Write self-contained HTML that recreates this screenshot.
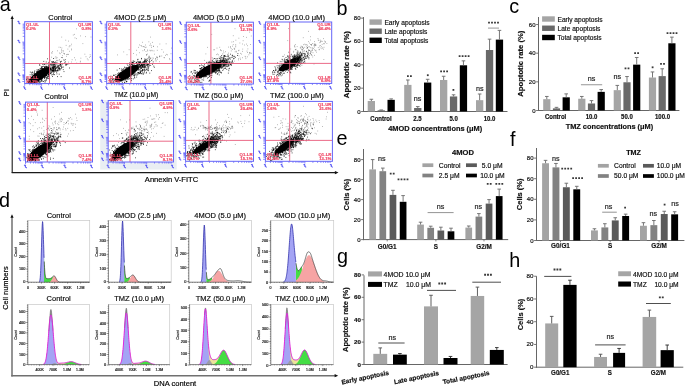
<!DOCTYPE html>
<html><head><meta charset="utf-8"><title>Figure</title>
<style>html,body{margin:0;padding:0;background:#fff;overflow:hidden}svg{display:block;will-change:transform}text{font-family:"Liberation Sans", sans-serif}</style>
</head><body>
<svg width="685" height="386" viewBox="0 0 685 386" font-family='"Liberation Sans", sans-serif'>
<rect width="685" height="386" fill="#fff"/>
<line x1="12.2" y1="17.5" x2="12.2" y2="173" stroke="#1a1a1a" stroke-width="1.1"/>
<path d="M12.2 15.5L10.6 19.1L13.8 19.1z" fill="#111"/>
<line x1="11.7" y1="172.6" x2="336.5" y2="172.6" stroke="#1a1a1a" stroke-width="1.1"/>
<path d="M338.5 172.6L334.9 171L334.9 174.2z" fill="#111"/>
<text x="8.9" y="92.8" font-size="7.8" text-anchor="middle" fill="#000" stroke="#000" stroke-width="0.18" transform="rotate(-90 8.9 92.8)">PI</text>
<text x="171.5" y="181.9" font-size="7.55" text-anchor="middle" fill="#000" stroke="#000" stroke-width="0.18">Annexin V-FITC</text>
<rect x="24.7" y="21.7" width="67.7" height="61.9" fill="#fff"/>
<clipPath id="cp11"><rect x="24.7" y="21.7" width="67.7" height="61.9"/></clipPath>
<ellipse cx="39.5" cy="75.5" rx="13.5" ry="4.4" transform="rotate(-35 39.5 75.5)" fill="#000" clip-path="url(#cp11)"/>
<path d="M44.4 80.7h0.8M47.8 63.6h0.8M53.0 73.2h0.8M34.7 75.9h0.8M36.7 75.3h0.8M35.6 77.4h0.8M41.7 68.0h0.8M42.0 78.8h0.8M46.7 72.3h0.8M51.7 65.7h0.8M36.4 71.4h0.8M44.6 70.4h0.8M40.7 78.3h0.8M33.8 72.4h0.8M42.8 71.3h0.8M46.7 70.9h0.8M40.4 78.9h0.8M41.4 79.5h0.8M44.5 70.0h0.8M31.8 77.7h0.8M42.4 71.9h0.8M34.2 77.8h0.8M36.9 78.3h0.8M30.4 81.0h0.8M36.7 69.7h0.8M46.9 70.1h0.8M36.2 73.4h0.8M44.4 74.8h0.8M45.8 71.5h0.8M37.3 76.1h0.8M39.5 65.2h0.8M49.5 71.2h0.8M41.5 80.5h0.8M32.3 77.5h0.8M44.0 75.0h0.8M43.3 75.6h0.8M45.6 64.8h0.8M37.4 82.3h0.8M33.9 80.2h0.8M42.5 76.4h0.8M41.2 68.0h0.8M34.4 79.3h0.8M52.8 70.3h0.8M44.0 67.2h0.8M46.8 74.3h0.8M42.3 71.7h0.8M43.5 64.2h0.8M29.4 82.0h0.8M42.9 69.0h0.8M45.3 72.6h0.8M44.7 75.9h0.8M36.7 74.4h0.8M46.8 71.7h0.8M35.5 75.8h0.8M39.2 74.2h0.8M44.9 76.4h0.8M33.6 80.4h0.8M43.9 70.7h0.8M36.8 72.2h0.8M46.0 75.5h0.8M37.3 79.8h0.8M47.8 68.2h0.8M45.2 72.4h0.8M36.7 73.2h0.8M43.0 68.8h0.8M48.2 65.9h0.8M54.6 66.2h0.8M45.5 68.2h0.8M45.0 74.5h0.8M40.8 77.6h0.8M32.5 81.0h0.8M51.7 71.0h0.8M29.6 81.1h0.8M44.2 71.6h0.8M51.0 69.2h0.8M39.1 78.8h0.8M27.4 78.7h0.8M44.6 77.5h0.8M50.3 64.6h0.8M55.4 63.5h0.8M36.7 79.8h0.8M47.9 74.6h0.8M54.3 69.3h0.8M44.9 75.0h0.8M31.2 74.9h0.8M40.8 71.3h0.8M39.0 73.8h0.8M36.6 73.6h0.8M36.4 82.0h0.8M43.4 73.4h0.8M42.3 73.3h0.8M40.2 76.8h0.8M36.5 73.6h0.8M28.3 79.5h0.8M34.5 75.3h0.8M50.3 69.8h0.8M39.2 77.0h0.8M52.4 70.6h0.8M41.6 68.4h0.8M55.3 62.0h0.8M40.8 75.1h0.8M33.9 73.9h0.8M27.7 81.4h0.8M52.2 70.5h0.8M62.1 64.0h0.8M35.6 82.4h0.8M35.0 78.6h0.8M44.2 71.2h0.8M35.6 82.4h0.8M37.2 75.5h0.8M37.9 77.8h0.8M44.0 77.5h0.8M47.8 68.0h0.8M39.0 73.2h0.8M47.1 70.0h0.8M37.9 78.9h0.8M43.5 74.5h0.8M43.2 66.3h0.8M33.8 75.9h0.8M44.8 72.3h0.8M42.5 69.5h0.8M47.8 64.2h0.8M44.0 67.3h0.8M46.2 67.0h0.8M38.8 75.1h0.8M32.6 76.0h0.8M34.8 79.6h0.8M39.4 82.2h0.8M30.9 80.8h0.8M38.2 81.4h0.8M39.8 76.3h0.8M39.8 70.6h0.8M36.9 76.2h0.8M40.9 77.5h0.8M39.6 70.7h0.8M50.9 72.7h0.8M45.6 73.4h0.8M31.2 73.0h0.8M35.9 81.1h0.8M58.6 68.2h0.8M44.4 68.7h0.8M56.1 67.7h0.8M53.2 58.5h0.8M34.1 80.1h0.8M39.9 68.4h0.8M44.5 73.8h0.8M41.0 67.1h0.8M39.2 64.9h0.8M42.3 75.0h0.8M45.7 80.2h0.8M27.2 81.6h0.8M40.3 78.1h0.8M34.4 79.4h0.8M40.4 73.4h0.8M37.5 79.2h0.8M47.9 76.1h0.8M44.0 67.2h0.8M43.5 74.8h0.8M43.1 74.2h0.8M38.0 70.6h0.8M39.6 81.8h0.8M42.4 81.2h0.8M34.3 75.1h0.8M46.3 77.6h0.8M40.2 75.1h0.8M44.2 71.4h0.8M47.3 70.8h0.8M34.7 80.0h0.8M40.9 79.6h0.8M37.3 80.5h0.8M39.6 69.6h0.8M32.6 73.9h0.8M31.7 77.1h0.8M50.5 68.3h0.8M38.3 71.9h0.8M30.6 80.9h0.8M37.6 71.5h0.8M52.0 62.5h0.8M43.4 71.9h0.8M46.5 75.3h0.8M26.0 79.1h0.8M42.3 73.3h0.8M47.4 69.0h0.8M44.6 73.9h0.8M42.9 74.9h0.8M46.5 68.6h0.8M41.7 74.8h0.8M41.9 72.2h0.8M39.9 77.0h0.8M44.7 71.3h0.8M31.4 78.4h0.8M46.1 70.6h0.8M36.8 78.7h0.8M41.9 71.7h0.8M53.8 66.6h0.8M50.3 73.7h0.8M32.1 72.2h0.8M42.1 66.5h0.8M34.2 74.3h0.8M38.8 75.4h0.8M45.3 81.1h0.8M43.8 77.2h0.8M31.6 80.0h0.8M29.9 72.1h0.8M33.0 80.6h0.8M44.0 67.0h0.8M55.1 68.9h0.8M36.9 71.0h0.8M50.6 72.1h0.8M40.7 80.4h0.8M39.1 71.2h0.8M45.1 74.9h0.8M34.6 74.4h0.8M44.0 75.7h0.8M42.2 68.6h0.8M34.8 81.9h0.8M37.5 75.0h0.8M36.7 73.7h0.8M37.7 77.6h0.8M44.1 64.5h0.8M52.9 64.9h0.8M36.0 76.2h0.8M46.7 73.0h0.8M44.9 66.5h0.8M48.8 75.7h0.8M47.6 68.5h0.8M34.8 74.0h0.8M48.4 74.7h0.8M58.9 68.5h0.8M45.9 70.1h0.8M33.5 76.0h0.8M44.8 71.7h0.8M48.5 66.3h0.8M42.3 72.1h0.8M38.6 82.3h0.8M52.7 67.7h0.8M30.5 82.2h0.8M44.6 73.2h0.8M39.8 74.9h0.8M51.2 70.7h0.8M42.0 72.1h0.8M31.1 81.6h0.8M49.3 78.2h0.8M37.4 78.5h0.8M42.1 73.6h0.8M42.9 68.6h0.8M42.6 75.9h0.8M38.6 72.3h0.8M42.7 71.1h0.8M39.0 77.0h0.8M48.9 68.2h0.8M39.7 72.1h0.8M41.2 71.9h0.8M43.1 70.4h0.8M33.1 76.9h0.8M50.8 65.1h0.8M46.5 78.7h0.8M36.8 75.0h0.8M45.5 77.2h0.8M38.7 81.2h0.8M41.9 73.1h0.8M32.1 74.8h0.8M43.0 74.7h0.8M52.2 70.4h0.8M36.1 78.0h0.8M40.9 80.0h0.8M35.1 74.2h0.8M43.9 78.0h0.8M31.4 81.7h0.8M42.0 71.3h0.8M67.6 54.4h0.8M44.5 75.8h0.8M34.2 71.9h0.8M41.7 74.2h0.8M30.7 80.8h0.8M42.6 71.1h0.8M36.9 71.3h0.8M54.4 68.4h0.8M32.7 76.3h0.8M40.7 73.0h0.8M61.5 57.5h0.8M32.7 77.2h0.8M34.4 81.9h0.8M40.5 76.2h0.8M38.4 73.4h0.8M44.8 67.8h0.8M40.1 73.0h0.8M35.9 81.7h0.8M41.9 74.2h0.8M61.0 61.3h0.8M49.3 67.2h0.8M39.3 76.4h0.8M29.7 74.8h0.8M47.9 76.0h0.8M37.2 73.8h0.8M54.0 62.9h0.8M49.8 73.5h0.8M47.4 70.7h0.8M41.5 74.1h0.8M38.6 73.6h0.8M39.7 68.9h0.8M50.4 68.4h0.8M46.4 75.3h0.8M35.6 74.5h0.8M52.5 71.7h0.8M39.4 70.9h0.8M38.0 73.4h0.8M34.8 80.7h0.8M35.6 78.1h0.8M36.4 80.3h0.8M46.0 66.7h0.8M40.9 66.9h0.8M36.1 72.9h0.8M46.1 66.4h0.8M40.7 68.8h0.8M43.5 73.8h0.8M34.4 70.9h0.8M48.8 78.8h0.8M50.9 64.0h0.8M51.9 61.6h0.8M53.4 70.6h0.8M41.6 67.9h0.8M38.3 72.1h0.8M49.6 72.8h0.8M38.4 74.8h0.8M40.2 71.6h0.8M45.8 75.8h0.8M33.9 73.7h0.8M42.0 72.1h0.8M41.0 68.8h0.8M43.2 81.5h0.8M45.9 78.2h0.8M41.7 77.6h0.8M45.7 70.5h0.8M45.2 74.0h0.8M31.8 72.3h0.8M35.9 79.0h0.8M51.0 61.9h0.8M36.7 72.0h0.8M46.4 67.7h0.8M42.4 71.9h0.8M36.7 79.6h0.8M35.5 81.0h0.8M41.4 75.1h0.8M40.2 71.0h0.8M46.1 73.5h0.8M29.9 81.6h0.8M37.6 81.4h0.8M37.5 73.0h0.8M47.2 58.8h0.8M47.5 78.4h0.8M36.7 79.2h0.8M43.0 72.1h0.8M37.8 80.1h0.8M43.8 74.4h0.8M53.0 67.7h0.8M41.8 71.7h0.8M43.5 72.8h0.8M43.3 73.5h0.8M32.9 77.4h0.8M42.1 69.0h0.8M38.6 76.5h0.8M35.5 82.0h0.8M40.9 77.0h0.8M39.2 77.6h0.8M46.8 72.3h0.8M44.6 82.2h0.8M36.4 78.6h0.8M53.3 69.9h0.8M51.4 74.9h0.8M50.0 68.2h0.8M45.2 72.4h0.8M41.1 78.4h0.8M39.9 81.8h0.8M38.4 77.4h0.8M48.1 70.8h0.8M41.0 74.6h0.8M26.2 79.8h0.8M41.8 78.2h0.8M28.5 82.0h0.8M38.0 69.5h0.8M30.4 81.2h0.8M26.9 77.2h0.8M39.0 71.6h0.8M39.4 75.5h0.8M47.9 73.8h0.8M45.8 74.2h0.8M54.1 67.5h0.8M57.4 70.5h0.8M60.7 64.8h0.8M57.9 66.3h0.8M54.6 69.1h0.8M53.5 68.7h0.8M52.1 67.7h0.8M56.6 60.4h0.8M52.2 76.5h0.8M53.5 62.6h0.8M52.0 68.1h0.8M55.3 70.4h0.8M52.2 70.8h0.8M65.5 65.4h0.8M50.6 73.1h0.8M56.3 72.3h0.8M55.0 69.2h0.8M60.7 76.6h0.8M54.0 64.6h0.8M55.7 68.6h0.8M57.9 65.3h0.8M44.1 71.1h0.8M53.5 69.9h0.8M48.5 76.7h0.8M53.3 66.1h0.8M45.6 69.7h0.8M48.9 73.7h0.8M53.5 70.8h0.8M63.6 71.6h0.8M57.7 70.8h0.8M55.0 68.9h0.8M60.2 64.4h0.8M48.2 72.0h0.8M41.4 73.7h0.8M48.7 65.7h0.8M51.6 69.7h0.8M59.5 65.3h0.8M64.4 62.8h0.8M45.2 71.0h0.8M69.0 68.0h0.8M62.6 67.2h0.8M59.0 69.8h0.8M54.2 66.1h0.8M64.8 59.6h0.8M53.1 67.9h0.8M50.9 70.9h0.8M53.3 67.5h0.8M45.4 71.8h0.8M57.1 70.8h0.8M52.9 70.2h0.8M53.4 65.0h0.8M54.4 66.7h0.8M46.3 69.6h0.8M60.5 66.2h0.8M45.8 67.8h0.8M57.6 66.1h0.8M45.4 75.2h0.8M55.1 68.1h0.8M47.3 68.1h0.8M52.4 66.9h0.8M49.7 71.0h0.8M41.9 76.0h0.8M48.3 74.4h0.8M53.2 68.3h0.8M54.5 63.2h0.8M47.2 77.2h0.8M42.0 75.3h0.8M48.9 72.5h0.8M52.4 70.5h0.8M48.1 67.3h0.8M48.2 70.0h0.8M58.1 67.6h0.8M59.9 69.8h0.8M57.2 67.3h0.8M43.4 61.4h0.8M53.1 68.0h0.8M52.6 70.6h0.8M47.2 76.7h0.8M58.9 69.0h0.8M57.2 76.6h0.8M52.6 74.7h0.8M62.8 69.6h0.8M58.6 70.0h0.8M55.7 62.4h0.8M60.9 68.6h0.8M57.9 69.0h0.8M45.4 70.5h0.8M51.8 71.8h0.8M59.2 67.7h0.8M48.2 69.4h0.8M53.1 68.5h0.8M54.9 67.1h0.8M61.3 66.0h0.8M59.5 64.3h0.8M58.8 68.4h0.8M49.2 63.4h0.8M57.6 65.8h0.8M53.5 62.3h0.8M51.5 67.8h0.8M61.2 67.2h0.8M55.8 67.8h0.8M48.8 70.5h0.8M60.1 66.0h0.8M54.0 74.6h0.8M54.7 64.0h0.8M46.1 75.6h0.8M50.7 64.2h0.8M47.2 69.9h0.8M48.0 72.0h0.8M41.4 71.1h0.8M65.0 64.2h0.8M53.3 71.7h0.8M52.6 64.6h0.8M59.0 65.9h0.8M51.8 68.1h0.8M53.0 61.5h0.8M45.4 71.8h0.8M52.9 65.9h0.8M52.8 74.3h0.8M54.5 64.9h0.8M56.5 73.9h0.8M44.7 70.8h0.8M45.8 79.8h0.8M48.3 73.3h0.8M57.7 68.5h0.8M56.5 70.5h0.8M56.6 70.8h0.8M44.1 78.6h0.8M41.0 81.3h0.8M49.1 69.5h0.8M49.4 65.9h0.8M45.8 62.0h0.8M54.4 66.9h0.8M53.2 71.8h0.8M47.1 73.2h0.8M48.4 71.6h0.8M53.3 67.5h0.8M52.5 66.8h0.8M52.2 68.3h0.8M65.9 64.5h0.8M49.0 64.1h0.8M54.8 71.0h0.8M45.4 66.9h0.8M50.8 69.4h0.8M54.9 65.7h0.8M55.6 66.4h0.8M50.6 66.1h0.8M53.4 64.3h0.8M53.0 68.1h0.8M41.2 70.3h0.8M64.9 61.8h0.8M56.5 64.8h0.8M51.9 67.4h0.8M42.0 70.0h0.8M42.4 64.4h0.8M60.0 64.7h0.8M38.3 77.0h0.8M49.0 65.0h0.8M57.7 66.8h0.8M52.0 64.8h0.8M57.0 66.9h0.8M52.8 70.4h0.8M66.7 64.4h0.8M48.0 73.0h0.8M44.5 70.2h0.8M55.8 71.1h0.8M60.1 63.9h0.8M53.2 70.2h0.8M59.7 68.5h0.8M49.7 69.4h0.8M44.6 67.9h0.8M61.5 67.4h0.8M59.9 61.5h0.8M60.0 62.3h0.8M49.0 66.6h0.8M48.0 74.6h0.8M46.4 71.4h0.8M48.4 62.4h0.8M57.2 69.8h0.8M58.8 74.2h0.8M47.8 78.3h0.8M53.2 66.7h0.8M53.2 69.2h0.8M54.2 70.4h0.8M54.2 71.9h0.8M51.9 69.6h0.8M54.6 64.0h0.8M54.8 71.0h0.8M55.1 70.3h0.8M47.3 66.5h0.8M54.6 66.8h0.8M52.7 70.1h0.8M41.5 74.3h0.8" stroke="#000" stroke-width="0.8" fill="none"/>
<path d="M71.2 49.9h0.6M68.0 41.1h0.6M68.8 46.8h0.6M66.4 56.3h0.6M50.3 60.1h0.6M69.1 45.8h0.6M74.7 37.9h0.6M76.1 28.8h0.6M63.3 51.0h0.6M66.2 54.5h0.6M76.1 38.6h0.6M72.9 35.0h0.6M67.6 49.1h0.6M70.6 45.8h0.6M59.1 59.6h0.6M71.3 49.0h0.6M55.6 56.7h0.6M63.4 53.3h0.6M58.7 47.2h0.6M62.0 57.7h0.6M44.8 67.8h0.6M58.7 60.3h0.6M69.3 51.3h0.6M62.6 50.8h0.6M59.9 53.7h0.6M65.8 45.4h0.6M65.5 40.2h0.6M71.3 44.2h0.6M56.8 57.7h0.6M61.6 48.0h0.6M62.3 55.6h0.6M56.0 58.1h0.6M51.1 63.8h0.6M61.2 49.8h0.6M51.8 53.1h0.6M85.4 36.6h0.6M64.3 53.5h0.6M61.5 52.5h0.6M59.2 53.0h0.6M80.4 35.9h0.6M54.8 58.0h0.6M61.2 51.0h0.6M52.2 51.6h0.6M64.4 54.1h0.6M60.1 47.4h0.6M68.5 64.2h0.6M68.3 62.1h0.6M74.2 57.7h0.6M52.4 63.4h0.6M85.7 56.7h0.6M80.0 61.2h0.6M80.6 58.2h0.6M86.9 58.8h0.6M63.4 66.9h0.6M36.0 72.9h0.6M76.5 63.1h0.6M87.8 59.9h0.6M84.6 54.2h0.6M66.3 65.2h0.6M71.0 62.0h0.6M75.2 59.9h0.6M50.3 64.0h0.6M63.3 59.6h0.6M63.9 60.5h0.6M90.4 56.4h0.6M63.7 60.4h0.6M89.8 54.7h0.6M71.8 59.7h0.6M52.8 67.3h0.6M60.6 63.5h0.6M79.9 62.0h0.6M66.1 63.8h0.6M57.1 62.3h0.6M51.2 57.2h0.6M51.2 52.9h0.6M61.5 37.1h0.6M57.0 50.8h0.6M90.7 37.0h0.6M82.6 43.6h0.6M89.4 57.3h0.6M74.4 34.4h0.6" stroke="#444" stroke-width="0.6" fill="none"/>
<line x1="49.5" y1="21.7" x2="49.5" y2="83.6" stroke="#e85a7a" stroke-width="0.9"/>
<line x1="24.7" y1="63.5" x2="92.4" y2="63.5" stroke="#e85a7a" stroke-width="0.9"/>
<rect x="24.7" y="21.7" width="67.7" height="61.9" fill="none" stroke="#6464f8" stroke-width="1"/>
<path d="M22.3 81.5h2.4M22.7 79.5h2M22.7 78.4h2M22.7 77.5h2M22.7 76.9h2M22.7 76.4h2M22.7 76.0h2M22.7 75.6h2M22.7 75.2h2M22.3 74.9h2.4M22.7 70.1h2M22.7 67.3h2M22.7 65.2h2M22.7 63.7h2M22.7 62.4h2M22.7 61.3h2M22.7 60.4h2M22.7 59.6h2M22.3 58.8h2.4M22.7 53.8h2M22.7 50.9h2M22.7 48.8h2M22.7 47.2h2M22.7 45.8h2M22.7 44.7h2M22.7 43.7h2M22.7 42.9h2M22.3 42.1h2.4M22.7 36.4h2M22.7 33.1h2M22.7 30.7h2M22.7 28.9h2M22.7 27.4h2M22.7 26.1h2M22.7 25.0h2M22.7 24.1h2M24.7 83.6v2.2M29.8 83.6v1.6M32.8 83.6v1.6M34.9 83.6v1.6M36.5 83.6v1.6M37.9 83.6v1.6M39.0 83.6v1.6M40.0 83.6v1.6M40.9 83.6v1.6M41.6 83.6v2.2M48.6 83.6v1.6M52.6 83.6v1.6M55.5 83.6v1.6M57.7 83.6v1.6M59.5 83.6v1.6M61.1 83.6v1.6M62.4 83.6v1.6M63.6 83.6v1.6M64.6 83.6v2.2M72.7 83.6v1.6M77.4 83.6v1.6M80.7 83.6v1.6M83.3 83.6v1.6M85.5 83.6v1.6M87.2 83.6v1.6M88.8 83.6v1.6M90.2 83.6v1.6" stroke="#6464f8" stroke-width=".7" fill="none"/>
<path d="M17.5 79.9l1 -.3l.6 .8l-.4 .9l1.6 1.2M17.5 73.3l1 -.3l.6 .8l-.4 .9l1.6 1.2M17.5 57.2l1 -.3l.6 .8l-.4 .9l1.6 1.2M17.5 40.5l1 -.3l.6 .8l-.4 .9l1.6 1.2M17.5 21.6l1 -.3l.6 .8l-.4 .9l1.6 1.2M23.2 87.0l1 -.3l.6 .8l-.4 .9l1.6 1.2M40.1 87.0l1 -.3l.6 .8l-.4 .9l1.6 1.2M63.1 87.0l1 -.3l.6 .8l-.4 .9l1.6 1.2M89.9 87.0l1 -.3l.6 .8l-.4 .9l1.6 1.2" stroke="#5a5af5" stroke-width="1.05" fill="none" stroke-linejoin="round"/>
<text x="26" y="26" font-size="4.3" text-anchor="start" fill="#f04a68" font-weight="bold" stroke="#f04a68" stroke-width="0.18">Q1-UL</text>
<text x="26" y="30.1" font-size="4.3" text-anchor="start" fill="#f04a68" font-weight="bold" stroke="#f04a68" stroke-width="0.18">0.2%</text>
<text x="91.4" y="26" font-size="4.3" text-anchor="end" fill="#f04a68" font-weight="bold" stroke="#f04a68" stroke-width="0.18">Q1-UR</text>
<text x="91.4" y="30.1" font-size="4.3" text-anchor="end" fill="#f04a68" font-weight="bold" stroke="#f04a68" stroke-width="0.18">0.8%</text>
<text x="26" y="78.7" font-size="4.3" text-anchor="start" fill="#f04a68" font-weight="bold" stroke="#f04a68" stroke-width="0.18">Q1-LL</text>
<text x="26" y="82.6" font-size="4.3" text-anchor="start" fill="#f04a68" font-weight="bold" stroke="#f04a68" stroke-width="0.18">90.3%</text>
<text x="91.4" y="78.7" font-size="4.3" text-anchor="end" fill="#f04a68" font-weight="bold" stroke="#f04a68" stroke-width="0.18">Q1-LR</text>
<text x="91.4" y="82.6" font-size="4.3" text-anchor="end" fill="#f04a68" font-weight="bold" stroke="#f04a68" stroke-width="0.18">8.7%</text>
<text x="60.3" y="19.5" font-size="7.45" text-anchor="middle" fill="#111" stroke="#111" stroke-width="0.18">Control</text>
<rect x="106.7" y="21.7" width="65.7" height="61.9" fill="#fff"/>
<clipPath id="cp12"><rect x="106.7" y="21.7" width="65.7" height="61.9"/></clipPath>
<ellipse cx="126.5" cy="73.5" rx="14" ry="4.6" transform="rotate(-33 126.5 73.5)" fill="#000" clip-path="url(#cp12)"/>
<path d="M125.9 71.4h0.8M133.4 63.6h0.8M133.8 69.8h0.8M133.9 70.4h0.8M142.5 67.1h0.8M116.8 79.5h0.8M121.5 76.0h0.8M116.5 81.1h0.8M124.3 70.8h0.8M133.8 65.2h0.8M128.0 75.0h0.8M128.7 66.6h0.8M129.7 74.5h0.8M119.8 78.6h0.8M142.7 64.6h0.8M132.3 64.9h0.8M134.7 67.4h0.8M126.0 72.5h0.8M133.3 71.4h0.8M133.3 70.6h0.8M124.2 75.0h0.8M126.5 81.3h0.8M127.1 75.2h0.8M121.4 75.5h0.8M120.9 74.5h0.8M124.6 74.5h0.8M119.8 75.3h0.8M136.6 73.7h0.8M133.3 67.7h0.8M120.5 74.5h0.8M120.4 72.9h0.8M115.2 79.6h0.8M128.3 77.7h0.8M126.6 76.9h0.8M128.5 71.9h0.8M122.8 76.4h0.8M124.3 67.1h0.8M143.8 65.4h0.8M130.1 70.2h0.8M124.9 80.2h0.8M134.7 67.4h0.8M125.1 72.4h0.8M132.5 70.5h0.8M131.0 67.9h0.8M126.3 79.2h0.8M124.9 76.1h0.8M132.3 71.1h0.8M123.2 74.2h0.8M131.7 72.1h0.8M135.6 68.3h0.8M125.9 81.3h0.8M137.5 66.6h0.8M141.4 65.4h0.8M135.3 65.9h0.8M136.2 65.7h0.8M135.7 66.3h0.8M148.5 64.7h0.8M128.8 72.4h0.8M129.0 76.1h0.8M131.7 69.2h0.8M118.8 77.1h0.8M110.5 76.1h0.8M121.3 80.5h0.8M134.2 77.3h0.8M130.7 70.0h0.8M123.2 73.0h0.8M127.1 76.5h0.8M125.1 70.9h0.8M132.2 68.7h0.8M139.8 70.2h0.8M129.4 72.5h0.8M130.1 66.5h0.8M115.2 76.5h0.8M128.9 71.5h0.8M132.1 68.7h0.8M133.0 68.9h0.8M130.5 67.6h0.8M130.7 64.2h0.8M137.5 74.3h0.8M110.7 80.1h0.8M119.3 74.7h0.8M126.4 63.7h0.8M132.4 70.3h0.8M139.7 71.0h0.8M128.1 79.0h0.8M130.3 73.0h0.8M133.5 69.3h0.8M135.4 67.8h0.8M128.2 73.5h0.8M118.9 74.7h0.8M125.1 75.1h0.8M121.6 76.6h0.8M129.5 73.5h0.8M116.7 70.1h0.8M127.0 79.0h0.8M126.7 75.2h0.8M130.3 77.2h0.8M136.2 68.4h0.8M125.3 70.9h0.8M122.4 70.7h0.8M132.6 71.8h0.8M144.5 61.8h0.8M122.4 72.2h0.8M131.3 70.2h0.8M112.7 79.9h0.8M139.8 67.9h0.8M131.8 68.3h0.8M135.9 62.3h0.8M126.4 73.2h0.8M117.2 77.1h0.8M137.3 72.6h0.8M132.5 67.6h0.8M117.2 73.9h0.8M114.5 80.9h0.8M130.3 69.8h0.8M126.1 74.7h0.8M149.3 59.4h0.8M119.8 73.3h0.8M122.4 75.7h0.8M125.8 73.2h0.8M110.7 78.5h0.8M118.4 76.1h0.8M141.1 64.5h0.8M122.8 68.9h0.8M119.7 73.0h0.8M115.3 78.4h0.8M131.6 69.4h0.8M133.4 70.7h0.8M126.4 67.4h0.8M124.2 75.8h0.8M130.6 72.9h0.8M133.0 75.2h0.8M120.3 75.2h0.8M130.3 66.7h0.8M117.1 81.4h0.8M126.7 78.2h0.8M124.6 71.3h0.8M117.9 80.4h0.8M131.3 73.5h0.8M137.5 69.9h0.8M129.9 69.2h0.8M130.0 73.5h0.8M133.8 68.2h0.8M128.5 67.9h0.8M117.9 79.9h0.8M126.0 75.1h0.8M136.0 63.1h0.8M118.3 80.5h0.8M131.3 78.5h0.8M120.9 70.8h0.8M120.8 80.0h0.8M120.3 81.2h0.8M128.0 72.7h0.8M130.3 72.3h0.8M129.1 70.6h0.8M122.8 71.9h0.8M129.7 70.7h0.8M131.3 62.2h0.8M133.3 70.3h0.8M134.7 69.5h0.8M133.0 62.1h0.8M132.2 65.9h0.8M121.0 78.8h0.8M126.5 71.2h0.8M118.7 73.2h0.8M148.1 67.2h0.8M116.7 77.6h0.8M122.8 77.3h0.8M139.5 64.3h0.8M126.7 73.4h0.8M130.5 71.0h0.8M123.0 71.8h0.8M131.0 80.6h0.8M142.7 73.9h0.8M134.2 69.4h0.8M129.6 78.6h0.8M132.8 65.6h0.8M135.5 66.3h0.8M127.2 77.4h0.8M127.0 68.0h0.8M126.6 67.6h0.8M122.0 77.5h0.8M132.8 60.8h0.8M128.8 78.8h0.8M123.2 78.5h0.8M113.3 82.7h0.8M117.6 81.8h0.8M138.0 61.9h0.8M115.6 76.4h0.8M132.2 73.1h0.8M125.7 77.7h0.8M131.5 70.6h0.8M131.9 69.5h0.8M119.4 75.6h0.8M127.2 78.7h0.8M125.0 68.1h0.8M126.3 69.8h0.8M125.7 71.6h0.8M121.5 70.2h0.8M129.7 65.7h0.8M136.1 62.8h0.8M133.5 73.0h0.8M124.2 82.3h0.8M131.0 71.9h0.8M124.4 67.9h0.8M129.7 68.7h0.8M142.2 62.6h0.8M124.7 73.4h0.8M126.2 72.0h0.8M120.5 79.3h0.8M120.9 68.9h0.8M121.1 74.4h0.8M140.8 64.9h0.8M130.9 73.5h0.8M122.8 77.0h0.8M143.2 62.6h0.8M115.6 79.9h0.8M133.0 66.4h0.8M135.7 67.8h0.8M131.5 69.3h0.8M123.5 72.4h0.8M128.3 77.3h0.8M126.4 78.4h0.8M132.9 67.7h0.8M125.1 79.4h0.8M128.8 73.1h0.8M122.4 76.6h0.8M121.9 69.6h0.8M118.0 73.0h0.8M134.8 70.3h0.8M139.3 66.3h0.8M130.3 76.8h0.8M109.9 82.2h0.8M127.5 77.4h0.8M121.4 81.3h0.8M136.6 75.2h0.8M139.7 61.6h0.8M129.1 70.4h0.8M144.7 62.9h0.8M140.3 65.7h0.8M131.0 66.4h0.8M118.8 76.2h0.8M126.4 68.2h0.8M136.6 66.7h0.8M129.1 71.8h0.8M138.5 63.2h0.8M130.7 70.9h0.8M133.1 67.9h0.8M136.1 67.2h0.8M146.4 69.7h0.8M121.9 80.4h0.8M121.0 78.1h0.8M128.1 70.8h0.8M119.4 78.0h0.8M115.4 77.7h0.8M119.6 79.1h0.8M148.7 56.3h0.8M121.5 73.7h0.8M118.8 76.8h0.8M122.2 71.8h0.8M128.4 73.1h0.8M143.6 72.9h0.8M134.7 65.5h0.8M131.4 63.3h0.8M130.1 75.1h0.8M129.0 71.3h0.8M126.3 81.7h0.8M116.0 81.8h0.8M146.7 64.1h0.8M122.5 72.7h0.8M133.3 62.2h0.8M124.8 73.6h0.8M128.3 74.9h0.8M124.8 70.7h0.8M113.2 75.2h0.8M125.9 71.1h0.8M130.1 69.0h0.8M134.0 66.9h0.8M131.8 69.6h0.8M140.8 73.8h0.8M130.2 70.8h0.8M126.7 70.9h0.8M109.1 79.9h0.8M124.6 77.6h0.8M137.6 59.3h0.8M131.4 75.9h0.8M134.3 68.0h0.8M123.0 69.1h0.8M122.3 76.6h0.8M144.5 60.9h0.8M132.9 74.0h0.8M137.3 59.8h0.8M132.4 70.0h0.8M125.1 73.9h0.8M126.2 68.5h0.8M112.9 78.6h0.8M139.0 67.2h0.8M130.8 64.1h0.8M133.5 69.8h0.8M126.5 69.8h0.8M125.9 70.5h0.8M128.8 66.5h0.8M130.7 74.4h0.8M127.1 70.4h0.8M134.1 68.9h0.8M132.1 63.0h0.8M120.8 73.6h0.8M136.1 69.9h0.8M134.3 61.4h0.8M120.8 77.7h0.8M133.9 67.8h0.8M135.2 70.1h0.8M122.6 78.4h0.8M124.3 77.9h0.8M128.2 72.2h0.8M122.0 73.0h0.8M127.5 70.1h0.8M125.0 77.8h0.8M112.4 79.7h0.8M125.6 77.9h0.8M141.6 67.4h0.8M136.6 63.2h0.8M127.0 75.0h0.8M118.6 74.8h0.8M127.5 73.9h0.8M125.6 70.4h0.8M121.9 77.5h0.8M124.4 75.1h0.8M130.2 66.3h0.8M138.7 73.7h0.8M132.1 62.8h0.8M128.7 73.1h0.8M135.8 65.3h0.8M130.7 78.9h0.8M130.5 70.3h0.8M141.5 65.0h0.8M141.5 66.0h0.8M127.5 70.2h0.8M109.9 80.1h0.8M128.8 69.9h0.8M119.5 80.3h0.8M135.5 67.6h0.8M127.9 70.4h0.8M125.0 72.4h0.8M133.6 64.8h0.8M128.8 72.2h0.8M129.3 62.9h0.8M133.5 67.7h0.8M131.9 74.6h0.8M132.9 67.5h0.8M132.3 66.7h0.8M115.5 80.5h0.8M122.9 71.6h0.8M124.5 71.3h0.8M125.1 76.9h0.8M112.4 79.7h0.8M125.9 81.7h0.8M130.8 72.6h0.8M128.4 71.5h0.8M138.5 62.8h0.8M121.4 75.4h0.8M119.0 68.6h0.8M122.6 76.7h0.8M126.0 77.2h0.8M123.0 77.9h0.8M110.4 81.8h0.8M131.0 72.8h0.8M136.5 69.4h0.8M136.1 66.4h0.8M118.5 79.8h0.8M127.3 77.0h0.8M143.3 64.2h0.8M125.3 72.4h0.8M129.9 71.0h0.8M126.0 74.2h0.8M132.3 62.7h0.8M135.3 68.0h0.8M146.2 59.9h0.8M127.0 63.8h0.8M127.5 65.4h0.8M123.7 75.4h0.8M123.6 80.7h0.8M123.5 73.6h0.8M138.2 68.0h0.8M116.8 76.7h0.8M129.8 72.3h0.8M134.4 78.0h0.8M141.8 65.4h0.8M119.2 76.1h0.8M128.4 68.4h0.8M127.7 75.3h0.8M131.4 74.6h0.8M130.8 71.1h0.8M121.4 76.1h0.8M127.0 76.3h0.8M123.0 77.6h0.8M120.8 78.6h0.8M113.8 75.2h0.8M134.5 66.8h0.8M124.4 82.6h0.8M132.6 69.3h0.8M136.3 77.1h0.8M119.4 79.6h0.8M135.3 66.5h0.8M120.3 78.5h0.8M133.4 71.4h0.8M137.9 62.9h0.8M121.5 77.6h0.8M118.4 76.8h0.8M121.9 82.4h0.8M145.4 59.2h0.8M124.1 75.4h0.8M113.5 75.5h0.8M131.2 64.6h0.8M125.3 73.7h0.8M125.0 70.5h0.8M118.0 77.6h0.8M121.9 78.7h0.8M115.5 74.6h0.8M113.0 81.3h0.8M119.1 80.9h0.8M117.7 76.2h0.8M131.2 64.8h0.8M131.5 67.2h0.8M134.3 75.0h0.8M138.9 64.5h0.8M147.2 60.4h0.8M137.3 65.5h0.8M146.8 64.7h0.8M130.9 68.0h0.8M138.5 67.4h0.8M142.1 70.2h0.8M146.0 54.9h0.8M141.3 63.0h0.8M144.6 61.0h0.8M137.7 68.0h0.8M135.5 63.3h0.8M145.9 61.6h0.8M151.2 70.6h0.8M144.6 59.5h0.8M146.4 63.6h0.8M137.5 68.9h0.8M151.3 60.5h0.8M139.1 62.6h0.8M148.4 66.9h0.8M141.2 58.9h0.8M129.0 68.2h0.8M129.1 71.1h0.8M130.3 68.9h0.8M141.4 70.7h0.8M145.6 63.0h0.8M141.4 73.5h0.8M144.5 64.6h0.8M135.5 74.8h0.8M137.2 69.7h0.8M134.7 68.2h0.8M139.7 65.7h0.8M135.2 72.9h0.8M138.5 65.2h0.8M143.1 65.1h0.8M136.2 65.3h0.8M132.0 62.4h0.8M138.2 69.6h0.8M134.2 71.8h0.8M132.5 65.5h0.8M145.0 66.2h0.8M141.4 65.0h0.8M129.2 64.3h0.8M137.0 64.4h0.8M143.3 67.7h0.8M145.8 68.0h0.8M144.0 66.3h0.8M149.4 73.1h0.8M140.2 67.9h0.8M138.7 64.4h0.8M136.4 62.7h0.8M148.1 68.7h0.8M143.9 63.1h0.8M149.1 61.0h0.8M144.8 61.3h0.8M134.3 66.2h0.8M131.4 69.4h0.8M133.1 71.8h0.8M135.9 70.8h0.8M143.8 66.4h0.8M133.7 73.4h0.8M128.2 70.5h0.8M137.4 64.1h0.8M144.3 64.7h0.8M141.1 58.4h0.8M150.3 65.4h0.8M140.5 68.7h0.8M137.7 70.1h0.8M136.6 64.3h0.8M131.9 68.8h0.8M136.3 68.8h0.8M145.4 60.5h0.8M149.7 58.2h0.8M146.5 63.1h0.8M141.7 66.7h0.8M137.6 65.5h0.8M142.7 69.7h0.8M132.9 78.9h0.8M143.9 67.4h0.8M143.8 64.4h0.8M138.6 66.3h0.8M142.3 72.1h0.8M131.0 72.3h0.8M145.0 67.0h0.8M144.5 65.8h0.8M123.9 72.3h0.8M138.9 73.4h0.8M141.3 65.4h0.8M149.2 63.3h0.8M131.9 62.4h0.8M142.8 74.1h0.8M149.0 65.7h0.8M142.3 65.5h0.8M137.5 65.1h0.8M136.5 66.2h0.8M137.5 61.5h0.8M136.2 70.5h0.8M144.1 61.7h0.8M135.8 70.6h0.8M143.7 67.0h0.8M147.9 70.7h0.8M146.9 64.6h0.8M141.1 67.6h0.8M141.0 68.5h0.8M141.1 64.1h0.8M140.4 65.9h0.8M146.8 65.1h0.8M141.5 70.8h0.8M152.0 64.3h0.8M155.3 58.9h0.8M138.7 72.4h0.8M142.1 64.6h0.8M131.9 65.0h0.8M146.9 70.0h0.8M142.7 65.9h0.8M138.6 66.0h0.8M132.9 65.8h0.8M139.9 65.5h0.8M153.9 67.3h0.8M149.1 62.7h0.8M145.8 73.1h0.8M137.1 68.7h0.8M142.0 70.7h0.8M136.1 69.2h0.8M132.3 69.1h0.8M134.6 68.2h0.8M143.3 64.7h0.8M140.2 62.5h0.8M139.5 62.7h0.8M134.9 71.1h0.8M134.5 74.7h0.8M146.1 65.1h0.8M138.4 68.2h0.8M145.5 61.2h0.8M137.9 72.7h0.8M147.2 68.0h0.8M139.9 62.9h0.8M138.1 68.5h0.8M137.5 67.2h0.8M148.6 57.5h0.8M147.8 70.0h0.8M140.6 71.6h0.8M141.7 67.8h0.8M133.9 75.7h0.8M149.0 61.2h0.8M148.4 64.5h0.8M140.1 72.6h0.8M142.4 65.1h0.8M125.7 75.2h0.8M144.2 61.6h0.8M143.9 68.1h0.8M143.5 70.2h0.8M143.4 62.0h0.8M140.7 63.9h0.8M134.8 69.5h0.8M138.5 73.4h0.8M138.4 66.0h0.8M143.9 62.2h0.8M140.1 66.8h0.8M138.2 72.5h0.8M139.8 61.4h0.8M133.1 69.8h0.8M153.4 66.1h0.8M141.7 66.3h0.8M134.3 68.8h0.8M142.2 69.5h0.8M144.2 60.6h0.8M146.1 72.3h0.8M151.9 63.5h0.8M131.7 69.5h0.8M148.9 63.3h0.8M139.8 67.0h0.8M144.4 63.9h0.8M147.6 58.8h0.8M133.1 69.4h0.8M129.7 65.2h0.8M139.9 72.4h0.8M129.3 67.7h0.8M127.9 69.8h0.8M139.3 64.3h0.8M147.4 66.3h0.8M137.1 67.6h0.8M144.9 70.3h0.8M159.4 56.2h0.8M142.1 66.6h0.8M138.3 67.6h0.8M138.6 66.3h0.8M144.0 69.4h0.8M140.3 71.6h0.8M145.8 69.4h0.8M139.2 62.0h0.8M145.6 65.7h0.8M139.2 63.0h0.8M137.9 63.5h0.8M132.3 63.6h0.8M131.1 67.5h0.8M139.4 69.6h0.8M140.0 72.4h0.8M144.2 71.8h0.8M138.3 64.3h0.8M137.0 66.0h0.8M152.8 61.9h0.8M142.0 66.6h0.8M147.0 64.6h0.8M131.9 64.0h0.8M145.3 63.8h0.8M147.3 65.8h0.8M142.9 66.7h0.8M135.0 68.8h0.8M145.9 61.5h0.8M136.0 68.5h0.8M133.9 76.0h0.8M131.9 72.7h0.8M142.0 70.1h0.8M139.8 73.5h0.8M142.8 61.5h0.8M144.7 67.4h0.8M148.2 64.9h0.8M143.9 70.3h0.8M140.3 65.9h0.8M139.8 66.2h0.8" stroke="#000" stroke-width="0.8" fill="none"/>
<path d="M140.7 45.5h0.6M148.6 41.8h0.6M144.9 47.6h0.6M147.3 54.1h0.6M151.6 50.3h0.6M144.2 50.0h0.6M139.1 52.7h0.6M143.3 46.6h0.6M142.6 50.7h0.6M150.1 37.1h0.6M159.6 44.0h0.6M144.0 46.8h0.6M123.5 51.9h0.6M153.3 46.3h0.6M147.4 50.0h0.6M138.0 47.4h0.6M145.7 51.5h0.6M165.8 43.8h0.6M133.4 53.5h0.6M136.2 50.3h0.6M147.5 50.9h0.6M117.2 54.9h0.6M142.7 46.6h0.6M157.3 46.8h0.6M152.1 42.4h0.6M151.3 47.4h0.6M144.4 49.7h0.6M145.8 47.2h0.6M150.4 50.8h0.6M161.6 49.6h0.6M136.0 54.9h0.6M149.6 45.4h0.6M150.9 45.7h0.6M149.6 50.3h0.6M126.7 54.7h0.6M142.3 42.3h0.6M163.1 52.1h0.6M153.7 50.9h0.6M139.1 44.9h0.6M156.9 50.3h0.6M128.8 49.7h0.6M153.2 46.4h0.6M150.4 43.9h0.6M141.0 46.1h0.6M153.1 58.2h0.6M159.4 61.7h0.6M145.9 62.0h0.6M156.5 57.3h0.6M150.3 61.5h0.6M151.9 59.7h0.6M148.3 61.4h0.6M150.4 58.3h0.6M141.2 65.8h0.6M143.6 62.3h0.6M157.0 59.2h0.6M151.8 58.0h0.6M146.6 62.0h0.6M161.5 56.0h0.6M144.2 58.5h0.6M157.1 57.2h0.6M167.4 54.8h0.6M163.7 57.6h0.6M154.9 60.9h0.6M157.3 57.6h0.6M159.0 56.8h0.6M164.2 57.7h0.6M146.8 58.8h0.6M170.7 53.7h0.6M165.3 55.4h0.6M166.0 54.4h0.6M169.2 58.6h0.6M126.6 68.5h0.6M156.3 57.0h0.6M154.3 54.2h0.6M169.6 59.6h0.6M151.8 50.8h0.6M171.0 61.2h0.6M171.2 48.1h0.6M156.4 60.9h0.6M145.2 45.0h0.6" stroke="#444" stroke-width="0.6" fill="none"/>
<line x1="130.8" y1="21.7" x2="130.8" y2="83.6" stroke="#e85a7a" stroke-width="0.9"/>
<line x1="106.7" y1="63.5" x2="172.4" y2="63.5" stroke="#e85a7a" stroke-width="0.9"/>
<rect x="106.7" y="21.7" width="65.7" height="61.9" fill="none" stroke="#6464f8" stroke-width="1"/>
<path d="M104.3 81.5h2.4M104.7 79.5h2M104.7 78.4h2M104.7 77.5h2M104.7 76.9h2M104.7 76.4h2M104.7 76.0h2M104.7 75.6h2M104.7 75.2h2M104.3 74.9h2.4M104.7 70.1h2M104.7 67.3h2M104.7 65.2h2M104.7 63.7h2M104.7 62.4h2M104.7 61.3h2M104.7 60.4h2M104.7 59.6h2M104.3 58.8h2.4M104.7 53.8h2M104.7 50.9h2M104.7 48.8h2M104.7 47.2h2M104.7 45.8h2M104.7 44.7h2M104.7 43.7h2M104.7 42.9h2M104.3 42.1h2.4M104.7 36.4h2M104.7 33.1h2M104.7 30.7h2M104.7 28.9h2M104.7 27.4h2M104.7 26.1h2M104.7 25.0h2M104.7 24.1h2M106.7 83.6v2.2M111.6 83.6v1.6M114.5 83.6v1.6M116.6 83.6v1.6M118.2 83.6v1.6M119.5 83.6v1.6M120.6 83.6v1.6M121.5 83.6v1.6M122.4 83.6v1.6M123.1 83.6v2.2M129.8 83.6v1.6M133.8 83.6v1.6M136.6 83.6v1.6M138.7 83.6v1.6M140.5 83.6v1.6M142.0 83.6v1.6M143.3 83.6v1.6M144.4 83.6v1.6M145.5 83.6v2.2M153.3 83.6v1.6M157.8 83.6v1.6M161.1 83.6v1.6M163.6 83.6v1.6M165.7 83.6v1.6M167.4 83.6v1.6M168.9 83.6v1.6M170.2 83.6v1.6" stroke="#6464f8" stroke-width=".7" fill="none"/>
<path d="M99.5 79.9l1 -.3l.6 .8l-.4 .9l1.6 1.2M99.5 73.3l1 -.3l.6 .8l-.4 .9l1.6 1.2M99.5 57.2l1 -.3l.6 .8l-.4 .9l1.6 1.2M99.5 40.5l1 -.3l.6 .8l-.4 .9l1.6 1.2M99.5 21.6l1 -.3l.6 .8l-.4 .9l1.6 1.2M105.2 87.0l1 -.3l.6 .8l-.4 .9l1.6 1.2M121.6 87.0l1 -.3l.6 .8l-.4 .9l1.6 1.2M144.0 87.0l1 -.3l.6 .8l-.4 .9l1.6 1.2M169.9 87.0l1 -.3l.6 .8l-.4 .9l1.6 1.2" stroke="#5a5af5" stroke-width="1.05" fill="none" stroke-linejoin="round"/>
<text x="108" y="26" font-size="4.3" text-anchor="start" fill="#f04a68" font-weight="bold" stroke="#f04a68" stroke-width="0.18">Q1-UL</text>
<text x="108" y="30.1" font-size="4.3" text-anchor="start" fill="#f04a68" font-weight="bold" stroke="#f04a68" stroke-width="0.18">0.3%</text>
<text x="171.4" y="26" font-size="4.3" text-anchor="end" fill="#f04a68" font-weight="bold" stroke="#f04a68" stroke-width="0.18">Q1-UR</text>
<text x="171.4" y="30.1" font-size="4.3" text-anchor="end" fill="#f04a68" font-weight="bold" stroke="#f04a68" stroke-width="0.18">1.6%</text>
<text x="108" y="78.7" font-size="4.3" text-anchor="start" fill="#f04a68" font-weight="bold" stroke="#f04a68" stroke-width="0.18">Q1-LL</text>
<text x="108" y="82.6" font-size="4.3" text-anchor="start" fill="#f04a68" font-weight="bold" stroke="#f04a68" stroke-width="0.18">76.7%</text>
<text x="171.4" y="78.7" font-size="4.3" text-anchor="end" fill="#f04a68" font-weight="bold" stroke="#f04a68" stroke-width="0.18">Q1-LR</text>
<text x="171.4" y="82.6" font-size="4.3" text-anchor="end" fill="#f04a68" font-weight="bold" stroke="#f04a68" stroke-width="0.18">21.4%</text>
<text x="140.2" y="19.5" font-size="7.55" text-anchor="middle" fill="#111" stroke="#111" stroke-width="0.18">4MOD (2.5 μM)</text>
<rect x="186.3" y="22.2" width="67.1" height="61.8" fill="#fff"/>
<clipPath id="cp13"><rect x="186.3" y="22.2" width="67.1" height="61.8"/></clipPath>
<ellipse cx="208.5" cy="70" rx="14.5" ry="4.4" transform="rotate(-29 208.5 70)" fill="#000" clip-path="url(#cp13)"/>
<path d="M223.8 56.1h0.8M217.8 65.1h0.8M209.2 69.7h0.8M219.9 60.6h0.8M215.0 73.0h0.8M228.6 64.8h0.8M209.3 70.8h0.8M203.3 72.4h0.8M214.5 67.7h0.8M215.5 72.9h0.8M209.8 80.5h0.8M206.1 71.4h0.8M214.7 64.9h0.8M212.2 60.7h0.8M208.5 81.2h0.8M203.1 68.6h0.8M192.6 82.3h0.8M225.5 62.6h0.8M208.6 75.3h0.8M219.9 60.2h0.8M209.8 62.8h0.8M227.5 60.1h0.8M224.0 63.1h0.8M213.5 71.8h0.8M219.9 56.9h0.8M198.6 73.7h0.8M220.2 62.5h0.8M192.0 73.8h0.8M211.5 67.7h0.8M220.1 66.8h0.8M210.6 68.7h0.8M202.5 67.6h0.8M201.3 75.4h0.8M206.7 74.5h0.8M219.5 66.0h0.8M218.4 67.7h0.8M203.2 66.3h0.8M197.3 78.1h0.8M216.0 68.3h0.8M193.9 76.6h0.8M203.3 72.7h0.8M200.1 71.6h0.8M217.8 69.8h0.8M210.3 67.8h0.8M211.3 64.7h0.8M211.4 69.1h0.8M202.2 74.0h0.8M214.8 69.2h0.8M220.7 59.9h0.8M207.0 68.1h0.8M215.3 67.8h0.8M211.1 77.5h0.8M219.2 66.0h0.8M212.6 62.3h0.8M217.2 65.9h0.8M210.5 65.8h0.8M221.1 55.6h0.8M203.9 69.8h0.8M204.3 70.0h0.8M203.5 74.4h0.8M216.6 70.8h0.8M204.5 76.8h0.8M203.7 75.9h0.8M214.8 64.8h0.8M220.0 64.3h0.8M214.0 66.8h0.8M198.2 73.1h0.8M197.2 74.0h0.8M199.4 81.0h0.8M205.6 74.0h0.8M225.2 58.9h0.8M205.8 72.2h0.8M201.7 74.4h0.8M215.6 66.9h0.8M210.5 72.1h0.8M210.3 70.5h0.8M201.6 73.1h0.8M207.6 68.5h0.8M209.8 62.4h0.8M189.4 78.9h0.8M195.0 82.1h0.8M219.3 64.9h0.8M215.5 63.5h0.8M203.2 72.0h0.8M197.2 72.8h0.8M207.2 71.9h0.8M200.4 82.5h0.8M208.3 77.4h0.8M226.4 64.9h0.8M211.1 71.7h0.8M219.3 63.1h0.8M204.3 67.4h0.8M212.1 68.1h0.8M221.1 61.3h0.8M197.1 79.7h0.8M205.4 72.4h0.8M206.0 69.1h0.8M212.0 69.9h0.8M228.4 70.7h0.8M213.6 63.6h0.8M196.0 81.5h0.8M206.9 73.3h0.8M199.8 74.5h0.8M198.4 72.6h0.8M228.0 59.3h0.8M198.7 76.4h0.8M212.1 71.1h0.8M202.8 76.0h0.8M217.4 66.4h0.8M210.8 66.1h0.8M210.3 70.3h0.8M207.0 69.0h0.8M217.7 60.8h0.8M201.1 77.8h0.8M200.4 71.9h0.8M195.7 72.3h0.8M221.5 63.2h0.8M202.4 65.7h0.8M198.4 75.4h0.8M205.2 73.6h0.8M231.9 55.4h0.8M207.9 71.3h0.8M220.4 72.1h0.8M215.4 71.9h0.8M210.0 73.0h0.8M202.9 75.6h0.8M204.4 70.2h0.8M204.9 71.5h0.8M233.5 56.3h0.8M217.6 65.4h0.8M208.3 66.9h0.8M209.3 76.0h0.8M199.1 71.0h0.8M218.3 66.1h0.8M208.5 74.2h0.8M213.1 67.4h0.8M194.0 75.4h0.8M212.2 68.1h0.8M231.0 65.3h0.8M206.8 73.5h0.8M215.7 64.8h0.8M209.8 71.6h0.8M218.8 63.5h0.8M215.6 58.6h0.8M209.5 70.4h0.8M204.9 76.2h0.8M213.2 72.0h0.8M208.8 69.6h0.8M200.2 69.0h0.8M214.9 71.2h0.8M212.4 67.2h0.8M201.2 77.0h0.8M209.3 74.1h0.8M237.2 55.5h0.8M216.3 65.5h0.8M208.4 67.5h0.8M231.9 55.3h0.8M204.2 72.5h0.8M190.8 81.3h0.8M190.6 72.1h0.8M209.3 65.5h0.8M217.8 64.7h0.8M218.3 62.4h0.8M194.7 73.0h0.8M212.1 70.7h0.8M215.7 72.5h0.8M210.9 64.6h0.8M210.5 73.4h0.8M207.7 64.6h0.8M197.7 76.5h0.8M207.7 62.3h0.8M218.7 66.2h0.8M217.4 65.1h0.8M233.8 56.4h0.8M221.0 67.9h0.8M216.5 67.9h0.8M224.4 61.0h0.8M209.4 66.1h0.8M196.1 77.0h0.8M220.0 61.8h0.8M216.4 71.4h0.8M218.1 68.1h0.8M205.7 72.6h0.8M212.8 70.0h0.8M224.1 55.5h0.8M211.9 68.4h0.8M194.8 70.7h0.8M203.2 70.2h0.8M222.4 63.6h0.8M198.6 76.9h0.8M195.6 77.2h0.8M216.1 65.6h0.8M211.7 73.7h0.8M203.3 77.9h0.8M193.6 72.2h0.8M207.5 70.8h0.8M209.1 74.6h0.8M202.5 72.1h0.8M206.4 71.8h0.8M200.0 72.0h0.8M223.7 56.5h0.8M208.9 67.9h0.8M198.3 74.7h0.8M212.7 61.6h0.8M204.1 67.4h0.8M211.6 67.4h0.8M212.7 65.5h0.8M211.2 70.3h0.8M216.1 61.2h0.8M196.1 79.2h0.8M218.4 66.3h0.8M206.3 71.1h0.8M213.0 69.5h0.8M223.1 61.0h0.8M218.8 63.0h0.8M227.3 58.9h0.8M199.0 74.5h0.8M218.9 66.8h0.8M194.6 70.6h0.8M207.6 72.6h0.8M223.6 58.5h0.8M216.0 63.8h0.8M199.1 74.9h0.8M213.0 67.8h0.8M216.7 70.2h0.8M208.6 68.7h0.8M210.2 75.3h0.8M209.7 68.9h0.8M194.6 79.0h0.8M210.6 70.9h0.8M197.8 72.6h0.8M210.1 64.0h0.8M212.6 67.6h0.8M200.8 76.4h0.8M215.6 68.9h0.8M211.1 66.6h0.8M210.9 75.2h0.8M215.1 65.4h0.8M204.1 69.2h0.8M207.6 74.7h0.8M211.2 73.0h0.8M206.2 67.2h0.8M220.8 66.2h0.8M205.5 71.6h0.8M205.6 76.7h0.8M211.9 70.8h0.8M209.4 72.1h0.8M216.1 62.4h0.8M211.8 69.5h0.8M195.6 73.0h0.8M223.4 62.6h0.8M224.0 63.6h0.8M209.4 70.4h0.8M193.9 79.9h0.8M228.5 58.1h0.8M211.0 68.9h0.8M204.2 64.8h0.8M209.1 67.0h0.8M198.5 80.1h0.8M207.0 78.1h0.8M218.9 66.0h0.8M199.0 65.8h0.8M196.8 82.0h0.8M208.6 72.3h0.8M208.3 69.5h0.8M207.7 73.6h0.8M201.1 76.5h0.8M210.9 64.1h0.8M204.3 67.3h0.8M198.2 80.1h0.8M206.0 62.4h0.8M208.5 72.6h0.8M209.7 70.8h0.8M193.0 82.7h0.8M203.3 80.1h0.8M214.5 72.3h0.8M219.4 70.4h0.8M212.6 71.3h0.8M210.3 71.3h0.8M216.8 70.0h0.8M217.5 65.3h0.8M223.5 58.3h0.8M212.5 67.8h0.8M200.0 68.6h0.8M211.9 66.2h0.8M209.7 71.7h0.8M203.7 72.2h0.8M207.1 68.7h0.8M210.1 62.3h0.8M208.0 68.4h0.8M193.1 75.7h0.8M205.0 72.2h0.8M200.9 74.8h0.8M208.1 70.2h0.8M208.7 62.5h0.8M201.7 79.8h0.8M216.3 67.7h0.8M221.0 63.3h0.8M205.4 70.7h0.8M216.3 67.6h0.8M196.4 81.9h0.8M204.3 74.9h0.8M215.8 61.5h0.8M189.4 75.7h0.8M199.6 65.6h0.8M200.1 75.3h0.8M220.8 66.2h0.8M221.6 67.7h0.8M202.7 73.8h0.8M211.1 71.9h0.8M217.5 67.1h0.8M211.6 67.8h0.8M220.1 60.9h0.8M213.8 71.7h0.8M201.2 65.0h0.8M200.4 71.3h0.8M208.7 72.3h0.8M215.2 64.0h0.8M211.6 71.3h0.8M203.1 72.1h0.8M210.9 64.5h0.8M206.5 69.0h0.8M199.4 68.6h0.8M199.1 76.3h0.8M211.6 72.4h0.8M210.7 70.5h0.8M226.3 60.5h0.8M206.3 76.4h0.8M221.9 57.9h0.8M212.8 69.8h0.8M219.8 63.8h0.8M198.9 73.4h0.8M201.0 76.4h0.8M203.5 68.1h0.8M216.9 64.8h0.8M210.7 70.1h0.8M213.7 62.4h0.8M211.1 67.6h0.8M219.3 66.1h0.8M212.0 71.9h0.8M201.8 69.9h0.8M215.0 70.0h0.8M208.9 68.6h0.8M225.5 61.0h0.8M206.0 69.2h0.8M210.9 71.8h0.8M204.3 69.5h0.8M220.1 64.7h0.8M217.6 66.5h0.8M216.0 68.8h0.8M194.7 73.5h0.8M195.2 80.4h0.8M211.1 68.7h0.8M217.9 70.6h0.8M222.1 61.0h0.8M190.3 77.8h0.8M206.8 70.7h0.8M191.7 78.0h0.8M199.0 74.6h0.8M204.2 67.3h0.8M214.2 58.5h0.8M200.9 68.3h0.8M200.6 72.0h0.8M206.1 73.0h0.8M220.1 62.3h0.8M230.1 54.2h0.8M193.4 77.7h0.8M206.0 71.6h0.8M209.0 80.7h0.8M221.9 67.7h0.8M213.0 68.2h0.8M220.8 57.3h0.8M198.4 74.8h0.8M208.1 69.0h0.8M205.0 74.1h0.8M201.5 82.3h0.8M206.9 70.6h0.8M193.7 70.3h0.8M229.2 58.0h0.8M209.7 62.6h0.8M200.1 78.0h0.8M204.5 76.6h0.8M225.7 61.8h0.8M201.4 68.0h0.8M214.9 65.7h0.8M216.2 70.6h0.8M217.3 61.1h0.8M213.6 64.8h0.8M206.9 71.9h0.8M203.6 74.7h0.8M191.5 79.7h0.8M208.6 71.3h0.8M210.2 69.9h0.8M204.0 70.1h0.8M207.0 70.5h0.8M197.3 77.3h0.8M227.5 55.1h0.8M204.0 73.3h0.8M198.7 75.8h0.8M203.5 74.6h0.8M207.5 72.0h0.8M213.9 62.8h0.8M213.9 68.0h0.8M202.3 72.8h0.8M206.9 71.3h0.8M217.3 62.8h0.8M213.7 62.0h0.8M202.4 74.4h0.8M207.4 70.1h0.8M227.6 61.9h0.8M223.5 66.1h0.8M218.7 68.7h0.8M210.3 73.0h0.8M216.2 61.9h0.8M208.8 61.4h0.8M202.2 71.0h0.8M196.8 71.6h0.8M211.3 63.1h0.8M213.3 69.9h0.8M217.4 58.6h0.8M205.4 75.3h0.8M223.9 65.8h0.8M209.5 80.0h0.8M222.4 66.4h0.8M217.3 73.5h0.8M201.9 71.1h0.8M198.3 72.9h0.8M209.0 73.6h0.8M203.8 67.3h0.8M219.5 68.4h0.8M201.4 72.8h0.8M191.0 71.8h0.8M211.5 75.7h0.8M225.1 56.3h0.8M228.5 68.9h0.8M200.0 68.8h0.8M204.5 68.8h0.8M212.0 68.9h0.8M202.2 73.5h0.8M203.5 66.4h0.8M206.1 71.8h0.8M198.7 76.1h0.8M203.3 74.6h0.8M201.1 67.6h0.8M209.8 66.9h0.8M197.0 75.9h0.8M210.9 71.9h0.8M199.4 75.7h0.8M200.1 73.2h0.8M197.0 74.7h0.8M249.6 53.0h0.8M219.2 60.8h0.8M222.0 63.7h0.8M212.7 59.0h0.8M209.1 76.4h0.8M209.9 71.0h0.8M208.3 63.0h0.8M213.9 69.4h0.8M216.6 71.0h0.8M224.6 64.3h0.8M204.6 75.5h0.8M213.8 64.1h0.8M204.6 71.1h0.8M206.4 69.7h0.8M223.0 62.3h0.8M208.6 65.8h0.8M228.0 64.7h0.8M207.9 69.8h0.8M209.0 65.4h0.8M197.9 75.0h0.8M190.0 81.7h0.8M204.6 72.3h0.8M211.0 73.0h0.8M204.6 70.7h0.8M218.3 67.2h0.8M224.3 61.9h0.8M229.4 61.9h0.8M215.7 64.2h0.8M210.9 62.5h0.8M219.0 66.7h0.8M219.0 58.5h0.8M216.1 66.0h0.8M224.8 68.0h0.8M218.1 68.2h0.8M225.5 58.8h0.8M216.4 69.0h0.8M217.2 66.9h0.8M221.2 61.4h0.8M225.5 62.1h0.8M226.3 60.2h0.8M217.7 64.8h0.8M222.4 64.9h0.8M222.9 58.2h0.8M230.8 63.0h0.8M219.6 72.0h0.8M214.9 66.6h0.8M223.3 60.0h0.8M220.0 63.4h0.8M230.9 64.3h0.8M221.4 62.5h0.8M224.3 64.6h0.8M220.6 72.6h0.8M222.5 61.2h0.8M228.7 61.3h0.8M219.8 63.0h0.8M214.9 65.9h0.8M226.9 62.2h0.8M219.2 62.6h0.8M222.8 65.2h0.8M218.2 66.3h0.8M228.6 65.1h0.8M218.7 67.9h0.8M219.7 66.3h0.8M223.9 68.4h0.8M220.5 64.0h0.8M210.4 71.4h0.8M223.6 61.1h0.8M217.4 71.1h0.8M222.4 61.4h0.8M221.0 67.9h0.8M220.3 62.3h0.8M218.2 66.6h0.8M214.7 63.6h0.8M221.7 61.6h0.8M221.9 60.9h0.8M228.0 63.0h0.8M225.6 64.4h0.8M219.1 68.1h0.8M228.9 62.5h0.8M233.8 58.2h0.8M226.7 64.4h0.8M222.9 69.2h0.8M216.2 65.5h0.8M221.5 61.9h0.8M214.8 69.4h0.8M229.0 68.3h0.8M219.8 65.0h0.8M218.4 64.8h0.8M222.1 60.8h0.8M214.2 65.3h0.8M211.2 65.9h0.8M218.3 62.6h0.8M230.0 64.4h0.8M219.0 70.1h0.8M226.9 62.5h0.8M212.0 69.2h0.8M222.7 66.9h0.8M224.8 63.2h0.8M231.9 60.4h0.8M213.1 70.4h0.8M221.6 64.5h0.8M218.7 70.4h0.8M227.9 73.1h0.8M219.0 65.8h0.8M222.9 65.0h0.8M216.8 63.9h0.8M218.4 64.5h0.8M224.3 63.7h0.8M230.7 62.0h0.8M222.9 63.4h0.8M221.1 60.7h0.8M220.0 66.7h0.8M229.9 59.1h0.8M211.9 70.4h0.8M210.8 68.7h0.8M217.6 66.0h0.8M224.3 63.2h0.8M224.4 56.0h0.8M226.7 66.7h0.8M224.9 60.0h0.8M223.4 65.1h0.8M220.1 67.2h0.8M215.5 65.4h0.8M222.7 59.4h0.8M217.6 68.5h0.8M223.1 60.7h0.8M225.9 62.4h0.8M219.2 67.3h0.8M218.9 64.2h0.8M216.8 60.8h0.8M224.8 60.8h0.8M223.5 65.5h0.8M217.3 63.7h0.8M224.6 66.3h0.8M228.2 56.3h0.8M222.3 60.9h0.8M220.4 59.0h0.8M218.5 62.6h0.8M218.8 71.0h0.8M222.7 66.0h0.8M221.9 63.4h0.8M219.4 63.2h0.8M229.9 64.8h0.8M220.5 64.5h0.8M219.8 61.8h0.8M225.0 68.3h0.8M223.1 59.2h0.8M212.4 69.2h0.8M224.2 65.5h0.8M230.0 64.0h0.8M218.4 72.7h0.8M225.1 65.7h0.8M218.2 63.4h0.8M218.0 70.0h0.8M223.7 64.5h0.8M219.8 60.9h0.8M209.2 66.1h0.8M217.6 63.3h0.8M223.5 55.9h0.8M219.3 66.9h0.8M218.6 67.6h0.8M220.5 66.5h0.8M218.4 62.8h0.8M225.9 62.2h0.8M218.8 69.7h0.8M216.0 68.1h0.8M224.0 62.7h0.8M226.3 59.6h0.8M225.6 62.3h0.8M228.1 65.8h0.8M218.4 65.8h0.8M216.9 74.4h0.8M221.2 72.9h0.8M222.7 66.3h0.8M210.6 63.5h0.8M219.9 64.1h0.8M226.7 66.4h0.8M217.4 64.2h0.8M231.8 57.3h0.8M226.0 62.4h0.8M218.8 74.9h0.8M215.2 65.5h0.8M215.6 60.1h0.8M226.1 63.2h0.8M225.0 64.1h0.8M219.8 67.6h0.8M222.9 63.9h0.8M226.7 63.2h0.8M224.1 61.5h0.8M214.5 70.8h0.8M216.0 66.6h0.8M217.6 67.8h0.8M211.6 66.1h0.8M228.4 66.1h0.8M218.7 66.3h0.8M217.8 64.4h0.8M217.4 66.2h0.8M222.1 60.1h0.8M224.2 60.9h0.8M226.6 64.9h0.8M229.4 62.9h0.8M217.9 68.8h0.8M231.7 62.2h0.8M235.0 57.3h0.8M219.2 65.6h0.8M222.4 70.5h0.8M225.1 62.3h0.8M226.6 56.6h0.8M220.4 64.7h0.8M217.0 64.8h0.8M233.1 58.7h0.8M219.2 65.3h0.8M205.7 67.6h0.8M225.4 63.9h0.8M227.1 61.1h0.8M232.0 61.6h0.8M230.6 57.6h0.8M237.5 53.6h0.8M218.3 64.0h0.8M218.7 71.1h0.8M211.6 62.2h0.8M232.7 63.0h0.8M219.5 64.8h0.8M214.2 71.3h0.8M210.2 67.8h0.8M223.1 64.7h0.8M220.0 66.0h0.8M226.4 69.3h0.8M217.0 65.6h0.8M218.2 66.4h0.8M223.5 60.5h0.8M221.2 65.2h0.8M224.1 60.3h0.8M221.0 63.8h0.8M220.8 65.7h0.8M224.6 64.6h0.8M218.9 62.0h0.8M221.7 60.8h0.8M225.8 66.2h0.8M218.4 63.6h0.8M221.5 64.7h0.8M222.1 62.8h0.8M223.5 57.6h0.8M223.0 63.0h0.8M223.1 62.9h0.8" stroke="#000" stroke-width="0.8" fill="none"/>
<path d="M250.3 44.5h0.6M205.6 53.9h0.6M223.6 52.8h0.6M238.0 50.7h0.6M224.8 55.3h0.6M207.1 63.3h0.6M233.3 41.7h0.6M230.8 48.5h0.6M216.7 48.1h0.6M218.3 54.8h0.6M222.8 55.3h0.6M230.2 47.1h0.6M228.4 53.1h0.6M222.4 53.9h0.6M234.8 51.8h0.6M239.6 43.0h0.6M219.5 47.3h0.6M243.1 36.5h0.6M228.0 47.1h0.6M235.5 46.9h0.6M233.8 48.3h0.6M232.9 44.6h0.6M231.9 49.5h0.6M204.0 60.4h0.6M220.5 58.2h0.6M235.6 40.2h0.6M220.6 60.9h0.6M230.9 50.9h0.6M211.8 57.6h0.6M220.3 49.7h0.6M246.4 44.1h0.6M230.4 46.8h0.6M221.3 58.0h0.6M226.2 61.4h0.6M211.6 60.8h0.6M234.4 49.1h0.6M227.6 54.3h0.6M235.5 44.6h0.6M241.4 54.1h0.6M225.4 51.7h0.6M220.3 59.1h0.6M216.9 59.1h0.6M223.4 51.0h0.6M231.9 56.4h0.6M244.1 45.0h0.6M217.4 54.0h0.6M232.2 46.2h0.6M213.8 49.6h0.6M220.5 50.4h0.6M238.7 50.3h0.6M236.0 51.9h0.6M221.3 50.7h0.6M223.3 57.5h0.6M242.5 49.1h0.6M228.6 55.6h0.6M228.2 58.2h0.6M213.7 49.9h0.6M246.3 37.4h0.6M235.8 51.2h0.6M250.9 36.0h0.6M234.5 49.0h0.6M227.4 56.7h0.6M231.6 42.0h0.6M242.8 40.7h0.6M216.1 54.6h0.6M242.3 44.0h0.6M238.6 38.2h0.6M247.0 45.7h0.6M238.7 55.8h0.6M242.1 57.7h0.6M248.6 54.8h0.6M219.9 59.0h0.6M233.6 58.8h0.6M247.6 48.9h0.6M247.0 56.8h0.6M249.0 52.7h0.6M245.6 58.6h0.6M240.4 53.4h0.6M240.4 59.4h0.6M244.8 56.4h0.6M226.9 65.8h0.6M224.0 59.5h0.6M229.3 58.9h0.6M242.3 51.4h0.6M251.3 53.3h0.6M247.2 52.5h0.6M239.8 58.1h0.6M238.4 59.9h0.6M246.7 51.1h0.6M234.3 61.1h0.6M245.5 57.0h0.6M238.1 58.7h0.6M249.2 32.1h0.6M221.6 57.8h0.6M226.9 59.7h0.6M234.7 28.7h0.6M232.9 35.7h0.6M235.5 46.0h0.6M218.8 57.3h0.6M207.2 47.4h0.6M211.5 34.4h0.6" stroke="#444" stroke-width="0.6" fill="none"/>
<line x1="210.9" y1="22.2" x2="210.9" y2="84" stroke="#e85a7a" stroke-width="0.9"/>
<line x1="186.3" y1="63.5" x2="253.4" y2="63.5" stroke="#e85a7a" stroke-width="0.9"/>
<rect x="186.3" y="22.2" width="67.1" height="61.8" fill="none" stroke="#6464f8" stroke-width="1"/>
<path d="M183.9 81.9h2.4M184.3 79.9h2M184.3 78.8h2M184.3 78.0h2M184.3 77.3h2M184.3 76.8h2M184.3 76.4h2M184.3 76.0h2M184.3 75.6h2M183.9 75.3h2.4M184.3 70.5h2M184.3 67.7h2M184.3 65.7h2M184.3 64.1h2M184.3 62.8h2M184.3 61.8h2M184.3 60.8h2M184.3 60.0h2M183.9 59.3h2.4M184.3 54.3h2M184.3 51.3h2M184.3 49.2h2M184.3 47.6h2M184.3 46.3h2M184.3 45.2h2M184.3 44.2h2M184.3 43.4h2M183.9 42.6h2.4M184.3 36.9h2M184.3 33.6h2M184.3 31.2h2M184.3 29.4h2M184.3 27.9h2M184.3 26.6h2M184.3 25.5h2M184.3 24.5h2M186.3 84.0v2.2M191.3 84.0v1.6M194.3 84.0v1.6M196.4 84.0v1.6M198.0 84.0v1.6M199.4 84.0v1.6M200.5 84.0v1.6M201.4 84.0v1.6M202.3 84.0v1.6M203.1 84.0v2.2M209.9 84.0v1.6M214.0 84.0v1.6M216.8 84.0v1.6M219.0 84.0v1.6M220.8 84.0v1.6M222.4 84.0v1.6M223.7 84.0v1.6M224.8 84.0v1.6M225.9 84.0v2.2M233.9 84.0v1.6M238.5 84.0v1.6M241.8 84.0v1.6M244.4 84.0v1.6M246.5 84.0v1.6M248.3 84.0v1.6M249.8 84.0v1.6M251.2 84.0v1.6" stroke="#6464f8" stroke-width=".7" fill="none"/>
<path d="M179.1 80.3l1 -.3l.6 .8l-.4 .9l1.6 1.2M179.1 73.7l1 -.3l.6 .8l-.4 .9l1.6 1.2M179.1 57.7l1 -.3l.6 .8l-.4 .9l1.6 1.2M179.1 41.0l1 -.3l.6 .8l-.4 .9l1.6 1.2M179.1 22.1l1 -.3l.6 .8l-.4 .9l1.6 1.2M184.8 87.4l1 -.3l.6 .8l-.4 .9l1.6 1.2M201.6 87.4l1 -.3l.6 .8l-.4 .9l1.6 1.2M224.4 87.4l1 -.3l.6 .8l-.4 .9l1.6 1.2M250.9 87.4l1 -.3l.6 .8l-.4 .9l1.6 1.2" stroke="#5a5af5" stroke-width="1.05" fill="none" stroke-linejoin="round"/>
<text x="187.6" y="26.5" font-size="4.3" text-anchor="start" fill="#f04a68" font-weight="bold" stroke="#f04a68" stroke-width="0.18">Q1-UL</text>
<text x="187.6" y="30.6" font-size="4.3" text-anchor="start" fill="#f04a68" font-weight="bold" stroke="#f04a68" stroke-width="0.18">0.6%</text>
<text x="252.4" y="26.5" font-size="4.3" text-anchor="end" fill="#f04a68" font-weight="bold" stroke="#f04a68" stroke-width="0.18">Q1-UR</text>
<text x="252.4" y="30.6" font-size="4.3" text-anchor="end" fill="#f04a68" font-weight="bold" stroke="#f04a68" stroke-width="0.18">12.1%</text>
<text x="187.6" y="79.1" font-size="4.3" text-anchor="start" fill="#f04a68" font-weight="bold" stroke="#f04a68" stroke-width="0.18">Q1-LL</text>
<text x="187.6" y="83" font-size="4.3" text-anchor="start" fill="#f04a68" font-weight="bold" stroke="#f04a68" stroke-width="0.18">60.2%</text>
<text x="252.4" y="79.1" font-size="4.3" text-anchor="end" fill="#f04a68" font-weight="bold" stroke="#f04a68" stroke-width="0.18">Q1-LR</text>
<text x="252.4" y="83" font-size="4.3" text-anchor="end" fill="#f04a68" font-weight="bold" stroke="#f04a68" stroke-width="0.18">27.0%</text>
<text x="218.6" y="19.5" font-size="7.45" text-anchor="middle" fill="#111" stroke="#111" stroke-width="0.18">4MOD (5.0 μM)</text>
<rect x="265.5" y="22" width="66.2" height="61.4" fill="#fff"/>
<clipPath id="cp14"><rect x="265.5" y="22" width="66.2" height="61.4"/></clipPath>
<ellipse cx="289" cy="64.5" rx="11.5" ry="3.7" transform="rotate(-31 289 64.5)" fill="#000" clip-path="url(#cp14)"/>
<path d="M294.5 61.6h0.8M279.5 65.7h0.8M277.8 73.3h0.8M268.4 81.3h0.8M284.3 62.9h0.8M298.0 57.7h0.8M290.3 66.1h0.8M295.8 66.9h0.8M298.5 62.4h0.8M283.4 70.5h0.8M308.2 50.1h0.8M282.3 68.7h0.8M292.1 63.2h0.8M309.3 50.4h0.8M288.8 66.2h0.8M289.5 63.3h0.8M284.4 65.8h0.8M294.9 68.5h0.8M272.4 74.0h0.8M286.9 72.4h0.8M301.5 55.8h0.8M290.6 63.4h0.8M285.3 62.5h0.8M291.0 61.4h0.8M294.7 66.7h0.8M290.2 63.9h0.8M290.4 56.8h0.8M278.4 75.9h0.8M292.2 59.5h0.8M283.2 66.6h0.8M295.0 60.8h0.8M286.0 59.8h0.8M283.7 73.1h0.8M290.4 68.1h0.8M280.7 68.3h0.8M297.4 60.7h0.8M288.3 63.9h0.8M294.7 59.0h0.8M280.0 69.1h0.8M299.3 53.3h0.8M286.1 64.9h0.8M298.7 56.7h0.8M298.5 65.4h0.8M278.3 65.9h0.8M293.4 66.2h0.8M285.9 68.8h0.8M292.4 63.0h0.8M299.1 56.3h0.8M297.1 65.9h0.8M299.5 63.3h0.8M279.9 69.8h0.8M290.3 63.0h0.8M292.1 63.3h0.8M300.2 64.1h0.8M282.8 65.0h0.8M293.5 62.1h0.8M294.1 65.4h0.8M275.1 68.0h0.8M280.9 69.1h0.8M294.1 65.3h0.8M279.3 68.8h0.8M279.4 69.9h0.8M293.5 56.4h0.8M291.8 64.1h0.8M285.4 62.6h0.8M289.2 63.0h0.8M286.4 67.2h0.8M284.0 65.6h0.8M286.8 68.9h0.8M293.1 64.5h0.8M299.9 59.6h0.8M286.9 69.2h0.8M288.2 64.4h0.8M284.0 60.0h0.8M280.6 72.5h0.8M292.1 65.3h0.8M295.0 59.3h0.8M281.2 66.3h0.8M297.2 63.6h0.8M283.9 65.9h0.8M297.3 58.2h0.8M297.7 57.7h0.8M289.6 72.2h0.8M272.4 71.9h0.8M282.3 59.4h0.8M278.1 70.6h0.8M277.2 67.8h0.8M284.3 61.0h0.8M299.6 58.3h0.8M287.3 63.3h0.8M288.5 67.5h0.8M274.1 72.0h0.8M286.0 70.1h0.8M279.6 73.2h0.8M292.9 61.9h0.8M285.9 68.6h0.8M291.3 69.0h0.8M289.8 66.0h0.8M285.2 61.4h0.8M296.3 60.0h0.8M292.9 62.5h0.8M288.3 68.9h0.8M289.8 63.2h0.8M294.8 64.5h0.8M299.2 57.5h0.8M289.9 63.7h0.8M299.6 56.9h0.8M284.3 67.0h0.8M286.8 64.9h0.8M277.9 71.9h0.8M294.0 58.4h0.8M279.2 66.3h0.8M280.7 68.7h0.8M295.5 60.6h0.8M284.1 65.6h0.8M283.6 68.7h0.8M296.7 60.6h0.8M289.9 69.3h0.8M293.6 56.1h0.8M288.7 71.0h0.8M290.8 54.8h0.8M294.4 54.6h0.8M289.8 64.4h0.8M301.1 53.3h0.8M285.2 65.1h0.8M286.4 63.8h0.8M287.3 60.3h0.8M294.3 55.8h0.8M285.9 64.3h0.8M285.9 66.9h0.8M291.5 64.3h0.8M298.6 58.6h0.8M285.0 65.0h0.8M280.6 72.9h0.8M284.3 59.0h0.8M293.5 61.1h0.8M286.4 69.7h0.8M292.1 67.5h0.8M276.1 75.7h0.8M290.9 67.3h0.8M291.1 66.1h0.8M293.7 61.4h0.8M287.7 56.9h0.8M293.9 59.1h0.8M280.6 67.9h0.8M296.2 65.0h0.8M275.3 70.6h0.8M283.6 65.9h0.8M298.3 60.6h0.8M293.8 57.6h0.8M274.5 72.7h0.8M294.1 62.7h0.8M284.9 65.2h0.8M282.6 67.5h0.8M287.6 58.6h0.8M287.8 60.3h0.8M299.1 56.9h0.8M279.4 73.6h0.8M284.5 64.6h0.8M286.2 62.3h0.8M273.3 70.5h0.8M298.8 60.3h0.8M300.1 52.2h0.8M284.1 67.3h0.8M291.1 61.3h0.8M286.7 65.4h0.8M289.7 60.9h0.8M283.6 67.4h0.8M297.2 63.6h0.8M279.3 68.7h0.8M298.5 56.5h0.8M287.5 55.8h0.8M308.2 54.0h0.8M275.0 70.0h0.8M288.6 65.5h0.8M279.0 70.3h0.8M286.4 62.7h0.8M291.1 60.4h0.8M279.6 64.9h0.8M280.7 75.8h0.8M276.8 74.5h0.8M291.7 65.2h0.8M300.4 61.2h0.8M299.9 62.2h0.8M290.3 66.2h0.8M282.9 71.2h0.8M289.8 72.2h0.8M274.5 66.8h0.8M276.9 72.0h0.8M296.1 57.6h0.8M286.8 65.6h0.8M287.4 56.3h0.8M285.1 62.7h0.8M300.3 60.2h0.8M298.0 54.3h0.8M283.7 69.2h0.8M284.7 63.8h0.8M283.4 66.9h0.8M296.7 54.3h0.8M297.5 56.9h0.8M284.3 61.7h0.8M307.4 55.0h0.8M286.4 59.7h0.8M280.0 70.8h0.8M272.4 72.3h0.8M287.5 64.6h0.8M293.6 66.5h0.8M284.0 66.4h0.8M290.7 61.0h0.8M298.2 58.9h0.8M289.5 66.4h0.8M294.6 59.1h0.8M304.4 61.0h0.8M293.1 62.6h0.8M283.9 66.2h0.8M291.3 60.8h0.8M292.9 61.6h0.8M306.3 56.0h0.8M287.3 69.2h0.8M277.1 71.9h0.8M290.4 61.6h0.8M291.4 62.9h0.8M282.6 61.0h0.8M295.1 64.7h0.8M292.7 65.2h0.8M298.1 58.4h0.8M283.7 70.2h0.8M282.1 65.3h0.8M291.7 69.3h0.8M285.0 66.7h0.8M298.3 57.7h0.8M296.9 67.5h0.8M287.6 62.6h0.8M301.8 59.0h0.8M291.9 60.6h0.8M296.3 59.1h0.8M295.2 60.7h0.8M287.4 64.4h0.8M290.6 69.6h0.8M291.2 68.0h0.8M280.1 68.8h0.8M290.4 72.9h0.8M296.0 61.1h0.8M291.5 63.3h0.8M282.8 70.6h0.8M306.1 51.6h0.8M283.5 73.4h0.8M292.8 60.0h0.8M293.1 58.6h0.8M300.9 62.0h0.8M281.3 66.8h0.8M289.2 64.3h0.8M286.0 62.9h0.8M297.5 58.6h0.8M292.5 63.5h0.8M288.9 56.9h0.8M293.4 62.2h0.8M303.3 53.7h0.8M296.7 65.3h0.8M299.3 65.9h0.8M283.1 70.4h0.8M295.7 63.0h0.8M281.5 73.2h0.8M298.4 63.0h0.8M288.5 60.3h0.8M280.7 65.3h0.8M279.9 68.6h0.8M286.7 61.4h0.8M290.0 63.1h0.8M285.4 67.3h0.8M285.8 63.9h0.8M287.9 67.0h0.8M287.7 70.5h0.8M288.2 65.4h0.8M292.4 64.2h0.8M299.6 58.2h0.8M294.5 61.1h0.8M284.5 65.6h0.8M300.4 53.9h0.8M299.7 60.2h0.8M289.4 68.1h0.8M297.5 59.3h0.8M285.8 66.9h0.8M281.9 64.1h0.8M283.9 66.8h0.8M302.8 57.3h0.8M290.8 63.2h0.8M292.4 62.7h0.8M288.9 61.2h0.8M284.8 62.6h0.8M293.3 61.1h0.8M297.4 64.6h0.8M304.5 53.9h0.8M281.1 64.0h0.8M300.8 55.1h0.8M294.8 60.3h0.8M278.6 75.0h0.8M299.2 62.1h0.8M301.3 54.3h0.8M296.9 56.2h0.8M291.6 62.1h0.8M291.3 63.1h0.8M273.3 70.5h0.8M294.0 64.8h0.8M290.8 61.9h0.8M283.3 68.8h0.8M291.3 62.4h0.8M285.7 68.2h0.8M307.2 53.1h0.8M281.0 70.1h0.8M284.9 71.1h0.8M273.6 74.5h0.8M289.0 69.4h0.8M288.7 60.2h0.8M289.5 63.4h0.8M283.1 64.3h0.8M294.2 56.3h0.8M291.4 62.8h0.8M301.6 63.3h0.8M289.1 65.1h0.8M277.5 74.7h0.8M285.5 59.8h0.8M282.1 69.3h0.8M294.1 57.3h0.8M285.1 67.4h0.8M289.1 67.8h0.8M288.5 62.9h0.8M279.2 73.9h0.8M285.1 63.9h0.8M296.1 60.3h0.8M283.8 65.1h0.8M288.0 65.1h0.8M290.2 62.9h0.8M280.6 61.6h0.8M286.3 64.5h0.8M291.7 60.8h0.8M288.7 70.1h0.8M285.6 57.5h0.8M288.0 64.9h0.8M282.2 71.0h0.8M281.9 74.9h0.8M306.2 58.2h0.8M299.5 57.6h0.8M290.2 68.3h0.8M296.0 59.4h0.8M297.2 58.5h0.8M295.8 58.8h0.8M285.5 64.8h0.8M280.2 74.6h0.8M276.7 65.8h0.8M284.7 61.2h0.8M300.7 60.2h0.8M301.6 58.0h0.8M288.4 67.3h0.8M286.0 64.9h0.8M299.2 60.1h0.8M304.4 53.8h0.8M281.0 67.0h0.8M291.9 60.7h0.8M290.2 63.6h0.8M286.5 65.6h0.8M285.9 64.4h0.8M288.8 69.5h0.8M289.6 65.1h0.8M276.5 70.1h0.8M286.9 60.6h0.8M294.9 60.0h0.8M292.2 56.2h0.8M293.6 57.9h0.8M289.7 59.4h0.8M289.0 60.7h0.8M304.1 55.3h0.8M282.6 56.4h0.8M292.3 66.7h0.8M299.1 59.1h0.8M288.5 62.4h0.8M278.0 68.1h0.8M285.7 68.0h0.8M285.3 65.4h0.8M290.3 68.8h0.8M285.1 65.4h0.8M295.0 56.7h0.8M292.1 56.8h0.8M292.4 61.1h0.8M287.3 68.1h0.8M294.9 55.8h0.8M298.4 62.3h0.8M307.0 55.6h0.8M283.7 65.6h0.8M290.0 67.4h0.8M296.8 52.8h0.8M277.2 63.0h0.8M291.4 63.1h0.8M291.2 63.7h0.8M289.9 64.3h0.8M281.6 67.9h0.8M287.0 59.7h0.8M278.4 71.9h0.8M297.5 57.2h0.8M286.5 68.1h0.8M290.4 63.4h0.8M287.0 60.7h0.8M291.3 64.3h0.8M291.1 65.1h0.8M293.3 63.7h0.8M285.0 63.5h0.8M287.5 60.9h0.8M281.6 70.8h0.8M280.7 68.4h0.8M282.1 67.3h0.8M282.6 70.9h0.8M279.9 72.7h0.8M284.8 67.9h0.8M293.3 60.3h0.8M294.3 65.7h0.8M284.0 63.0h0.8M291.2 62.3h0.8M292.1 62.9h0.8M307.2 47.9h0.8M275.5 69.2h0.8M292.1 64.8h0.8M278.6 69.6h0.8M296.8 55.2h0.8M289.8 69.0h0.8M292.5 62.2h0.8M290.6 63.1h0.8M297.1 65.2h0.8M279.2 67.7h0.8M289.2 57.9h0.8M300.5 55.3h0.8M294.6 66.3h0.8M308.5 58.8h0.8M299.1 61.2h0.8M297.1 59.3h0.8M301.7 60.7h0.8M293.2 57.8h0.8M289.6 58.5h0.8M291.8 59.3h0.8M295.5 59.5h0.8M288.6 57.6h0.8M295.1 57.6h0.8M295.7 66.4h0.8M294.5 60.1h0.8M294.8 59.2h0.8M301.6 54.4h0.8M306.9 56.3h0.8M305.0 57.1h0.8M295.6 60.5h0.8M293.0 61.0h0.8M297.5 51.2h0.8M299.8 52.3h0.8M299.9 56.1h0.8M293.1 59.5h0.8M297.4 57.9h0.8M294.7 58.8h0.8M303.9 61.7h0.8M302.4 60.2h0.8M295.9 55.8h0.8M296.1 62.5h0.8M304.9 56.1h0.8M297.5 58.8h0.8M299.9 56.6h0.8M299.7 58.9h0.8M303.1 62.4h0.8M301.0 54.9h0.8M295.1 59.7h0.8M294.7 60.1h0.8M296.8 53.1h0.8M283.0 67.3h0.8M295.3 57.2h0.8M295.2 61.2h0.8M300.7 58.6h0.8M301.2 63.4h0.8M295.7 59.2h0.8M291.4 61.5h0.8M297.3 61.8h0.8M298.7 65.6h0.8M297.5 59.7h0.8M298.7 60.2h0.8M294.8 62.8h0.8M300.0 59.5h0.8M293.8 59.4h0.8M297.5 56.4h0.8M297.1 56.9h0.8M301.7 55.4h0.8M297.3 60.4h0.8M302.5 53.2h0.8M294.1 58.3h0.8M293.1 61.7h0.8M299.5 57.6h0.8M291.7 62.9h0.8M296.5 55.2h0.8M301.5 63.7h0.8M297.3 58.5h0.8M298.2 57.8h0.8M296.4 56.7h0.8M303.1 57.6h0.8M297.9 62.6h0.8M288.4 64.3h0.8M295.1 60.1h0.8M300.1 56.7h0.8M304.6 63.1h0.8M300.7 59.4h0.8M296.4 58.3h0.8M293.1 62.2h0.8M305.3 58.5h0.8M294.6 61.4h0.8M292.6 63.1h0.8M286.7 66.1h0.8M304.8 54.3h0.8M297.7 61.1h0.8M291.4 68.6h0.8M301.3 58.8h0.8M299.2 57.2h0.8M288.3 61.6h0.8M300.1 57.5h0.8M296.1 58.1h0.8M298.4 55.7h0.8M303.7 58.0h0.8M295.5 61.6h0.8M307.9 57.2h0.8M297.1 61.3h0.8M293.7 60.2h0.8M303.4 59.3h0.8M294.6 62.5h0.8M297.5 64.4h0.8M298.8 55.1h0.8M292.4 61.1h0.8M291.0 63.4h0.8M300.3 63.4h0.8M297.3 61.2h0.8M292.4 58.3h0.8M299.2 55.2h0.8M292.3 64.4h0.8M297.4 54.0h0.8M290.8 60.9h0.8M298.3 58.5h0.8M290.6 62.1h0.8M299.7 59.2h0.8M297.4 62.4h0.8M294.9 61.9h0.8M294.6 56.5h0.8M297.7 64.0h0.8M301.4 60.9h0.8M292.1 59.6h0.8M297.6 58.2h0.8M292.8 57.4h0.8M295.7 65.4h0.8M293.2 60.2h0.8M292.0 64.1h0.8M298.3 60.7h0.8M298.5 63.4h0.8M297.8 59.7h0.8M288.6 63.3h0.8M295.1 63.0h0.8M304.0 59.2h0.8M300.5 55.9h0.8M295.4 60.4h0.8M293.8 56.2h0.8M299.1 63.6h0.8M299.7 55.9h0.8M304.0 59.2h0.8M298.8 61.8h0.8M298.5 61.7h0.8M297.7 62.8h0.8M296.5 57.3h0.8M304.3 56.4h0.8M292.4 60.0h0.8M298.9 58.3h0.8M290.3 61.1h0.8M295.4 69.3h0.8" stroke="#000" stroke-width="0.8" fill="none"/>
<path d="M306.5 48.2h0.6M314.5 45.9h0.6M298.3 52.6h0.6M321.8 41.5h0.6M307.4 57.6h0.6M302.0 47.7h0.6M301.3 49.1h0.6M289.8 55.9h0.6M287.1 61.9h0.6M305.1 44.8h0.6M297.9 61.1h0.6M300.9 46.9h0.6M323.2 38.6h0.6M302.4 51.8h0.6M325.0 41.6h0.6M306.3 44.6h0.6M296.4 58.8h0.6M314.4 55.4h0.6M315.7 45.0h0.6M314.2 49.8h0.6M300.0 56.4h0.6M300.0 66.2h0.6M313.9 47.2h0.6M324.2 43.7h0.6M321.5 41.1h0.6M302.5 53.4h0.6M302.5 50.1h0.6M307.2 47.4h0.6M315.4 44.2h0.6M311.5 52.1h0.6M308.9 46.8h0.6M307.2 53.8h0.6M279.7 61.3h0.6M296.0 60.7h0.6M304.5 44.2h0.6M288.2 52.1h0.6M326.6 43.5h0.6M300.8 60.2h0.6M311.1 45.0h0.6M310.4 36.7h0.6M318.9 49.7h0.6M295.4 57.3h0.6M302.3 47.6h0.6M323.3 49.2h0.6M309.1 55.5h0.6M312.4 43.6h0.6M281.2 59.3h0.6M310.7 51.1h0.6M308.4 52.2h0.6M307.1 56.5h0.6M289.3 60.2h0.6M302.3 61.9h0.6M302.1 49.6h0.6M299.9 47.8h0.6M293.4 52.2h0.6M314.4 41.6h0.6M314.3 45.0h0.6M300.3 47.9h0.6M321.2 46.7h0.6M296.3 60.4h0.6M311.7 55.5h0.6M320.3 40.2h0.6M308.4 41.6h0.6M303.1 48.7h0.6M310.3 47.7h0.6M303.3 48.1h0.6M301.0 54.2h0.6M298.8 55.3h0.6M306.2 51.1h0.6M302.1 46.5h0.6M310.1 51.8h0.6M295.3 49.6h0.6M302.9 37.7h0.6M314.0 44.4h0.6M301.5 57.2h0.6M320.3 41.9h0.6M294.4 45.4h0.6M296.8 50.8h0.6M301.0 56.8h0.6M292.9 55.3h0.6M289.0 55.5h0.6M290.5 49.0h0.6M301.7 49.8h0.6M294.9 49.7h0.6M321.6 48.7h0.6M302.9 51.2h0.6M301.7 54.4h0.6M295.3 44.6h0.6M308.6 46.8h0.6M306.8 52.1h0.6M310.9 54.8h0.6M315.0 50.8h0.6M317.7 38.5h0.6M301.6 65.5h0.6M311.0 45.0h0.6M304.5 47.3h0.6M306.5 46.3h0.6M296.8 46.6h0.6M310.0 44.5h0.6M309.3 43.1h0.6M307.3 45.2h0.6M295.8 49.3h0.6M310.9 44.5h0.6M296.9 56.0h0.6M288.6 52.6h0.6M310.1 40.0h0.6M304.6 51.8h0.6M289.3 55.7h0.6M299.3 54.9h0.6M303.0 44.7h0.6M313.8 43.9h0.6M300.8 46.2h0.6M294.2 46.6h0.6M293.5 51.3h0.6M291.4 54.2h0.6M304.1 50.6h0.6M294.7 47.0h0.6M312.1 49.1h0.6M299.9 56.5h0.6M315.5 45.4h0.6M311.8 50.4h0.6M312.5 57.0h0.6M319.5 42.7h0.6M311.1 54.6h0.6M323.1 43.7h0.6M302.7 56.1h0.6M301.4 55.6h0.6M317.9 47.6h0.6M308.9 57.4h0.6M317.9 40.1h0.6M311.8 50.5h0.6M312.7 52.7h0.6M315.1 45.1h0.6M320.0 41.8h0.6M322.0 47.9h0.6M313.0 48.5h0.6M311.8 48.8h0.6M320.4 45.6h0.6M310.3 52.3h0.6M309.7 53.7h0.6M310.0 53.5h0.6M324.9 42.4h0.6M319.8 47.9h0.6M311.8 47.5h0.6M319.1 46.0h0.6M304.4 53.6h0.6M316.2 52.2h0.6M321.8 44.4h0.6M318.8 49.6h0.6M308.0 52.2h0.6M313.7 45.7h0.6M315.7 50.3h0.6M324.1 41.1h0.6M318.6 40.4h0.6M319.1 29.9h0.6M323.6 59.5h0.6M323.7 47.3h0.6M288.0 28.6h0.6M284.0 54.9h0.6M313.7 64.0h0.6M310.2 53.8h0.6M308.1 31.4h0.6M307.7 56.8h0.6M287.5 40.6h0.6" stroke="#444" stroke-width="0.6" fill="none"/>
<line x1="289.7" y1="22" x2="289.7" y2="83.4" stroke="#e85a7a" stroke-width="0.9"/>
<line x1="265.5" y1="63.4" x2="331.7" y2="63.4" stroke="#e85a7a" stroke-width="0.9"/>
<rect x="265.5" y="22" width="66.2" height="61.4" fill="none" stroke="#6464f8" stroke-width="1"/>
<path d="M263.1 81.3h2.4M263.5 79.4h2M263.5 78.2h2M263.5 77.4h2M263.5 76.8h2M263.5 76.2h2M263.5 75.8h2M263.5 75.4h2M263.5 75.1h2M263.1 74.8h2.4M263.5 70.0h2M263.5 67.2h2M263.5 65.2h2M263.5 63.6h2M263.5 62.4h2M263.5 61.3h2M263.5 60.4h2M263.5 59.6h2M263.1 58.8h2.4M263.5 53.8h2M263.5 50.9h2M263.5 48.9h2M263.5 47.3h2M263.5 45.9h2M263.5 44.8h2M263.5 43.9h2M263.5 43.0h2M263.1 42.3h2.4M263.5 36.6h2M263.5 33.3h2M263.5 31.0h2M263.5 29.1h2M263.5 27.6h2M263.5 26.4h2M263.5 25.3h2M263.5 24.3h2M265.5 83.4v2.2M270.5 83.4v1.6M273.4 83.4v1.6M275.5 83.4v1.6M277.1 83.4v1.6M278.4 83.4v1.6M279.5 83.4v1.6M280.4 83.4v1.6M281.3 83.4v1.6M282.1 83.4v2.2M288.8 83.4v1.6M292.8 83.4v1.6M295.6 83.4v1.6M297.8 83.4v1.6M299.6 83.4v1.6M301.1 83.4v1.6M302.4 83.4v1.6M303.5 83.4v1.6M304.6 83.4v2.2M312.4 83.4v1.6M317.0 83.4v1.6M320.3 83.4v1.6M322.8 83.4v1.6M324.9 83.4v1.6M326.7 83.4v1.6M328.2 83.4v1.6M329.5 83.4v1.6" stroke="#6464f8" stroke-width=".7" fill="none"/>
<path d="M258.3 79.7l1 -.3l.6 .8l-.4 .9l1.6 1.2M258.3 73.2l1 -.3l.6 .8l-.4 .9l1.6 1.2M258.3 57.2l1 -.3l.6 .8l-.4 .9l1.6 1.2M258.3 40.7l1 -.3l.6 .8l-.4 .9l1.6 1.2M258.3 21.9l1 -.3l.6 .8l-.4 .9l1.6 1.2M264.0 86.8l1 -.3l.6 .8l-.4 .9l1.6 1.2M280.6 86.8l1 -.3l.6 .8l-.4 .9l1.6 1.2M303.1 86.8l1 -.3l.6 .8l-.4 .9l1.6 1.2M329.2 86.8l1 -.3l.6 .8l-.4 .9l1.6 1.2" stroke="#5a5af5" stroke-width="1.05" fill="none" stroke-linejoin="round"/>
<text x="266.8" y="26.3" font-size="4.3" text-anchor="start" fill="#f04a68" font-weight="bold" stroke="#f04a68" stroke-width="0.18">Q1-UL</text>
<text x="266.8" y="30.4" font-size="4.3" text-anchor="start" fill="#f04a68" font-weight="bold" stroke="#f04a68" stroke-width="0.18">8.9%</text>
<text x="330.7" y="26.3" font-size="4.3" text-anchor="end" fill="#f04a68" font-weight="bold" stroke="#f04a68" stroke-width="0.18">Q1-UR</text>
<text x="330.7" y="30.4" font-size="4.3" text-anchor="end" fill="#f04a68" font-weight="bold" stroke="#f04a68" stroke-width="0.18">46.4%</text>
<text x="266.8" y="78.5" font-size="4.3" text-anchor="start" fill="#f04a68" font-weight="bold" stroke="#f04a68" stroke-width="0.18">Q1-LL</text>
<text x="266.8" y="82.4" font-size="4.3" text-anchor="start" fill="#f04a68" font-weight="bold" stroke="#f04a68" stroke-width="0.18">37.9%</text>
<text x="330.7" y="78.5" font-size="4.3" text-anchor="end" fill="#f04a68" font-weight="bold" stroke="#f04a68" stroke-width="0.18">Q1-LR</text>
<text x="330.7" y="82.4" font-size="4.3" text-anchor="end" fill="#f04a68" font-weight="bold" stroke="#f04a68" stroke-width="0.18">6.8%</text>
<text x="296.6" y="19.5" font-size="7.6" text-anchor="middle" fill="#111" stroke="#111" stroke-width="0.18">4MOD (10.0 μM)</text>
<rect x="25.5" y="102.1" width="67" height="59.9" fill="#fff"/>
<clipPath id="cp21"><rect x="25.5" y="102.1" width="67" height="59.9"/></clipPath>
<ellipse cx="39" cy="152" rx="14" ry="5" transform="rotate(-37 39 152)" fill="#000" clip-path="url(#cp21)"/>
<path d="M38.1 143.1h0.8M53.1 142.0h0.8M54.1 140.1h0.8M37.1 149.1h0.8M33.9 158.7h0.8M35.5 160.8h0.8M29.8 158.4h0.8M36.4 151.5h0.8M46.3 145.3h0.8M48.4 152.6h0.8M48.1 151.3h0.8M50.2 137.3h0.8M47.3 144.1h0.8M58.0 136.1h0.8M50.8 144.4h0.8M27.8 154.8h0.8M50.5 142.7h0.8M46.4 149.1h0.8M37.4 144.8h0.8M41.0 153.4h0.8M39.5 154.2h0.8M44.3 141.5h0.8M38.2 147.5h0.8M55.9 144.3h0.8M34.9 159.5h0.8M37.9 140.7h0.8M46.7 152.0h0.8M33.7 159.6h0.8M45.8 141.4h0.8M44.7 149.0h0.8M36.7 150.8h0.8M44.4 150.8h0.8M43.2 152.1h0.8M36.7 158.9h0.8M40.5 149.4h0.8M45.8 141.8h0.8M36.6 153.9h0.8M49.6 149.3h0.8M36.9 153.4h0.8M37.8 151.0h0.8M36.2 145.6h0.8M38.1 153.2h0.8M38.1 154.5h0.8M50.4 141.5h0.8M51.7 141.7h0.8M50.1 144.1h0.8M33.1 156.4h0.8M39.5 154.7h0.8M41.7 152.3h0.8M28.6 156.2h0.8M33.8 157.1h0.8M38.3 148.5h0.8M34.5 156.6h0.8M42.8 143.8h0.8M44.1 140.6h0.8M42.7 156.8h0.8M41.2 153.5h0.8M40.4 153.0h0.8M32.3 150.3h0.8M33.8 153.2h0.8M27.6 154.6h0.8M47.9 150.9h0.8M37.6 150.5h0.8M43.0 158.7h0.8M42.6 152.0h0.8M43.5 147.1h0.8M55.3 146.5h0.8M32.2 146.8h0.8M34.1 151.6h0.8M40.4 149.0h0.8M34.7 160.6h0.8M53.4 146.7h0.8M48.6 146.6h0.8M41.4 141.4h0.8M37.3 150.7h0.8M43.5 143.2h0.8M51.8 148.7h0.8M42.9 146.9h0.8M38.6 155.4h0.8M47.7 145.1h0.8M38.2 156.2h0.8M31.3 156.0h0.8M47.5 145.9h0.8M42.7 149.5h0.8M27.2 161.1h0.8M38.9 152.5h0.8M36.3 152.2h0.8M52.8 151.0h0.8M36.8 155.0h0.8M37.7 151.6h0.8M46.6 135.0h0.8M40.2 147.6h0.8M42.8 141.1h0.8M55.5 141.1h0.8M46.9 154.0h0.8M35.5 160.8h0.8M44.2 141.6h0.8M35.3 146.2h0.8M39.1 154.6h0.8M43.8 156.9h0.8M50.9 143.3h0.8M34.2 160.9h0.8M27.2 153.9h0.8M38.7 151.7h0.8M40.0 153.4h0.8M31.4 155.7h0.8M31.3 156.7h0.8M44.5 151.3h0.8M49.8 140.7h0.8M43.4 143.7h0.8M47.4 149.4h0.8M51.1 144.1h0.8M32.0 154.5h0.8M30.8 158.1h0.8M39.5 150.2h0.8M26.4 157.6h0.8M36.1 155.2h0.8M51.3 142.5h0.8M31.5 150.9h0.8M47.4 156.0h0.8M40.9 140.4h0.8M39.2 160.1h0.8M42.6 145.0h0.8M44.8 154.6h0.8M45.2 146.4h0.8M35.3 157.5h0.8M27.0 161.2h0.8M30.3 158.0h0.8M35.9 156.9h0.8M42.7 146.0h0.8M38.9 154.4h0.8M33.4 150.7h0.8M36.2 150.4h0.8M48.0 142.6h0.8M34.2 155.0h0.8M55.7 145.4h0.8M26.7 157.0h0.8M32.3 152.7h0.8M44.3 142.3h0.8M43.1 146.8h0.8M33.4 159.0h0.8M36.8 149.9h0.8M32.6 155.3h0.8M45.6 144.0h0.8M44.5 148.2h0.8M28.4 149.8h0.8M44.4 150.8h0.8M38.5 156.9h0.8M36.9 149.3h0.8M39.9 150.9h0.8M32.4 152.3h0.8M45.7 151.9h0.8M45.1 150.5h0.8M50.2 158.0h0.8M48.7 143.5h0.8M35.0 150.5h0.8M32.2 150.8h0.8M41.8 150.9h0.8M40.5 152.4h0.8M46.8 150.7h0.8M47.6 147.5h0.8M37.5 151.0h0.8M41.7 156.4h0.8M32.3 159.9h0.8M50.6 147.4h0.8M34.4 149.6h0.8M28.0 156.1h0.8M28.2 156.9h0.8M35.0 153.1h0.8M48.0 134.3h0.8M49.2 150.3h0.8M40.5 155.1h0.8M43.7 152.3h0.8M48.7 152.2h0.8M44.0 151.2h0.8M34.9 157.1h0.8M41.4 146.5h0.8M35.0 155.7h0.8M29.1 150.7h0.8M31.9 153.9h0.8M48.7 146.2h0.8M52.8 149.8h0.8M27.8 155.1h0.8M40.1 149.1h0.8M40.8 151.6h0.8M38.5 151.8h0.8M42.7 153.2h0.8M32.7 153.4h0.8M40.4 153.3h0.8M33.7 154.4h0.8M32.7 158.8h0.8M41.0 159.4h0.8M30.1 159.6h0.8M43.6 146.7h0.8M38.0 149.3h0.8M35.3 156.2h0.8M44.7 153.2h0.8M39.8 152.5h0.8M33.9 152.4h0.8M34.7 157.0h0.8M43.0 148.3h0.8M35.7 157.7h0.8M55.1 146.4h0.8M55.5 141.7h0.8M36.6 153.2h0.8M45.8 149.8h0.8M58.4 140.2h0.8M36.6 153.7h0.8M30.4 155.9h0.8M37.6 156.7h0.8M27.2 160.3h0.8M43.2 152.6h0.8M34.8 152.9h0.8M40.6 148.4h0.8M45.6 150.6h0.8M31.1 154.3h0.8M37.6 152.5h0.8M35.0 150.4h0.8M30.2 151.3h0.8M33.1 158.2h0.8M46.2 154.6h0.8M36.4 149.9h0.8M45.4 153.3h0.8M51.1 148.5h0.8M52.2 149.8h0.8M27.4 155.7h0.8M30.6 155.3h0.8M41.4 158.7h0.8M40.7 150.8h0.8M47.9 145.5h0.8M33.0 160.4h0.8M37.3 156.6h0.8M40.6 148.4h0.8M50.0 143.0h0.8M53.4 144.7h0.8M31.5 159.3h0.8M36.1 150.9h0.8M49.2 148.9h0.8M42.9 147.8h0.8M35.3 152.4h0.8M36.6 158.8h0.8M36.5 142.2h0.8M48.6 145.7h0.8M31.6 155.0h0.8M35.3 151.8h0.8M42.9 153.9h0.8M40.6 152.7h0.8M50.1 159.3h0.8M30.5 157.8h0.8M35.4 157.0h0.8M42.7 154.7h0.8M47.8 142.9h0.8M37.3 160.2h0.8M50.5 149.7h0.8M39.7 154.4h0.8M49.0 142.7h0.8M48.2 138.0h0.8M36.0 157.5h0.8M39.3 150.7h0.8M39.6 152.1h0.8M44.3 146.9h0.8M45.4 150.1h0.8M34.1 147.1h0.8M53.5 145.9h0.8M48.7 150.6h0.8M40.6 147.9h0.8M38.6 147.8h0.8M36.8 149.7h0.8M40.4 154.2h0.8M49.1 152.1h0.8M41.6 145.6h0.8M36.4 146.7h0.8M48.9 145.5h0.8M38.1 154.5h0.8M45.3 151.2h0.8M45.7 144.0h0.8M40.1 157.1h0.8M50.5 135.6h0.8M30.6 157.2h0.8M51.3 146.2h0.8M42.0 147.4h0.8M32.4 153.4h0.8M33.0 149.7h0.8M33.6 153.8h0.8M51.0 148.4h0.8M45.5 144.2h0.8M47.5 146.3h0.8M38.5 146.6h0.8M56.3 143.9h0.8M47.2 142.9h0.8M40.0 146.3h0.8M46.5 148.3h0.8M47.1 149.6h0.8M35.7 144.8h0.8M49.4 151.6h0.8M50.6 152.1h0.8M36.7 153.3h0.8M43.9 147.0h0.8M41.3 147.6h0.8M45.0 153.1h0.8M32.9 149.0h0.8M36.4 155.8h0.8M45.5 157.3h0.8M52.6 142.7h0.8M64.8 142.6h0.8M36.5 154.2h0.8M29.7 157.7h0.8M38.9 156.9h0.8M32.1 157.0h0.8M36.2 154.8h0.8M42.2 147.8h0.8M28.7 153.9h0.8M44.3 146.7h0.8M48.3 148.7h0.8M55.6 145.1h0.8M55.5 139.4h0.8M49.2 146.1h0.8M57.3 133.7h0.8M34.8 154.5h0.8M41.7 149.4h0.8M40.8 150.1h0.8M43.7 149.0h0.8M49.5 146.1h0.8M39.8 157.8h0.8M56.6 142.8h0.8M52.1 144.9h0.8M39.8 145.5h0.8M41.9 146.0h0.8M31.3 158.3h0.8M40.7 154.6h0.8M38.3 144.0h0.8M42.2 150.7h0.8M30.4 159.3h0.8M35.0 153.6h0.8M53.2 137.6h0.8M46.7 147.6h0.8M44.8 147.1h0.8M38.2 155.2h0.8M41.4 140.4h0.8M48.9 140.3h0.8M50.1 151.5h0.8M36.8 155.1h0.8M40.4 147.3h0.8M31.3 156.5h0.8M34.0 149.6h0.8M48.4 152.3h0.8M38.6 159.8h0.8M39.9 156.0h0.8M55.2 146.1h0.8M39.5 154.3h0.8M49.7 150.8h0.8M38.7 155.7h0.8M39.8 151.6h0.8M36.5 153.8h0.8M28.2 158.1h0.8M32.4 149.5h0.8M55.9 146.2h0.8M38.2 159.9h0.8M41.3 154.3h0.8M47.7 150.8h0.8M43.0 150.5h0.8M38.1 155.5h0.8M51.5 136.3h0.8M51.4 142.7h0.8M46.6 143.3h0.8M43.9 147.2h0.8M47.7 144.3h0.8M38.1 147.8h0.8M50.1 150.4h0.8M59.0 142.2h0.8M53.5 138.8h0.8M52.5 136.1h0.8M47.9 143.2h0.8M50.1 148.6h0.8M43.5 139.5h0.8M59.4 136.4h0.8M41.0 148.9h0.8M45.1 152.8h0.8M41.0 151.0h0.8M43.2 147.5h0.8M38.1 145.2h0.8M29.3 155.5h0.8M52.9 158.4h0.8M38.5 158.8h0.8M37.0 149.7h0.8M33.2 145.9h0.8M30.3 160.1h0.8M33.7 156.4h0.8M27.5 158.2h0.8M36.8 153.4h0.8M38.4 157.0h0.8M47.5 145.5h0.8M49.8 143.2h0.8M44.5 137.3h0.8M44.7 149.3h0.8M27.5 153.8h0.8M49.4 148.1h0.8M44.2 148.2h0.8M37.2 143.6h0.8M28.4 158.7h0.8M40.3 145.4h0.8M53.4 144.2h0.8M47.3 148.3h0.8M40.3 156.6h0.8M42.7 145.7h0.8M40.9 153.3h0.8M38.0 146.2h0.8M47.9 147.2h0.8M42.2 148.8h0.8M40.9 152.0h0.8M43.0 149.2h0.8M35.0 160.4h0.8M30.2 157.2h0.8M43.5 148.0h0.8M37.9 160.1h0.8M44.4 147.8h0.8M48.0 141.0h0.8M38.9 152.4h0.8M54.2 140.7h0.8M53.6 144.7h0.8M40.4 149.9h0.8M46.2 154.8h0.8M40.7 150.7h0.8M42.7 152.8h0.8M45.3 149.4h0.8M27.8 154.2h0.8M40.7 156.1h0.8M50.1 141.8h0.8M43.5 153.4h0.8M29.5 149.5h0.8M36.1 145.2h0.8M44.1 138.5h0.8M33.7 147.3h0.8M37.2 151.6h0.8M43.9 148.3h0.8M44.8 142.9h0.8M51.8 140.8h0.8M36.9 150.3h0.8M44.5 151.7h0.8M50.5 147.0h0.8M49.3 137.7h0.8M54.3 140.1h0.8M60.2 136.5h0.8M56.2 142.4h0.8M46.2 152.1h0.8M50.3 143.9h0.8M50.0 144.5h0.8M53.7 137.8h0.8M52.4 139.6h0.8M56.7 140.9h0.8M44.6 150.5h0.8M58.3 137.4h0.8M49.5 142.4h0.8M57.6 140.9h0.8M49.8 136.5h0.8M44.6 143.9h0.8M46.7 145.9h0.8M56.0 142.7h0.8M52.7 133.4h0.8M43.0 142.4h0.8M41.5 143.0h0.8M41.9 152.5h0.8M47.6 148.1h0.8M50.3 149.6h0.8M54.4 149.9h0.8M50.1 135.9h0.8M47.2 143.4h0.8M43.2 144.9h0.8M45.5 140.3h0.8M49.8 142.4h0.8M49.4 139.7h0.8M51.1 141.9h0.8M48.3 141.7h0.8M49.1 135.4h0.8M50.1 145.0h0.8M46.3 148.0h0.8M48.1 141.4h0.8M53.7 127.9h0.8M40.2 138.5h0.8M58.6 127.8h0.8M48.4 145.2h0.8M55.2 141.0h0.8M42.2 148.9h0.8M49.7 142.6h0.8M50.7 128.5h0.8M45.1 147.9h0.8M44.7 142.9h0.8M50.8 139.9h0.8M49.3 137.7h0.8M37.7 142.1h0.8M45.7 149.4h0.8M52.3 141.9h0.8M48.8 137.6h0.8M49.7 134.3h0.8M47.6 140.8h0.8M55.2 142.0h0.8M57.2 138.6h0.8M44.1 147.1h0.8M57.2 140.5h0.8M54.5 139.8h0.8M53.9 133.8h0.8M49.7 145.5h0.8M49.7 141.9h0.8M48.3 139.1h0.8M50.5 147.3h0.8M56.0 139.1h0.8M47.5 136.7h0.8M47.0 148.3h0.8M51.8 141.4h0.8M43.9 145.2h0.8M41.2 147.0h0.8M42.3 143.1h0.8M46.4 137.5h0.8M51.2 142.3h0.8M50.6 143.8h0.8M51.8 138.7h0.8M60.0 134.8h0.8M43.5 145.4h0.8M51.2 139.1h0.8M52.6 142.3h0.8M45.4 148.3h0.8M51.1 148.2h0.8M49.8 139.7h0.8M51.0 142.8h0.8M45.5 144.8h0.8M54.3 139.4h0.8M54.3 144.7h0.8M54.1 140.5h0.8M55.8 133.1h0.8M42.7 145.8h0.8M53.3 136.2h0.8M51.6 139.2h0.8M44.1 143.5h0.8M48.5 140.7h0.8M47.5 143.1h0.8M45.1 147.7h0.8M51.8 136.1h0.8M46.4 145.3h0.8M40.2 150.3h0.8M56.1 141.1h0.8M48.2 144.7h0.8M53.0 142.0h0.8M51.6 141.9h0.8M51.3 146.6h0.8M47.8 143.1h0.8M34.0 147.8h0.8M48.8 144.6h0.8M42.0 143.7h0.8M46.9 133.3h0.8M47.3 146.5h0.8M46.7 144.5h0.8M50.9 142.1h0.8M45.5 147.9h0.8M46.0 144.3h0.8M50.2 147.0h0.8M52.0 140.4h0.8M42.1 146.9h0.8M53.7 138.9h0.8M44.2 136.5h0.8M48.7 145.4h0.8M47.9 136.2h0.8M55.7 138.9h0.8M55.1 136.8h0.8M45.0 146.3h0.8M54.4 134.1h0.8M54.1 146.6h0.8M51.2 130.6h0.8M44.4 145.8h0.8M46.8 140.0h0.8M45.4 137.7h0.8M47.2 151.2h0.8M48.1 144.3h0.8M60.2 145.3h0.8M57.2 139.6h0.8M54.3 140.7h0.8M52.6 142.4h0.8M44.6 140.0h0.8M56.6 129.7h0.8M46.9 151.5h0.8M46.0 149.2h0.8M44.3 142.9h0.8M51.0 141.5h0.8M48.0 144.3h0.8M56.6 142.4h0.8M43.1 149.4h0.8M52.2 136.6h0.8M60.4 137.2h0.8M52.8 136.9h0.8M49.9 144.9h0.8M45.6 142.8h0.8M47.5 128.4h0.8M45.6 153.7h0.8M43.8 142.5h0.8M44.2 151.8h0.8M50.7 144.5h0.8M57.5 133.0h0.8M45.0 140.4h0.8M59.8 143.3h0.8M45.3 147.1h0.8M50.4 148.1h0.8M48.0 145.4h0.8M57.3 140.6h0.8M46.3 146.3h0.8M43.5 141.1h0.8M48.1 139.8h0.8M58.4 136.9h0.8M47.3 138.4h0.8M57.7 133.9h0.8M51.6 140.2h0.8M51.4 146.4h0.8M59.5 142.2h0.8M42.1 138.5h0.8M46.6 147.0h0.8M54.9 147.0h0.8M39.2 144.4h0.8M41.6 143.8h0.8M48.9 148.8h0.8M50.6 142.5h0.8M53.6 136.3h0.8M56.0 138.1h0.8M50.8 145.0h0.8M51.3 141.5h0.8M49.4 144.5h0.8M43.7 148.5h0.8M53.0 141.7h0.8M47.0 145.8h0.8M54.7 140.4h0.8M47.1 144.0h0.8M47.9 149.6h0.8M51.0 140.1h0.8M46.2 143.1h0.8M40.3 143.4h0.8M53.3 135.9h0.8M52.0 141.5h0.8M51.2 140.5h0.8M52.0 143.7h0.8M44.6 141.2h0.8M35.0 151.8h0.8M42.6 138.8h0.8M47.3 143.3h0.8M54.5 143.4h0.8M44.9 149.0h0.8M51.4 139.2h0.8M51.4 143.6h0.8M57.9 137.1h0.8M44.4 142.6h0.8M47.7 139.3h0.8M49.0 138.6h0.8M54.0 141.2h0.8M57.7 138.7h0.8M53.4 141.5h0.8M42.7 147.2h0.8M62.7 141.0h0.8M40.0 149.7h0.8M54.4 141.0h0.8M56.9 137.4h0.8M49.3 148.0h0.8M45.8 137.5h0.8M51.0 144.0h0.8M44.3 146.2h0.8M51.7 140.4h0.8" stroke="#000" stroke-width="0.8" fill="none"/>
<path d="M48.5 136.6h0.6M48.1 128.0h0.6M75.3 127.4h0.6M68.4 123.8h0.6M44.3 138.8h0.6M58.6 122.1h0.6M54.7 133.5h0.6M68.2 118.4h0.6M59.8 119.2h0.6M66.2 122.5h0.6M54.1 122.0h0.6M55.1 121.0h0.6M52.0 132.9h0.6M43.9 139.8h0.6M49.6 126.8h0.6M73.5 123.8h0.6M75.3 124.2h0.6M51.5 137.7h0.6M49.4 133.6h0.6M48.7 129.8h0.6M53.5 139.2h0.6M43.8 132.2h0.6M51.4 133.4h0.6M67.5 128.4h0.6M70.0 130.8h0.6M76.3 118.0h0.6M56.3 129.3h0.6M35.9 142.9h0.6M51.9 131.6h0.6M49.0 139.2h0.6M56.6 134.5h0.6M54.2 140.2h0.6M67.4 121.0h0.6M50.3 136.0h0.6M55.2 123.7h0.6M75.2 114.2h0.6M61.1 134.4h0.6M38.7 136.2h0.6M61.3 112.4h0.6M60.6 121.7h0.6M61.4 121.3h0.6M59.3 114.0h0.6M47.6 134.1h0.6M48.9 137.5h0.6M57.2 123.8h0.6M41.8 142.5h0.6M42.3 122.3h0.6M71.5 123.9h0.6M43.5 135.0h0.6M67.2 136.2h0.6M68.4 120.9h0.6M56.4 127.5h0.6M52.2 129.9h0.6M70.0 117.5h0.6M41.4 133.8h0.6M76.7 120.5h0.6M48.3 134.1h0.6M58.2 128.6h0.6M46.2 135.4h0.6M43.7 130.6h0.6M72.9 130.5h0.6M55.0 122.0h0.6M65.2 128.7h0.6M42.7 134.5h0.6M56.2 134.6h0.6M43.2 133.9h0.6M59.9 132.9h0.6M63.4 127.0h0.6M65.7 130.0h0.6M68.2 133.9h0.6M50.7 132.5h0.6M63.7 124.6h0.6M45.7 118.4h0.6M71.6 119.2h0.6M57.8 132.8h0.6M69.1 118.8h0.6M53.5 129.9h0.6M63.7 122.6h0.6M54.1 116.6h0.6M43.9 140.7h0.6M62.2 119.8h0.6M43.5 126.4h0.6M40.8 143.2h0.6M59.7 128.5h0.6M70.8 123.2h0.6M65.4 123.5h0.6M46.3 129.5h0.6M41.4 142.3h0.6M51.0 132.7h0.6M48.7 125.8h0.6M52.3 123.1h0.6M72.6 123.8h0.6M52.8 124.9h0.6M50.0 142.0h0.6M41.5 128.1h0.6M49.9 138.6h0.6M49.1 130.2h0.6M62.7 129.3h0.6M55.7 132.9h0.6M51.2 119.2h0.6M59.9 129.9h0.6M58.5 124.7h0.6M61.4 119.0h0.6M72.6 125.4h0.6M47.5 135.5h0.6M55.2 131.4h0.6M59.8 135.1h0.6M58.4 133.4h0.6M66.2 122.9h0.6M44.0 120.6h0.6M45.1 135.3h0.6M41.0 134.3h0.6M28.9 139.0h0.6M37.6 136.0h0.6M40.4 122.6h0.6M32.7 125.7h0.6M28.8 122.8h0.6M41.8 110.3h0.6M28.9 136.3h0.6M33.5 131.6h0.6M37.1 114.0h0.6M30.3 129.7h0.6M31.4 116.3h0.6M28.4 118.6h0.6M39.5 133.5h0.6M47.6 136.4h0.6M37.1 128.8h0.6M36.5 112.0h0.6M42.6 119.4h0.6M40.9 133.1h0.6M42.1 118.3h0.6M30.1 123.7h0.6M34.9 122.6h0.6M33.3 119.6h0.6M59.8 120.2h0.6M38.9 127.7h0.6M50.6 133.1h0.6M51.4 143.9h0.6M66.3 122.2h0.6M52.8 107.5h0.6M60.9 118.3h0.6M37.1 115.3h0.6M64.6 141.3h0.6M36.1 106.9h0.6" stroke="#444" stroke-width="0.6" fill="none"/>
<line x1="47.3" y1="102.1" x2="47.3" y2="162" stroke="#e85a7a" stroke-width="0.9"/>
<line x1="25.5" y1="141.3" x2="92.5" y2="141.3" stroke="#e85a7a" stroke-width="0.9"/>
<rect x="25.5" y="102.1" width="67" height="59.9" fill="none" stroke="#6464f8" stroke-width="1"/>
<path d="M23.1 160.0h2.4M23.5 158.1h2M23.5 156.9h2M23.5 156.1h2M23.5 155.5h2M23.5 155.0h2M23.5 154.6h2M23.5 154.2h2M23.5 153.9h2M23.1 153.6h2.4M23.5 148.9h2M23.5 146.2h2M23.5 144.2h2M23.5 142.7h2M23.5 141.5h2M23.5 140.5h2M23.5 139.5h2M23.5 138.8h2M23.1 138.0h2.4M23.5 133.2h2M23.5 130.3h2M23.5 128.3h2M23.5 126.7h2M23.5 125.5h2M23.5 124.4h2M23.5 123.4h2M23.5 122.6h2M23.1 121.9h2.4M23.5 116.3h2M23.5 113.1h2M23.5 110.8h2M23.5 109.1h2M23.5 107.6h2M23.5 106.4h2M23.5 105.3h2M23.5 104.4h2M25.5 162.0v2.2M30.5 162.0v1.6M33.5 162.0v1.6M35.6 162.0v1.6M37.2 162.0v1.6M38.5 162.0v1.6M39.7 162.0v1.6M40.6 162.0v1.6M41.5 162.0v1.6M42.2 162.0v2.2M49.1 162.0v1.6M53.1 162.0v1.6M56.0 162.0v1.6M58.2 162.0v1.6M60.0 162.0v1.6M61.5 162.0v1.6M62.8 162.0v1.6M64.0 162.0v1.6M65.0 162.0v2.2M73.0 162.0v1.6M77.7 162.0v1.6M81.0 162.0v1.6M83.5 162.0v1.6M85.6 162.0v1.6M87.4 162.0v1.6M88.9 162.0v1.6M90.3 162.0v1.6" stroke="#6464f8" stroke-width=".7" fill="none"/>
<path d="M18.3 158.4l1 -.3l.6 .8l-.4 .9l1.6 1.2M18.3 152.0l1 -.3l.6 .8l-.4 .9l1.6 1.2M18.3 136.4l1 -.3l.6 .8l-.4 .9l1.6 1.2M18.3 120.3l1 -.3l.6 .8l-.4 .9l1.6 1.2M18.3 101.9l1 -.3l.6 .8l-.4 .9l1.6 1.2M24.0 165.4l1 -.3l.6 .8l-.4 .9l1.6 1.2M40.8 165.4l1 -.3l.6 .8l-.4 .9l1.6 1.2M63.5 165.4l1 -.3l.6 .8l-.4 .9l1.6 1.2M90.0 165.4l1 -.3l.6 .8l-.4 .9l1.6 1.2" stroke="#5a5af5" stroke-width="1.05" fill="none" stroke-linejoin="round"/>
<text x="26.8" y="106.4" font-size="4.3" text-anchor="start" fill="#f04a68" font-weight="bold" stroke="#f04a68" stroke-width="0.18">Q1-UL</text>
<text x="26.8" y="110.5" font-size="4.3" text-anchor="start" fill="#f04a68" font-weight="bold" stroke="#f04a68" stroke-width="0.18">0.4%</text>
<text x="91.5" y="106.4" font-size="4.3" text-anchor="end" fill="#f04a68" font-weight="bold" stroke="#f04a68" stroke-width="0.18">Q1-UR</text>
<text x="91.5" y="110.5" font-size="4.3" text-anchor="end" fill="#f04a68" font-weight="bold" stroke="#f04a68" stroke-width="0.18">1.8%</text>
<text x="26.8" y="157.1" font-size="4.3" text-anchor="start" fill="#f04a68" font-weight="bold" stroke="#f04a68" stroke-width="0.18">Q1-LL</text>
<text x="26.8" y="161" font-size="4.3" text-anchor="start" fill="#f04a68" font-weight="bold" stroke="#f04a68" stroke-width="0.18">90.3%</text>
<text x="91.5" y="157.1" font-size="4.3" text-anchor="end" fill="#f04a68" font-weight="bold" stroke="#f04a68" stroke-width="0.18">Q1-LR</text>
<text x="91.5" y="161" font-size="4.3" text-anchor="end" fill="#f04a68" font-weight="bold" stroke="#f04a68" stroke-width="0.18">7.4%</text>
<text x="56.4" y="99.2" font-size="7.35" text-anchor="middle" fill="#111" stroke="#111" stroke-width="0.18">Control</text>
<rect x="100.2" y="100.1" width="76.5" height="69.5" fill="#e9eef3"/>
<rect x="108.2" y="100.5" width="65.3" height="61.5" fill="#fff"/>
<clipPath id="cp22"><rect x="108.2" y="100.5" width="65.3" height="61.5"/></clipPath>
<ellipse cx="122.5" cy="150.5" rx="13.5" ry="4.7" transform="rotate(-38 122.5 150.5)" fill="#000" clip-path="url(#cp22)"/>
<path d="M112.4 160.8h0.8M115.3 161.0h0.8M120.0 156.7h0.8M134.7 138.5h0.8M109.5 160.7h0.8M128.4 139.4h0.8M136.2 143.7h0.8M121.8 154.2h0.8M120.3 158.4h0.8M128.8 148.3h0.8M137.8 146.6h0.8M140.6 133.3h0.8M132.1 145.0h0.8M136.8 138.5h0.8M119.1 152.4h0.8M111.8 150.6h0.8M119.6 151.5h0.8M123.5 146.6h0.8M112.4 159.3h0.8M126.2 138.9h0.8M121.3 149.1h0.8M117.3 153.5h0.8M111.3 148.1h0.8M144.8 141.2h0.8M126.0 150.2h0.8M113.8 153.7h0.8M142.6 141.6h0.8M112.5 146.3h0.8M133.0 140.9h0.8M134.3 138.3h0.8M132.9 137.8h0.8M121.0 150.5h0.8M114.2 157.4h0.8M112.7 146.0h0.8M128.5 146.4h0.8M130.0 151.6h0.8M127.4 147.4h0.8M119.9 158.3h0.8M138.3 146.0h0.8M137.1 140.6h0.8M140.3 138.7h0.8M133.1 144.4h0.8M138.9 135.8h0.8M147.0 142.7h0.8M130.6 146.5h0.8M132.4 145.7h0.8M130.8 148.9h0.8M131.8 150.8h0.8M127.7 140.0h0.8M121.0 152.6h0.8M129.0 148.3h0.8M139.1 141.6h0.8M116.0 159.4h0.8M118.8 152.2h0.8M126.0 146.5h0.8M117.8 151.2h0.8M113.2 152.2h0.8M116.9 150.7h0.8M120.1 153.3h0.8M117.9 153.2h0.8M127.3 151.6h0.8M134.2 134.9h0.8M122.4 142.3h0.8M138.8 140.6h0.8M127.5 141.9h0.8M129.9 143.2h0.8M128.5 145.9h0.8M117.7 148.0h0.8M123.3 142.2h0.8M126.6 148.5h0.8M131.3 146.6h0.8M124.1 140.4h0.8M128.4 149.7h0.8M119.2 154.5h0.8M137.2 141.3h0.8M123.0 150.6h0.8M130.9 147.9h0.8M117.5 154.9h0.8M130.4 146.5h0.8M122.1 150.0h0.8M132.5 141.3h0.8M127.5 151.0h0.8M128.0 150.7h0.8M125.2 149.5h0.8M131.1 137.8h0.8M109.9 155.7h0.8M131.1 138.7h0.8M132.0 148.5h0.8M119.8 155.1h0.8M123.5 150.1h0.8M119.2 152.4h0.8M122.2 147.2h0.8M133.5 146.0h0.8M115.1 151.3h0.8M127.9 142.3h0.8M133.6 146.1h0.8M130.5 147.6h0.8M136.9 139.2h0.8M119.8 146.6h0.8M126.5 141.4h0.8M147.0 135.8h0.8M124.6 151.0h0.8M125.8 155.5h0.8M122.4 148.6h0.8M128.4 145.8h0.8M115.9 151.4h0.8M125.4 156.8h0.8M115.9 159.0h0.8M111.2 155.0h0.8M116.3 148.7h0.8M127.1 142.3h0.8M116.8 148.3h0.8M112.9 160.1h0.8M125.4 148.1h0.8M122.8 146.1h0.8M110.7 158.7h0.8M128.4 153.7h0.8M113.6 156.6h0.8M117.1 153.1h0.8M121.8 161.0h0.8M128.5 141.8h0.8M115.3 154.2h0.8M124.3 156.7h0.8M125.2 148.9h0.8M127.9 137.2h0.8M131.7 139.4h0.8M109.3 150.0h0.8M132.2 140.0h0.8M126.8 148.9h0.8M129.9 136.8h0.8M136.3 147.5h0.8M121.9 157.4h0.8M125.7 152.1h0.8M119.1 149.7h0.8M126.8 147.5h0.8M139.1 140.4h0.8M126.2 152.5h0.8M120.8 158.4h0.8M140.2 126.1h0.8M113.1 154.5h0.8M120.7 146.4h0.8M122.5 149.0h0.8M112.9 159.2h0.8M135.8 151.6h0.8M132.4 142.4h0.8M124.9 153.3h0.8M124.2 149.9h0.8M121.9 150.9h0.8M122.9 144.9h0.8M114.3 160.4h0.8M135.1 157.8h0.8M130.2 142.1h0.8M113.7 152.9h0.8M130.3 138.3h0.8M137.8 136.7h0.8M124.9 148.8h0.8M122.8 150.5h0.8M127.9 152.0h0.8M119.2 151.7h0.8M116.8 156.7h0.8M125.1 140.4h0.8M128.1 143.0h0.8M118.7 152.8h0.8M114.2 145.3h0.8M118.3 154.5h0.8M119.5 157.3h0.8M115.3 156.7h0.8M110.9 160.7h0.8M131.3 143.8h0.8M117.5 148.6h0.8M124.1 149.6h0.8M137.6 136.0h0.8M119.5 153.5h0.8M128.6 146.2h0.8M112.1 159.4h0.8M114.8 150.1h0.8M129.3 145.0h0.8M125.4 157.1h0.8M109.6 159.5h0.8M124.5 145.4h0.8M117.7 159.2h0.8M129.2 145.3h0.8M121.4 142.6h0.8M119.5 150.7h0.8M126.8 155.6h0.8M125.7 139.6h0.8M123.7 149.9h0.8M113.3 153.9h0.8M126.0 147.4h0.8M119.2 151.0h0.8M119.2 148.7h0.8M121.9 138.1h0.8M125.5 147.0h0.8M132.0 143.1h0.8M121.3 150.7h0.8M116.8 149.6h0.8M118.8 150.2h0.8M131.8 154.1h0.8M113.6 151.7h0.8M119.4 151.2h0.8M113.0 151.6h0.8M116.1 154.3h0.8M122.3 151.7h0.8M146.8 137.5h0.8M120.5 153.0h0.8M125.5 148.1h0.8M124.9 150.3h0.8M123.2 152.7h0.8M123.5 149.5h0.8M139.9 136.7h0.8M124.0 155.3h0.8M135.2 137.0h0.8M128.6 145.2h0.8M113.7 152.7h0.8M116.6 152.5h0.8M123.0 157.4h0.8M112.4 154.8h0.8M134.3 143.8h0.8M131.9 153.6h0.8M129.0 147.9h0.8M114.2 156.1h0.8M125.4 144.3h0.8M112.6 145.5h0.8M141.5 130.7h0.8M120.3 147.5h0.8M128.0 150.8h0.8M128.5 149.1h0.8M116.1 148.9h0.8M121.5 154.2h0.8M118.4 150.4h0.8M134.9 149.7h0.8M120.7 159.1h0.8M123.6 152.9h0.8M125.1 146.4h0.8M124.1 158.0h0.8M121.2 154.3h0.8M114.6 155.5h0.8M133.5 146.1h0.8M121.6 147.3h0.8M125.1 152.6h0.8M115.4 157.2h0.8M123.9 141.5h0.8M121.6 153.9h0.8M115.3 156.1h0.8M117.1 153.0h0.8M143.3 134.1h0.8M120.2 156.4h0.8M113.3 152.2h0.8M130.5 139.1h0.8M131.4 147.4h0.8M121.4 152.5h0.8M130.8 135.6h0.8M111.3 160.0h0.8M115.2 147.9h0.8M135.5 141.9h0.8M124.8 151.2h0.8M141.4 128.2h0.8M125.2 144.5h0.8M129.3 149.5h0.8M110.3 153.0h0.8M114.5 159.3h0.8M118.5 152.5h0.8M131.0 144.5h0.8M112.3 154.3h0.8M131.0 145.7h0.8M132.6 146.7h0.8M126.0 146.6h0.8M132.4 143.1h0.8M130.1 139.3h0.8M122.4 148.8h0.8M118.1 157.8h0.8M128.1 140.6h0.8M122.9 149.1h0.8M113.9 160.3h0.8M124.7 151.3h0.8M127.0 145.8h0.8M111.5 159.9h0.8M119.4 158.4h0.8M119.4 152.0h0.8M119.3 156.5h0.8M122.2 151.1h0.8M126.2 148.3h0.8M113.7 154.9h0.8M126.4 152.9h0.8M138.9 138.9h0.8M120.3 151.5h0.8M122.1 157.8h0.8M114.9 153.1h0.8M129.0 150.7h0.8M128.3 153.8h0.8M120.7 143.7h0.8M121.8 155.9h0.8M127.6 149.6h0.8M126.8 148.4h0.8M122.5 152.6h0.8M129.8 139.1h0.8M129.5 146.4h0.8M118.3 146.7h0.8M129.7 144.2h0.8M136.2 134.0h0.8M123.7 150.3h0.8M119.3 148.8h0.8M123.2 150.7h0.8M131.4 136.6h0.8M134.9 138.3h0.8M123.6 147.8h0.8M128.2 145.2h0.8M141.2 141.7h0.8M133.1 153.2h0.8M118.4 158.0h0.8M118.6 152.4h0.8M126.0 146.5h0.8M117.9 152.8h0.8M134.9 140.3h0.8M119.2 152.8h0.8M138.8 142.1h0.8M121.0 158.2h0.8M135.8 142.1h0.8M125.3 148.8h0.8M137.1 142.2h0.8M141.3 138.1h0.8M142.9 143.8h0.8M130.3 140.0h0.8M114.0 150.6h0.8M116.2 154.4h0.8M135.8 139.2h0.8M135.1 141.9h0.8M126.3 134.9h0.8M112.2 154.8h0.8M145.8 129.1h0.8M114.8 149.9h0.8M129.7 141.8h0.8M109.3 159.5h0.8M119.4 154.6h0.8M132.1 138.3h0.8M128.6 137.3h0.8M115.4 157.7h0.8M127.6 155.7h0.8M133.7 142.2h0.8M128.0 141.1h0.8M110.9 160.3h0.8M132.9 149.8h0.8M116.8 145.1h0.8M134.5 145.8h0.8M114.6 146.9h0.8M124.1 156.3h0.8M122.5 154.3h0.8M114.6 155.0h0.8M121.7 152.3h0.8M116.0 150.2h0.8M132.1 148.7h0.8M122.0 153.7h0.8M132.6 142.5h0.8M132.9 149.4h0.8M126.6 139.2h0.8M113.3 157.1h0.8M124.1 143.4h0.8M135.7 140.0h0.8M132.5 145.3h0.8M130.2 136.7h0.8M137.2 140.4h0.8M111.1 160.8h0.8M126.9 144.2h0.8M128.0 145.9h0.8M124.3 154.4h0.8M112.9 159.6h0.8M128.5 153.8h0.8M119.6 147.7h0.8M137.3 132.9h0.8M137.5 144.6h0.8M116.7 148.5h0.8M117.2 160.6h0.8M116.1 155.5h0.8M124.6 152.2h0.8M116.4 153.7h0.8M142.9 139.7h0.8M125.6 154.1h0.8M125.9 150.3h0.8M124.0 143.0h0.8M117.8 159.0h0.8M121.9 151.7h0.8M128.2 152.6h0.8M122.9 143.1h0.8M119.6 155.1h0.8M120.0 150.6h0.8M125.5 148.2h0.8M142.2 139.6h0.8M115.2 160.4h0.8M133.1 149.4h0.8M138.4 140.6h0.8M113.0 160.8h0.8M137.0 141.0h0.8M133.3 136.8h0.8M127.0 152.5h0.8M130.3 140.7h0.8M135.5 138.2h0.8M123.7 152.0h0.8M124.4 146.0h0.8M113.8 155.4h0.8M112.3 146.7h0.8M122.6 146.4h0.8M120.7 146.7h0.8M136.5 136.7h0.8M123.5 152.5h0.8M113.1 156.7h0.8M131.5 143.0h0.8M132.4 143.5h0.8M130.0 149.7h0.8M125.6 153.5h0.8M118.4 155.9h0.8M118.1 153.0h0.8M139.4 141.8h0.8M130.3 143.2h0.8M124.7 148.1h0.8M128.6 147.5h0.8M120.2 150.2h0.8M113.8 152.3h0.8M117.3 148.9h0.8M123.1 148.9h0.8M110.6 161.1h0.8M113.3 161.1h0.8M120.8 153.3h0.8M129.4 145.7h0.8M111.5 157.4h0.8M117.9 150.6h0.8M113.9 158.4h0.8M113.4 156.4h0.8M146.2 139.0h0.8M120.6 147.7h0.8M117.2 153.4h0.8M119.4 152.7h0.8M130.6 143.6h0.8M132.2 143.8h0.8M125.8 148.1h0.8M129.9 140.7h0.8M134.1 144.6h0.8M130.6 145.2h0.8M128.5 147.9h0.8M127.3 153.3h0.8M135.4 143.8h0.8M121.9 153.1h0.8M136.2 147.6h0.8M118.8 152.3h0.8M117.1 148.4h0.8M118.8 151.7h0.8M116.3 150.5h0.8M119.2 153.0h0.8M129.9 144.6h0.8M137.2 139.7h0.8M118.6 156.0h0.8M116.5 159.3h0.8M135.7 143.3h0.8M121.4 153.1h0.8M125.6 147.7h0.8M124.1 147.9h0.8M131.7 144.2h0.8M115.7 155.6h0.8M131.2 139.5h0.8M129.8 143.8h0.8M122.6 151.6h0.8M118.7 150.5h0.8M127.6 148.5h0.8M124.7 152.6h0.8M114.9 152.3h0.8M124.6 157.5h0.8M129.4 151.4h0.8M123.8 149.7h0.8M125.0 154.7h0.8M143.5 136.3h0.8M129.8 148.7h0.8M112.3 155.4h0.8M123.8 148.2h0.8M126.1 147.6h0.8M115.1 156.8h0.8M123.7 148.3h0.8M113.0 151.5h0.8M127.8 149.4h0.8M128.3 145.0h0.8M132.9 151.1h0.8M125.6 155.3h0.8M118.2 153.7h0.8M126.3 149.3h0.8M128.2 152.4h0.8M140.5 143.0h0.8M141.8 140.5h0.8M129.0 141.5h0.8M132.3 147.0h0.8M129.4 139.9h0.8M138.3 139.2h0.8M141.4 140.6h0.8M130.4 146.3h0.8M132.0 142.0h0.8M138.0 141.0h0.8M135.4 140.6h0.8M133.6 143.5h0.8M135.8 137.7h0.8M127.7 141.1h0.8M125.9 144.8h0.8M135.5 136.0h0.8M140.5 142.7h0.8M146.3 145.3h0.8M134.4 144.7h0.8M132.6 147.9h0.8M133.1 138.3h0.8M134.0 141.5h0.8M132.9 138.1h0.8M135.5 143.9h0.8M141.8 137.8h0.8M134.4 137.7h0.8M144.3 141.6h0.8M131.0 143.9h0.8M131.0 147.3h0.8M141.1 141.4h0.8M131.1 149.9h0.8M131.2 149.3h0.8M128.9 145.5h0.8M124.7 146.9h0.8M135.8 138.2h0.8M141.2 133.1h0.8M140.7 145.1h0.8M137.7 137.2h0.8M135.3 146.9h0.8M127.9 142.0h0.8M135.8 137.6h0.8M130.2 148.1h0.8M126.1 145.8h0.8M128.3 141.7h0.8M142.7 142.8h0.8M133.7 136.3h0.8M131.4 139.7h0.8M129.8 146.8h0.8M132.0 148.9h0.8M135.7 140.2h0.8M132.0 139.0h0.8M134.2 150.4h0.8M139.9 137.6h0.8M129.4 141.5h0.8M125.8 146.8h0.8M134.8 145.6h0.8M134.1 129.4h0.8M135.5 135.9h0.8M139.9 140.4h0.8M130.6 145.6h0.8M136.2 140.1h0.8M134.2 140.5h0.8M133.6 143.9h0.8M129.8 148.3h0.8M139.1 135.7h0.8M133.5 139.8h0.8M132.3 145.5h0.8M136.9 138.0h0.8M144.4 129.3h0.8M125.5 145.8h0.8M132.9 137.3h0.8M144.2 137.4h0.8M144.8 138.2h0.8M127.1 143.0h0.8M130.6 143.0h0.8M123.6 149.4h0.8M135.8 145.6h0.8M127.3 149.9h0.8M128.5 146.2h0.8M141.5 138.5h0.8M129.8 150.1h0.8M125.5 149.9h0.8M134.7 143.6h0.8M132.8 138.3h0.8M135.4 142.0h0.8M140.8 139.6h0.8M130.4 144.6h0.8M131.3 139.5h0.8M134.0 134.6h0.8M133.0 145.2h0.8M142.6 139.4h0.8M139.5 139.2h0.8M132.7 139.2h0.8M132.4 141.2h0.8M134.3 141.6h0.8M137.3 143.1h0.8M124.1 148.8h0.8M125.9 143.9h0.8M129.1 143.1h0.8M127.5 141.4h0.8M134.2 149.6h0.8M129.6 142.0h0.8M137.2 146.2h0.8M132.9 144.2h0.8M139.2 146.6h0.8M133.7 138.1h0.8M135.1 144.8h0.8M130.1 141.1h0.8M128.4 142.2h0.8M136.6 137.7h0.8M129.0 140.0h0.8M133.3 139.0h0.8M137.5 139.0h0.8M137.9 146.7h0.8M124.5 146.4h0.8M126.8 140.5h0.8M145.1 137.9h0.8M127.5 152.0h0.8M135.2 130.9h0.8M128.4 147.6h0.8M131.1 138.2h0.8M135.4 133.6h0.8M129.1 147.9h0.8M141.2 143.8h0.8M124.9 155.5h0.8M132.4 143.4h0.8M129.1 143.8h0.8M135.6 142.0h0.8M138.3 142.1h0.8M141.0 141.7h0.8M141.7 143.3h0.8M131.7 145.6h0.8M129.4 147.8h0.8M135.8 142.4h0.8M128.9 142.6h0.8M122.8 151.5h0.8M124.3 154.8h0.8M132.2 146.9h0.8M126.7 138.2h0.8M136.2 147.7h0.8M132.3 140.1h0.8M128.7 155.5h0.8M138.4 148.8h0.8M128.1 149.2h0.8M138.6 147.5h0.8M131.2 141.0h0.8M140.7 137.5h0.8M133.4 140.0h0.8M130.6 146.1h0.8M131.6 144.3h0.8M133.4 143.8h0.8M136.0 141.7h0.8M139.7 145.1h0.8M128.2 146.0h0.8M126.6 145.1h0.8M137.0 140.9h0.8M133.9 144.3h0.8M139.4 140.7h0.8M133.6 138.1h0.8M141.0 135.6h0.8M135.8 139.6h0.8M124.8 143.8h0.8M127.7 139.1h0.8M134.8 138.8h0.8M122.4 138.0h0.8M132.5 141.5h0.8M134.1 136.2h0.8M138.3 137.7h0.8M137.4 139.0h0.8M128.7 153.1h0.8M143.1 144.5h0.8M132.7 152.1h0.8M133.8 142.3h0.8M127.9 143.5h0.8M139.8 141.8h0.8M131.0 139.3h0.8M134.4 141.2h0.8M134.2 138.4h0.8M132.9 142.3h0.8M131.5 146.6h0.8M138.9 134.1h0.8M137.0 141.0h0.8M137.9 140.1h0.8M124.6 148.5h0.8M123.9 150.1h0.8M141.5 135.4h0.8M137.0 139.5h0.8M123.4 146.8h0.8M132.6 136.0h0.8M136.7 146.4h0.8M129.5 147.5h0.8M132.4 145.6h0.8M141.6 134.1h0.8M126.2 139.1h0.8M136.3 141.4h0.8M127.3 142.0h0.8M128.7 152.7h0.8M149.3 139.5h0.8M135.8 138.3h0.8M133.3 147.9h0.8M132.7 145.6h0.8M131.7 142.9h0.8M124.7 140.9h0.8M136.7 142.7h0.8M138.2 142.9h0.8M132.7 146.5h0.8M131.9 140.9h0.8M126.5 146.8h0.8M134.7 141.8h0.8M122.9 149.1h0.8M131.5 141.0h0.8M143.0 141.1h0.8M132.9 145.3h0.8M146.8 132.5h0.8M128.4 147.5h0.8M133.9 146.4h0.8M133.9 143.7h0.8M138.8 140.5h0.8M141.1 141.0h0.8M132.8 139.7h0.8M126.7 149.7h0.8M139.6 135.9h0.8M137.2 141.1h0.8M140.0 143.7h0.8M124.2 146.4h0.8M138.1 144.6h0.8M133.8 145.2h0.8M141.0 143.7h0.8M139.6 132.5h0.8M121.4 133.5h0.8M131.0 140.2h0.8M137.5 149.0h0.8M129.9 146.3h0.8M135.7 140.3h0.8M136.1 141.3h0.8M129.7 147.2h0.8M128.6 145.2h0.8M139.2 149.2h0.8M124.4 149.1h0.8M132.5 137.8h0.8M135.4 136.2h0.8M137.7 139.7h0.8M128.6 145.9h0.8M144.3 139.6h0.8M146.1 139.0h0.8M129.7 149.6h0.8" stroke="#000" stroke-width="0.8" fill="none"/>
<path d="M132.3 128.5h0.6M147.2 121.1h0.6M140.1 135.3h0.6M145.9 125.4h0.6M131.5 127.5h0.6M156.0 116.1h0.6M158.3 119.1h0.6M146.9 122.8h0.6M134.2 130.7h0.6M157.2 125.9h0.6M144.5 119.1h0.6M128.8 130.2h0.6M151.4 124.5h0.6M150.2 115.9h0.6M150.5 127.2h0.6M128.5 141.5h0.6M151.6 124.1h0.6M155.8 126.0h0.6M137.3 128.5h0.6M155.5 122.0h0.6M150.0 126.0h0.6M154.2 122.4h0.6M128.7 141.0h0.6M140.2 126.7h0.6M151.0 129.0h0.6M127.7 132.8h0.6M148.5 133.8h0.6M164.8 125.2h0.6M128.7 136.5h0.6M155.8 114.6h0.6M151.5 119.2h0.6M129.2 119.9h0.6M137.2 134.9h0.6M133.7 129.4h0.6M145.5 122.3h0.6M119.4 138.6h0.6M147.7 117.5h0.6M126.8 132.4h0.6M140.1 129.7h0.6M141.0 133.6h0.6M156.0 133.4h0.6M131.4 128.5h0.6M136.7 135.4h0.6M154.5 118.8h0.6M158.4 114.7h0.6M143.5 129.2h0.6M139.4 128.8h0.6M142.8 119.4h0.6M143.9 126.9h0.6M147.3 136.1h0.6M131.1 129.0h0.6M118.3 135.0h0.6M148.1 132.0h0.6M143.0 129.1h0.6M153.4 118.9h0.6M155.7 124.5h0.6M159.2 117.5h0.6M136.1 126.8h0.6M151.4 126.1h0.6M128.0 130.0h0.6M147.2 130.1h0.6M151.4 132.5h0.6M133.8 128.6h0.6M140.2 125.4h0.6M167.0 112.7h0.6M133.8 131.9h0.6M152.1 119.3h0.6M139.1 130.0h0.6M153.9 126.9h0.6M113.4 135.6h0.6M129.4 135.3h0.6M142.5 134.2h0.6M161.9 123.5h0.6M139.1 124.6h0.6M132.3 139.6h0.6M136.0 125.8h0.6M152.9 128.6h0.6M123.0 128.4h0.6M144.5 130.3h0.6M139.9 127.5h0.6M137.6 128.4h0.6M146.1 124.1h0.6M132.7 127.2h0.6M149.7 127.0h0.6M149.7 125.3h0.6M162.7 122.8h0.6M144.8 122.3h0.6M143.8 131.1h0.6M133.5 137.5h0.6M135.6 126.2h0.6M132.0 139.5h0.6M160.8 127.6h0.6M116.3 133.6h0.6M145.8 121.3h0.6M153.3 136.2h0.6M151.0 125.8h0.6M138.5 129.1h0.6M164.8 112.6h0.6M141.3 132.1h0.6M125.8 133.4h0.6M120.3 119.8h0.6M125.4 130.6h0.6M144.6 136.2h0.6M126.2 122.0h0.6M149.7 108.2h0.6M163.8 136.4h0.6M122.9 140.6h0.6M118.3 142.4h0.6M135.7 121.9h0.6M150.1 137.7h0.6" stroke="#444" stroke-width="0.6" fill="none"/>
<line x1="130" y1="100.5" x2="130" y2="162" stroke="#e85a7a" stroke-width="0.9"/>
<line x1="108.2" y1="141.2" x2="173.5" y2="141.2" stroke="#e85a7a" stroke-width="0.9"/>
<rect x="108.2" y="100.5" width="65.3" height="61.5" fill="none" stroke="#6464f8" stroke-width="1"/>
<path d="M105.8 159.9h2.4M106.2 157.9h2M106.2 156.8h2M106.2 156.0h2M106.2 155.4h2M106.2 154.8h2M106.2 154.4h2M106.2 154.0h2M106.2 153.7h2M105.8 153.4h2.4M106.2 148.6h2M106.2 145.8h2M106.2 143.8h2M106.2 142.2h2M106.2 140.9h2M106.2 139.9h2M106.2 138.9h2M106.2 138.1h2M105.8 137.4h2.4M106.2 132.4h2M106.2 129.5h2M106.2 127.4h2M106.2 125.8h2M106.2 124.5h2M106.2 123.4h2M106.2 122.4h2M106.2 121.6h2M105.8 120.8h2.4M106.2 115.1h2M106.2 111.8h2M106.2 109.5h2M106.2 107.6h2M106.2 106.2h2M106.2 104.9h2M106.2 103.8h2M106.2 102.8h2M108.2 162.0v2.2M113.1 162.0v1.6M116.0 162.0v1.6M118.0 162.0v1.6M119.6 162.0v1.6M120.9 162.0v1.6M122.0 162.0v1.6M122.9 162.0v1.6M123.8 162.0v1.6M124.5 162.0v2.2M131.2 162.0v1.6M135.1 162.0v1.6M137.9 162.0v1.6M140.0 162.0v1.6M141.8 162.0v1.6M143.3 162.0v1.6M144.6 162.0v1.6M145.7 162.0v1.6M146.7 162.0v2.2M154.5 162.0v1.6M159.0 162.0v1.6M162.3 162.0v1.6M164.8 162.0v1.6M166.8 162.0v1.6M168.5 162.0v1.6M170.0 162.0v1.6M171.3 162.0v1.6" stroke="#6464f8" stroke-width=".7" fill="none"/>
<path d="M101.0 158.3l1 -.3l.6 .8l-.4 .9l1.6 1.2M101.0 151.8l1 -.3l.6 .8l-.4 .9l1.6 1.2M101.0 135.8l1 -.3l.6 .8l-.4 .9l1.6 1.2M101.0 119.2l1 -.3l.6 .8l-.4 .9l1.6 1.2M101.0 100.4l1 -.3l.6 .8l-.4 .9l1.6 1.2M106.7 165.4l1 -.3l.6 .8l-.4 .9l1.6 1.2M123.0 165.4l1 -.3l.6 .8l-.4 .9l1.6 1.2M145.2 165.4l1 -.3l.6 .8l-.4 .9l1.6 1.2M171.0 165.4l1 -.3l.6 .8l-.4 .9l1.6 1.2" stroke="#5a5af5" stroke-width="1.05" fill="none" stroke-linejoin="round"/>
<text x="109.5" y="104.8" font-size="4.3" text-anchor="start" fill="#f04a68" font-weight="bold" stroke="#f04a68" stroke-width="0.18">Q1-UL</text>
<text x="109.5" y="108.9" font-size="4.3" text-anchor="start" fill="#f04a68" font-weight="bold" stroke="#f04a68" stroke-width="0.18">0.9%</text>
<text x="172.5" y="104.8" font-size="4.3" text-anchor="end" fill="#f04a68" font-weight="bold" stroke="#f04a68" stroke-width="0.18">Q1-UR</text>
<text x="172.5" y="108.9" font-size="4.3" text-anchor="end" fill="#f04a68" font-weight="bold" stroke="#f04a68" stroke-width="0.18">4.9%</text>
<text x="109.5" y="157.1" font-size="4.3" text-anchor="start" fill="#f04a68" font-weight="bold" stroke="#f04a68" stroke-width="0.18">Q1-LL</text>
<text x="109.5" y="161" font-size="4.3" text-anchor="start" fill="#f04a68" font-weight="bold" stroke="#f04a68" stroke-width="0.18">86.1%</text>
<text x="172.5" y="157.1" font-size="4.3" text-anchor="end" fill="#f04a68" font-weight="bold" stroke="#f04a68" stroke-width="0.18">Q1-LR</text>
<text x="172.5" y="161" font-size="4.3" text-anchor="end" fill="#f04a68" font-weight="bold" stroke="#f04a68" stroke-width="0.18">8.1%</text>
<text x="136.1" y="97.3" font-size="6.7" text-anchor="middle" fill="#111" stroke="#111" stroke-width="0.18">TMZ (10.0 μM)</text>
<rect x="185.6" y="101.2" width="67.9" height="60.1" fill="#fff"/>
<clipPath id="cp23"><rect x="185.6" y="101.2" width="67.9" height="60.1"/></clipPath>
<ellipse cx="202" cy="147.5" rx="11" ry="3" transform="rotate(-34 202 147.5)" fill="#000" clip-path="url(#cp23)"/>
<path d="M208.8 145.5h0.8M204.9 146.3h0.8M203.6 149.8h0.8M208.0 146.7h0.8M209.5 139.4h0.8M208.9 144.5h0.8M212.9 146.1h0.8M212.6 145.7h0.8M206.9 147.6h0.8M196.2 148.2h0.8M200.7 150.4h0.8M217.5 139.6h0.8M199.4 153.8h0.8M198.2 145.1h0.8M194.7 149.6h0.8M198.0 150.5h0.8M199.9 149.2h0.8M203.8 143.8h0.8M200.7 150.1h0.8M198.7 148.4h0.8M198.9 153.7h0.8M202.4 145.2h0.8M190.6 155.8h0.8M199.2 141.1h0.8M214.8 139.5h0.8M194.3 150.0h0.8M203.4 149.2h0.8M227.9 129.2h0.8M195.6 156.4h0.8M186.8 155.6h0.8M196.0 145.8h0.8M219.4 136.5h0.8M222.1 136.0h0.8M190.1 152.5h0.8M205.4 140.1h0.8M203.9 149.0h0.8M199.0 153.4h0.8M212.0 140.9h0.8M194.7 152.3h0.8M208.1 149.5h0.8M204.7 148.6h0.8M217.9 133.1h0.8M211.3 136.9h0.8M193.1 155.8h0.8M201.4 150.6h0.8M210.9 139.0h0.8M189.0 153.2h0.8M200.7 152.0h0.8M204.0 144.8h0.8M189.3 159.2h0.8M189.3 151.7h0.8M202.1 140.7h0.8M197.3 150.4h0.8M210.3 140.2h0.8M200.6 141.9h0.8M208.0 143.9h0.8M200.8 146.1h0.8M209.0 141.8h0.8M204.1 151.3h0.8M195.3 155.6h0.8M214.2 141.0h0.8M210.9 140.1h0.8M221.1 129.9h0.8M200.0 146.1h0.8M196.5 149.6h0.8M191.5 159.2h0.8M189.6 153.6h0.8M206.9 144.0h0.8M195.1 153.5h0.8M210.4 146.8h0.8M196.8 150.2h0.8M202.6 154.3h0.8M199.8 151.4h0.8M199.9 145.8h0.8M205.1 141.5h0.8M200.0 147.7h0.8M199.3 152.2h0.8M211.4 137.8h0.8M192.0 151.9h0.8M215.9 134.7h0.8M208.5 144.0h0.8M214.7 133.2h0.8M197.1 152.8h0.8M208.4 139.9h0.8M205.4 144.2h0.8M189.6 157.3h0.8M200.6 149.4h0.8M203.3 157.1h0.8M192.1 150.5h0.8M191.8 146.2h0.8M187.0 152.4h0.8M199.7 152.1h0.8M203.6 142.1h0.8M197.2 154.5h0.8M187.9 156.0h0.8M213.4 142.5h0.8M196.4 145.2h0.8M204.6 149.6h0.8M202.4 151.5h0.8M195.9 147.8h0.8M210.3 146.8h0.8M202.4 157.2h0.8M202.8 146.8h0.8M187.6 153.4h0.8M186.5 155.5h0.8M198.4 148.6h0.8M221.7 137.9h0.8M207.4 150.7h0.8M219.4 134.0h0.8M206.2 143.6h0.8M204.2 140.5h0.8M196.2 149.2h0.8M203.1 148.4h0.8M215.2 130.7h0.8M214.5 141.5h0.8M198.4 153.2h0.8M200.4 153.1h0.8M213.7 137.3h0.8M195.0 146.0h0.8M210.4 140.6h0.8M192.4 149.9h0.8M205.1 138.5h0.8M215.1 135.6h0.8M207.6 138.2h0.8M208.2 150.6h0.8M205.1 148.1h0.8M203.3 149.8h0.8M200.3 144.2h0.8M215.7 143.4h0.8M212.4 138.9h0.8M207.7 146.7h0.8M189.2 152.0h0.8M198.9 151.9h0.8M202.2 140.7h0.8M202.7 146.2h0.8M189.7 154.7h0.8M206.1 139.3h0.8M226.2 131.1h0.8M190.3 153.0h0.8M202.4 145.6h0.8M218.6 139.0h0.8M201.0 153.0h0.8M198.4 149.0h0.8M206.3 149.4h0.8M209.5 146.2h0.8M200.1 151.5h0.8M214.3 145.2h0.8M210.9 146.5h0.8M206.5 145.7h0.8M200.4 146.9h0.8M205.7 144.2h0.8M204.8 149.4h0.8M216.8 142.0h0.8M199.6 151.7h0.8M200.1 144.2h0.8M187.2 151.7h0.8M192.3 154.1h0.8M201.4 150.2h0.8M187.1 154.8h0.8M196.4 154.6h0.8M191.5 156.8h0.8M198.9 151.3h0.8M202.2 144.3h0.8M213.3 144.5h0.8M203.1 151.9h0.8M211.1 142.7h0.8M212.9 135.2h0.8M216.0 139.4h0.8M191.0 158.2h0.8M197.6 149.8h0.8M205.6 140.5h0.8M212.1 142.7h0.8M206.2 147.0h0.8M202.7 142.1h0.8M203.4 143.6h0.8M192.9 147.9h0.8M204.6 146.9h0.8M210.2 142.5h0.8M202.5 153.7h0.8M211.6 137.4h0.8M199.1 148.4h0.8M218.5 137.3h0.8M208.3 138.4h0.8M215.7 138.2h0.8M202.9 144.7h0.8M191.5 154.0h0.8M198.2 150.6h0.8M217.3 138.9h0.8M193.8 152.8h0.8M199.5 153.0h0.8M198.8 149.8h0.8M206.7 141.8h0.8M197.4 155.7h0.8M218.6 137.2h0.8M209.7 144.9h0.8M195.2 145.4h0.8M192.4 151.5h0.8M204.5 147.6h0.8M221.5 136.1h0.8M199.8 146.1h0.8M192.9 153.0h0.8M202.7 148.3h0.8M197.7 150.0h0.8M194.1 152.3h0.8M200.6 145.2h0.8M215.3 136.6h0.8M214.7 140.9h0.8M212.4 142.3h0.8M204.4 145.6h0.8M205.6 142.1h0.8M210.5 138.8h0.8M202.5 147.9h0.8M202.7 141.6h0.8M198.5 148.8h0.8M212.3 139.1h0.8M193.7 151.9h0.8M211.7 147.1h0.8M210.1 141.3h0.8M211.7 144.0h0.8M211.9 146.7h0.8M199.2 151.1h0.8M197.4 150.4h0.8M196.6 146.1h0.8M202.0 153.5h0.8M190.3 150.9h0.8M194.9 144.2h0.8M198.7 153.6h0.8M191.3 148.8h0.8M203.7 141.5h0.8M194.4 149.6h0.8M202.7 142.2h0.8M212.1 132.0h0.8M218.3 136.9h0.8M203.6 148.0h0.8M213.2 142.5h0.8M204.8 145.2h0.8M223.7 131.0h0.8M216.7 135.2h0.8M214.9 143.1h0.8M202.6 149.9h0.8M199.5 147.1h0.8M208.1 144.2h0.8M200.2 143.8h0.8M201.2 149.6h0.8M207.0 139.6h0.8M190.9 154.0h0.8M188.5 145.9h0.8M193.1 155.7h0.8M201.7 147.2h0.8M193.2 150.0h0.8M199.4 146.1h0.8M215.7 137.2h0.8M206.9 145.5h0.8M194.8 152.5h0.8M206.5 146.4h0.8M214.2 139.8h0.8M207.7 137.9h0.8M199.2 143.6h0.8M209.0 144.2h0.8M211.3 142.3h0.8M191.4 154.2h0.8M187.0 152.2h0.8M195.8 148.6h0.8M210.1 138.5h0.8M217.2 139.4h0.8M202.3 143.8h0.8M213.9 133.9h0.8M210.2 138.5h0.8M202.4 148.0h0.8M198.5 155.5h0.8M195.7 149.4h0.8M205.2 149.2h0.8M214.6 136.9h0.8M209.5 140.4h0.8M189.0 152.6h0.8M192.7 156.5h0.8M209.1 140.5h0.8M206.0 148.1h0.8M193.1 151.6h0.8M211.8 147.2h0.8M215.5 138.9h0.8M210.0 142.0h0.8M201.4 143.0h0.8M217.1 141.9h0.8M199.6 150.0h0.8M197.3 150.7h0.8M194.2 152.6h0.8M219.1 133.8h0.8M221.2 132.4h0.8M202.9 148.0h0.8M206.7 141.1h0.8M206.6 143.7h0.8M215.3 147.0h0.8M213.4 139.1h0.8M208.4 141.9h0.8M203.4 149.8h0.8M196.2 147.5h0.8M195.8 156.8h0.8M199.7 144.4h0.8M194.8 151.6h0.8M201.7 144.9h0.8M203.0 149.3h0.8M192.4 152.0h0.8M199.4 151.9h0.8M203.1 139.3h0.8M203.5 144.7h0.8M195.6 153.8h0.8M196.7 152.9h0.8M208.0 143.5h0.8M206.2 147.4h0.8M206.9 147.0h0.8M201.2 147.9h0.8M209.8 142.9h0.8M205.1 148.7h0.8M226.1 131.7h0.8M193.8 143.1h0.8M193.4 147.1h0.8M216.6 135.0h0.8M203.2 149.1h0.8M195.6 151.9h0.8M207.8 145.9h0.8M207.7 145.6h0.8M201.1 144.3h0.8M206.6 147.4h0.8M192.9 148.3h0.8M212.4 135.4h0.8M204.7 143.8h0.8M198.4 141.0h0.8M208.9 149.0h0.8M199.1 158.2h0.8M201.1 147.2h0.8M188.1 155.1h0.8M188.7 148.1h0.8M206.1 146.4h0.8M202.3 144.2h0.8M207.1 139.0h0.8M194.0 147.2h0.8M201.2 147.1h0.8M195.8 150.4h0.8M204.5 144.8h0.8M208.5 140.3h0.8M209.1 135.6h0.8M210.2 147.0h0.8M196.6 153.8h0.8M203.2 143.9h0.8M190.5 149.6h0.8M205.1 147.5h0.8M204.0 147.6h0.8M209.6 143.0h0.8M212.0 144.9h0.8M190.1 152.9h0.8M196.5 156.2h0.8M202.5 147.3h0.8M201.6 144.4h0.8M206.9 145.7h0.8M190.9 155.7h0.8M198.7 146.6h0.8M211.3 147.6h0.8M216.6 130.9h0.8M191.2 155.3h0.8M217.7 138.0h0.8M198.3 146.8h0.8M189.1 155.9h0.8M216.7 142.2h0.8M190.5 150.5h0.8M189.6 151.3h0.8M208.1 141.6h0.8M212.5 141.9h0.8M204.8 149.5h0.8M196.6 152.9h0.8M186.6 153.2h0.8M205.1 149.3h0.8M190.7 158.7h0.8M208.8 136.1h0.8M204.7 138.7h0.8M212.0 137.7h0.8M205.0 143.3h0.8M191.6 153.9h0.8M204.4 141.2h0.8M209.1 143.8h0.8M210.6 133.0h0.8M190.7 150.0h0.8M211.3 140.7h0.8M203.6 148.7h0.8M200.9 148.7h0.8M201.0 148.7h0.8M211.1 143.5h0.8M187.7 159.7h0.8M197.6 150.1h0.8M193.1 147.8h0.8M186.5 156.2h0.8M211.0 140.0h0.8M200.5 144.5h0.8M203.4 148.4h0.8M209.9 139.5h0.8M192.3 147.6h0.8M231.5 126.9h0.8M195.8 147.1h0.8M192.2 155.4h0.8M203.0 136.1h0.8M202.3 140.0h0.8M193.2 152.8h0.8M194.1 153.0h0.8M209.7 141.9h0.8M207.4 149.0h0.8M205.4 143.5h0.8M209.1 140.0h0.8M198.0 152.6h0.8M213.0 138.1h0.8M203.1 147.5h0.8M211.0 145.6h0.8M193.5 151.9h0.8M208.9 141.7h0.8M203.7 143.3h0.8M225.5 132.4h0.8M202.0 149.2h0.8M218.1 140.0h0.8M209.3 144.5h0.8M220.2 142.2h0.8M204.8 145.6h0.8M207.0 144.0h0.8M193.1 157.8h0.8M212.1 140.4h0.8M205.8 143.3h0.8M207.2 138.5h0.8M199.9 147.9h0.8M211.2 144.1h0.8M194.7 142.1h0.8M200.0 144.1h0.8M212.0 136.8h0.8M210.9 137.9h0.8M198.6 149.5h0.8M202.3 145.4h0.8M204.9 145.6h0.8M201.8 148.3h0.8M204.0 150.9h0.8M193.5 151.8h0.8M208.3 144.1h0.8M192.6 152.6h0.8M194.1 153.1h0.8M213.5 138.0h0.8M217.2 132.5h0.8M220.1 136.4h0.8M207.7 147.4h0.8M196.0 147.6h0.8M209.3 142.1h0.8M216.6 137.2h0.8M199.9 140.5h0.8M202.3 154.3h0.8M189.3 160.2h0.8M219.9 138.8h0.8M187.7 153.5h0.8M192.1 144.5h0.8M199.7 148.5h0.8M204.9 145.5h0.8M190.2 154.0h0.8M206.9 142.2h0.8M209.5 145.8h0.8M204.5 148.4h0.8M196.8 150.6h0.8M198.2 147.8h0.8M209.6 145.2h0.8M197.8 150.3h0.8M187.7 151.8h0.8M199.3 143.0h0.8M202.0 136.6h0.8M205.2 144.0h0.8M208.5 143.8h0.8M212.6 139.3h0.8M197.5 150.1h0.8M204.5 146.4h0.8M206.1 147.6h0.8M210.0 137.0h0.8M200.8 151.3h0.8M205.0 146.2h0.8M205.8 146.5h0.8M193.0 149.4h0.8M212.3 145.9h0.8M211.3 141.4h0.8M203.3 145.4h0.8M214.9 139.2h0.8M201.1 148.4h0.8M196.1 150.7h0.8M199.7 154.9h0.8M194.4 156.8h0.8M198.8 149.3h0.8M206.8 141.8h0.8M191.4 152.7h0.8M204.7 146.7h0.8M191.9 143.5h0.8M200.4 149.5h0.8M198.5 148.8h0.8M208.8 150.8h0.8M212.2 142.1h0.8M201.8 146.8h0.8M210.5 141.8h0.8M214.6 136.4h0.8M187.8 154.2h0.8M209.3 142.2h0.8M196.0 143.7h0.8M200.6 148.3h0.8M208.2 136.8h0.8M198.9 146.7h0.8M195.3 149.1h0.8M215.1 141.2h0.8M214.7 144.8h0.8M208.7 148.3h0.8M227.2 128.5h0.8M193.1 152.5h0.8M187.7 157.1h0.8M200.8 148.8h0.8M194.1 157.0h0.8M207.1 146.6h0.8M197.1 150.6h0.8M200.5 155.8h0.8M204.2 149.4h0.8M198.1 157.1h0.8M196.9 153.0h0.8M216.0 143.3h0.8M216.3 145.4h0.8M207.5 145.3h0.8M213.8 140.6h0.8M204.5 145.1h0.8M214.5 140.3h0.8M220.9 135.5h0.8M217.0 135.9h0.8M215.2 142.3h0.8M208.8 138.9h0.8M216.3 138.8h0.8M207.3 144.7h0.8M207.3 146.6h0.8M205.4 144.7h0.8M212.5 137.1h0.8M205.4 144.9h0.8M213.3 136.2h0.8M216.6 136.7h0.8M214.2 136.6h0.8M215.8 147.7h0.8M210.5 133.7h0.8M204.1 141.6h0.8M215.3 143.5h0.8M220.1 134.9h0.8M217.0 132.5h0.8M205.3 147.7h0.8M215.4 146.8h0.8M210.5 142.1h0.8M218.2 140.3h0.8M211.1 136.5h0.8M210.6 139.7h0.8M209.2 143.6h0.8M213.2 140.9h0.8M210.2 139.6h0.8M211.4 139.2h0.8M210.2 139.8h0.8M204.6 142.8h0.8M213.2 138.2h0.8M213.3 138.0h0.8M213.9 141.4h0.8M210.9 136.3h0.8M219.0 138.3h0.8M220.5 142.1h0.8M220.6 136.0h0.8M214.7 137.4h0.8M214.7 135.7h0.8M211.4 139.4h0.8M204.8 141.1h0.8M206.7 145.4h0.8M214.5 139.0h0.8M214.0 142.6h0.8M215.3 139.9h0.8M202.0 150.6h0.8M213.6 145.8h0.8M214.2 143.3h0.8M214.9 149.7h0.8M212.6 145.1h0.8M202.2 145.8h0.8M212.4 143.2h0.8M219.5 139.2h0.8M206.4 145.3h0.8M215.9 141.5h0.8M209.3 145.2h0.8M215.1 144.3h0.8M218.8 136.4h0.8M210.6 138.7h0.8M213.0 139.0h0.8M211.8 134.1h0.8M207.1 134.3h0.8M216.3 134.4h0.8M201.0 146.3h0.8M209.1 140.4h0.8M204.4 150.6h0.8M202.4 143.2h0.8M209.7 138.0h0.8M209.3 150.4h0.8M207.1 138.4h0.8M219.9 138.9h0.8M214.4 139.1h0.8M226.2 122.2h0.8M213.1 144.2h0.8M211.7 140.1h0.8M200.2 150.2h0.8M212.2 141.9h0.8M210.2 143.6h0.8M215.9 142.1h0.8M215.9 146.9h0.8M209.2 144.0h0.8M201.8 147.1h0.8M217.3 141.1h0.8M209.2 144.8h0.8M198.8 140.1h0.8M214.6 141.2h0.8M201.1 146.7h0.8M208.3 142.6h0.8M198.9 144.1h0.8M213.6 147.4h0.8M204.1 148.2h0.8M225.5 130.6h0.8M216.6 136.5h0.8M213.7 139.3h0.8M213.2 139.9h0.8M216.3 141.3h0.8M216.6 139.6h0.8M212.1 139.1h0.8M205.7 144.2h0.8M213.5 142.4h0.8M202.1 143.8h0.8M209.1 141.4h0.8M215.3 142.6h0.8M206.2 144.9h0.8M216.4 143.8h0.8M207.2 139.9h0.8M222.9 132.4h0.8M208.4 140.4h0.8M212.7 137.4h0.8M216.1 141.4h0.8M214.3 143.8h0.8M213.5 140.6h0.8M210.2 142.0h0.8M215.6 145.7h0.8M215.5 145.1h0.8M212.4 133.2h0.8M218.1 137.0h0.8M208.3 136.0h0.8M216.4 132.6h0.8M210.8 139.5h0.8M205.2 141.3h0.8M210.9 144.3h0.8M208.0 142.3h0.8M210.5 141.4h0.8M212.3 140.8h0.8M216.2 145.2h0.8M218.6 138.2h0.8M217.5 141.2h0.8M210.9 144.0h0.8M217.0 142.7h0.8M211.9 141.6h0.8M215.9 138.5h0.8M220.6 140.6h0.8M211.9 142.0h0.8M213.2 134.4h0.8M216.9 133.3h0.8M213.3 138.8h0.8M207.5 146.1h0.8M210.3 139.5h0.8M210.3 148.1h0.8M217.9 139.1h0.8M212.7 139.8h0.8M211.7 136.9h0.8M222.3 137.3h0.8M217.0 140.4h0.8M210.8 137.6h0.8M205.4 150.6h0.8M211.6 146.2h0.8M211.2 147.4h0.8M211.1 141.7h0.8M207.5 147.7h0.8M211.7 133.6h0.8M219.1 138.2h0.8M209.6 141.2h0.8M204.6 145.7h0.8M213.4 142.0h0.8M209.6 140.0h0.8M216.7 137.4h0.8M210.0 138.7h0.8M206.9 141.4h0.8M203.1 142.6h0.8M212.7 142.0h0.8M202.5 152.1h0.8M204.8 142.1h0.8M212.8 134.5h0.8M210.8 141.0h0.8M212.5 142.3h0.8M211.2 142.5h0.8M203.0 142.5h0.8M210.0 142.3h0.8M212.8 137.3h0.8M213.8 138.2h0.8M206.5 144.1h0.8M211.6 139.6h0.8M217.4 139.2h0.8M212.3 138.9h0.8M222.2 140.1h0.8M212.2 141.3h0.8M201.8 143.4h0.8M213.6 143.7h0.8M214.2 142.8h0.8M215.8 139.6h0.8M214.5 139.4h0.8M220.2 137.0h0.8M216.5 141.3h0.8M212.8 140.0h0.8M210.8 144.9h0.8M209.8 140.3h0.8" stroke="#000" stroke-width="0.8" fill="none"/>
<path d="M216.5 127.1h0.6M200.2 126.5h0.6M214.9 127.4h0.6M217.3 129.3h0.6M205.2 127.4h0.6M215.0 128.7h0.6M190.8 129.6h0.6M210.0 129.2h0.6M208.2 128.5h0.6M217.9 129.0h0.6M210.6 127.3h0.6M222.2 126.2h0.6M231.8 126.0h0.6M212.2 129.0h0.6M220.7 129.6h0.6M229.4 127.5h0.6M221.5 127.9h0.6M223.1 124.9h0.6M209.0 128.8h0.6M215.6 127.7h0.6M200.5 125.5h0.6M220.9 128.5h0.6M216.1 128.6h0.6M216.2 128.9h0.6M191.4 127.7h0.6M222.7 128.2h0.6M228.2 126.8h0.6M226.8 129.6h0.6M216.7 127.4h0.6M226.2 129.5h0.6M212.3 128.6h0.6M204.9 127.6h0.6M211.4 129.5h0.6M204.2 127.1h0.6M230.9 128.4h0.6M214.5 127.7h0.6M202.7 128.1h0.6M205.9 128.8h0.6M219.5 127.4h0.6M211.0 127.3h0.6M223.5 127.7h0.6M210.2 127.2h0.6M210.3 126.7h0.6M212.7 128.2h0.6M225.0 125.7h0.6M204.2 127.8h0.6M208.1 127.3h0.6M205.5 128.0h0.6M206.5 128.4h0.6M198.1 128.1h0.6M208.0 127.8h0.6M216.0 129.5h0.6M226.4 127.2h0.6M216.3 126.3h0.6M205.0 127.5h0.6M226.7 128.7h0.6M192.7 130.1h0.6M216.4 130.5h0.6M198.2 128.3h0.6M209.7 129.3h0.6M196.7 129.9h0.6M194.8 127.3h0.6M205.2 129.8h0.6M230.2 128.4h0.6M214.9 127.7h0.6M220.8 128.6h0.6M207.6 128.7h0.6M211.4 125.4h0.6M203.0 128.0h0.6M204.9 128.1h0.6M207.7 127.0h0.6M221.4 128.1h0.6M214.7 127.4h0.6M203.3 126.8h0.6M209.4 127.7h0.6M201.9 125.3h0.6M216.9 128.4h0.6M214.1 128.5h0.6M214.0 128.2h0.6M218.8 128.5h0.6M217.3 127.3h0.6M227.0 127.1h0.6M203.4 125.6h0.6M219.3 125.6h0.6M209.6 126.9h0.6M221.4 129.0h0.6M206.1 127.8h0.6M193.9 129.5h0.6M207.0 128.8h0.6M206.0 120.5h0.6M214.3 128.7h0.6M209.2 131.8h0.6M205.8 134.9h0.6M226.2 132.8h0.6M230.0 129.1h0.6M211.6 132.1h0.6M231.2 118.9h0.6M228.5 117.5h0.6M216.1 132.8h0.6M228.9 136.7h0.6M211.6 133.9h0.6M224.3 135.0h0.6M225.7 121.5h0.6M203.8 142.5h0.6M238.0 122.9h0.6M203.9 137.3h0.6M224.7 133.3h0.6M218.6 136.1h0.6M232.6 127.9h0.6M213.6 135.6h0.6M217.7 133.7h0.6M240.6 121.4h0.6M232.1 126.5h0.6M218.1 141.8h0.6M224.0 121.9h0.6M204.5 137.1h0.6M215.8 138.6h0.6M228.7 132.0h0.6M229.4 121.6h0.6M216.2 124.3h0.6M229.5 124.0h0.6M232.3 128.2h0.6M213.2 138.4h0.6M224.8 127.8h0.6M222.1 130.8h0.6M237.5 122.0h0.6M207.0 130.3h0.6M229.8 134.9h0.6M224.2 140.3h0.6M244.6 120.9h0.6M195.3 134.7h0.6M242.5 126.7h0.6M217.3 122.6h0.6M225.6 120.4h0.6M206.0 136.8h0.6M211.4 145.4h0.6M218.7 128.9h0.6M223.2 130.0h0.6M226.3 141.1h0.6M248.7 121.7h0.6M234.6 132.2h0.6M227.2 114.4h0.6M202.7 125.9h0.6M244.0 123.4h0.6M215.4 119.9h0.6M241.0 123.5h0.6M200.5 122.2h0.6M234.9 144.5h0.6M240.5 115.6h0.6M249.0 115.3h0.6" stroke="#444" stroke-width="0.6" fill="none"/>
<line x1="209" y1="101.2" x2="209" y2="161.3" stroke="#e85a7a" stroke-width="0.9"/>
<line x1="185.6" y1="140.4" x2="253.5" y2="140.4" stroke="#e85a7a" stroke-width="0.9"/>
<rect x="185.6" y="101.2" width="67.9" height="60.1" fill="none" stroke="#6464f8" stroke-width="1"/>
<path d="M183.2 159.3h2.4M183.6 157.3h2M183.6 156.2h2M183.6 155.4h2M183.6 154.8h2M183.6 154.3h2M183.6 153.9h2M183.6 153.5h2M183.6 153.2h2M183.2 152.9h2.4M183.6 148.2h2M183.6 145.4h2M183.6 143.5h2M183.6 142.0h2M183.6 140.7h2M183.6 139.7h2M183.6 138.8h2M183.6 138.0h2M183.2 137.3h2.4M183.6 132.4h2M183.6 129.5h2M183.6 127.5h2M183.6 125.9h2M183.6 124.6h2M183.6 123.5h2M183.6 122.6h2M183.6 121.8h2M183.2 121.0h2.4M183.6 115.5h2M183.6 112.3h2M183.6 110.0h2M183.6 108.2h2M183.6 106.7h2M183.6 105.5h2M183.6 104.4h2M183.6 103.5h2M185.6 161.3v2.2M190.7 161.3v1.6M193.7 161.3v1.6M195.8 161.3v1.6M197.5 161.3v1.6M198.8 161.3v1.6M199.9 161.3v1.6M200.9 161.3v1.6M201.8 161.3v1.6M202.6 161.3v2.2M209.5 161.3v1.6M213.6 161.3v1.6M216.5 161.3v1.6M218.7 161.3v1.6M220.5 161.3v1.6M222.1 161.3v1.6M223.4 161.3v1.6M224.6 161.3v1.6M225.7 161.3v2.2M233.7 161.3v1.6M238.5 161.3v1.6M241.8 161.3v1.6M244.4 161.3v1.6M246.5 161.3v1.6M248.3 161.3v1.6M249.9 161.3v1.6M251.3 161.3v1.6" stroke="#6464f8" stroke-width=".7" fill="none"/>
<path d="M178.4 157.7l1 -.3l.6 .8l-.4 .9l1.6 1.2M178.4 151.3l1 -.3l.6 .8l-.4 .9l1.6 1.2M178.4 135.7l1 -.3l.6 .8l-.4 .9l1.6 1.2M178.4 119.4l1 -.3l.6 .8l-.4 .9l1.6 1.2M178.4 101.0l1 -.3l.6 .8l-.4 .9l1.6 1.2M184.1 164.7l1 -.3l.6 .8l-.4 .9l1.6 1.2M201.1 164.7l1 -.3l.6 .8l-.4 .9l1.6 1.2M224.2 164.7l1 -.3l.6 .8l-.4 .9l1.6 1.2M251.0 164.7l1 -.3l.6 .8l-.4 .9l1.6 1.2" stroke="#5a5af5" stroke-width="1.05" fill="none" stroke-linejoin="round"/>
<text x="186.9" y="105.5" font-size="4.3" text-anchor="start" fill="#f04a68" font-weight="bold" stroke="#f04a68" stroke-width="0.18">Q1-UL</text>
<text x="186.9" y="109.6" font-size="4.3" text-anchor="start" fill="#f04a68" font-weight="bold" stroke="#f04a68" stroke-width="0.18">1.4%</text>
<text x="252.5" y="105.5" font-size="4.3" text-anchor="end" fill="#f04a68" font-weight="bold" stroke="#f04a68" stroke-width="0.18">Q1-UR</text>
<text x="252.5" y="109.6" font-size="4.3" text-anchor="end" fill="#f04a68" font-weight="bold" stroke="#f04a68" stroke-width="0.18">20.4%</text>
<text x="186.9" y="156.4" font-size="4.3" text-anchor="start" fill="#f04a68" font-weight="bold" stroke="#f04a68" stroke-width="0.18">Q1-LL</text>
<text x="186.9" y="160.3" font-size="4.3" text-anchor="start" fill="#f04a68" font-weight="bold" stroke="#f04a68" stroke-width="0.18">63.1%</text>
<text x="252.5" y="156.4" font-size="4.3" text-anchor="end" fill="#f04a68" font-weight="bold" stroke="#f04a68" stroke-width="0.18">Q1-LR</text>
<text x="252.5" y="160.3" font-size="4.3" text-anchor="end" fill="#f04a68" font-weight="bold" stroke="#f04a68" stroke-width="0.18">15.1%</text>
<text x="218.6" y="98.3" font-size="7.4" text-anchor="middle" fill="#111" stroke="#111" stroke-width="0.18">TMZ (50.0 μM)</text>
<rect x="265.4" y="101.4" width="67" height="59.9" fill="#fff"/>
<clipPath id="cp24"><rect x="265.4" y="101.4" width="67" height="59.9"/></clipPath>
<ellipse cx="284" cy="147" rx="11.5" ry="3.3" transform="rotate(-37 284 147)" fill="#000" clip-path="url(#cp24)"/>
<path d="M295.2 134.9h0.8M286.7 142.9h0.8M274.6 155.6h0.8M282.0 146.7h0.8M282.4 150.2h0.8M280.7 145.8h0.8M290.7 143.3h0.8M273.9 156.9h0.8M294.5 141.2h0.8M274.9 155.3h0.8M283.0 148.2h0.8M292.4 140.1h0.8M289.4 140.4h0.8M277.0 149.8h0.8M301.2 134.8h0.8M285.0 140.1h0.8M279.3 157.8h0.8M282.2 142.7h0.8M276.8 152.1h0.8M291.3 147.2h0.8M290.6 145.4h0.8M268.7 159.3h0.8M292.0 135.4h0.8M288.1 146.1h0.8M296.6 136.7h0.8M275.4 148.0h0.8M274.4 159.2h0.8M283.9 150.3h0.8M303.8 134.6h0.8M292.0 145.5h0.8M298.1 139.5h0.8M277.6 154.1h0.8M279.5 150.1h0.8M282.2 149.8h0.8M294.8 137.8h0.8M278.4 149.3h0.8M280.5 146.8h0.8M303.2 140.3h0.8M278.1 154.7h0.8M286.3 149.5h0.8M272.6 156.4h0.8M283.2 149.3h0.8M291.1 139.4h0.8M294.6 137.2h0.8M274.0 159.1h0.8M285.9 138.1h0.8M298.5 133.2h0.8M276.6 149.5h0.8M284.6 141.5h0.8M283.6 144.8h0.8M284.5 147.8h0.8M285.5 138.6h0.8M283.1 150.8h0.8M276.4 150.9h0.8M273.5 150.3h0.8M270.6 152.8h0.8M295.4 138.6h0.8M288.0 150.9h0.8M284.8 151.4h0.8M282.0 152.5h0.8M285.8 141.0h0.8M279.7 150.0h0.8M287.4 147.5h0.8M278.2 153.1h0.8M288.4 145.3h0.8M281.3 148.5h0.8M288.9 142.0h0.8M269.9 157.6h0.8M277.4 153.0h0.8M272.8 155.5h0.8M301.0 139.3h0.8M277.2 149.5h0.8M287.9 153.4h0.8M275.1 153.5h0.8M284.1 149.6h0.8M271.6 149.6h0.8M297.3 136.0h0.8M278.3 157.0h0.8M293.5 141.2h0.8M285.6 152.6h0.8M287.3 142.4h0.8M275.4 154.0h0.8M282.4 146.7h0.8M282.4 148.7h0.8M275.2 151.2h0.8M287.4 141.8h0.8M279.9 145.7h0.8M281.3 148.1h0.8M286.6 149.5h0.8M293.2 147.4h0.8M277.3 156.1h0.8M277.8 151.1h0.8M275.1 154.3h0.8M282.1 152.7h0.8M287.2 144.9h0.8M306.9 122.7h0.8M291.6 140.3h0.8M286.3 133.8h0.8M297.1 136.8h0.8M285.1 144.1h0.8M288.9 145.1h0.8M300.6 135.2h0.8M287.7 150.1h0.8M288.3 149.3h0.8M283.1 145.9h0.8M285.4 140.3h0.8M300.4 134.8h0.8M279.0 157.3h0.8M294.9 139.0h0.8M289.5 145.2h0.8M280.0 149.6h0.8M295.5 137.7h0.8M291.3 141.1h0.8M291.2 141.4h0.8M286.9 139.8h0.8M290.7 149.4h0.8M288.9 147.8h0.8M269.9 154.2h0.8M295.8 142.7h0.8M278.2 152.3h0.8M285.1 148.6h0.8M283.4 156.0h0.8M285.7 148.1h0.8M284.1 143.9h0.8M287.2 142.0h0.8M269.0 151.4h0.8M295.2 132.8h0.8M271.9 152.2h0.8M283.7 150.7h0.8M287.6 147.0h0.8M290.9 138.5h0.8M292.5 136.2h0.8M287.3 142.5h0.8M286.3 141.8h0.8M277.3 151.8h0.8M284.2 156.0h0.8M281.9 149.2h0.8M286.8 148.9h0.8M273.9 155.3h0.8M277.9 147.0h0.8M285.9 140.5h0.8M286.8 148.6h0.8M281.8 147.7h0.8M277.0 154.4h0.8M284.6 143.2h0.8M282.2 142.1h0.8M298.0 138.1h0.8M283.5 147.1h0.8M289.5 136.5h0.8M272.4 157.8h0.8M302.7 138.8h0.8M270.6 156.5h0.8M283.0 148.4h0.8M279.0 148.6h0.8M277.1 150.5h0.8M281.1 150.9h0.8M280.6 154.5h0.8M283.7 146.4h0.8M284.8 144.6h0.8M291.7 137.3h0.8M294.8 139.5h0.8M300.4 137.0h0.8M287.0 143.6h0.8M273.1 149.5h0.8M306.5 134.2h0.8M289.7 145.6h0.8M293.3 146.3h0.8M281.9 148.5h0.8M276.9 152.7h0.8M276.1 149.6h0.8M285.5 149.4h0.8M277.8 155.8h0.8M282.9 142.5h0.8M281.6 148.5h0.8M277.2 143.0h0.8M284.4 140.4h0.8M284.8 143.1h0.8M299.6 138.4h0.8M287.9 144.5h0.8M275.4 155.1h0.8M282.5 145.8h0.8M300.1 137.1h0.8M296.5 132.0h0.8M277.5 154.6h0.8M287.4 139.6h0.8M279.9 151.4h0.8M284.1 153.1h0.8M271.3 160.5h0.8M282.2 151.3h0.8M280.7 139.0h0.8M286.6 141.9h0.8M277.2 155.5h0.8M281.0 148.6h0.8M283.1 144.5h0.8M283.1 149.9h0.8M272.4 152.8h0.8M285.6 148.4h0.8M289.3 144.3h0.8M276.3 155.7h0.8M296.3 145.1h0.8M297.2 141.8h0.8M280.5 157.5h0.8M280.5 143.9h0.8M274.7 154.2h0.8M271.3 154.6h0.8M281.7 151.7h0.8M282.4 145.6h0.8M272.3 154.9h0.8M292.2 144.4h0.8M279.1 150.5h0.8M281.7 144.0h0.8M275.2 150.9h0.8M275.4 150.2h0.8M280.3 144.8h0.8M272.4 159.7h0.8M292.5 147.3h0.8M269.2 154.0h0.8M291.3 151.0h0.8M273.6 157.2h0.8M277.5 144.7h0.8M272.9 147.9h0.8M291.7 136.0h0.8M301.0 139.0h0.8M275.9 146.5h0.8M284.8 141.6h0.8M287.8 149.6h0.8M288.8 141.2h0.8M293.2 141.1h0.8M296.1 130.0h0.8M284.0 147.2h0.8M287.8 140.5h0.8M276.7 146.3h0.8M282.4 149.4h0.8M288.0 130.2h0.8M297.7 137.0h0.8M286.6 149.9h0.8M296.7 141.1h0.8M283.7 139.3h0.8M292.5 143.9h0.8M283.4 149.7h0.8M297.8 140.4h0.8M276.7 149.8h0.8M286.8 150.5h0.8M293.1 142.2h0.8M272.1 150.8h0.8M285.3 142.5h0.8M287.0 143.3h0.8M292.5 143.6h0.8M300.9 137.2h0.8M290.7 138.3h0.8M286.4 144.2h0.8M292.0 136.1h0.8M289.7 142.2h0.8M275.1 148.7h0.8M277.9 150.4h0.8M276.4 156.9h0.8M293.6 137.0h0.8M279.8 154.3h0.8M289.2 148.8h0.8M279.4 146.4h0.8M282.6 152.7h0.8M280.2 146.7h0.8M296.4 137.0h0.8M279.8 147.1h0.8M273.7 156.3h0.8M279.2 152.6h0.8M289.9 140.4h0.8M288.7 143.1h0.8M287.4 142.2h0.8M286.1 138.0h0.8M272.8 148.8h0.8M293.3 142.8h0.8M282.8 139.7h0.8M280.4 155.0h0.8M297.2 140.4h0.8M281.3 154.8h0.8M277.1 145.9h0.8M285.4 148.8h0.8M286.4 147.9h0.8M283.3 147.1h0.8M289.6 144.2h0.8M276.8 152.4h0.8M282.4 145.5h0.8M280.6 144.0h0.8M295.0 142.9h0.8M300.4 128.6h0.8M286.9 141.0h0.8M293.0 141.6h0.8M298.9 133.5h0.8M289.7 138.3h0.8M292.6 144.5h0.8M271.9 147.8h0.8M281.4 150.3h0.8M275.8 150.0h0.8M280.2 148.1h0.8M295.3 141.3h0.8M291.6 143.3h0.8M284.8 146.9h0.8M288.4 140.9h0.8M292.9 147.7h0.8M274.0 155.4h0.8M285.2 146.4h0.8M282.2 149.6h0.8M292.5 145.4h0.8M300.9 144.0h0.8M271.8 150.7h0.8M274.0 149.0h0.8M278.8 148.7h0.8M285.2 143.9h0.8M296.1 137.8h0.8M283.2 147.4h0.8M292.4 140.2h0.8M292.5 149.7h0.8M277.5 148.9h0.8M297.2 132.9h0.8M296.1 142.7h0.8M283.9 153.3h0.8M281.2 146.4h0.8M275.5 155.2h0.8M267.8 158.7h0.8M279.6 143.3h0.8M293.4 138.0h0.8M275.6 147.4h0.8M301.2 129.2h0.8M299.2 135.0h0.8M281.0 159.4h0.8M281.5 155.1h0.8M297.9 136.9h0.8M275.7 154.3h0.8M287.2 150.2h0.8M276.3 150.9h0.8M290.4 144.4h0.8M285.5 142.6h0.8M302.7 134.5h0.8M277.9 156.3h0.8M267.9 154.8h0.8M283.6 150.9h0.8M289.7 146.8h0.8M281.5 147.5h0.8M304.5 123.4h0.8M280.2 149.7h0.8M288.8 155.7h0.8M293.0 139.0h0.8M299.2 131.4h0.8M288.2 146.7h0.8M290.2 139.8h0.8M271.2 152.3h0.8M276.7 154.1h0.8M290.8 147.8h0.8M293.1 141.6h0.8M290.3 142.0h0.8M290.8 143.2h0.8M290.5 137.2h0.8M282.4 142.9h0.8M286.5 154.1h0.8M282.4 147.1h0.8M272.9 154.8h0.8M278.6 150.2h0.8M276.0 148.8h0.8M292.8 143.6h0.8M303.1 121.0h0.8M293.5 141.3h0.8M303.3 129.8h0.8M278.5 152.4h0.8M284.1 150.8h0.8M285.0 147.0h0.8M294.5 133.4h0.8M306.5 132.6h0.8M295.5 138.8h0.8M294.6 146.8h0.8M286.8 141.2h0.8M285.4 154.5h0.8M290.1 139.6h0.8M289.1 139.2h0.8M281.3 136.9h0.8M277.9 149.7h0.8M289.5 145.9h0.8M284.8 144.5h0.8M278.7 149.8h0.8M299.7 139.2h0.8M288.0 148.3h0.8M291.0 138.7h0.8M278.0 155.5h0.8M284.8 150.8h0.8M285.5 157.5h0.8M275.0 150.3h0.8M284.1 139.2h0.8M284.8 147.0h0.8M273.1 150.4h0.8M278.4 146.7h0.8M287.2 144.7h0.8M286.8 145.9h0.8M303.6 131.4h0.8M295.9 140.1h0.8M292.9 138.7h0.8M293.5 144.8h0.8M283.5 154.4h0.8M280.3 150.3h0.8M292.1 142.8h0.8M281.0 148.4h0.8M281.0 148.2h0.8M306.4 139.3h0.8M275.9 149.1h0.8M283.9 142.0h0.8M295.3 143.7h0.8M286.0 145.8h0.8M287.4 137.6h0.8M286.7 139.6h0.8M288.8 142.0h0.8M273.0 149.6h0.8M274.9 152.8h0.8M296.5 136.1h0.8M292.2 141.7h0.8M282.4 142.1h0.8M280.2 148.9h0.8M300.8 135.3h0.8M280.6 142.9h0.8M274.9 147.2h0.8M299.1 140.9h0.8M276.5 150.9h0.8M280.7 143.5h0.8M290.1 146.6h0.8M275.9 151.7h0.8M285.7 138.0h0.8M288.5 141.2h0.8M292.1 141.6h0.8M287.7 149.4h0.8M298.8 130.1h0.8M287.3 145.6h0.8M285.2 150.7h0.8M284.4 134.3h0.8M282.2 147.5h0.8M298.2 136.3h0.8M270.3 156.2h0.8M266.4 154.8h0.8M291.1 143.6h0.8M280.3 148.8h0.8M294.8 134.2h0.8M297.3 138.9h0.8M298.1 138.5h0.8M284.1 145.2h0.8M291.1 144.0h0.8M275.5 153.5h0.8M293.3 139.4h0.8M291.7 152.9h0.8M285.7 146.0h0.8M286.9 142.6h0.8M288.4 145.9h0.8M292.5 144.8h0.8M294.4 139.6h0.8M282.8 141.4h0.8M282.9 148.8h0.8M273.6 153.0h0.8M300.5 132.4h0.8M292.3 146.0h0.8M285.6 150.7h0.8M273.0 158.0h0.8M294.6 146.0h0.8M276.4 157.1h0.8M291.0 147.1h0.8M282.1 148.0h0.8M296.6 138.9h0.8M281.9 148.8h0.8M279.5 158.8h0.8M282.4 152.2h0.8M298.2 131.7h0.8M290.2 146.9h0.8M281.0 147.8h0.8M294.3 135.9h0.8M281.4 152.7h0.8M295.6 140.9h0.8M273.4 154.9h0.8M273.7 153.3h0.8M292.9 139.9h0.8M275.5 159.0h0.8M294.4 137.9h0.8M282.8 143.5h0.8M304.3 135.9h0.8M276.9 146.1h0.8M282.8 148.2h0.8M301.8 138.4h0.8M279.6 150.9h0.8M289.8 148.5h0.8M281.8 159.2h0.8M292.0 137.1h0.8M283.3 143.4h0.8M274.3 151.8h0.8M284.6 144.3h0.8M273.3 149.0h0.8M294.7 144.9h0.8M277.0 156.9h0.8M310.0 133.7h0.8M306.3 130.9h0.8M268.2 158.2h0.8M287.8 140.6h0.8M279.9 154.9h0.8M279.9 153.4h0.8M275.0 156.0h0.8M299.3 136.0h0.8M266.2 156.5h0.8M303.2 138.3h0.8M292.8 139.5h0.8M284.0 147.3h0.8M280.7 150.3h0.8M277.0 152.9h0.8M285.4 153.0h0.8M289.2 145.2h0.8M299.6 135.3h0.8M270.0 160.5h0.8M288.1 143.6h0.8M282.1 145.2h0.8M277.7 150.5h0.8M282.5 145.1h0.8M284.1 145.1h0.8M299.9 140.0h0.8M299.6 141.3h0.8M303.6 134.4h0.8M297.8 130.1h0.8M296.2 136.9h0.8M295.7 137.5h0.8M297.8 140.8h0.8M291.9 135.0h0.8M288.3 136.6h0.8M296.9 135.0h0.8M305.4 132.3h0.8M298.0 131.5h0.8M287.4 140.2h0.8M285.1 147.0h0.8M302.4 139.7h0.8M295.0 138.3h0.8M282.6 148.7h0.8M285.8 153.3h0.8M289.4 139.0h0.8M290.5 147.4h0.8M296.5 140.9h0.8M298.0 132.1h0.8M287.2 144.5h0.8M295.4 142.4h0.8M301.5 133.6h0.8M297.4 138.2h0.8M295.5 146.8h0.8M287.1 145.5h0.8M300.4 132.7h0.8M292.3 145.2h0.8M301.3 139.2h0.8M308.5 139.7h0.8M288.2 139.8h0.8M304.5 132.4h0.8M297.3 141.2h0.8M292.9 147.0h0.8M306.9 122.6h0.8M295.1 140.4h0.8M299.7 132.7h0.8M281.7 140.2h0.8M295.6 137.7h0.8M289.4 138.4h0.8M287.7 143.7h0.8M286.2 143.8h0.8M298.1 141.2h0.8M290.5 144.8h0.8M298.6 137.4h0.8M297.4 139.7h0.8M290.4 145.5h0.8M286.4 144.3h0.8M299.8 144.3h0.8M288.2 141.7h0.8M295.0 135.0h0.8M289.3 144.3h0.8M302.3 136.7h0.8M295.0 142.8h0.8M284.9 143.3h0.8M295.7 145.4h0.8M291.8 143.7h0.8M299.3 139.0h0.8M297.3 139.9h0.8M291.0 139.1h0.8M299.2 138.9h0.8M297.5 133.7h0.8M284.3 145.2h0.8M288.9 144.0h0.8M305.0 135.0h0.8M300.1 134.6h0.8M291.8 146.3h0.8M291.9 139.3h0.8M299.9 137.9h0.8M282.3 147.2h0.8M294.8 145.4h0.8M284.3 145.3h0.8M291.5 140.7h0.8M302.5 140.2h0.8M312.1 128.7h0.8M300.0 142.2h0.8M303.5 134.2h0.8M287.7 139.2h0.8M295.6 141.2h0.8M298.6 138.6h0.8M280.8 147.5h0.8M290.4 142.7h0.8M296.2 130.6h0.8M298.3 142.7h0.8M289.4 144.6h0.8M298.9 140.2h0.8M289.3 140.5h0.8M297.7 140.8h0.8M289.7 151.0h0.8M288.4 136.9h0.8M299.3 143.3h0.8M298.6 131.3h0.8M305.9 133.1h0.8M284.7 142.6h0.8M299.4 130.7h0.8M301.1 140.4h0.8M302.9 134.0h0.8M292.8 138.4h0.8M288.8 138.0h0.8M308.5 132.3h0.8M296.6 140.3h0.8M299.9 138.5h0.8M299.2 133.2h0.8M289.4 140.0h0.8M282.2 146.6h0.8M286.7 141.9h0.8M283.4 147.7h0.8M296.8 139.2h0.8M298.1 134.2h0.8M301.3 128.8h0.8M303.8 135.7h0.8M298.1 133.3h0.8M289.9 142.3h0.8M285.5 143.3h0.8M283.3 140.9h0.8M302.0 139.0h0.8M293.2 137.9h0.8M302.3 138.3h0.8M301.5 140.1h0.8M285.5 144.5h0.8M300.0 138.9h0.8M285.9 144.4h0.8M295.3 134.9h0.8M311.5 128.2h0.8M286.8 146.7h0.8M299.5 142.7h0.8M304.3 131.6h0.8M281.2 140.0h0.8M285.5 138.1h0.8M289.7 145.2h0.8M296.2 141.4h0.8M298.0 137.1h0.8M290.8 139.3h0.8M296.3 139.5h0.8M288.3 147.7h0.8M288.2 144.2h0.8M284.2 147.7h0.8M295.9 135.3h0.8M303.0 132.7h0.8M292.5 142.3h0.8M290.8 139.0h0.8M298.7 141.3h0.8M297.9 138.2h0.8M300.5 143.5h0.8M296.6 133.3h0.8M281.2 141.1h0.8M302.6 133.6h0.8M294.9 140.5h0.8M294.7 142.2h0.8M295.1 140.9h0.8M304.1 136.5h0.8M291.3 144.6h0.8M296.6 134.2h0.8M293.4 144.2h0.8M289.2 145.9h0.8M295.9 140.2h0.8M299.0 135.9h0.8M302.5 134.3h0.8M295.5 138.8h0.8M293.6 142.1h0.8M295.6 135.8h0.8M293.4 140.7h0.8M290.5 140.8h0.8M299.1 139.6h0.8M297.5 139.1h0.8M297.0 141.2h0.8M303.1 133.7h0.8M293.3 138.8h0.8M294.9 144.5h0.8M290.3 136.3h0.8M289.0 147.5h0.8M296.6 143.1h0.8M279.5 142.7h0.8M297.4 141.2h0.8M296.5 137.9h0.8M290.4 146.7h0.8M284.1 143.5h0.8M288.7 136.4h0.8M307.1 129.9h0.8M296.2 142.0h0.8M295.8 139.5h0.8M294.5 136.0h0.8M284.8 142.5h0.8M293.2 140.1h0.8M296.0 138.3h0.8M290.3 141.1h0.8M300.9 136.5h0.8M291.0 141.9h0.8M293.7 141.9h0.8M301.3 138.7h0.8M292.7 146.0h0.8M289.9 137.6h0.8M292.3 141.6h0.8M293.4 138.2h0.8M295.3 137.0h0.8M288.2 146.0h0.8M296.5 134.0h0.8M292.2 139.6h0.8M305.7 132.2h0.8M307.0 137.1h0.8M287.6 142.4h0.8M289.7 142.3h0.8M287.8 141.4h0.8M294.1 137.8h0.8M293.9 137.5h0.8M288.7 142.9h0.8M288.8 135.7h0.8M291.4 138.4h0.8M296.8 138.6h0.8M286.3 144.3h0.8M293.3 140.6h0.8M288.5 141.7h0.8M298.5 133.5h0.8M301.6 139.5h0.8M291.9 141.9h0.8M294.2 136.8h0.8M291.3 145.2h0.8M296.3 141.3h0.8M305.8 140.8h0.8" stroke="#000" stroke-width="0.8" fill="none"/>
<path d="M301.3 122.5h0.6M303.6 130.9h0.6M306.3 126.0h0.6M310.8 122.7h0.6M301.6 126.6h0.6M291.1 121.5h0.6M296.9 122.2h0.6M322.4 126.5h0.6M297.9 118.2h0.6M325.8 119.0h0.6M281.5 133.4h0.6M297.5 123.1h0.6M304.0 127.7h0.6M286.8 129.1h0.6M299.1 128.4h0.6M302.9 133.8h0.6M305.1 121.5h0.6M300.7 129.6h0.6M317.5 131.0h0.6M295.3 134.1h0.6M291.2 135.7h0.6M307.2 121.5h0.6M310.0 124.4h0.6M302.1 119.2h0.6M294.0 130.5h0.6M280.5 123.5h0.6M304.0 122.8h0.6M305.5 130.8h0.6M316.5 121.7h0.6M282.2 122.8h0.6M297.6 117.6h0.6M327.0 112.3h0.6M306.7 124.2h0.6M288.9 125.9h0.6M313.1 120.1h0.6M288.8 128.6h0.6M302.2 125.6h0.6M306.2 114.8h0.6M291.2 131.3h0.6M282.3 125.3h0.6M291.7 136.1h0.6M313.4 125.0h0.6M303.2 119.6h0.6M302.3 125.3h0.6M287.5 133.4h0.6M310.2 119.8h0.6M301.2 127.6h0.6M292.7 123.7h0.6M294.2 125.6h0.6M279.0 129.0h0.6M298.4 121.4h0.6M293.8 126.2h0.6M296.1 130.9h0.6M308.7 120.9h0.6M315.6 120.1h0.6M282.7 118.8h0.6M305.8 126.0h0.6M290.7 122.5h0.6M295.2 115.5h0.6M294.9 115.6h0.6M296.1 119.6h0.6M301.2 115.7h0.6M302.7 131.4h0.6M305.7 130.0h0.6M280.4 128.0h0.6M281.2 132.4h0.6M291.4 127.5h0.6M302.7 119.5h0.6M305.0 127.4h0.6M306.0 124.5h0.6M277.1 124.7h0.6M296.8 129.1h0.6M312.5 124.2h0.6M299.4 123.3h0.6M307.8 134.1h0.6M305.0 123.1h0.6M296.4 122.6h0.6M285.5 119.1h0.6M304.2 116.9h0.6M291.0 122.5h0.6M306.3 123.4h0.6M307.7 130.5h0.6M292.4 128.4h0.6M307.1 119.6h0.6M303.5 119.3h0.6M297.7 123.4h0.6M295.7 127.4h0.6M293.0 127.3h0.6M311.2 132.6h0.6M304.4 124.4h0.6M291.2 120.4h0.6M304.5 120.3h0.6M288.1 129.1h0.6M289.4 125.9h0.6M292.0 121.0h0.6M306.2 130.8h0.6M280.7 120.6h0.6M275.5 127.6h0.6M278.4 129.4h0.6M310.6 126.2h0.6M313.3 124.3h0.6M299.0 125.4h0.6M301.6 129.7h0.6M307.9 128.1h0.6M273.6 117.2h0.6M287.7 123.4h0.6M292.7 130.6h0.6M300.0 119.7h0.6M280.9 122.2h0.6M318.8 120.5h0.6M287.7 126.7h0.6M289.9 129.8h0.6M286.1 132.8h0.6M302.1 120.5h0.6M297.2 120.6h0.6M312.7 118.5h0.6M290.0 135.0h0.6M303.4 118.4h0.6M313.8 122.2h0.6M313.3 124.3h0.6M301.4 119.2h0.6M289.5 127.9h0.6M294.6 129.5h0.6M294.7 124.3h0.6M285.8 126.6h0.6M307.9 124.1h0.6M326.0 116.8h0.6M295.1 128.3h0.6M298.1 131.2h0.6M295.4 124.9h0.6M304.0 128.7h0.6M306.2 121.6h0.6M310.4 125.6h0.6M300.4 120.4h0.6M300.5 116.2h0.6M305.2 113.6h0.6M319.3 122.5h0.6M307.5 117.9h0.6M312.9 123.0h0.6M284.0 133.1h0.6M302.5 121.0h0.6M294.5 117.0h0.6M301.2 130.7h0.6M309.5 132.9h0.6M307.6 119.4h0.6M289.3 124.6h0.6M305.4 120.5h0.6M295.4 127.9h0.6M310.2 123.1h0.6M300.7 122.2h0.6M316.4 134.0h0.6M306.7 125.8h0.6M299.9 131.3h0.6M302.3 128.1h0.6M292.7 134.7h0.6M282.4 127.4h0.6M299.2 123.5h0.6M306.9 126.8h0.6M299.1 123.8h0.6M308.8 116.4h0.6M314.8 133.3h0.6M291.7 135.8h0.6M314.0 127.8h0.6M277.4 106.0h0.6M299.0 121.7h0.6M303.3 106.3h0.6M294.0 134.4h0.6M301.8 130.3h0.6M282.9 134.0h0.6M287.4 132.1h0.6M278.6 116.5h0.6M274.8 127.7h0.6" stroke="#444" stroke-width="0.6" fill="none"/>
<line x1="289.7" y1="101.4" x2="289.7" y2="161.3" stroke="#e85a7a" stroke-width="0.9"/>
<line x1="265.4" y1="140.4" x2="332.4" y2="140.4" stroke="#e85a7a" stroke-width="0.9"/>
<rect x="265.4" y="101.4" width="67" height="59.9" fill="none" stroke="#6464f8" stroke-width="1"/>
<path d="M263.0 159.3h2.4M263.4 157.4h2M263.4 156.2h2M263.4 155.4h2M263.4 154.8h2M263.4 154.3h2M263.4 153.9h2M263.4 153.5h2M263.4 153.2h2M263.0 152.9h2.4M263.4 148.2h2M263.4 145.5h2M263.4 143.5h2M263.4 142.0h2M263.4 140.8h2M263.4 139.8h2M263.4 138.8h2M263.4 138.1h2M263.0 137.3h2.4M263.4 132.5h2M263.4 129.6h2M263.4 127.6h2M263.4 126.0h2M263.4 124.8h2M263.4 123.7h2M263.4 122.7h2M263.4 121.9h2M263.0 121.2h2.4M263.4 115.6h2M263.4 112.4h2M263.4 110.1h2M263.4 108.4h2M263.4 106.9h2M263.4 105.7h2M263.4 104.6h2M263.4 103.7h2M265.4 161.3v2.2M270.4 161.3v1.6M273.4 161.3v1.6M275.5 161.3v1.6M277.1 161.3v1.6M278.4 161.3v1.6M279.6 161.3v1.6M280.5 161.3v1.6M281.4 161.3v1.6M282.1 161.3v2.2M289.0 161.3v1.6M293.0 161.3v1.6M295.9 161.3v1.6M298.1 161.3v1.6M299.9 161.3v1.6M301.4 161.3v1.6M302.7 161.3v1.6M303.9 161.3v1.6M304.9 161.3v2.2M312.9 161.3v1.6M317.6 161.3v1.6M320.9 161.3v1.6M323.4 161.3v1.6M325.5 161.3v1.6M327.3 161.3v1.6M328.8 161.3v1.6M330.2 161.3v1.6" stroke="#6464f8" stroke-width=".7" fill="none"/>
<path d="M258.2 157.7l1 -.3l.6 .8l-.4 .9l1.6 1.2M258.2 151.3l1 -.3l.6 .8l-.4 .9l1.6 1.2M258.2 135.7l1 -.3l.6 .8l-.4 .9l1.6 1.2M258.2 119.6l1 -.3l.6 .8l-.4 .9l1.6 1.2M258.2 101.2l1 -.3l.6 .8l-.4 .9l1.6 1.2M263.9 164.7l1 -.3l.6 .8l-.4 .9l1.6 1.2M280.6 164.7l1 -.3l.6 .8l-.4 .9l1.6 1.2M303.4 164.7l1 -.3l.6 .8l-.4 .9l1.6 1.2M329.9 164.7l1 -.3l.6 .8l-.4 .9l1.6 1.2" stroke="#5a5af5" stroke-width="1.05" fill="none" stroke-linejoin="round"/>
<text x="266.7" y="105.7" font-size="4.3" text-anchor="start" fill="#f04a68" font-weight="bold" stroke="#f04a68" stroke-width="0.18">Q1-UL</text>
<text x="266.7" y="109.8" font-size="4.3" text-anchor="start" fill="#f04a68" font-weight="bold" stroke="#f04a68" stroke-width="0.18">1.6%</text>
<text x="331.4" y="105.7" font-size="4.3" text-anchor="end" fill="#f04a68" font-weight="bold" stroke="#f04a68" stroke-width="0.18">Q1-UR</text>
<text x="331.4" y="109.8" font-size="4.3" text-anchor="end" fill="#f04a68" font-weight="bold" stroke="#f04a68" stroke-width="0.18">21.6%</text>
<text x="266.7" y="156.4" font-size="4.3" text-anchor="start" fill="#f04a68" font-weight="bold" stroke="#f04a68" stroke-width="0.18">Q1-LL</text>
<text x="266.7" y="160.3" font-size="4.3" text-anchor="start" fill="#f04a68" font-weight="bold" stroke="#f04a68" stroke-width="0.18">63.8%</text>
<text x="331.4" y="156.4" font-size="4.3" text-anchor="end" fill="#f04a68" font-weight="bold" stroke="#f04a68" stroke-width="0.18">Q1-LR</text>
<text x="331.4" y="160.3" font-size="4.3" text-anchor="end" fill="#f04a68" font-weight="bold" stroke="#f04a68" stroke-width="0.18">13.1%</text>
<text x="296.9" y="98.3" font-size="7.47" text-anchor="middle" fill="#111" stroke="#111" stroke-width="0.18">TMZ (100.0 μM)</text>
<line x1="12" y1="216.2" x2="12" y2="376.4" stroke="#707070" stroke-width="1.5"/>
<path d="M12 214.2L10.4 217.8L13.6 217.8z" fill="#111"/>
<line x1="11.25" y1="375.7" x2="336.2" y2="375.7" stroke="#707070" stroke-width="1.5"/>
<path d="M338.2 375.7L334.6 374.1L334.6 377.3z" fill="#111"/>
<text x="8.2" y="288" font-size="7.4" text-anchor="middle" fill="#000" stroke="#000" stroke-width="0.18" transform="rotate(-90 8.2 288)">Cell numbers</text>
<text x="175" y="385.8" font-size="7.55" text-anchor="middle" fill="#000" stroke="#000" stroke-width="0.18">DNA content</text>
<rect x="27.8" y="220.5" width="61.9" height="61.7" fill="#fff" stroke="#c8c8c8" stroke-width=".7"/>
<path d="M43.92 282.20L43.92 253.63L44.08 257.78L44.23 261.51L44.39 264.79L44.54 267.61L44.69 269.98L44.85 271.96L45.00 273.56L45.15 274.84L45.31 275.85L45.46 276.63L45.61 277.22L45.77 277.65L45.92 277.97L46.08 278.19L46.23 278.34L46.38 278.45L46.54 278.52L46.69 278.56L46.84 278.59L47.00 278.60L47.15 278.62L47.30 278.62L47.46 278.63L47.61 278.63L47.77 278.64L47.92 278.64L48.07 278.64L48.23 278.64L48.38 278.65L48.53 278.65L48.69 278.65L48.84 278.65L48.99 278.64L49.15 278.64L49.30 278.63L49.46 278.62L49.61 278.60L49.76 278.58L49.92 278.56L50.07 278.52L50.22 278.49L50.38 278.44L50.53 278.39L50.68 278.33L50.84 278.26L50.99 278.18L51.15 278.09L51.30 277.99L51.45 277.88L51.61 277.76L51.76 277.63L51.91 277.49L52.07 277.34L52.22 277.18L52.37 277.02L52.53 276.86L52.68 276.69L52.84 276.54L52.99 276.38L52.99 282.20z" fill="#44dd44"/>
<path d="M48.38 282.20L48.38 282.14L48.53 282.13L48.69 282.11L48.84 282.09L48.99 282.06L49.15 282.03L49.30 281.98L49.46 281.93L49.61 281.88L49.76 281.81L49.92 281.73L50.07 281.64L50.22 281.53L50.38 281.41L50.53 281.27L50.68 281.12L50.84 280.95L50.99 280.76L51.15 280.55L51.30 280.33L51.45 280.09L51.61 279.84L51.76 279.57L51.91 279.29L52.07 279.01L52.22 278.71L52.37 278.42L52.53 278.13L52.68 277.84L52.84 277.56L52.99 277.30L53.14 277.06L53.30 276.84L53.45 276.65L53.60 276.49L53.76 276.36L53.91 276.27L54.06 276.22L54.22 276.20L54.37 276.22L54.53 276.29L54.68 276.39L54.83 276.52L54.99 276.69L55.14 276.89L55.29 277.12L55.45 277.36L55.60 277.63L55.75 277.91L55.91 278.19L56.06 278.49L56.22 278.78L56.37 279.07L56.52 279.36L56.68 279.63L56.83 279.90L56.98 280.15L57.14 280.38L57.29 280.60L57.44 280.80L57.60 280.99L57.75 281.15L57.91 281.30L58.06 281.44L58.21 281.55L58.37 281.66L58.52 281.75L58.67 281.82L58.83 281.89L58.98 281.95L59.13 281.99L59.29 282.03L59.44 282.07L59.59 282.09L59.75 282.12L59.90 282.13L60.06 282.15L60.06 282.20z" fill="#f6a4a4"/>
<path d="M38.85 282.20L38.85 282.12L39.01 282.07L39.16 281.98L39.32 281.83L39.47 281.60L39.62 281.26L39.78 280.75L39.93 280.03L40.08 279.01L40.24 277.64L40.39 275.82L40.54 273.48L40.70 270.56L40.85 267.02L41.01 262.88L41.16 258.17L41.31 253.02L41.47 247.58L41.62 242.09L41.77 236.81L41.93 232.03L42.08 228.03L42.23 225.06L42.39 223.33L42.54 221.58L42.70 222.14L42.85 223.92L43.00 226.78L43.16 230.50L43.31 234.84L43.46 239.54L43.62 244.37L43.77 249.12L43.92 253.63L44.08 257.78L44.08 282.20z" fill="#a4a4f4"/>
<path d="M39.16 281.98L39.32 281.83L39.47 281.60L39.62 281.26L39.78 280.75L39.93 280.03L40.08 279.01L40.24 277.64L40.39 275.82L40.54 273.48L40.70 270.56L40.85 267.02L41.01 262.88L41.16 258.17L41.31 253.02L41.47 247.58L41.62 242.09L41.77 236.81L41.93 232.03L42.08 228.03L42.23 225.06L42.39 223.33L42.54 221.58L42.70 222.14L42.85 223.92L43.00 226.78L43.16 230.50L43.31 234.84L43.46 239.54L43.62 244.37L43.77 249.12L43.92 253.63L44.08 257.78" fill="none" stroke="#2a2aa8" stroke-width="0.75" stroke-linejoin="round"/>
<path d="M44.23 261.51L44.39 264.79L44.54 267.61L44.69 269.98L44.85 271.96L45.00 273.56L45.15 274.84L45.31 275.85L45.46 276.63L45.61 277.22L45.77 277.65L45.92 277.97L46.08 278.19L46.23 278.34L46.38 278.45L46.54 278.52L46.69 278.56L46.84 278.59L47.00 278.60L47.15 278.62L47.30 278.62L47.46 278.63L47.61 278.63L47.77 278.64L47.92 278.64L48.07 278.64L48.23 278.64L48.38 278.65L48.53 278.65L48.69 278.65L48.84 278.65L48.99 278.64L49.15 278.64L49.30 278.63L49.46 278.62L49.61 278.60L49.76 278.58L49.92 278.56L50.07 278.52L50.22 278.49L50.38 278.44L50.53 278.39L50.68 278.33L50.84 278.26L50.99 278.18L51.15 278.09L51.30 277.99L51.45 277.88L51.61 277.76L51.76 277.63L51.91 277.49L52.07 277.34L52.22 277.18L52.37 277.02L52.53 276.86L52.68 276.69L52.84 276.54L52.99 276.38L53.14 276.24L53.30 276.12L53.45 276.01L53.60 275.92L53.76 275.87L53.91 275.84L54.06 275.84L54.22 275.87L54.37 275.94L54.53 276.04L54.68 276.17L54.83 276.34L54.99 276.53L55.14 276.75L55.29 277.00L55.45 277.26L55.60 277.54L55.75 277.83L55.91 278.13L56.06 278.43L56.22 278.73L56.37 279.03L56.52 279.32L56.68 279.60L56.83 279.87L56.98 280.13L57.14 280.36L57.29 280.59L57.44 280.79L57.60 280.98L57.75 281.14L57.91 281.29L58.06 281.43L58.21 281.55L58.37 281.65L58.52 281.74L58.67 281.82L58.83 281.89L58.98 281.94L59.13 281.99L59.29 282.03L59.44 282.06L59.59 282.09L59.75 282.11L59.90 282.13L60.06 282.15L60.21 282.16L60.36 282.17L60.52 282.18L60.67 282.18L60.82 282.19L60.98 282.19L61.13 282.19L61.28 282.19L61.44 282.20L61.59 282.20L61.75 282.20L61.90 282.20L62.05 282.20L62.21 282.20L62.36 282.20L62.51 282.20L62.67 282.20L62.82 282.20L62.97 282.20L63.13 282.20L63.28 282.20L63.44 282.20L63.59 282.20L63.74 282.20L63.90 282.20L64.05 282.20L64.20 282.20L64.36 282.20L64.51 282.20L64.66 282.20L64.82 282.20L64.97 282.20L65.13 282.20L65.28 282.20L65.43 282.20L65.59 282.20L65.74 282.20L65.89 282.20L66.05 282.20L66.20 282.20L66.35 282.20L66.51 282.20L66.66 282.20L66.82 282.20L66.97 282.20L67.12 282.20L67.28 282.20L67.43 282.20L67.58 282.20L67.74 282.20L67.89 282.20L68.04 282.20L68.20 282.20L68.35 282.20L68.51 282.20L68.66 282.20L68.81 282.20L68.97 282.20L69.12 282.20L69.27 282.20L69.43 282.20L69.58 282.20L69.73 282.20L69.89 282.20L70.04 282.20L70.20 282.20L70.35 282.20L70.50 282.20L70.66 282.20L70.81 282.20L70.96 282.20L71.12 282.20L71.27 282.20L71.42 282.20L71.58 282.20L71.73 282.20L71.89 282.20L72.04 282.20L72.19 282.20L72.35 282.20L72.50 282.20L72.65 282.20L72.81 282.20L72.96 282.20L73.11 282.20L73.27 282.20L73.42 282.20L73.58 282.20L73.73 282.20L73.88 282.20L74.04 282.20L74.19 282.20L74.34 282.20L74.50 282.20L74.65 282.20L74.80 282.20L74.96 282.20L75.11 282.20L75.27 282.20L75.42 282.20L75.57 282.20L75.73 282.20L75.88 282.20L76.03 282.20L76.19 282.20L76.34 282.20L76.49 282.20L76.65 282.20L76.80 282.20L76.96 282.20L77.11 282.20L77.26 282.20L77.42 282.20L77.57 282.20L77.72 282.20L77.88 282.20L78.03 282.20L78.18 282.20L78.34 282.20L78.49 282.20L78.65 282.20L78.80 282.20L78.95 282.20L79.11 282.20L79.26 282.20L79.41 282.20L79.57 282.20L79.72 282.20L79.87 282.20L80.03 282.20L80.18 282.20L80.34 282.20L80.49 282.20L80.64 282.20L80.80 282.20L80.95 282.20L81.10 282.20L81.26 282.20L81.41 282.20L81.56 282.20L81.72 282.20L81.87 282.20L82.03 282.20L82.18 282.20L82.33 282.20L82.49 282.20L82.64 282.20L82.79 282.20L82.95 282.20L83.10 282.20L83.25 282.20L83.41 282.20L83.56 282.20L83.72 282.20L83.87 282.20L84.02 282.20L84.18 282.20L84.33 282.20L84.48 282.20L84.64 282.20L84.79 282.20L84.94 282.20L85.10 282.20L85.25 282.20L85.41 282.20L85.56 282.20L85.71 282.20L85.87 282.20L86.02 282.20L86.17 282.20L86.33 282.20L86.48 282.20L86.63 282.20L86.79 282.20L86.94 282.20L87.10 282.20L87.25 282.20L87.40 282.20L87.56 282.20L87.71 282.20L87.86 282.20L88.02 282.20L88.17 282.20L88.32 282.20L88.48 282.20L88.63 282.20L88.79 282.20L88.94 282.20L89.09 282.20L89.25 282.20L89.40 282.20" fill="none" stroke="#1a1a1a" stroke-width="0.6" stroke-linejoin="round"/>
<line x1="27.8" y1="220.5" x2="27.8" y2="282.2" stroke="#555" stroke-width="0.6"/>
<line x1="27.8" y1="282.2" x2="89.7" y2="282.2" stroke="#555" stroke-width="0.6"/>
<text x="25.3" y="232.8" font-size="3.8" text-anchor="end" fill="#222" stroke="#222" stroke-width="0.18">400</text>
<text x="25.3" y="244.8" font-size="3.8" text-anchor="end" fill="#222" stroke="#222" stroke-width="0.18">300</text>
<text x="25.3" y="257.9" font-size="3.8" text-anchor="end" fill="#222" stroke="#222" stroke-width="0.18">200</text>
<text x="25.3" y="270.4" font-size="3.8" text-anchor="end" fill="#222" stroke="#222" stroke-width="0.18">100</text>
<text x="25.3" y="282.9" font-size="3.8" text-anchor="end" fill="#222" stroke="#222" stroke-width="0.18">0</text>
<path d="M27.8 231.5h-2M27.8 243.5h-2M27.8 256.6h-2M27.8 269.1h-2M27.8 281.6h-2M27.8 281.6h-.9M27.8 279.1h-.9M27.8 276.6h-.9M27.8 274.1h-.9M27.8 271.6h-.9M27.8 269.1h-.9M27.8 266.6h-.9M27.8 264.1h-.9M27.8 261.6h-.9M27.8 259.1h-.9M27.8 256.6h-.9M27.8 254.0h-.9M27.8 251.5h-.9M27.8 249.0h-.9M27.8 246.5h-.9M27.8 244.0h-.9M27.8 241.5h-.9M27.8 239.0h-.9M27.8 236.5h-.9M27.8 234.0h-.9M27.8 231.5h-.9M27.8 229.0h-.9M27.8 226.5h-.9M27.8 224.0h-.9M27.8 221.5h-.9" stroke="#444" stroke-width=".5" fill="none"/>
<text x="28.1" y="288.5" font-size="3.5" text-anchor="middle" fill="#222" stroke="#222" stroke-width="0.18">0</text>
<text x="41.4" y="288.5" font-size="3.5" text-anchor="middle" fill="#222" stroke="#222" stroke-width="0.18">300K</text>
<text x="54.6" y="288.5" font-size="3.5" text-anchor="middle" fill="#222" stroke="#222" stroke-width="0.18">600K</text>
<text x="67.6" y="288.5" font-size="3.5" text-anchor="middle" fill="#222" stroke="#222" stroke-width="0.18">900K</text>
<text x="80.6" y="288.5" font-size="3.5" text-anchor="middle" fill="#222" stroke="#222" stroke-width="0.18">1.2M</text>
<path d="M28.1 282.2v1.5M41.4 282.2v1.5M54.6 282.2v1.5M67.6 282.2v1.5M80.6 282.2v1.5M28.8 282.2v.8M31.4 282.2v.8M34.0 282.2v.8M36.6 282.2v.8M39.2 282.2v.8M41.8 282.2v.8M44.4 282.2v.8M47.0 282.2v.8M49.6 282.2v.8M52.2 282.2v.8M54.8 282.2v.8M57.4 282.2v.8M60.0 282.2v.8M62.6 282.2v.8M65.2 282.2v.8M67.8 282.2v.8M70.4 282.2v.8M73.0 282.2v.8M75.6 282.2v.8M78.2 282.2v.8M80.8 282.2v.8M83.4 282.2v.8M86.0 282.2v.8M88.6 282.2v.8" stroke="#444" stroke-width=".5" fill="none"/>
<text x="17.3" y="251.85" font-size="3.6" text-anchor="middle" fill="#222" stroke="#222" stroke-width="0.18" transform="rotate(-90 17.3 251.85)">Count</text>
<text x="58.75" y="218.2" font-size="7.5" text-anchor="middle" fill="#111" stroke="#111" stroke-width="0.18">Control</text>
<rect x="108.4" y="220.5" width="62.8" height="61.7" fill="#fff" stroke="#c8c8c8" stroke-width=".7"/>
<path d="M124.13 282.20L124.13 259.00L124.29 262.50L124.44 265.54L124.60 268.14L124.76 270.32L124.91 272.13L125.07 273.62L125.22 274.84L125.38 275.81L125.54 276.58L125.69 277.17L125.85 277.62L126.00 277.94L126.16 278.18L126.32 278.33L126.47 278.43L126.63 278.49L126.78 278.51L126.94 278.51L127.09 278.50L127.25 278.47L127.41 278.43L127.56 278.38L127.72 278.33L127.87 278.27L128.03 278.20L128.19 278.14L128.34 278.06L128.50 277.99L128.65 277.90L128.81 277.82L128.97 277.73L129.12 277.64L129.28 277.54L129.43 277.43L129.59 277.33L129.75 277.21L129.90 277.09L129.90 282.20z" fill="#44dd44"/>
<path d="M125.07 282.20L125.07 282.15L125.22 282.14L125.38 282.12L125.54 282.11L125.69 282.09L125.85 282.07L126.00 282.04L126.16 282.02L126.32 281.98L126.47 281.94L126.63 281.90L126.78 281.85L126.94 281.79L127.09 281.73L127.25 281.66L127.41 281.57L127.56 281.48L127.72 281.38L127.87 281.27L128.03 281.15L128.19 281.02L128.34 280.87L128.50 280.71L128.65 280.55L128.81 280.36L128.97 280.17L129.12 279.97L129.28 279.75L129.43 279.52L129.59 279.29L129.75 279.04L129.90 278.79L130.06 278.53L130.21 278.27L130.37 278.01L130.52 277.74L130.68 277.48L130.84 277.22L130.99 276.97L131.15 276.72L131.30 276.49L131.46 276.27L131.62 276.07L131.77 275.88L131.93 275.71L132.08 275.56L132.24 275.44L132.40 275.34L132.55 275.27L132.71 275.22L132.86 275.20L133.02 275.21L133.17 275.24L133.33 275.30L133.49 275.39L133.64 275.50L133.80 275.64L133.95 275.80L134.11 275.97L134.27 276.17L134.42 276.38L134.58 276.61L134.73 276.85L134.89 277.10L135.05 277.36L135.20 277.62L135.36 277.88L135.51 278.15L135.67 278.41L135.82 278.67L135.98 278.92L136.14 279.17L136.29 279.41L136.45 279.64L136.60 279.86L136.76 280.07L136.92 280.27L137.07 280.46L137.23 280.64L137.38 280.80L137.54 280.95L137.70 281.09L137.85 281.22L138.01 281.33L138.16 281.44L138.32 281.53L138.47 281.62L138.63 281.69L138.79 281.76L138.94 281.82L139.10 281.88L139.25 281.92L139.41 281.96L139.57 282.00L139.72 282.03L139.88 282.06L140.03 282.08L140.19 282.10L140.35 282.12L140.50 282.13L140.66 282.14L140.66 282.20z" fill="#f6a4a4"/>
<path d="M118.83 282.20L118.83 282.13L118.99 282.07L119.14 281.98L119.30 281.84L119.46 281.62L119.61 281.27L119.77 280.76L119.92 280.02L120.08 278.99L120.24 277.57L120.39 275.69L120.55 273.27L120.70 270.24L120.86 266.57L121.02 262.26L121.17 257.36L121.33 252.01L121.48 246.39L121.64 240.73L121.79 235.34L121.95 230.50L122.11 226.53L122.26 223.69L122.42 222.16L122.57 221.06L122.73 222.02L122.89 224.22L123.04 227.49L123.20 231.56L123.35 236.17L123.51 241.05L123.67 245.94L123.82 250.65L123.98 255.03L124.13 259.00L124.29 262.50L124.29 282.20z" fill="#a4a4f4"/>
<path d="M119.14 281.98L119.30 281.84L119.46 281.62L119.61 281.27L119.77 280.76L119.92 280.02L120.08 278.99L120.24 277.57L120.39 275.69L120.55 273.27L120.70 270.24L120.86 266.57L121.02 262.26L121.17 257.36L121.33 252.01L121.48 246.39L121.64 240.73L121.79 235.34L121.95 230.50L122.11 226.53L122.26 223.69L122.42 222.16L122.57 221.06L122.73 222.02L122.89 224.22L123.04 227.49L123.20 231.56L123.35 236.17L123.51 241.05L123.67 245.94L123.82 250.65L123.98 255.03L124.13 259.00L124.29 262.50" fill="none" stroke="#2a2aa8" stroke-width="0.75" stroke-linejoin="round"/>
<path d="M124.44 265.54L124.60 268.14L124.76 270.32L124.91 272.13L125.07 273.62L125.22 274.84L125.38 275.81L125.54 276.58L125.69 277.17L125.85 277.62L126.00 277.94L126.16 278.18L126.32 278.33L126.47 278.43L126.63 278.49L126.78 278.51L126.94 278.51L127.09 278.50L127.25 278.47L127.41 278.43L127.56 278.38L127.72 278.33L127.87 278.27L128.03 278.20L128.19 278.14L128.34 278.06L128.50 277.99L128.65 277.90L128.81 277.82L128.97 277.73L129.12 277.64L129.28 277.54L129.43 277.43L129.59 277.33L129.75 277.21L129.90 277.09L130.06 276.97L130.21 276.84L130.37 276.70L130.52 276.56L130.68 276.41L130.84 276.26L130.99 276.11L131.15 275.97L131.30 275.82L131.46 275.68L131.62 275.55L131.77 275.42L131.93 275.31L132.08 275.22L132.24 275.14L132.40 275.08L132.55 275.04L132.71 275.03L132.86 275.03L133.02 275.06L133.17 275.12L133.33 275.20L133.49 275.30L133.64 275.42L133.80 275.57L133.95 275.74L134.11 275.92L134.27 276.13L134.42 276.35L134.58 276.58L134.73 276.82L134.89 277.08L135.05 277.34L135.20 277.60L135.36 277.87L135.51 278.13L135.67 278.40L135.82 278.66L135.98 278.92L136.14 279.17L136.29 279.41L136.45 279.64L136.60 279.86L136.76 280.07L136.92 280.27L137.07 280.46L137.23 280.63L137.38 280.80L137.54 280.95L137.70 281.09L137.85 281.21L138.01 281.33L138.16 281.44L138.32 281.53L138.47 281.62L138.63 281.69L138.79 281.76L138.94 281.82L139.10 281.88L139.25 281.92L139.41 281.96L139.57 282.00L139.72 282.03L139.88 282.06L140.03 282.08L140.19 282.10L140.35 282.12L140.50 282.13L140.66 282.14L140.81 282.15L140.97 282.16L141.13 282.17L141.28 282.17L141.44 282.18L141.59 282.18L141.75 282.19L141.90 282.19L142.06 282.19L142.22 282.19L142.37 282.19L142.53 282.20L142.68 282.20L142.84 282.20L143.00 282.20L143.15 282.20L143.31 282.20L143.46 282.20L143.62 282.20L143.78 282.20L143.93 282.20L144.09 282.20L144.24 282.20L144.40 282.20L144.55 282.20L144.71 282.20L144.87 282.20L145.02 282.20L145.18 282.20L145.33 282.20L145.49 282.20L145.65 282.20L145.80 282.20L145.96 282.20L146.11 282.20L146.27 282.20L146.43 282.20L146.58 282.20L146.74 282.20L146.89 282.20L147.05 282.20L147.20 282.20L147.36 282.20L147.52 282.20L147.67 282.20L147.83 282.20L147.98 282.20L148.14 282.20L148.30 282.20L148.45 282.20L148.61 282.20L148.76 282.20L148.92 282.20L149.08 282.20L149.23 282.20L149.39 282.20L149.54 282.20L149.70 282.20L149.85 282.20L150.01 282.20L150.17 282.20L150.32 282.20L150.48 282.20L150.63 282.20L150.79 282.20L150.95 282.20L151.10 282.20L151.26 282.20L151.41 282.20L151.57 282.20L151.73 282.20L151.88 282.20L152.04 282.20L152.19 282.20L152.35 282.20L152.51 282.20L152.66 282.20L152.82 282.20L152.97 282.20L153.13 282.20L153.28 282.20L153.44 282.20L153.60 282.20L153.75 282.20L153.91 282.20L154.06 282.20L154.22 282.20L154.38 282.20L154.53 282.20L154.69 282.20L154.84 282.20L155.00 282.20L155.16 282.20L155.31 282.20L155.47 282.20L155.62 282.20L155.78 282.20L155.93 282.20L156.09 282.20L156.25 282.20L156.40 282.20L156.56 282.20L156.71 282.20L156.87 282.20L157.03 282.20L157.18 282.20L157.34 282.20L157.49 282.20L157.65 282.20L157.81 282.20L157.96 282.20L158.12 282.20L158.27 282.20L158.43 282.20L158.58 282.20L158.74 282.20L158.90 282.20L159.05 282.20L159.21 282.20L159.36 282.20L159.52 282.20L159.68 282.20L159.83 282.20L159.99 282.20L160.14 282.20L160.30 282.20L160.46 282.20L160.61 282.20L160.77 282.20L160.92 282.20L161.08 282.20L161.23 282.20L161.39 282.20L161.55 282.20L161.70 282.20L161.86 282.20L162.01 282.20L162.17 282.20L162.33 282.20L162.48 282.20L162.64 282.20L162.79 282.20L162.95 282.20L163.11 282.20L163.26 282.20L163.42 282.20L163.57 282.20L163.73 282.20L163.88 282.20L164.04 282.20L164.20 282.20L164.35 282.20L164.51 282.20L164.66 282.20L164.82 282.20L164.98 282.20L165.13 282.20L165.29 282.20L165.44 282.20L165.60 282.20L165.76 282.20L165.91 282.20L166.07 282.20L166.22 282.20L166.38 282.20L166.54 282.20L166.69 282.20L166.85 282.20L167.00 282.20L167.16 282.20L167.31 282.20L167.47 282.20L167.63 282.20L167.78 282.20L167.94 282.20L168.09 282.20L168.25 282.20L168.41 282.20L168.56 282.20L168.72 282.20L168.87 282.20L169.03 282.20L169.19 282.20L169.34 282.20L169.50 282.20L169.65 282.20L169.81 282.20L169.96 282.20L170.12 282.20L170.28 282.20L170.43 282.20L170.59 282.20L170.74 282.20L170.90 282.20" fill="none" stroke="#1a1a1a" stroke-width="0.6" stroke-linejoin="round"/>
<line x1="108.4" y1="220.5" x2="108.4" y2="282.2" stroke="#555" stroke-width="0.6"/>
<line x1="108.4" y1="282.2" x2="171.2" y2="282.2" stroke="#555" stroke-width="0.6"/>
<text x="105.9" y="227.8" font-size="3.8" text-anchor="end" fill="#222" stroke="#222" stroke-width="0.18">400</text>
<text x="105.9" y="242.1" font-size="3.8" text-anchor="end" fill="#222" stroke="#222" stroke-width="0.18">300</text>
<text x="105.9" y="256" font-size="3.8" text-anchor="end" fill="#222" stroke="#222" stroke-width="0.18">200</text>
<text x="105.9" y="269.7" font-size="3.8" text-anchor="end" fill="#222" stroke="#222" stroke-width="0.18">100</text>
<text x="105.9" y="282.9" font-size="3.8" text-anchor="end" fill="#222" stroke="#222" stroke-width="0.18">0</text>
<path d="M108.4 226.5h-2M108.4 240.8h-2M108.4 254.7h-2M108.4 268.4h-2M108.4 281.6h-2M108.4 281.6h-.9M108.4 278.8h-.9M108.4 276.1h-.9M108.4 273.3h-.9M108.4 270.6h-.9M108.4 267.8h-.9M108.4 265.1h-.9M108.4 262.3h-.9M108.4 259.6h-.9M108.4 256.8h-.9M108.4 254.1h-.9M108.4 251.3h-.9M108.4 248.5h-.9M108.4 245.8h-.9M108.4 243.0h-.9M108.4 240.3h-.9M108.4 237.5h-.9M108.4 234.8h-.9M108.4 232.0h-.9M108.4 229.3h-.9M108.4 226.5h-.9M108.4 223.7h-.9M108.4 221.0h-.9" stroke="#444" stroke-width=".5" fill="none"/>
<text x="108.7" y="288.5" font-size="3.5" text-anchor="middle" fill="#222" stroke="#222" stroke-width="0.18">0</text>
<text x="122" y="288.5" font-size="3.5" text-anchor="middle" fill="#222" stroke="#222" stroke-width="0.18">300K</text>
<text x="135.2" y="288.5" font-size="3.5" text-anchor="middle" fill="#222" stroke="#222" stroke-width="0.18">600K</text>
<text x="148.2" y="288.5" font-size="3.5" text-anchor="middle" fill="#222" stroke="#222" stroke-width="0.18">900K</text>
<text x="161.2" y="288.5" font-size="3.5" text-anchor="middle" fill="#222" stroke="#222" stroke-width="0.18">1.2M</text>
<path d="M108.7 282.2v1.5M122.0 282.2v1.5M135.2 282.2v1.5M148.2 282.2v1.5M161.2 282.2v1.5M109.4 282.2v.8M112.0 282.2v.8M114.6 282.2v.8M117.2 282.2v.8M119.8 282.2v.8M122.4 282.2v.8M125.0 282.2v.8M127.6 282.2v.8M130.2 282.2v.8M132.8 282.2v.8M135.4 282.2v.8M138.0 282.2v.8M140.6 282.2v.8M143.2 282.2v.8M145.8 282.2v.8M148.4 282.2v.8M151.0 282.2v.8M153.6 282.2v.8M156.2 282.2v.8M158.8 282.2v.8M161.4 282.2v.8M164.0 282.2v.8M166.6 282.2v.8M169.2 282.2v.8" stroke="#444" stroke-width=".5" fill="none"/>
<text x="97.9" y="251.85" font-size="3.6" text-anchor="middle" fill="#222" stroke="#222" stroke-width="0.18" transform="rotate(-90 97.9 251.85)">Count</text>
<text x="139.8" y="218.2" font-size="7.5" text-anchor="middle" fill="#111" stroke="#111" stroke-width="0.18">4MOD (2.5 μM)</text>
<rect x="188.8" y="220.5" width="62.7" height="61.7" fill="#fff" stroke="#c8c8c8" stroke-width=".7"/>
<path d="M206.22 282.20L206.22 269.68L206.38 272.20L206.53 274.22L206.69 275.80L206.84 277.00L207.00 277.88L207.15 278.52L207.31 278.96L207.47 279.25L207.62 279.44L207.78 279.55L207.93 279.61L208.09 279.63L208.24 279.63L208.40 279.61L208.55 279.58L208.71 279.55L208.87 279.50L209.02 279.45L209.18 279.40L209.33 279.34L209.49 279.28L209.64 279.21L209.80 279.13L209.96 279.06L210.11 278.97L210.27 278.88L210.42 278.79L210.58 278.69L210.73 278.58L210.89 278.47L211.05 278.36L211.20 278.23L211.36 278.11L211.51 277.98L211.67 277.84L211.82 277.70L211.98 277.55L211.98 282.20z" fill="#44dd44"/>
<path d="M205.75 282.20L205.75 282.15L205.91 282.14L206.06 282.13L206.22 282.13L206.38 282.12L206.53 282.10L206.69 282.09L206.84 282.08L207.00 282.06L207.15 282.04L207.31 282.03L207.47 282.00L207.62 281.98L207.78 281.96L207.93 281.93L208.09 281.90L208.24 281.86L208.40 281.82L208.55 281.78L208.71 281.74L208.87 281.69L209.02 281.64L209.18 281.58L209.33 281.52L209.49 281.45L209.64 281.38L209.80 281.30L209.96 281.21L210.11 281.12L210.27 281.03L210.42 280.92L210.58 280.81L210.73 280.70L210.89 280.57L211.05 280.44L211.20 280.30L211.36 280.15L211.51 279.99L211.67 279.83L211.82 279.66L211.98 279.48L212.13 279.29L212.29 279.09L212.45 278.89L212.60 278.68L212.76 278.46L212.91 278.23L213.07 277.99L213.22 277.75L213.38 277.50L213.54 277.25L213.69 276.99L213.85 276.73L214.00 276.46L214.16 276.19L214.31 275.91L214.47 275.64L214.62 275.36L214.78 275.08L214.94 274.80L215.09 274.53L215.25 274.25L215.40 273.98L215.56 273.72L215.71 273.45L215.87 273.20L216.03 272.95L216.18 272.71L216.34 272.48L216.49 272.26L216.65 272.05L216.80 271.86L216.96 271.67L217.12 271.50L217.27 271.35L217.43 271.21L217.58 271.09L217.74 270.98L217.89 270.89L218.05 270.81L218.20 270.76L218.36 270.72L218.52 270.70L218.67 270.70L218.83 270.72L218.98 270.76L219.14 270.81L219.29 270.88L219.45 270.97L219.61 271.08L219.76 271.20L219.92 271.34L220.07 271.49L220.23 271.66L220.38 271.84L220.54 272.04L220.69 272.24L220.85 272.46L221.01 272.69L221.16 272.93L221.32 273.18L221.47 273.43L221.63 273.69L221.78 273.96L221.94 274.23L222.10 274.50L222.25 274.78L222.41 275.06L222.56 275.34L222.72 275.61L222.87 275.89L223.03 276.17L223.18 276.44L223.34 276.71L223.50 276.97L223.65 277.23L223.81 277.48L223.96 277.73L224.12 277.97L224.27 278.21L224.43 278.44L224.59 278.66L224.74 278.87L224.90 279.08L225.05 279.27L225.21 279.46L225.36 279.64L225.52 279.82L225.68 279.98L225.83 280.14L225.99 280.29L226.14 280.43L226.30 280.56L226.45 280.69L226.61 280.80L226.76 280.91L226.92 281.02L227.08 281.12L227.23 281.21L227.39 281.29L227.54 281.37L227.70 281.44L227.85 281.51L228.01 281.57L228.17 281.63L228.32 281.69L228.48 281.73L228.63 281.78L228.79 281.82L228.94 281.86L229.10 281.89L229.25 281.92L229.41 281.95L229.57 281.98L229.72 282.00L229.88 282.02L230.03 282.04L230.19 282.06L230.34 282.08L230.50 282.09L230.66 282.10L230.81 282.11L230.97 282.12L231.12 282.13L231.28 282.14L231.43 282.15L231.43 282.20z" fill="#f6a4a4"/>
<path d="M200.46 282.20L200.46 282.13L200.62 282.08L200.77 282.00L200.93 281.87L201.08 281.68L201.24 281.38L201.40 280.96L201.55 280.35L201.71 279.50L201.86 278.35L202.02 276.82L202.17 274.86L202.33 272.40L202.48 269.40L202.64 265.84L202.80 261.75L202.95 257.19L203.11 252.27L203.26 247.17L203.42 242.08L203.57 237.26L203.73 232.94L203.89 229.38L204.04 226.79L204.20 225.33L204.35 225.08L204.51 226.05L204.66 228.19L204.82 231.34L204.98 235.30L205.13 239.84L205.29 244.70L205.44 249.64L205.60 254.46L205.75 258.97L205.91 263.06L206.06 266.64L206.22 269.68L206.22 282.20z" fill="#a4a4f4"/>
<path d="M200.77 282.00L200.93 281.87L201.08 281.68L201.24 281.38L201.40 280.96L201.55 280.35L201.71 279.50L201.86 278.35L202.02 276.82L202.17 274.86L202.33 272.40L202.48 269.40L202.64 265.84L202.80 261.75L202.95 257.19L203.11 252.27L203.26 247.17L203.42 242.08L203.57 237.26L203.73 232.94L203.89 229.38L204.04 226.79L204.20 225.33L204.35 225.08L204.51 226.05L204.66 228.19L204.82 231.34L204.98 235.30L205.13 239.84L205.29 244.70L205.44 249.64L205.60 254.46L205.75 258.97L205.91 263.06L206.06 266.64L206.22 269.68" fill="none" stroke="#2a2aa8" stroke-width="0.75" stroke-linejoin="round"/>
<path d="M206.38 272.20L206.53 274.22L206.69 275.80L206.84 277.00L207.00 277.88L207.15 278.52L207.31 278.96L207.47 279.25L207.62 279.44L207.78 279.55L207.93 279.61L208.09 279.63L208.24 279.63L208.40 279.61L208.55 279.58L208.71 279.55L208.87 279.50L209.02 279.45L209.18 279.40L209.33 279.34L209.49 279.28L209.64 279.21L209.80 279.13L209.96 279.06L210.11 278.97L210.27 278.88L210.42 278.79L210.58 278.69L210.73 278.58L210.89 278.47L211.05 278.36L211.20 278.23L211.36 278.11L211.51 277.98L211.67 277.84L211.82 277.70L211.98 277.55L212.13 277.41L212.29 277.25L212.45 277.10L212.60 276.94L212.76 276.78L212.91 276.62L213.07 276.45L213.22 276.28L213.38 276.11L213.54 275.94L213.69 275.77L213.85 275.59L214.00 275.41L214.16 275.22L214.31 275.03L214.47 274.83L214.62 274.63L214.78 274.43L214.94 274.22L215.09 274.00L215.25 273.79L215.40 273.57L215.56 273.35L215.71 273.13L215.87 272.90L216.03 272.68L216.18 272.47L216.34 272.25L216.49 272.04L216.65 271.83L216.80 271.63L216.96 271.43L217.12 271.23L217.27 271.04L217.43 270.86L217.58 270.67L217.74 270.49L217.89 270.31L218.05 270.14L218.20 269.97L218.36 269.80L218.52 269.63L218.67 269.47L218.83 269.31L218.98 269.16L219.14 269.01L219.29 268.88L219.45 268.77L219.61 268.67L219.76 268.59L219.92 268.54L220.07 268.52L220.23 268.53L220.38 268.57L220.54 268.66L220.69 268.78L220.85 268.95L221.01 269.16L221.16 269.41L221.32 269.71L221.47 270.04L221.63 270.40L221.78 270.80L221.94 271.22L222.10 271.66L222.25 272.12L222.41 272.59L222.56 273.06L222.72 273.53L222.87 274.00L223.03 274.46L223.18 274.90L223.34 275.33L223.50 275.74L223.65 276.13L223.81 276.50L223.96 276.85L224.12 277.17L224.27 277.48L224.43 277.76L224.59 278.02L224.74 278.26L224.90 278.48L225.05 278.69L225.21 278.88L225.36 279.05L225.52 279.21L225.68 279.36L225.83 279.49L225.99 279.61L226.14 279.73L226.30 279.83L226.45 279.92L226.61 280.01L226.76 280.09L226.92 280.16L227.08 280.22L227.23 280.28L227.39 280.33L227.54 280.38L227.70 280.42L227.85 280.46L228.01 280.50L228.17 280.53L228.32 280.56L228.48 280.59L228.63 280.62L228.79 280.64L228.94 280.66L229.10 280.68L229.25 280.70L229.41 280.72L229.57 280.74L229.72 280.76L229.88 280.77L230.03 280.79L230.19 280.80L230.34 280.82L230.50 280.83L230.66 280.85L230.81 280.86L230.97 280.88L231.12 280.89L231.28 280.90L231.43 280.91L231.59 280.92L231.75 280.93L231.90 280.94L232.06 280.95L232.21 280.95L232.37 280.96L232.52 280.96L232.68 280.97L232.83 280.97L232.99 280.97L233.15 280.97L233.30 280.96L233.46 280.96L233.61 280.95L233.77 280.95L233.92 280.94L234.08 280.93L234.24 280.92L234.39 280.91L234.55 280.90L234.70 280.89L234.86 280.87L235.01 280.86L235.17 280.85L235.32 280.83L235.48 280.82L235.64 280.81L235.79 280.79L235.95 280.78L236.10 280.77L236.26 280.75L236.41 280.74L236.57 280.73L236.73 280.72L236.88 280.71L237.04 280.71L237.19 280.70L237.35 280.69L237.50 280.69L237.66 280.69L237.82 280.69L237.97 280.69L238.13 280.69L238.28 280.69L238.44 280.70L238.59 280.71L238.75 280.72L238.90 280.73L239.06 280.74L239.22 280.75L239.37 280.77L239.53 280.78L239.68 280.80L239.84 280.82L239.99 280.84L240.15 280.86L240.31 280.88L240.46 280.91L240.62 280.93L240.77 280.96L240.93 280.99L241.08 281.01L241.24 281.04L241.39 281.07L241.55 281.10L241.71 281.13L241.86 281.16L242.02 281.19L242.17 281.22L242.33 281.26L242.48 281.29L242.64 281.32L242.80 281.35L242.95 281.38L243.11 281.41L243.26 281.44L243.42 281.47L243.57 281.50L243.73 281.53L243.88 281.56L244.04 281.59L244.20 281.62L244.35 281.65L244.51 281.67L244.66 281.70L244.82 281.72L244.97 281.75L245.13 281.77L245.29 281.80L245.44 281.82L245.60 281.84L245.75 281.86L245.91 281.88L246.06 281.90L246.22 281.92L246.38 281.93L246.53 281.95L246.69 281.97L246.84 281.98L247.00 282.00L247.15 282.01L247.31 282.02L247.46 282.04L247.62 282.05L247.78 282.06L247.93 282.07L248.09 282.08L248.24 282.09L248.40 282.10L248.55 282.10L248.71 282.11L248.87 282.12L249.02 282.13L249.18 282.13L249.33 282.14L249.49 282.14L249.64 282.15L249.80 282.15L249.95 282.16L250.11 282.16L250.27 282.16L250.42 282.17L250.58 282.17L250.73 282.17L250.89 282.18L251.04 282.18L251.20 282.18" fill="none" stroke="#1a1a1a" stroke-width="0.6" stroke-linejoin="round"/>
<line x1="188.8" y1="220.5" x2="188.8" y2="282.2" stroke="#555" stroke-width="0.6"/>
<line x1="188.8" y1="282.2" x2="251.5" y2="282.2" stroke="#555" stroke-width="0.6"/>
<text x="186.3" y="225.6" font-size="3.8" text-anchor="end" fill="#222" stroke="#222" stroke-width="0.18">400</text>
<text x="186.3" y="239.9" font-size="3.8" text-anchor="end" fill="#222" stroke="#222" stroke-width="0.18">300</text>
<text x="186.3" y="254.7" font-size="3.8" text-anchor="end" fill="#222" stroke="#222" stroke-width="0.18">200</text>
<text x="186.3" y="269" font-size="3.8" text-anchor="end" fill="#222" stroke="#222" stroke-width="0.18">100</text>
<text x="186.3" y="282.9" font-size="3.8" text-anchor="end" fill="#222" stroke="#222" stroke-width="0.18">0</text>
<path d="M188.8 224.3h-2M188.8 238.6h-2M188.8 253.4h-2M188.8 267.7h-2M188.8 281.6h-2M188.8 281.6h-.9M188.8 278.7h-.9M188.8 275.9h-.9M188.8 273.0h-.9M188.8 270.1h-.9M188.8 267.3h-.9M188.8 264.4h-.9M188.8 261.5h-.9M188.8 258.7h-.9M188.8 255.8h-.9M188.8 252.9h-.9M188.8 250.1h-.9M188.8 247.2h-.9M188.8 244.4h-.9M188.8 241.5h-.9M188.8 238.6h-.9M188.8 235.8h-.9M188.8 232.9h-.9M188.8 230.0h-.9M188.8 227.2h-.9M188.8 224.3h-.9M188.8 221.4h-.9" stroke="#444" stroke-width=".5" fill="none"/>
<text x="189" y="288.5" font-size="3.5" text-anchor="middle" fill="#222" stroke="#222" stroke-width="0.18">0</text>
<text x="202.3" y="288.5" font-size="3.5" text-anchor="middle" fill="#222" stroke="#222" stroke-width="0.18">300K</text>
<text x="215.5" y="288.5" font-size="3.5" text-anchor="middle" fill="#222" stroke="#222" stroke-width="0.18">600K</text>
<text x="228.5" y="288.5" font-size="3.5" text-anchor="middle" fill="#222" stroke="#222" stroke-width="0.18">900K</text>
<text x="241.5" y="288.5" font-size="3.5" text-anchor="middle" fill="#222" stroke="#222" stroke-width="0.18">1.2M</text>
<path d="M189.0 282.2v1.5M202.3 282.2v1.5M215.5 282.2v1.5M228.5 282.2v1.5M241.5 282.2v1.5M189.8 282.2v.8M192.4 282.2v.8M195.0 282.2v.8M197.6 282.2v.8M200.2 282.2v.8M202.8 282.2v.8M205.4 282.2v.8M208.0 282.2v.8M210.6 282.2v.8M213.2 282.2v.8M215.8 282.2v.8M218.4 282.2v.8M221.0 282.2v.8M223.6 282.2v.8M226.2 282.2v.8M228.8 282.2v.8M231.4 282.2v.8M234.0 282.2v.8M236.6 282.2v.8M239.2 282.2v.8M241.8 282.2v.8M244.4 282.2v.8M247.0 282.2v.8M249.6 282.2v.8" stroke="#444" stroke-width=".5" fill="none"/>
<text x="178.3" y="251.85" font-size="3.6" text-anchor="middle" fill="#222" stroke="#222" stroke-width="0.18" transform="rotate(-90 178.3 251.85)">Count</text>
<text x="220.15" y="218.2" font-size="7.5" text-anchor="middle" fill="#111" stroke="#111" stroke-width="0.18">4MOD (5.0 μM)</text>
<rect x="270.7" y="220.5" width="63" height="61.7" fill="#fff" stroke="#c8c8c8" stroke-width=".7"/>
<path d="M295.87 282.20L295.87 262.14L296.02 263.29L296.18 264.35L296.34 265.32L296.49 266.21L296.65 266.99L296.80 267.69L296.96 268.30L297.12 268.83L297.27 269.28L297.43 269.65L297.59 269.95L297.74 270.19L297.90 270.37L298.06 270.49L298.21 270.56L298.37 270.59L298.52 270.58L298.68 270.53L298.84 270.45L298.99 270.34L299.15 270.20L299.31 270.04L299.46 269.87L299.62 269.68L299.78 269.48L299.93 269.27L300.09 269.05L300.25 268.82L300.40 268.60L300.56 268.37L300.71 268.14L300.87 267.92L301.03 267.70L301.18 267.48L301.34 267.27L301.50 267.06L301.65 266.86L301.81 266.66L301.97 266.46L301.97 282.20z" fill="#44dd44"/>
<path d="M289.14 282.20L289.14 282.15L289.30 282.14L289.45 282.14L289.61 282.13L289.77 282.13L289.92 282.12L290.08 282.11L290.24 282.10L290.39 282.09L290.55 282.08L290.71 282.07L290.86 282.06L291.02 282.04L291.17 282.03L291.33 282.01L291.49 282.00L291.64 281.98L291.80 281.96L291.96 281.94L292.11 281.91L292.27 281.89L292.43 281.86L292.58 281.83L292.74 281.80L292.89 281.77L293.05 281.73L293.21 281.69L293.36 281.65L293.52 281.61L293.68 281.56L293.83 281.51L293.99 281.46L294.15 281.40L294.30 281.34L294.46 281.27L294.62 281.20L294.77 281.13L294.93 281.05L295.08 280.97L295.24 280.88L295.40 280.79L295.55 280.69L295.71 280.58L295.87 280.47L296.02 280.36L296.18 280.24L296.34 280.11L296.49 279.97L296.65 279.83L296.80 279.68L296.96 279.52L297.12 279.36L297.27 279.19L297.43 279.01L297.59 278.82L297.74 278.62L297.90 278.41L298.06 278.20L298.21 277.98L298.37 277.75L298.52 277.51L298.68 277.26L298.84 277.00L298.99 276.73L299.15 276.45L299.31 276.16L299.46 275.87L299.62 275.56L299.78 275.25L299.93 274.92L300.09 274.59L300.25 274.25L300.40 273.89L300.56 273.53L300.71 273.16L300.87 272.79L301.03 272.40L301.18 272.01L301.34 271.61L301.50 271.20L301.65 270.78L301.81 270.36L301.97 269.93L302.12 269.50L302.28 269.06L302.43 268.62L302.59 268.17L302.75 267.72L302.90 267.27L303.06 266.82L303.22 266.36L303.37 265.90L303.53 265.45L303.69 264.99L303.84 264.53L304.00 264.08L304.15 263.63L304.31 263.18L304.47 262.74L304.62 262.30L304.78 261.87L304.94 261.45L305.09 261.03L305.25 260.62L305.41 260.23L305.56 259.84L305.72 259.46L305.88 259.09L306.03 258.74L306.19 258.40L306.34 258.07L306.50 257.76L306.66 257.46L306.81 257.18L306.97 256.92L307.13 256.67L307.28 256.44L307.44 256.23L307.60 256.04L307.75 255.86L307.91 255.71L308.06 255.57L308.22 255.46L308.38 255.37L308.53 255.29L308.69 255.24L308.85 255.21L309.00 255.20L309.16 255.21L309.32 255.24L309.47 255.30L309.63 255.37L309.78 255.46L309.94 255.58L310.10 255.71L310.25 255.87L310.41 256.04L310.57 256.24L310.72 256.45L310.88 256.68L311.04 256.93L311.19 257.19L311.35 257.47L311.51 257.77L311.66 258.08L311.82 258.41L311.97 258.75L312.13 259.11L312.29 259.47L312.44 259.85L312.60 260.24L312.76 260.64L312.91 261.05L313.07 261.46L313.23 261.89L313.38 262.32L313.54 262.76L313.69 263.20L313.85 263.65L314.01 264.10L314.16 264.55L314.32 265.01L314.48 265.46L314.63 265.92L314.79 266.38L314.95 266.83L315.10 267.29L315.26 267.74L315.42 268.19L315.57 268.64L315.73 269.08L315.88 269.52L316.04 269.95L316.20 270.38L316.35 270.80L316.51 271.21L316.67 271.62L316.82 272.02L316.98 272.42L317.14 272.80L317.29 273.18L317.45 273.55L317.60 273.91L317.76 274.26L317.92 274.60L318.07 274.93L318.23 275.26L318.39 275.57L318.54 275.88L318.70 276.18L318.86 276.46L319.01 276.74L319.17 277.01L319.32 277.27L319.48 277.52L319.64 277.76L319.79 277.99L319.95 278.21L320.11 278.42L320.26 278.63L320.42 278.82L320.58 279.01L320.73 279.19L320.89 279.36L321.05 279.53L321.20 279.69L321.36 279.83L321.51 279.98L321.67 280.11L321.83 280.24L321.98 280.36L322.14 280.48L322.30 280.59L322.45 280.69L322.61 280.79L322.77 280.88L322.92 280.97L323.08 281.05L323.23 281.13L323.39 281.21L323.55 281.28L323.70 281.34L323.86 281.40L324.02 281.46L324.17 281.51L324.33 281.56L324.49 281.61L324.64 281.65L324.80 281.70L324.95 281.73L325.11 281.77L325.27 281.80L325.42 281.83L325.58 281.86L325.74 281.89L325.89 281.91L326.05 281.94L326.21 281.96L326.36 281.98L326.52 282.00L326.68 282.01L326.83 282.03L326.99 282.04L327.14 282.06L327.30 282.07L327.46 282.08L327.61 282.09L327.77 282.10L327.93 282.11L328.08 282.12L328.24 282.13L328.40 282.13L328.55 282.14L328.71 282.14L328.86 282.15L328.86 282.20z" fill="#f6a4a4"/>
<path d="M282.42 282.20L282.42 282.15L282.57 282.13L282.73 282.12L282.89 282.10L283.04 282.07L283.20 282.04L283.35 282.00L283.51 281.95L283.67 281.89L283.82 281.82L283.98 281.74L284.14 281.64L284.29 281.52L284.45 281.38L284.61 281.21L284.76 281.02L284.92 280.79L285.08 280.52L285.23 280.22L285.39 279.87L285.54 279.46L285.70 279.00L285.86 278.48L286.01 277.88L286.17 277.22L286.33 276.47L286.48 275.64L286.64 274.72L286.80 273.71L286.95 272.60L287.11 271.38L287.26 270.07L287.42 268.64L287.58 267.11L287.73 265.48L287.89 263.75L288.05 261.91L288.20 259.99L288.36 257.99L288.52 255.91L288.67 253.76L288.83 251.57L288.98 249.34L289.14 247.10L289.30 244.85L289.45 242.62L289.61 240.42L289.77 238.29L289.92 236.23L290.08 234.27L290.24 232.43L290.39 230.72L290.55 229.18L290.71 227.81L290.86 226.63L291.02 225.65L291.17 224.89L291.33 224.35L291.49 224.04L291.64 223.97L291.80 224.13L291.96 224.51L292.11 225.12L292.27 225.95L292.43 226.98L292.58 228.19L292.74 229.58L292.89 231.11L293.05 232.77L293.21 234.54L293.36 236.37L293.52 238.26L293.68 240.16L293.83 242.05L293.99 243.91L294.15 245.72L294.30 247.47L294.46 249.15L294.62 250.78L294.77 252.36L294.93 253.89L295.08 255.38L295.24 256.84L295.40 258.26L295.55 259.62L295.71 260.92L295.87 262.14L295.87 282.20z" fill="#a4a4f4"/>
<path d="M283.35 282.00L283.51 281.95L283.67 281.89L283.82 281.82L283.98 281.74L284.14 281.64L284.29 281.52L284.45 281.38L284.61 281.21L284.76 281.02L284.92 280.79L285.08 280.52L285.23 280.22L285.39 279.87L285.54 279.46L285.70 279.00L285.86 278.48L286.01 277.88L286.17 277.22L286.33 276.47L286.48 275.64L286.64 274.72L286.80 273.71L286.95 272.60L287.11 271.38L287.26 270.07L287.42 268.64L287.58 267.11L287.73 265.48L287.89 263.75L288.05 261.91L288.20 259.99L288.36 257.99L288.52 255.91L288.67 253.76L288.83 251.57L288.98 249.34L289.14 247.10L289.30 244.85L289.45 242.62L289.61 240.42L289.77 238.29L289.92 236.23L290.08 234.27L290.24 232.43L290.39 230.72L290.55 229.18L290.71 227.81L290.86 226.63L291.02 225.65L291.17 224.89L291.33 224.35L291.49 224.04L291.64 223.97L291.80 224.13L291.96 224.51L292.11 225.12L292.27 225.95L292.43 226.98L292.58 228.19L292.74 229.58L292.89 231.11L293.05 232.77L293.21 234.54L293.36 236.37L293.52 238.26L293.68 240.16L293.83 242.05L293.99 243.91L294.15 245.72L294.30 247.47L294.46 249.15L294.62 250.78L294.77 252.36L294.93 253.89L295.08 255.38L295.24 256.84L295.40 258.26L295.55 259.62L295.71 260.92L295.87 262.14" fill="none" stroke="#2a2aa8" stroke-width="0.75" stroke-linejoin="round"/>
<path d="M296.02 263.29L296.18 264.35L296.34 265.32L296.49 266.21L296.65 266.99L296.80 267.69L296.96 268.30L297.12 268.83L297.27 269.28L297.43 269.65L297.59 269.95L297.74 270.19L297.90 270.37L298.06 270.49L298.21 270.56L298.37 270.59L298.52 270.58L298.68 270.53L298.84 270.45L298.99 270.34L299.15 270.20L299.31 270.04L299.46 269.87L299.62 269.68L299.78 269.48L299.93 269.27L300.09 269.05L300.25 268.82L300.40 268.60L300.56 268.37L300.71 268.14L300.87 267.92L301.03 267.70L301.18 267.48L301.34 267.27L301.50 267.06L301.65 266.85L301.81 266.65L301.97 266.45L302.12 266.25L302.28 266.04L302.43 265.82L302.59 265.60L302.75 265.37L302.90 265.12L303.06 264.85L303.22 264.57L303.37 264.27L303.53 263.94L303.69 263.60L303.84 263.23L304.00 262.84L304.15 262.43L304.31 261.99L304.47 261.54L304.62 261.06L304.78 260.57L304.94 260.06L305.09 259.53L305.25 258.99L305.41 258.44L305.56 257.89L305.72 257.33L305.88 256.78L306.03 256.24L306.19 255.70L306.34 255.19L306.50 254.70L306.66 254.24L306.81 253.82L306.97 253.43L307.13 253.08L307.28 252.78L307.44 252.52L307.60 252.31L307.75 252.14L307.91 252.01L308.06 251.92L308.22 251.86L308.38 251.84L308.53 251.84L308.69 251.86L308.85 251.90L309.00 251.96L309.16 252.03L309.32 252.12L309.47 252.22L309.63 252.34L309.78 252.49L309.94 252.66L310.10 252.86L310.25 253.09L310.41 253.36L310.57 253.66L310.72 254.01L310.88 254.39L311.04 254.80L311.19 255.25L311.35 255.72L311.51 256.21L311.66 256.71L311.82 257.22L311.97 257.74L312.13 258.26L312.29 258.77L312.44 259.28L312.60 259.79L312.76 260.28L312.91 260.77L313.07 261.25L313.23 261.73L313.38 262.20L313.54 262.67L313.69 263.14L313.85 263.61L314.01 264.07L314.16 264.53L314.32 264.99L314.48 265.45L314.63 265.91L314.79 266.37L314.95 266.83L315.10 267.29L315.26 267.74L315.42 268.19L315.57 268.64L315.73 269.08L315.88 269.52L316.04 269.95L316.20 270.38L316.35 270.80L316.51 271.21L316.67 271.62L316.82 272.02L316.98 272.41L317.14 272.80L317.29 273.18L317.45 273.54L317.60 273.90L317.76 274.25L317.92 274.60L318.07 274.93L318.23 275.25L318.39 275.56L318.54 275.87L318.70 276.16L318.86 276.44L319.01 276.72L319.17 276.98L319.32 277.24L319.48 277.48L319.64 277.72L319.79 277.94L319.95 278.16L320.11 278.36L320.26 278.56L320.42 278.74L320.58 278.92L320.73 279.08L320.89 279.24L321.05 279.39L321.20 279.53L321.36 279.66L321.51 279.78L321.67 279.89L321.83 279.99L321.98 280.09L322.14 280.18L322.30 280.25L322.45 280.33L322.61 280.39L322.77 280.45L322.92 280.50L323.08 280.55L323.23 280.59L323.39 280.63L323.55 280.66L323.70 280.68L323.86 280.71L324.02 280.73L324.17 280.75L324.33 280.76L324.49 280.78L324.64 280.79L324.80 280.80L324.95 280.82L325.11 280.83L325.27 280.84L325.42 280.86L325.58 280.88L325.74 280.90L325.89 280.92L326.05 280.94L326.21 280.96L326.36 280.99L326.52 281.02L326.68 281.05L326.83 281.08L326.99 281.12L327.14 281.16L327.30 281.20L327.46 281.24L327.61 281.28L327.77 281.32L327.93 281.37L328.08 281.41L328.24 281.46L328.40 281.50L328.55 281.55L328.71 281.59L328.86 281.63L329.02 281.67L329.18 281.71L329.33 281.75L329.49 281.79L329.65 281.82L329.80 281.86L329.96 281.89L330.12 281.92L330.27 281.95L330.43 281.97L330.58 282.00L330.74 282.02L330.90 282.04L331.05 282.06L331.21 282.08L331.37 282.09L331.52 282.10L331.68 282.12L331.84 282.13L331.99 282.14L332.15 282.15L332.31 282.15L332.46 282.16L332.62 282.17L332.77 282.17L332.93 282.18L333.09 282.18L333.24 282.18L333.40 282.19" fill="none" stroke="#1a1a1a" stroke-width="0.6" stroke-linejoin="round"/>
<line x1="270.7" y1="220.5" x2="270.7" y2="282.2" stroke="#555" stroke-width="0.6"/>
<line x1="270.7" y1="282.2" x2="333.7" y2="282.2" stroke="#555" stroke-width="0.6"/>
<text x="268.2" y="231.8" font-size="3.8" text-anchor="end" fill="#222" stroke="#222" stroke-width="0.18">250</text>
<text x="268.2" y="242.1" font-size="3.8" text-anchor="end" fill="#222" stroke="#222" stroke-width="0.18">200</text>
<text x="268.2" y="252.7" font-size="3.8" text-anchor="end" fill="#222" stroke="#222" stroke-width="0.18">150</text>
<text x="268.2" y="263.1" font-size="3.8" text-anchor="end" fill="#222" stroke="#222" stroke-width="0.18">100</text>
<text x="268.2" y="273.4" font-size="3.8" text-anchor="end" fill="#222" stroke="#222" stroke-width="0.18">50</text>
<text x="268.2" y="283.5" font-size="3.8" text-anchor="end" fill="#222" stroke="#222" stroke-width="0.18">0</text>
<path d="M270.7 230.5h-2M270.7 240.8h-2M270.7 251.4h-2M270.7 261.8h-2M270.7 272.1h-2M270.7 282.2h-2M270.7 282.2h-.9M270.7 280.1h-.9M270.7 278.1h-.9M270.7 276.0h-.9M270.7 273.9h-.9M270.7 271.9h-.9M270.7 269.8h-.9M270.7 267.7h-.9M270.7 265.7h-.9M270.7 263.6h-.9M270.7 261.5h-.9M270.7 259.5h-.9M270.7 257.4h-.9M270.7 255.3h-.9M270.7 253.2h-.9M270.7 251.2h-.9M270.7 249.1h-.9M270.7 247.0h-.9M270.7 245.0h-.9M270.7 242.9h-.9M270.7 240.8h-.9M270.7 238.8h-.9M270.7 236.7h-.9M270.7 234.6h-.9M270.7 232.6h-.9M270.7 230.5h-.9M270.7 228.4h-.9M270.7 226.4h-.9M270.7 224.3h-.9M270.7 222.2h-.9" stroke="#444" stroke-width=".5" fill="none"/>
<text x="270.5" y="288.5" font-size="3.5" text-anchor="middle" fill="#222" stroke="#222" stroke-width="0.18">0</text>
<text x="283.8" y="288.5" font-size="3.5" text-anchor="middle" fill="#222" stroke="#222" stroke-width="0.18">300K</text>
<text x="297" y="288.5" font-size="3.5" text-anchor="middle" fill="#222" stroke="#222" stroke-width="0.18">600K</text>
<text x="310" y="288.5" font-size="3.5" text-anchor="middle" fill="#222" stroke="#222" stroke-width="0.18">900K</text>
<text x="323" y="288.5" font-size="3.5" text-anchor="middle" fill="#222" stroke="#222" stroke-width="0.18">1.2M</text>
<path d="M270.5 282.2v1.5M283.8 282.2v1.5M297.0 282.2v1.5M310.0 282.2v1.5M323.0 282.2v1.5M271.7 282.2v.8M274.3 282.2v.8M276.9 282.2v.8M279.5 282.2v.8M282.1 282.2v.8M284.7 282.2v.8M287.3 282.2v.8M289.9 282.2v.8M292.5 282.2v.8M295.1 282.2v.8M297.7 282.2v.8M300.3 282.2v.8M302.9 282.2v.8M305.5 282.2v.8M308.1 282.2v.8M310.7 282.2v.8M313.3 282.2v.8M315.9 282.2v.8M318.5 282.2v.8M321.1 282.2v.8M323.7 282.2v.8M326.3 282.2v.8M328.9 282.2v.8M331.5 282.2v.8" stroke="#444" stroke-width=".5" fill="none"/>
<text x="260.2" y="251.85" font-size="3.6" text-anchor="middle" fill="#222" stroke="#222" stroke-width="0.18" transform="rotate(-90 260.2 251.85)">Count</text>
<text x="302.2" y="218.2" font-size="7.5" text-anchor="middle" fill="#111" stroke="#111" stroke-width="0.18">4MOD (10.0 μM)</text>
<rect x="27.8" y="304.4" width="61.7" height="60.2" fill="#fff" stroke="#c8c8c8" stroke-width=".7"/>
<path d="M42.19 364.60L42.19 364.55L42.34 364.53L42.49 364.52L42.65 364.50L42.80 364.47L42.95 364.44L43.11 364.40L43.26 364.35L43.41 364.29L43.57 364.22L43.72 364.14L43.87 364.03L44.03 363.91L44.18 363.77L44.33 363.60L44.49 363.41L44.64 363.18L44.79 362.91L44.94 362.60L45.10 362.25L45.25 361.85L45.40 361.39L45.56 360.87L45.71 360.28L45.86 359.62L46.02 358.89L46.17 358.07L46.32 357.17L46.48 356.18L46.63 355.11L46.78 353.93L46.94 352.67L47.09 351.31L47.24 349.86L47.39 348.32L47.55 346.69L47.70 344.99L47.85 343.21L48.01 341.36L48.16 339.45L48.31 337.49L48.47 335.49L48.62 333.45L48.77 331.39L48.93 329.30L49.08 327.20L49.23 325.11L49.39 323.02L49.54 320.96L49.69 318.96L49.84 317.03L50.00 315.23L50.15 313.59L50.30 312.16L50.46 310.99L50.61 310.13L50.76 309.60L50.92 309.43L51.07 309.62L51.22 310.16L51.38 311.03L51.53 312.19L51.68 313.60L51.84 315.20L51.99 316.95L52.14 318.81L52.29 320.74L52.45 322.71L52.60 324.70L52.75 326.70L52.91 328.69L53.06 330.67L53.21 332.63L53.37 334.56L53.52 336.46L53.67 338.32L53.83 340.14L53.98 341.91L54.13 343.61L54.29 345.26L54.44 346.83L54.59 348.33L54.75 349.75L54.90 351.10L55.05 352.36L55.20 353.53L55.36 354.63L55.51 355.64L55.66 356.57L55.82 357.42L55.97 358.19L56.12 358.89L56.28 359.52L56.43 360.09L56.58 360.58L56.74 361.02L56.89 361.41L57.04 361.74L57.20 362.03L57.35 362.28L57.50 362.48L57.65 362.66L57.81 362.80L57.96 362.92L58.11 363.01L58.27 363.09L58.42 363.15L58.57 363.19L58.73 363.22L58.88 363.24L59.03 363.25L59.19 363.26L59.34 363.26L59.49 363.26L59.65 363.25L59.80 363.24L59.95 363.23L60.10 363.22L60.26 363.20L60.41 363.19L60.56 363.18L60.72 363.17L60.87 363.15L61.02 363.14L61.18 363.13L61.33 363.12L61.48 363.11L61.64 363.10L61.79 363.09L61.94 363.08L62.10 363.07L62.25 363.06L62.40 363.05L62.55 363.05L62.71 363.04L62.86 363.03L63.01 363.02L63.17 363.01L63.32 363.00L63.47 362.99L63.63 362.98L63.78 362.97L63.93 362.96L64.09 362.94L64.24 362.93L64.39 362.91L64.55 362.90L64.70 362.88L64.85 362.86L65.01 362.84L65.16 362.81L65.31 362.79L65.46 362.76L65.62 362.73L65.77 362.70L65.92 362.67L66.08 362.64L66.23 362.61L66.38 362.57L66.54 362.54L66.69 362.50L66.84 362.46L67.00 362.42L67.15 362.38L67.30 362.34L67.46 362.30L67.61 362.26L67.76 362.21L67.91 362.17L68.07 362.13L68.22 362.09L68.37 362.05L68.53 362.01L68.68 361.97L68.83 361.93L68.99 361.90L69.14 361.86L69.29 361.83L69.45 361.80L69.60 361.77L69.75 361.75L69.91 361.73L70.06 361.71L70.21 361.69L70.36 361.67L70.52 361.66L70.67 361.65L70.82 361.65L70.98 361.65L71.13 361.65L71.28 361.65L71.44 361.66L71.59 361.67L71.74 361.69L71.90 361.71L72.05 361.73L72.20 361.76L72.36 361.78L72.51 361.82L72.66 361.85L72.81 361.89L72.97 361.93L73.12 361.97L73.27 362.02L73.43 362.07L73.58 362.12L73.73 362.17L73.89 362.23L74.04 362.29L74.19 362.34L74.35 362.40L74.50 362.47L74.65 362.53L74.81 362.59L74.96 362.65L75.11 362.72L75.26 362.78L75.42 362.85L75.57 362.91L75.72 362.98L75.88 363.04L76.03 363.10L76.18 363.16L76.34 363.23L76.49 363.29L76.64 363.35L76.80 363.41L76.95 363.46L77.10 363.52L77.26 363.57L77.41 363.63L77.56 363.68L77.72 363.73L77.87 363.78L78.02 363.82L78.17 363.87L78.33 363.91L78.48 363.95L78.63 363.99L78.79 364.03L78.94 364.07L79.09 364.10L79.25 364.14L79.40 364.17L79.55 364.20L79.71 364.23L79.86 364.25L80.01 364.28L80.17 364.30L80.32 364.33L80.47 364.35L80.62 364.37L80.78 364.38L80.93 364.40L81.08 364.42L81.24 364.43L81.39 364.45L81.54 364.46L81.70 364.47L81.85 364.48L82.00 364.49L82.16 364.50L82.31 364.51L82.46 364.52L82.62 364.53L82.77 364.53L82.92 364.54L83.07 364.55L83.07 364.60z" fill="#8c8c8c"/>
<path d="M42.19 364.60L42.19 364.55L42.34 364.53L42.49 364.52L42.65 364.50L42.80 364.47L42.95 364.44L43.11 364.40L43.26 364.35L43.41 364.29L43.57 364.22L43.72 364.14L43.87 364.03L44.03 363.91L44.18 363.77L44.33 363.60L44.49 363.41L44.64 363.18L44.79 362.91L44.94 362.60L45.10 362.25L45.25 361.85L45.40 361.39L45.56 360.87L45.71 360.28L45.86 359.62L46.02 358.89L46.17 358.07L46.32 357.17L46.48 356.18L46.63 355.11L46.78 353.93L46.94 352.67L47.09 351.31L47.24 349.86L47.39 348.32L47.55 346.70L47.70 345.00L47.85 343.22L48.01 341.39L48.16 339.50L48.31 337.58L48.47 335.63L48.62 333.67L48.77 331.72L48.93 329.80L49.08 327.92L49.23 326.09L49.39 324.35L49.54 322.71L49.69 321.19L49.84 319.80L50.00 318.56L50.15 317.48L50.30 316.58L50.46 315.87L50.61 315.35L50.76 315.04L50.92 314.92L51.07 315.02L51.22 315.32L51.38 315.81L51.53 316.50L51.68 317.36L51.84 318.40L51.99 319.60L52.14 320.93L52.29 322.39L52.45 323.96L52.60 325.63L52.75 327.36L52.91 329.15L53.06 330.98L53.21 332.83L53.37 334.69L53.52 336.54L53.67 338.37L53.83 340.17L53.98 341.92L54.13 343.62L54.29 345.26L54.44 346.83L54.59 348.33L54.75 349.75L54.90 351.10L55.05 352.36L55.20 353.53L55.36 354.63L55.51 355.64L55.66 356.57L55.82 357.42L55.97 358.19L56.12 358.89L56.28 359.52L56.43 360.09L56.58 360.58L56.74 361.02L56.89 361.41L57.04 361.74L57.20 362.03L57.35 362.28L57.50 362.48L57.65 362.66L57.81 362.80L57.96 362.92L58.11 363.01L58.27 363.09L58.42 363.15L58.57 363.19L58.73 363.22L58.88 363.24L59.03 363.25L59.19 363.26L59.34 363.26L59.49 363.26L59.65 363.25L59.80 363.24L59.95 363.23L60.10 363.22L60.26 363.20L60.41 363.19L60.56 363.18L60.72 363.17L60.87 363.15L61.02 363.14L61.18 363.13L61.33 363.12L61.48 363.11L61.64 363.10L61.79 363.09L61.94 363.08L62.10 363.07L62.25 363.06L62.40 363.05L62.55 363.05L62.71 363.04L62.86 363.03L63.01 363.02L63.17 363.01L63.32 363.00L63.47 362.99L63.63 362.98L63.78 362.97L63.93 362.96L64.09 362.94L64.24 362.93L64.39 362.91L64.55 362.90L64.70 362.88L64.85 362.86L65.01 362.84L65.16 362.81L65.31 362.79L65.46 362.76L65.62 362.73L65.77 362.70L65.92 362.67L66.08 362.64L66.23 362.61L66.38 362.57L66.54 362.54L66.69 362.50L66.84 362.46L67.00 362.42L67.15 362.38L67.30 362.34L67.46 362.30L67.61 362.26L67.76 362.21L67.91 362.17L68.07 362.13L68.22 362.09L68.37 362.05L68.53 362.01L68.68 361.97L68.83 361.93L68.99 361.90L69.14 361.86L69.29 361.83L69.45 361.80L69.60 361.77L69.75 361.75L69.91 361.73L70.06 361.71L70.21 361.69L70.36 361.67L70.52 361.66L70.67 361.65L70.82 361.65L70.98 361.65L71.13 361.65L71.28 361.65L71.44 361.66L71.59 361.67L71.74 361.69L71.90 361.71L72.05 361.73L72.20 361.76L72.36 361.78L72.51 361.82L72.66 361.85L72.81 361.89L72.97 361.93L73.12 361.97L73.27 362.02L73.43 362.07L73.58 362.12L73.73 362.17L73.89 362.23L74.04 362.29L74.19 362.34L74.35 362.40L74.50 362.47L74.65 362.53L74.81 362.59L74.96 362.65L75.11 362.72L75.26 362.78L75.42 362.85L75.57 362.91L75.72 362.98L75.88 363.04L76.03 363.10L76.18 363.16L76.34 363.23L76.49 363.29L76.64 363.35L76.80 363.41L76.95 363.46L77.10 363.52L77.26 363.57L77.41 363.63L77.56 363.68L77.72 363.73L77.87 363.78L78.02 363.82L78.17 363.87L78.33 363.91L78.48 363.95L78.63 363.99L78.79 364.03L78.94 364.07L79.09 364.10L79.25 364.14L79.40 364.17L79.55 364.20L79.71 364.23L79.86 364.25L80.01 364.28L80.17 364.30L80.32 364.33L80.47 364.35L80.62 364.37L80.78 364.38L80.93 364.40L81.08 364.42L81.24 364.43L81.39 364.45L81.54 364.46L81.70 364.47L81.85 364.48L82.00 364.49L82.16 364.50L82.31 364.51L82.46 364.52L82.62 364.53L82.77 364.53L82.92 364.54L83.07 364.55L83.07 364.60z" fill="#ece49a"/>
<path d="M59.34 364.60L59.34 364.55L59.49 364.54L59.65 364.53L59.80 364.53L59.95 364.52L60.10 364.51L60.26 364.50L60.41 364.49L60.56 364.48L60.72 364.47L60.87 364.46L61.02 364.45L61.18 364.43L61.33 364.42L61.48 364.40L61.64 364.38L61.79 364.36L61.94 364.34L62.10 364.32L62.25 364.30L62.40 364.28L62.55 364.25L62.71 364.22L62.86 364.20L63.01 364.17L63.17 364.13L63.32 364.10L63.47 364.07L63.63 364.03L63.78 363.99L63.93 363.95L64.09 363.91L64.24 363.87L64.39 363.82L64.55 363.77L64.70 363.72L64.85 363.67L65.01 363.62L65.16 363.57L65.31 363.51L65.46 363.46L65.62 363.40L65.77 363.34L65.92 363.28L66.08 363.22L66.23 363.16L66.38 363.10L66.54 363.03L66.69 362.97L66.84 362.91L67.00 362.84L67.15 362.78L67.30 362.71L67.46 362.65L67.61 362.59L67.76 362.53L67.91 362.46L68.07 362.40L68.22 362.35L68.37 362.29L68.53 362.23L68.68 362.18L68.83 362.13L68.99 362.08L69.14 362.03L69.29 361.98L69.45 361.94L69.60 361.90L69.75 361.87L69.91 361.83L70.06 361.81L70.21 361.78L70.36 361.76L70.52 361.74L70.67 361.72L70.82 361.71L70.98 361.70L71.13 361.70L71.28 361.70L71.44 361.70L71.59 361.71L71.74 361.72L71.90 361.74L72.05 361.76L72.20 361.78L72.36 361.81L72.51 361.84L72.66 361.87L72.81 361.91L72.97 361.95L73.12 361.99L73.27 362.03L73.43 362.08L73.58 362.13L73.73 362.18L73.89 362.24L74.04 362.29L74.19 362.35L74.35 362.41L74.50 362.47L74.65 362.53L74.81 362.59L74.96 362.66L75.11 362.72L75.26 362.78L75.42 362.85L75.57 362.91L75.72 362.98L75.88 363.04L76.03 363.10L76.18 363.17L76.34 363.23L76.49 363.29L76.64 363.35L76.80 363.41L76.95 363.46L77.10 363.52L77.26 363.57L77.41 363.63L77.56 363.68L77.72 363.73L77.87 363.78L78.02 363.82L78.17 363.87L78.33 363.91L78.48 363.95L78.63 363.99L78.79 364.03L78.94 364.07L79.09 364.10L79.25 364.14L79.40 364.17L79.55 364.20L79.71 364.23L79.86 364.25L80.01 364.28L80.17 364.30L80.32 364.33L80.47 364.35L80.62 364.37L80.78 364.38L80.93 364.40L81.08 364.42L81.24 364.43L81.39 364.45L81.54 364.46L81.70 364.47L81.85 364.48L82.00 364.49L82.16 364.50L82.31 364.51L82.46 364.52L82.62 364.53L82.77 364.53L82.92 364.54L83.07 364.55L83.07 364.60z" fill="#44dd44"/>
<path d="M42.19 364.60L42.19 364.55L42.34 364.53L42.49 364.52L42.65 364.50L42.80 364.47L42.95 364.44L43.11 364.40L43.26 364.35L43.41 364.29L43.57 364.22L43.72 364.14L43.87 364.03L44.03 363.91L44.18 363.77L44.33 363.60L44.49 363.41L44.64 363.18L44.79 362.91L44.94 362.60L45.10 362.25L45.25 361.85L45.40 361.39L45.56 360.87L45.71 360.28L45.86 359.62L46.02 358.89L46.17 358.07L46.32 357.17L46.48 356.19L46.63 355.11L46.78 353.94L46.94 352.67L47.09 351.31L47.24 349.87L47.39 348.33L47.55 346.70L47.70 345.00L47.85 343.23L48.01 341.40L48.16 339.51L48.31 337.59L48.47 335.64L48.62 333.69L48.77 331.74L48.93 329.81L49.08 327.94L49.23 326.12L49.39 324.38L49.54 322.75L49.69 321.23L49.84 319.85L50.00 318.62L50.15 317.55L50.30 316.67L50.46 315.97L50.61 315.47L50.76 315.18L50.92 315.10L51.07 315.23L51.22 315.57L51.38 316.11L51.53 316.84L51.68 317.77L51.84 318.87L51.99 320.14L52.14 321.55L52.29 323.10L52.45 324.76L52.60 326.51L52.75 328.34L52.91 330.23L53.06 332.16L53.21 334.11L53.37 336.07L53.52 338.01L53.67 339.93L53.83 341.80L53.98 343.62L54.13 345.38L54.29 347.07L54.44 348.67L54.59 350.19L54.75 351.62L54.90 352.96L55.05 354.20L55.20 355.35L55.36 356.41L55.51 357.38L55.66 358.26L55.82 359.05L55.97 359.77L56.12 360.41L56.28 360.99L56.43 361.49L56.58 361.94L56.74 362.33L56.89 362.68L57.04 362.97L57.20 363.23L57.35 363.45L57.50 363.64L57.65 363.80L57.81 363.94L57.96 364.06L58.11 364.16L58.27 364.24L58.42 364.30L58.57 364.36L58.73 364.41L58.88 364.44L59.03 364.48L59.19 364.50L59.34 364.52L59.49 364.54L59.49 364.60z" fill="#a4a4f4"/>
<path d="M50.46 364.60L50.46 364.54L50.61 364.52L50.76 364.50L50.92 364.48L51.07 364.45L51.22 364.42L51.38 364.38L51.53 364.33L51.68 364.28L51.84 364.23L51.99 364.16L52.14 364.09L52.29 364.02L52.45 363.94L52.60 363.86L52.75 363.77L52.91 363.69L53.06 363.60L53.21 363.51L53.37 363.43L53.52 363.36L53.67 363.29L53.83 363.23L53.98 363.18L54.13 363.14L54.29 363.11L54.44 363.10L54.59 363.10L54.75 363.12L54.90 363.15L55.05 363.19L55.20 363.24L55.36 363.30L55.51 363.37L55.66 363.45L55.82 363.53L55.97 363.62L56.12 363.70L56.28 363.79L56.43 363.88L56.58 363.96L56.74 364.03L56.89 364.11L57.04 364.18L57.20 364.24L57.35 364.29L57.50 364.34L57.65 364.39L57.81 364.42L57.96 364.46L58.11 364.48L58.27 364.51L58.42 364.53L58.57 364.54L58.57 364.60z" fill="#9a9a9a" fill-opacity=".85"/>
<path d="M48.77 331.39L48.93 329.30L49.08 327.20L49.23 325.11L49.39 323.02L49.54 320.96L49.69 318.96L49.84 317.03L50.00 315.23L50.15 313.59L50.30 312.16L50.46 310.99L50.61 310.13L50.76 309.60L50.92 309.43L51.07 309.62L51.22 310.16L51.38 311.03L51.53 312.19L51.68 313.60L51.84 315.20L51.99 316.95L52.14 318.81L52.29 320.74L52.45 322.71L52.60 324.70L52.75 326.70L52.91 328.69L53.06 330.67" fill="none" stroke="#555" stroke-width="0.5" stroke-linejoin="round"/>
<path d="M42.95 364.44L43.11 364.40L43.26 364.35L43.41 364.29L43.57 364.22L43.72 364.14L43.87 364.03L44.03 363.91L44.18 363.77L44.33 363.60L44.49 363.41L44.64 363.18L44.79 362.91L44.94 362.60L45.10 362.25L45.25 361.85L45.40 361.39L45.56 360.87L45.71 360.28L45.86 359.62L46.02 358.89L46.17 358.07L46.32 357.17L46.48 356.18L46.63 355.11L46.78 353.93L46.94 352.67L47.09 351.31L47.24 349.86L47.39 348.32L47.55 346.70L47.70 345.00L47.85 343.22L48.01 341.39L48.16 339.50L48.31 337.58L48.47 335.63L48.62 333.67L48.77 331.72L48.93 329.80L49.08 327.92L49.23 326.09L49.39 324.35L49.54 322.71L49.69 321.19L49.84 319.80L50.00 318.56L50.15 317.48L50.30 316.58L50.46 315.87L50.61 315.35L50.76 315.04L50.92 314.92L51.07 315.02L51.22 315.32L51.38 315.81L51.53 316.50L51.68 317.36L51.84 318.40L51.99 319.60L52.14 320.93L52.29 322.39L52.45 323.96L52.60 325.63L52.75 327.36L52.91 329.15L53.06 330.98L53.21 332.83L53.37 334.69L53.52 336.54L53.67 338.37L53.83 340.17L53.98 341.92L54.13 343.62L54.29 345.26L54.44 346.83L54.59 348.33L54.75 349.75L54.90 351.10L55.05 352.36L55.20 353.53L55.36 354.63L55.51 355.64L55.66 356.57L55.82 357.42L55.97 358.19L56.12 358.89L56.28 359.52L56.43 360.09L56.58 360.58L56.74 361.02L56.89 361.41L57.04 361.74L57.20 362.03L57.35 362.28L57.50 362.48L57.65 362.66L57.81 362.80L57.96 362.92L58.11 363.01L58.27 363.09L58.42 363.15L58.57 363.19L58.73 363.22L58.88 363.24L59.03 363.25L59.19 363.26L59.34 363.26L59.49 363.26L59.65 363.25L59.80 363.24L59.95 363.23L60.10 363.22L60.26 363.20L60.41 363.19L60.56 363.18L60.72 363.17L60.87 363.15L61.02 363.14L61.18 363.13L61.33 363.12L61.48 363.11L61.64 363.10L61.79 363.09L61.94 363.08L62.10 363.07L62.25 363.06L62.40 363.05L62.55 363.05L62.71 363.04L62.86 363.03L63.01 363.02L63.17 363.01L63.32 363.00L63.47 362.99L63.63 362.98L63.78 362.97L63.93 362.96L64.09 362.94L64.24 362.93L64.39 362.91L64.55 362.90L64.70 362.88L64.85 362.86L65.01 362.84L65.16 362.81L65.31 362.79L65.46 362.76L65.62 362.73L65.77 362.70L65.92 362.67L66.08 362.64L66.23 362.61L66.38 362.57L66.54 362.54L66.69 362.50L66.84 362.46L67.00 362.42L67.15 362.38L67.30 362.34L67.46 362.30L67.61 362.26L67.76 362.21L67.91 362.17L68.07 362.13L68.22 362.09L68.37 362.05L68.53 362.01L68.68 361.97L68.83 361.93L68.99 361.90L69.14 361.86L69.29 361.83L69.45 361.80L69.60 361.77L69.75 361.75L69.91 361.73L70.06 361.71L70.21 361.69L70.36 361.67L70.52 361.66L70.67 361.65L70.82 361.65L70.98 361.65L71.13 361.65L71.28 361.65L71.44 361.66L71.59 361.67L71.74 361.69L71.90 361.71L72.05 361.73L72.20 361.76L72.36 361.78L72.51 361.82L72.66 361.85L72.81 361.89L72.97 361.93L73.12 361.97L73.27 362.02L73.43 362.07L73.58 362.12L73.73 362.17L73.89 362.23L74.04 362.29L74.19 362.34L74.35 362.40L74.50 362.47L74.65 362.53L74.81 362.59L74.96 362.65L75.11 362.72L75.26 362.78L75.42 362.85L75.57 362.91L75.72 362.98L75.88 363.04L76.03 363.10L76.18 363.16L76.34 363.23L76.49 363.29L76.64 363.35L76.80 363.41L76.95 363.46L77.10 363.52L77.26 363.57L77.41 363.63L77.56 363.68L77.72 363.73L77.87 363.78L78.02 363.82L78.17 363.87L78.33 363.91L78.48 363.95L78.63 363.99L78.79 364.03L78.94 364.07L79.09 364.10L79.25 364.14L79.40 364.17L79.55 364.20L79.71 364.23L79.86 364.25L80.01 364.28L80.17 364.30L80.32 364.33L80.47 364.35L80.62 364.37L80.78 364.38L80.93 364.40L81.08 364.42L81.24 364.43L81.39 364.45" fill="none" stroke="#e020e0" stroke-width="0.95" stroke-linejoin="round"/>
<line x1="27.8" y1="304.4" x2="27.8" y2="364.6" stroke="#555" stroke-width="0.6"/>
<line x1="27.8" y1="364.6" x2="89.5" y2="364.6" stroke="#555" stroke-width="0.6"/>
<text x="25.3" y="312.8" font-size="3.8" text-anchor="end" fill="#222" stroke="#222" stroke-width="0.18">500</text>
<text x="25.3" y="323.8" font-size="3.8" text-anchor="end" fill="#222" stroke="#222" stroke-width="0.18">400</text>
<text x="25.3" y="334.2" font-size="3.8" text-anchor="end" fill="#222" stroke="#222" stroke-width="0.18">300</text>
<text x="25.3" y="344.8" font-size="3.8" text-anchor="end" fill="#222" stroke="#222" stroke-width="0.18">200</text>
<text x="25.3" y="355.8" font-size="3.8" text-anchor="end" fill="#222" stroke="#222" stroke-width="0.18">100</text>
<text x="25.3" y="365.7" font-size="3.8" text-anchor="end" fill="#222" stroke="#222" stroke-width="0.18">0</text>
<path d="M27.8 311.5h-2M27.8 322.5h-2M27.8 332.9h-2M27.8 343.5h-2M27.8 354.5h-2M27.8 364.4h-2M27.8 364.4h-.9M27.8 362.3h-.9M27.8 360.2h-.9M27.8 358.1h-.9M27.8 355.9h-.9M27.8 353.8h-.9M27.8 351.7h-.9M27.8 349.6h-.9M27.8 347.5h-.9M27.8 345.4h-.9M27.8 343.2h-.9M27.8 341.1h-.9M27.8 339.0h-.9M27.8 336.9h-.9M27.8 334.8h-.9M27.8 332.7h-.9M27.8 330.5h-.9M27.8 328.4h-.9M27.8 326.3h-.9M27.8 324.2h-.9M27.8 322.1h-.9M27.8 320.0h-.9M27.8 317.8h-.9M27.8 315.7h-.9M27.8 313.6h-.9M27.8 311.5h-.9M27.8 309.4h-.9M27.8 307.3h-.9M27.8 305.2h-.9" stroke="#444" stroke-width=".5" fill="none"/>
<text x="39.7" y="370.9" font-size="3.5" text-anchor="middle" fill="#222" stroke="#222" stroke-width="0.18">400K</text>
<text x="53.1" y="370.9" font-size="3.5" text-anchor="middle" fill="#222" stroke="#222" stroke-width="0.18">700K</text>
<text x="67" y="370.9" font-size="3.5" text-anchor="middle" fill="#222" stroke="#222" stroke-width="0.18">1.0M</text>
<text x="79.9" y="370.9" font-size="3.5" text-anchor="middle" fill="#222" stroke="#222" stroke-width="0.18">1.3M</text>
<path d="M39.7 364.6v1.5M53.1 364.6v1.5M67.0 364.6v1.5M79.9 364.6v1.5M28.8 364.6v.8M31.4 364.6v.8M34.0 364.6v.8M36.6 364.6v.8M39.2 364.6v.8M41.8 364.6v.8M44.4 364.6v.8M47.0 364.6v.8M49.6 364.6v.8M52.2 364.6v.8M54.8 364.6v.8M57.4 364.6v.8M60.0 364.6v.8M62.6 364.6v.8M65.2 364.6v.8M67.8 364.6v.8M70.4 364.6v.8M73.0 364.6v.8M75.6 364.6v.8M78.2 364.6v.8M80.8 364.6v.8M83.4 364.6v.8M86.0 364.6v.8M88.6 364.6v.8" stroke="#444" stroke-width=".5" fill="none"/>
<text x="17.3" y="335" font-size="3.6" text-anchor="middle" fill="#222" stroke="#222" stroke-width="0.18" transform="rotate(-90 17.3 335)">Count</text>
<text x="58.65" y="301.3" font-size="7.5" text-anchor="middle" fill="#111" stroke="#111" stroke-width="0.18">Control</text>
<rect x="108.6" y="304.4" width="61.1" height="60.2" fill="#fff" stroke="#c8c8c8" stroke-width=".7"/>
<path d="M118.60 364.60L118.60 364.54L118.76 364.52L118.91 364.49L119.06 364.46L119.21 364.43L119.36 364.38L119.51 364.32L119.67 364.25L119.82 364.16L119.97 364.05L120.12 363.92L120.27 363.76L120.42 363.57L120.58 363.35L120.73 363.08L120.88 362.76L121.03 362.39L121.18 361.96L121.33 361.46L121.49 360.88L121.64 360.22L121.79 359.47L121.94 358.63L122.09 357.68L122.24 356.63L122.39 355.46L122.55 354.17L122.70 352.76L122.85 351.24L123.00 349.59L123.15 347.83L123.30 345.96L123.46 343.99L123.61 341.93L123.76 339.78L123.91 337.56L124.06 335.29L124.21 332.97L124.37 330.62L124.52 328.25L124.67 325.87L124.82 323.51L124.97 321.18L125.12 318.90L125.28 316.71L125.43 314.65L125.58 312.77L125.73 311.14L125.88 309.82L126.03 308.85L126.19 308.28L126.34 308.14L126.49 308.43L126.64 309.15L126.79 310.24L126.94 311.66L127.10 313.35L127.25 315.25L127.40 317.30L127.55 319.46L127.70 321.68L127.85 323.94L128.01 326.22L128.16 328.49L128.31 330.75L128.46 332.99L128.61 335.18L128.76 337.33L128.92 339.42L129.07 341.43L129.22 343.37L129.37 345.21L129.52 346.96L129.67 348.61L129.82 350.15L129.98 351.59L130.13 352.92L130.28 354.14L130.43 355.26L130.58 356.28L130.73 357.20L130.89 358.04L131.04 358.79L131.19 359.45L131.34 360.05L131.49 360.57L131.64 361.03L131.80 361.43L131.95 361.78L132.10 362.08L132.25 362.33L132.40 362.55L132.55 362.73L132.71 362.89L132.86 363.01L133.01 363.11L133.16 363.19L133.31 363.25L133.46 363.30L133.62 363.34L133.77 363.36L133.92 363.38L134.07 363.39L134.22 363.39L134.37 363.39L134.53 363.38L134.68 363.37L134.83 363.36L134.98 363.35L135.13 363.34L135.28 363.33L135.44 363.31L135.59 363.30L135.74 363.29L135.89 363.28L136.04 363.26L136.19 363.25L136.34 363.24L136.50 363.23L136.65 363.22L136.80 363.20L136.95 363.19L137.10 363.18L137.25 363.17L137.41 363.16L137.56 363.15L137.71 363.13L137.86 363.12L138.01 363.10L138.16 363.09L138.32 363.07L138.47 363.05L138.62 363.03L138.77 363.01L138.92 362.99L139.07 362.96L139.23 362.94L139.38 362.91L139.53 362.88L139.68 362.84L139.83 362.81L139.98 362.77L140.14 362.73L140.29 362.69L140.44 362.65L140.59 362.60L140.74 362.55L140.89 362.50L141.05 362.45L141.20 362.40L141.35 362.34L141.50 362.29L141.65 362.23L141.80 362.17L141.96 362.11L142.11 362.05L142.26 361.99L142.41 361.93L142.56 361.87L142.71 361.81L142.86 361.75L143.02 361.69L143.17 361.64L143.32 361.58L143.47 361.53L143.62 361.48L143.77 361.43L143.93 361.38L144.08 361.34L144.23 361.30L144.38 361.27L144.53 361.23L144.68 361.21L144.84 361.18L144.99 361.16L145.14 361.15L145.29 361.14L145.44 361.13L145.59 361.13L145.75 361.14L145.90 361.15L146.05 361.16L146.20 361.18L146.35 361.21L146.50 361.24L146.66 361.27L146.81 361.31L146.96 361.35L147.11 361.40L147.26 361.45L147.41 361.51L147.57 361.57L147.72 361.63L147.87 361.70L148.02 361.77L148.17 361.84L148.32 361.91L148.48 361.99L148.63 362.06L148.78 362.14L148.93 362.22L149.08 362.31L149.23 362.39L149.38 362.47L149.54 362.55L149.69 362.64L149.84 362.72L149.99 362.80L150.14 362.88L150.29 362.96L150.45 363.04L150.60 363.12L150.75 363.19L150.90 363.27L151.05 363.34L151.20 363.41L151.36 363.48L151.51 363.54L151.66 363.61L151.81 363.67L151.96 363.73L152.11 363.78L152.27 363.84L152.42 363.89L152.57 363.94L152.72 363.98L152.87 364.03L153.02 364.07L153.18 364.11L153.33 364.15L153.48 364.18L153.63 364.21L153.78 364.25L153.93 364.27L154.09 364.30L154.24 364.33L154.39 364.35L154.54 364.37L154.69 364.39L154.84 364.41L155.00 364.43L155.15 364.45L155.30 364.46L155.45 364.47L155.60 364.49L155.75 364.50L155.91 364.51L156.06 364.52L156.21 364.53L156.36 364.53L156.51 364.54L156.66 364.55L156.66 364.60z" fill="#8c8c8c"/>
<path d="M118.60 364.60L118.60 364.54L118.76 364.52L118.91 364.49L119.06 364.46L119.21 364.43L119.36 364.38L119.51 364.32L119.67 364.25L119.82 364.16L119.97 364.05L120.12 363.92L120.27 363.76L120.42 363.57L120.58 363.35L120.73 363.08L120.88 362.76L121.03 362.39L121.18 361.96L121.33 361.46L121.49 360.88L121.64 360.22L121.79 359.47L121.94 358.63L122.09 357.68L122.24 356.63L122.39 355.46L122.55 354.17L122.70 352.76L122.85 351.24L123.00 349.59L123.15 347.84L123.30 345.97L123.46 344.00L123.61 341.94L123.76 339.81L123.91 337.62L124.06 335.38L124.21 333.13L124.37 330.88L124.52 328.65L124.67 326.48L124.82 324.38L124.97 322.39L125.12 320.53L125.28 318.82L125.43 317.30L125.58 315.97L125.73 314.87L125.88 314.00L126.03 313.39L126.19 313.03L126.34 312.93L126.49 313.10L126.64 313.53L126.79 314.21L126.94 315.13L127.10 316.28L127.25 317.63L127.40 319.17L127.55 320.87L127.70 322.71L127.85 324.67L128.01 326.71L128.16 328.82L128.31 330.96L128.46 333.11L128.61 335.26L128.76 337.37L128.92 339.44L129.07 341.44L129.22 343.37L129.37 345.22L129.52 346.96L129.67 348.61L129.82 350.15L129.98 351.59L130.13 352.92L130.28 354.14L130.43 355.26L130.58 356.28L130.73 357.20L130.89 358.04L131.04 358.79L131.19 359.45L131.34 360.05L131.49 360.57L131.64 361.03L131.80 361.43L131.95 361.78L132.10 362.08L132.25 362.33L132.40 362.55L132.55 362.73L132.71 362.89L132.86 363.01L133.01 363.11L133.16 363.19L133.31 363.25L133.46 363.30L133.62 363.34L133.77 363.36L133.92 363.38L134.07 363.39L134.22 363.39L134.37 363.39L134.53 363.38L134.68 363.37L134.83 363.36L134.98 363.35L135.13 363.34L135.28 363.33L135.44 363.31L135.59 363.30L135.74 363.29L135.89 363.28L136.04 363.26L136.19 363.25L136.34 363.24L136.50 363.23L136.65 363.22L136.80 363.20L136.95 363.19L137.10 363.18L137.25 363.17L137.41 363.16L137.56 363.15L137.71 363.13L137.86 363.12L138.01 363.10L138.16 363.09L138.32 363.07L138.47 363.05L138.62 363.03L138.77 363.01L138.92 362.99L139.07 362.96L139.23 362.94L139.38 362.91L139.53 362.88L139.68 362.84L139.83 362.81L139.98 362.77L140.14 362.73L140.29 362.69L140.44 362.65L140.59 362.60L140.74 362.55L140.89 362.50L141.05 362.45L141.20 362.40L141.35 362.34L141.50 362.29L141.65 362.23L141.80 362.17L141.96 362.11L142.11 362.05L142.26 361.99L142.41 361.93L142.56 361.87L142.71 361.81L142.86 361.75L143.02 361.69L143.17 361.64L143.32 361.58L143.47 361.53L143.62 361.48L143.77 361.43L143.93 361.38L144.08 361.34L144.23 361.30L144.38 361.27L144.53 361.23L144.68 361.21L144.84 361.18L144.99 361.16L145.14 361.15L145.29 361.14L145.44 361.13L145.59 361.13L145.75 361.14L145.90 361.15L146.05 361.16L146.20 361.18L146.35 361.21L146.50 361.24L146.66 361.27L146.81 361.31L146.96 361.35L147.11 361.40L147.26 361.45L147.41 361.51L147.57 361.57L147.72 361.63L147.87 361.70L148.02 361.77L148.17 361.84L148.32 361.91L148.48 361.99L148.63 362.06L148.78 362.14L148.93 362.22L149.08 362.31L149.23 362.39L149.38 362.47L149.54 362.55L149.69 362.64L149.84 362.72L149.99 362.80L150.14 362.88L150.29 362.96L150.45 363.04L150.60 363.12L150.75 363.19L150.90 363.27L151.05 363.34L151.20 363.41L151.36 363.48L151.51 363.54L151.66 363.61L151.81 363.67L151.96 363.73L152.11 363.78L152.27 363.84L152.42 363.89L152.57 363.94L152.72 363.98L152.87 364.03L153.02 364.07L153.18 364.11L153.33 364.15L153.48 364.18L153.63 364.21L153.78 364.25L153.93 364.27L154.09 364.30L154.24 364.33L154.39 364.35L154.54 364.37L154.69 364.39L154.84 364.41L155.00 364.43L155.15 364.45L155.30 364.46L155.45 364.47L155.60 364.49L155.75 364.50L155.91 364.51L156.06 364.52L156.21 364.53L156.36 364.53L156.51 364.54L156.66 364.55L156.66 364.60z" fill="#ece49a"/>
<path d="M134.68 364.60L134.68 364.55L134.83 364.54L134.98 364.54L135.13 364.53L135.28 364.52L135.44 364.51L135.59 364.50L135.74 364.49L135.89 364.48L136.04 364.47L136.19 364.45L136.34 364.44L136.50 364.42L136.65 364.40L136.80 364.38L136.95 364.36L137.10 364.34L137.25 364.31L137.41 364.29L137.56 364.26L137.71 364.23L137.86 364.20L138.01 364.16L138.16 364.12L138.32 364.09L138.47 364.04L138.62 364.00L138.77 363.96L138.92 363.91L139.07 363.86L139.23 363.80L139.38 363.75L139.53 363.69L139.68 363.63L139.83 363.57L139.98 363.50L140.14 363.44L140.29 363.37L140.44 363.30L140.59 363.22L140.74 363.15L140.89 363.07L141.05 362.99L141.20 362.92L141.35 362.84L141.50 362.75L141.65 362.67L141.80 362.59L141.96 362.51L142.11 362.43L142.26 362.34L142.41 362.26L142.56 362.18L142.71 362.10L142.86 362.03L143.02 361.95L143.17 361.88L143.32 361.81L143.47 361.74L143.62 361.67L143.77 361.61L143.93 361.55L144.08 361.50L144.23 361.45L144.38 361.40L144.53 361.36L144.68 361.32L144.84 361.29L144.99 361.26L145.14 361.24L145.29 361.22L145.44 361.21L145.59 361.20L145.75 361.20L145.90 361.20L146.05 361.21L146.20 361.23L146.35 361.25L146.50 361.28L146.66 361.31L146.81 361.34L146.96 361.38L147.11 361.43L147.26 361.48L147.41 361.53L147.57 361.59L147.72 361.65L147.87 361.71L148.02 361.78L148.17 361.85L148.32 361.92L148.48 362.00L148.63 362.07L148.78 362.15L148.93 362.23L149.08 362.31L149.23 362.39L149.38 362.48L149.54 362.56L149.69 362.64L149.84 362.72L149.99 362.80L150.14 362.88L150.29 362.96L150.45 363.04L150.60 363.12L150.75 363.19L150.90 363.27L151.05 363.34L151.20 363.41L151.36 363.48L151.51 363.54L151.66 363.61L151.81 363.67L151.96 363.73L152.11 363.78L152.27 363.84L152.42 363.89L152.57 363.94L152.72 363.98L152.87 364.03L153.02 364.07L153.18 364.11L153.33 364.15L153.48 364.18L153.63 364.21L153.78 364.25L153.93 364.27L154.09 364.30L154.24 364.33L154.39 364.35L154.54 364.37L154.69 364.39L154.84 364.41L155.00 364.43L155.15 364.45L155.30 364.46L155.45 364.47L155.60 364.49L155.75 364.50L155.91 364.51L156.06 364.52L156.21 364.53L156.36 364.53L156.51 364.54L156.66 364.55L156.66 364.60z" fill="#44dd44"/>
<path d="M118.60 364.60L118.60 364.54L118.76 364.52L118.91 364.50L119.06 364.47L119.21 364.43L119.36 364.38L119.51 364.32L119.67 364.25L119.82 364.16L119.97 364.05L120.12 363.92L120.27 363.76L120.42 363.57L120.58 363.35L120.73 363.08L120.88 362.76L121.03 362.39L121.18 361.96L121.33 361.46L121.49 360.88L121.64 360.22L121.79 359.48L121.94 358.63L122.09 357.68L122.24 356.63L122.39 355.46L122.55 354.17L122.70 352.77L122.85 351.24L123.00 349.60L123.15 347.84L123.30 345.98L123.46 344.01L123.61 341.95L123.76 339.82L123.91 337.63L124.06 335.40L124.21 333.15L124.37 330.90L124.52 328.67L124.67 326.50L124.82 324.41L124.97 322.42L125.12 320.57L125.28 318.87L125.43 317.36L125.58 316.05L125.73 314.96L125.88 314.11L126.03 313.51L126.19 313.18L126.34 313.11L126.49 313.31L126.64 313.77L126.79 314.50L126.94 315.46L127.10 316.67L127.25 318.08L127.40 319.69L127.55 321.47L127.70 323.39L127.85 325.43L128.01 327.56L128.16 329.76L128.31 332.00L128.46 334.26L128.61 336.50L128.76 338.72L128.92 340.88L129.07 342.98L129.22 344.99L129.37 346.91L129.52 348.72L129.67 350.42L129.82 352.01L129.98 353.48L130.13 354.82L130.28 356.05L130.43 357.16L130.58 358.16L130.73 359.06L130.89 359.86L131.04 360.56L131.19 361.18L131.34 361.71L131.49 362.18L131.64 362.58L131.80 362.92L131.95 363.22L132.10 363.46L132.25 363.67L132.40 363.84L132.55 363.99L132.71 364.11L132.86 364.21L133.01 364.29L133.16 364.35L133.31 364.40L133.46 364.45L133.62 364.48L133.77 364.51L133.92 364.53L134.07 364.55L134.07 364.60z" fill="#a4a4f4"/>
<path d="M125.88 364.60L125.88 364.55L126.03 364.53L126.19 364.51L126.34 364.49L126.49 364.46L126.64 364.43L126.79 364.40L126.94 364.36L127.10 364.31L127.25 364.26L127.40 364.20L127.55 364.14L127.70 364.07L127.85 363.99L128.01 363.91L128.16 363.83L128.31 363.74L128.46 363.66L128.61 363.57L128.76 363.49L128.92 363.41L129.07 363.33L129.22 363.27L129.37 363.21L129.52 363.17L129.67 363.13L129.82 363.11L129.98 363.10L130.13 363.10L130.28 363.12L130.43 363.15L130.58 363.20L130.73 363.25L130.89 363.31L131.04 363.38L131.19 363.46L131.34 363.54L131.49 363.63L131.64 363.72L131.80 363.80L131.95 363.88L132.10 363.97L132.25 364.04L132.40 364.11L132.55 364.18L132.71 364.24L132.86 364.30L133.01 364.34L133.16 364.39L133.31 364.42L133.46 364.46L133.62 364.48L133.77 364.51L133.92 364.53L134.07 364.54L134.07 364.60z" fill="#9a9a9a" fill-opacity=".85"/>
<path d="M124.52 328.25L124.67 325.87L124.82 323.51L124.97 321.18L125.12 318.90L125.28 316.71L125.43 314.65L125.58 312.77L125.73 311.14L125.88 309.82L126.03 308.85L126.19 308.28L126.34 308.14L126.49 308.43L126.64 309.15L126.79 310.24L126.94 311.66L127.10 313.35L127.25 315.25L127.40 317.30L127.55 319.46L127.70 321.68L127.85 323.94L128.01 326.22L128.16 328.49" fill="none" stroke="#555" stroke-width="0.5" stroke-linejoin="round"/>
<path d="M119.21 364.43L119.36 364.38L119.51 364.32L119.67 364.25L119.82 364.16L119.97 364.05L120.12 363.92L120.27 363.76L120.42 363.57L120.58 363.35L120.73 363.08L120.88 362.76L121.03 362.39L121.18 361.96L121.33 361.46L121.49 360.88L121.64 360.22L121.79 359.47L121.94 358.63L122.09 357.68L122.24 356.63L122.39 355.46L122.55 354.17L122.70 352.76L122.85 351.24L123.00 349.59L123.15 347.84L123.30 345.97L123.46 344.00L123.61 341.94L123.76 339.81L123.91 337.62L124.06 335.38L124.21 333.13L124.37 330.88L124.52 328.65L124.67 326.48L124.82 324.38L124.97 322.39L125.12 320.53L125.28 318.82L125.43 317.30L125.58 315.97L125.73 314.87L125.88 314.00L126.03 313.39L126.19 313.03L126.34 312.93L126.49 313.10L126.64 313.53L126.79 314.21L126.94 315.13L127.10 316.28L127.25 317.63L127.40 319.17L127.55 320.87L127.70 322.71L127.85 324.67L128.01 326.71L128.16 328.82L128.31 330.96L128.46 333.11L128.61 335.26L128.76 337.37L128.92 339.44L129.07 341.44L129.22 343.37L129.37 345.22L129.52 346.96L129.67 348.61L129.82 350.15L129.98 351.59L130.13 352.92L130.28 354.14L130.43 355.26L130.58 356.28L130.73 357.20L130.89 358.04L131.04 358.79L131.19 359.45L131.34 360.05L131.49 360.57L131.64 361.03L131.80 361.43L131.95 361.78L132.10 362.08L132.25 362.33L132.40 362.55L132.55 362.73L132.71 362.89L132.86 363.01L133.01 363.11L133.16 363.19L133.31 363.25L133.46 363.30L133.62 363.34L133.77 363.36L133.92 363.38L134.07 363.39L134.22 363.39L134.37 363.39L134.53 363.38L134.68 363.37L134.83 363.36L134.98 363.35L135.13 363.34L135.28 363.33L135.44 363.31L135.59 363.30L135.74 363.29L135.89 363.28L136.04 363.26L136.19 363.25L136.34 363.24L136.50 363.23L136.65 363.22L136.80 363.20L136.95 363.19L137.10 363.18L137.25 363.17L137.41 363.16L137.56 363.15L137.71 363.13L137.86 363.12L138.01 363.10L138.16 363.09L138.32 363.07L138.47 363.05L138.62 363.03L138.77 363.01L138.92 362.99L139.07 362.96L139.23 362.94L139.38 362.91L139.53 362.88L139.68 362.84L139.83 362.81L139.98 362.77L140.14 362.73L140.29 362.69L140.44 362.65L140.59 362.60L140.74 362.55L140.89 362.50L141.05 362.45L141.20 362.40L141.35 362.34L141.50 362.29L141.65 362.23L141.80 362.17L141.96 362.11L142.11 362.05L142.26 361.99L142.41 361.93L142.56 361.87L142.71 361.81L142.86 361.75L143.02 361.69L143.17 361.64L143.32 361.58L143.47 361.53L143.62 361.48L143.77 361.43L143.93 361.38L144.08 361.34L144.23 361.30L144.38 361.27L144.53 361.23L144.68 361.21L144.84 361.18L144.99 361.16L145.14 361.15L145.29 361.14L145.44 361.13L145.59 361.13L145.75 361.14L145.90 361.15L146.05 361.16L146.20 361.18L146.35 361.21L146.50 361.24L146.66 361.27L146.81 361.31L146.96 361.35L147.11 361.40L147.26 361.45L147.41 361.51L147.57 361.57L147.72 361.63L147.87 361.70L148.02 361.77L148.17 361.84L148.32 361.91L148.48 361.99L148.63 362.06L148.78 362.14L148.93 362.22L149.08 362.31L149.23 362.39L149.38 362.47L149.54 362.55L149.69 362.64L149.84 362.72L149.99 362.80L150.14 362.88L150.29 362.96L150.45 363.04L150.60 363.12L150.75 363.19L150.90 363.27L151.05 363.34L151.20 363.41L151.36 363.48L151.51 363.54L151.66 363.61L151.81 363.67L151.96 363.73L152.11 363.78L152.27 363.84L152.42 363.89L152.57 363.94L152.72 363.98L152.87 364.03L153.02 364.07L153.18 364.11L153.33 364.15L153.48 364.18L153.63 364.21L153.78 364.25L153.93 364.27L154.09 364.30L154.24 364.33L154.39 364.35L154.54 364.37L154.69 364.39L154.84 364.41L155.00 364.43L155.15 364.45" fill="none" stroke="#e020e0" stroke-width="0.95" stroke-linejoin="round"/>
<line x1="108.6" y1="304.4" x2="108.6" y2="364.6" stroke="#555" stroke-width="0.6"/>
<line x1="108.6" y1="364.6" x2="169.7" y2="364.6" stroke="#555" stroke-width="0.6"/>
<text x="106.1" y="313.9" font-size="3.8" text-anchor="end" fill="#222" stroke="#222" stroke-width="0.18">500</text>
<text x="106.1" y="324.5" font-size="3.8" text-anchor="end" fill="#222" stroke="#222" stroke-width="0.18">400</text>
<text x="106.1" y="334.8" font-size="3.8" text-anchor="end" fill="#222" stroke="#222" stroke-width="0.18">300</text>
<text x="106.1" y="345.2" font-size="3.8" text-anchor="end" fill="#222" stroke="#222" stroke-width="0.18">200</text>
<text x="106.1" y="355.8" font-size="3.8" text-anchor="end" fill="#222" stroke="#222" stroke-width="0.18">100</text>
<text x="106.1" y="366.3" font-size="3.8" text-anchor="end" fill="#222" stroke="#222" stroke-width="0.18">0</text>
<path d="M108.6 312.6h-2M108.6 323.2h-2M108.6 333.5h-2M108.6 343.9h-2M108.6 354.5h-2M108.6 365.0h-2M108.6 365.0h-.9M108.6 362.9h-.9M108.6 360.8h-.9M108.6 358.7h-.9M108.6 356.6h-.9M108.6 354.5h-.9M108.6 352.4h-.9M108.6 350.3h-.9M108.6 348.2h-.9M108.6 346.1h-.9M108.6 344.0h-.9M108.6 341.9h-.9M108.6 339.8h-.9M108.6 337.8h-.9M108.6 335.7h-.9M108.6 333.6h-.9M108.6 331.5h-.9M108.6 329.4h-.9M108.6 327.3h-.9M108.6 325.2h-.9M108.6 323.1h-.9M108.6 321.0h-.9M108.6 318.9h-.9M108.6 316.8h-.9M108.6 314.7h-.9M108.6 312.6h-.9M108.6 310.5h-.9M108.6 308.4h-.9M108.6 306.3h-.9" stroke="#444" stroke-width=".5" fill="none"/>
<text x="119.2" y="370.9" font-size="3.5" text-anchor="middle" fill="#222" stroke="#222" stroke-width="0.18">400K</text>
<text x="132.6" y="370.9" font-size="3.5" text-anchor="middle" fill="#222" stroke="#222" stroke-width="0.18">700K</text>
<text x="146.5" y="370.9" font-size="3.5" text-anchor="middle" fill="#222" stroke="#222" stroke-width="0.18">1.0M</text>
<text x="159.4" y="370.9" font-size="3.5" text-anchor="middle" fill="#222" stroke="#222" stroke-width="0.18">1.3M</text>
<path d="M119.2 364.6v1.5M132.6 364.6v1.5M146.5 364.6v1.5M159.4 364.6v1.5M109.6 364.6v.8M112.2 364.6v.8M114.8 364.6v.8M117.4 364.6v.8M120.0 364.6v.8M122.6 364.6v.8M125.2 364.6v.8M127.8 364.6v.8M130.4 364.6v.8M133.0 364.6v.8M135.6 364.6v.8M138.2 364.6v.8M140.8 364.6v.8M143.4 364.6v.8M146.0 364.6v.8M148.6 364.6v.8M151.2 364.6v.8M153.8 364.6v.8M156.4 364.6v.8M159.0 364.6v.8M161.6 364.6v.8M164.2 364.6v.8M166.8 364.6v.8M169.4 364.6v.8" stroke="#444" stroke-width=".5" fill="none"/>
<text x="98.1" y="335" font-size="3.6" text-anchor="middle" fill="#222" stroke="#222" stroke-width="0.18" transform="rotate(-90 98.1 335)">Count</text>
<text x="139.15" y="301.3" font-size="7.5" text-anchor="middle" fill="#111" stroke="#111" stroke-width="0.18">TMZ (10.0 μM)</text>
<rect x="189.6" y="304.4" width="61.9" height="60.2" fill="#fff" stroke="#c8c8c8" stroke-width=".7"/>
<path d="M198.50 364.60L198.50 364.55L198.66 364.53L198.81 364.50L198.96 364.47L199.12 364.43L199.27 364.37L199.43 364.30L199.58 364.21L199.73 364.09L199.89 363.95L200.04 363.77L200.19 363.55L200.35 363.27L200.50 362.94L200.65 362.54L200.81 362.06L200.96 361.50L201.12 360.83L201.27 360.04L201.42 359.13L201.58 358.09L201.73 356.89L201.88 355.54L202.04 354.03L202.19 352.35L202.34 350.50L202.50 348.49L202.65 346.31L202.81 343.98L202.96 341.51L203.11 338.92L203.27 336.23L203.42 333.48L203.57 330.70L203.73 327.91L203.88 325.15L204.03 322.47L204.19 319.89L204.34 317.46L204.50 315.21L204.65 313.18L204.80 311.41L204.96 309.97L205.11 308.88L205.26 308.19L205.42 307.92L205.57 308.08L205.72 308.65L205.88 309.61L206.03 310.91L206.19 312.51L206.34 314.35L206.49 316.39L206.65 318.58L206.80 320.90L206.95 323.31L207.11 325.76L207.26 328.23L207.41 330.67L207.57 333.07L207.72 335.40L207.88 337.62L208.03 339.72L208.18 341.70L208.34 343.53L208.49 345.22L208.64 346.76L208.80 348.17L208.95 349.43L209.10 350.57L209.26 351.59L209.41 352.50L209.57 353.31L209.72 354.04L209.87 354.68L210.03 355.26L210.18 355.78L210.33 356.25L210.49 356.67L210.64 357.05L210.79 357.40L210.95 357.71L211.10 357.99L211.26 358.24L211.41 358.47L211.56 358.67L211.72 358.85L211.87 359.01L212.02 359.14L212.18 359.26L212.33 359.36L212.48 359.44L212.64 359.50L212.79 359.56L212.95 359.59L213.10 359.62L213.25 359.64L213.41 359.66L213.56 359.66L213.71 359.66L213.87 359.66L214.02 359.65L214.17 359.64L214.33 359.63L214.48 359.61L214.64 359.59L214.79 359.57L214.94 359.55L215.10 359.52L215.25 359.49L215.40 359.46L215.56 359.42L215.71 359.38L215.86 359.33L216.02 359.28L216.17 359.22L216.33 359.15L216.48 359.08L216.63 358.99L216.79 358.90L216.94 358.80L217.09 358.69L217.25 358.56L217.40 358.43L217.55 358.29L217.71 358.13L217.86 357.96L218.02 357.79L218.17 357.60L218.32 357.40L218.48 357.18L218.63 356.96L218.78 356.73L218.94 356.49L219.09 356.24L219.24 355.98L219.40 355.72L219.55 355.45L219.71 355.17L219.86 354.89L220.01 354.61L220.17 354.32L220.32 354.03L220.47 353.75L220.63 353.46L220.78 353.18L220.93 352.91L221.09 352.64L221.24 352.38L221.39 352.13L221.55 351.89L221.70 351.66L221.86 351.44L222.01 351.24L222.16 351.05L222.32 350.88L222.47 350.73L222.62 350.59L222.78 350.48L222.93 350.38L223.08 350.31L223.24 350.25L223.39 350.22L223.55 350.21L223.70 350.23L223.85 350.26L224.01 350.32L224.16 350.40L224.31 350.50L224.47 350.63L224.62 350.77L224.77 350.94L224.93 351.12L225.08 351.32L225.24 351.54L225.39 351.78L225.54 352.04L225.70 352.31L225.85 352.59L226.00 352.88L226.16 353.19L226.31 353.51L226.46 353.83L226.62 354.16L226.77 354.50L226.93 354.85L227.08 355.19L227.23 355.54L227.39 355.89L227.54 356.24L227.69 356.59L227.85 356.94L228.00 357.29L228.15 357.63L228.31 357.96L228.46 358.29L228.62 358.62L228.77 358.93L228.92 359.24L229.08 359.54L229.23 359.83L229.38 360.11L229.54 360.38L229.69 360.64L229.84 360.89L230.00 361.14L230.15 361.37L230.31 361.59L230.46 361.80L230.61 362.00L230.77 362.18L230.92 362.36L231.07 362.53L231.23 362.69L231.38 362.84L231.53 362.98L231.69 363.12L231.84 363.24L232.00 363.35L232.15 363.46L232.30 363.56L232.46 363.65L232.61 363.74L232.76 363.82L232.92 363.89L233.07 363.96L233.22 364.02L233.38 364.08L233.53 364.13L233.69 364.18L233.84 364.22L233.99 364.26L234.15 364.30L234.30 364.33L234.45 364.36L234.61 364.38L234.76 364.41L234.91 364.43L235.07 364.45L235.22 364.47L235.38 364.48L235.53 364.50L235.68 364.51L235.84 364.52L235.99 364.53L236.14 364.54L236.30 364.55L236.30 364.60z" fill="#8c8c8c"/>
<path d="M198.50 364.60L198.50 364.55L198.66 364.53L198.81 364.50L198.96 364.47L199.12 364.43L199.27 364.37L199.43 364.30L199.58 364.21L199.73 364.09L199.89 363.95L200.04 363.77L200.19 363.55L200.35 363.27L200.50 362.94L200.65 362.54L200.81 362.06L200.96 361.50L201.12 360.83L201.27 360.04L201.42 359.13L201.58 358.09L201.73 356.89L201.88 355.54L202.04 354.03L202.19 352.35L202.34 350.50L202.50 348.49L202.65 346.31L202.81 343.98L202.96 341.51L203.11 338.92L203.27 336.24L203.42 333.49L203.57 330.71L203.73 327.93L203.88 325.19L204.03 322.54L204.19 320.02L204.34 317.67L204.50 315.53L204.65 313.63L204.80 312.02L204.96 310.73L205.11 309.77L205.26 309.16L205.42 308.92L205.57 309.04L205.72 309.52L205.88 310.34L206.03 311.49L206.19 312.93L206.34 314.64L206.49 316.58L206.65 318.70L206.80 320.97L206.95 323.34L207.11 325.78L207.26 328.23L207.41 330.68L207.57 333.07L207.72 335.40L207.88 337.62L208.03 339.72L208.18 341.70L208.34 343.53L208.49 345.22L208.64 346.76L208.80 348.17L208.95 349.43L209.10 350.57L209.26 351.59L209.41 352.50L209.57 353.31L209.72 354.04L209.87 354.68L210.03 355.26L210.18 355.78L210.33 356.25L210.49 356.67L210.64 357.05L210.79 357.40L210.95 357.71L211.10 357.99L211.26 358.24L211.41 358.47L211.56 358.67L211.72 358.85L211.87 359.01L212.02 359.14L212.18 359.26L212.33 359.36L212.48 359.44L212.64 359.50L212.79 359.56L212.95 359.59L213.10 359.62L213.25 359.64L213.41 359.66L213.56 359.66L213.71 359.66L213.87 359.66L214.02 359.65L214.17 359.64L214.33 359.63L214.48 359.61L214.64 359.59L214.79 359.57L214.94 359.55L215.10 359.52L215.25 359.49L215.40 359.46L215.56 359.42L215.71 359.38L215.86 359.33L216.02 359.28L216.17 359.22L216.33 359.15L216.48 359.08L216.63 358.99L216.79 358.90L216.94 358.80L217.09 358.69L217.25 358.56L217.40 358.43L217.55 358.29L217.71 358.13L217.86 357.96L218.02 357.79L218.17 357.60L218.32 357.40L218.48 357.18L218.63 356.96L218.78 356.73L218.94 356.49L219.09 356.24L219.24 355.98L219.40 355.72L219.55 355.45L219.71 355.17L219.86 354.89L220.01 354.61L220.17 354.32L220.32 354.03L220.47 353.75L220.63 353.46L220.78 353.18L220.93 352.91L221.09 352.64L221.24 352.38L221.39 352.13L221.55 351.89L221.70 351.66L221.86 351.44L222.01 351.24L222.16 351.05L222.32 350.88L222.47 350.73L222.62 350.59L222.78 350.48L222.93 350.38L223.08 350.31L223.24 350.25L223.39 350.22L223.55 350.21L223.70 350.23L223.85 350.26L224.01 350.32L224.16 350.40L224.31 350.50L224.47 350.63L224.62 350.77L224.77 350.94L224.93 351.12L225.08 351.32L225.24 351.54L225.39 351.78L225.54 352.04L225.70 352.31L225.85 352.59L226.00 352.88L226.16 353.19L226.31 353.51L226.46 353.83L226.62 354.16L226.77 354.50L226.93 354.85L227.08 355.19L227.23 355.54L227.39 355.89L227.54 356.24L227.69 356.59L227.85 356.94L228.00 357.29L228.15 357.63L228.31 357.96L228.46 358.29L228.62 358.62L228.77 358.93L228.92 359.24L229.08 359.54L229.23 359.83L229.38 360.11L229.54 360.38L229.69 360.64L229.84 360.89L230.00 361.14L230.15 361.37L230.31 361.59L230.46 361.80L230.61 362.00L230.77 362.18L230.92 362.36L231.07 362.53L231.23 362.69L231.38 362.84L231.53 362.98L231.69 363.12L231.84 363.24L232.00 363.35L232.15 363.46L232.30 363.56L232.46 363.65L232.61 363.74L232.76 363.82L232.92 363.89L233.07 363.96L233.22 364.02L233.38 364.08L233.53 364.13L233.69 364.18L233.84 364.22L233.99 364.26L234.15 364.30L234.30 364.33L234.45 364.36L234.61 364.38L234.76 364.41L234.91 364.43L235.07 364.45L235.22 364.47L235.38 364.48L235.53 364.50L235.68 364.51L235.84 364.52L235.99 364.53L236.14 364.54L236.30 364.55L236.30 364.60z" fill="#ece49a"/>
<path d="M210.95 364.60L210.95 364.54L211.10 364.54L211.26 364.53L211.41 364.52L211.56 364.51L211.72 364.49L211.87 364.48L212.02 364.46L212.18 364.44L212.33 364.42L212.48 364.40L212.64 364.38L212.79 364.35L212.95 364.32L213.10 364.29L213.25 364.25L213.41 364.21L213.56 364.16L213.71 364.12L213.87 364.06L214.02 364.00L214.17 363.94L214.33 363.87L214.48 363.80L214.64 363.72L214.79 363.63L214.94 363.53L215.10 363.43L215.25 363.32L215.40 363.20L215.56 363.08L215.71 362.94L215.86 362.80L216.02 362.65L216.17 362.48L216.33 362.31L216.48 362.13L216.63 361.94L216.79 361.74L216.94 361.52L217.09 361.30L217.25 361.07L217.40 360.82L217.55 360.57L217.71 360.30L217.86 360.03L218.02 359.74L218.17 359.45L218.32 359.15L218.48 358.84L218.63 358.52L218.78 358.20L218.94 357.87L219.09 357.53L219.24 357.19L219.40 356.84L219.55 356.49L219.71 356.14L219.86 355.79L220.01 355.44L220.17 355.09L220.32 354.75L220.47 354.41L220.63 354.07L220.78 353.74L220.93 353.42L221.09 353.11L221.24 352.81L221.39 352.52L221.55 352.24L221.70 351.98L221.86 351.73L222.01 351.50L222.16 351.29L222.32 351.09L222.47 350.92L222.62 350.76L222.78 350.63L222.93 350.52L223.08 350.43L223.24 350.36L223.39 350.32L223.55 350.30L223.70 350.30L223.85 350.33L224.01 350.38L224.16 350.45L224.31 350.55L224.47 350.67L224.62 350.81L224.77 350.97L224.93 351.15L225.08 351.35L225.24 351.57L225.39 351.80L225.54 352.05L225.70 352.32L225.85 352.60L226.00 352.89L226.16 353.20L226.31 353.51L226.46 353.84L226.62 354.17L226.77 354.51L226.93 354.85L227.08 355.20L227.23 355.55L227.39 355.90L227.54 356.25L227.69 356.60L227.85 356.94L228.00 357.29L228.15 357.63L228.31 357.96L228.46 358.29L228.62 358.62L228.77 358.93L228.92 359.24L229.08 359.54L229.23 359.83L229.38 360.11L229.54 360.38L229.69 360.64L229.84 360.89L230.00 361.14L230.15 361.37L230.31 361.59L230.46 361.80L230.61 362.00L230.77 362.18L230.92 362.36L231.07 362.53L231.23 362.69L231.38 362.84L231.53 362.98L231.69 363.12L231.84 363.24L232.00 363.35L232.15 363.46L232.30 363.56L232.46 363.65L232.61 363.74L232.76 363.82L232.92 363.89L233.07 363.96L233.22 364.02L233.38 364.08L233.53 364.13L233.69 364.18L233.84 364.22L233.99 364.26L234.15 364.30L234.30 364.33L234.45 364.36L234.61 364.38L234.76 364.41L234.91 364.43L235.07 364.45L235.22 364.47L235.38 364.48L235.53 364.50L235.68 364.51L235.84 364.52L235.99 364.53L236.14 364.54L236.30 364.55L236.30 364.60z" fill="#44dd44"/>
<path d="M198.50 364.60L198.50 364.55L198.66 364.53L198.81 364.50L198.96 364.47L199.12 364.43L199.27 364.37L199.43 364.30L199.58 364.21L199.73 364.10L199.89 363.95L200.04 363.77L200.19 363.55L200.35 363.28L200.50 362.95L200.65 362.55L200.81 362.07L200.96 361.51L201.12 360.84L201.27 360.05L201.42 359.15L201.58 358.10L201.73 356.91L201.88 355.57L202.04 354.06L202.19 352.38L202.34 350.54L202.50 348.53L202.65 346.36L202.81 344.03L202.96 341.57L203.11 338.99L203.27 336.32L203.42 333.58L203.57 330.82L203.73 328.06L203.88 325.34L204.03 322.72L204.19 320.22L204.34 317.90L204.50 315.80L204.65 313.95L204.80 312.39L204.96 311.16L205.11 310.27L205.26 309.75L205.42 309.60L205.57 309.83L205.72 310.44L205.88 311.41L206.03 312.71L206.19 314.34L206.34 316.25L206.49 318.40L206.65 320.76L206.80 323.29L206.95 325.94L207.11 328.67L207.26 331.43L207.41 334.20L207.57 336.92L207.72 339.57L207.88 342.13L208.03 344.56L208.18 346.85L208.34 348.99L208.49 350.96L208.64 352.77L208.80 354.41L208.95 355.88L209.10 357.19L209.26 358.35L209.41 359.36L209.57 360.24L209.72 360.99L209.87 361.64L210.03 362.19L210.18 362.65L210.33 363.03L210.49 363.35L210.64 363.60L210.79 363.82L210.95 363.99L211.10 364.12L211.26 364.23L211.41 364.32L211.56 364.39L211.72 364.44L211.87 364.48L212.02 364.51L212.18 364.53L212.18 364.60z" fill="#a4a4f4"/>
<path d="M204.19 364.60L204.19 364.55L204.34 364.53L204.50 364.52L204.65 364.49L204.80 364.46L204.96 364.42L205.11 364.38L205.26 364.33L205.42 364.26L205.57 364.19L205.72 364.10L205.88 363.99L206.03 363.88L206.19 363.74L206.34 363.59L206.49 363.42L206.65 363.24L206.80 363.04L206.95 362.83L207.11 362.60L207.26 362.36L207.41 362.11L207.57 361.86L207.72 361.61L207.88 361.36L208.03 361.12L208.18 360.89L208.34 360.68L208.49 360.49L208.64 360.33L208.80 360.20L208.95 360.10L209.10 360.03L209.26 360.00L209.41 360.01L209.57 360.06L209.72 360.14L209.87 360.25L210.03 360.40L210.18 360.58L210.33 360.78L210.49 361.00L210.64 361.23L210.79 361.47L210.95 361.72L211.10 361.98L211.26 362.23L211.41 362.47L211.56 362.70L211.72 362.92L211.87 363.13L212.02 363.33L212.18 363.50L212.33 363.66L212.48 363.80L212.64 363.93L212.79 364.04L212.95 364.14L213.10 364.22L213.25 364.29L213.41 364.35L213.56 364.40L213.71 364.44L213.87 364.48L214.02 364.50L214.17 364.52L214.33 364.54L214.33 364.60z" fill="#9a9a9a" fill-opacity=".85"/>
<path d="M204.50 315.21L204.65 313.18L204.80 311.41L204.96 309.97L205.11 308.88L205.26 308.19L205.42 307.92L205.57 308.08L205.72 308.65L205.88 309.61L206.03 310.91L206.19 312.51" fill="none" stroke="#555" stroke-width="0.5" stroke-linejoin="round"/>
<path d="M199.12 364.43L199.27 364.37L199.43 364.30L199.58 364.21L199.73 364.09L199.89 363.95L200.04 363.77L200.19 363.55L200.35 363.27L200.50 362.94L200.65 362.54L200.81 362.06L200.96 361.50L201.12 360.83L201.27 360.04L201.42 359.13L201.58 358.09L201.73 356.89L201.88 355.54L202.04 354.03L202.19 352.35L202.34 350.50L202.50 348.49L202.65 346.31L202.81 343.98L202.96 341.51L203.11 338.92L203.27 336.24L203.42 333.49L203.57 330.71L203.73 327.93L203.88 325.19L204.03 322.54L204.19 320.02L204.34 317.67L204.50 315.53L204.65 313.63L204.80 312.02L204.96 310.73L205.11 309.77L205.26 309.16L205.42 308.92L205.57 309.04L205.72 309.52L205.88 310.34L206.03 311.49L206.19 312.93L206.34 314.64L206.49 316.58L206.65 318.70L206.80 320.97L206.95 323.34L207.11 325.78L207.26 328.23L207.41 330.68L207.57 333.07L207.72 335.40L207.88 337.62L208.03 339.72L208.18 341.70L208.34 343.53L208.49 345.22L208.64 346.76L208.80 348.17L208.95 349.43L209.10 350.57L209.26 351.59L209.41 352.50L209.57 353.31L209.72 354.04L209.87 354.68L210.03 355.26L210.18 355.78L210.33 356.25L210.49 356.67L210.64 357.05L210.79 357.40L210.95 357.71L211.10 357.99L211.26 358.24L211.41 358.47L211.56 358.67L211.72 358.85L211.87 359.01L212.02 359.14L212.18 359.26L212.33 359.36L212.48 359.44L212.64 359.50L212.79 359.56L212.95 359.59L213.10 359.62L213.25 359.64L213.41 359.66L213.56 359.66L213.71 359.66L213.87 359.66L214.02 359.65L214.17 359.64L214.33 359.63L214.48 359.61L214.64 359.59L214.79 359.57L214.94 359.55L215.10 359.52L215.25 359.49L215.40 359.46L215.56 359.42L215.71 359.38L215.86 359.33L216.02 359.28L216.17 359.22L216.33 359.15L216.48 359.08L216.63 358.99L216.79 358.90L216.94 358.80L217.09 358.69L217.25 358.56L217.40 358.43L217.55 358.29L217.71 358.13L217.86 357.96L218.02 357.79L218.17 357.60L218.32 357.40L218.48 357.18L218.63 356.96L218.78 356.73L218.94 356.49L219.09 356.24L219.24 355.98L219.40 355.72L219.55 355.45L219.71 355.17L219.86 354.89L220.01 354.61L220.17 354.32L220.32 354.03L220.47 353.75L220.63 353.46L220.78 353.18L220.93 352.91L221.09 352.64L221.24 352.38L221.39 352.13L221.55 351.89L221.70 351.66L221.86 351.44L222.01 351.24L222.16 351.05L222.32 350.88L222.47 350.73L222.62 350.59L222.78 350.48L222.93 350.38L223.08 350.31L223.24 350.25L223.39 350.22L223.55 350.21L223.70 350.23L223.85 350.26L224.01 350.32L224.16 350.40L224.31 350.50L224.47 350.63L224.62 350.77L224.77 350.94L224.93 351.12L225.08 351.32L225.24 351.54L225.39 351.78L225.54 352.04L225.70 352.31L225.85 352.59L226.00 352.88L226.16 353.19L226.31 353.51L226.46 353.83L226.62 354.16L226.77 354.50L226.93 354.85L227.08 355.19L227.23 355.54L227.39 355.89L227.54 356.24L227.69 356.59L227.85 356.94L228.00 357.29L228.15 357.63L228.31 357.96L228.46 358.29L228.62 358.62L228.77 358.93L228.92 359.24L229.08 359.54L229.23 359.83L229.38 360.11L229.54 360.38L229.69 360.64L229.84 360.89L230.00 361.14L230.15 361.37L230.31 361.59L230.46 361.80L230.61 362.00L230.77 362.18L230.92 362.36L231.07 362.53L231.23 362.69L231.38 362.84L231.53 362.98L231.69 363.12L231.84 363.24L232.00 363.35L232.15 363.46L232.30 363.56L232.46 363.65L232.61 363.74L232.76 363.82L232.92 363.89L233.07 363.96L233.22 364.02L233.38 364.08L233.53 364.13L233.69 364.18L233.84 364.22L233.99 364.26L234.15 364.30L234.30 364.33L234.45 364.36L234.61 364.38L234.76 364.41L234.91 364.43L235.07 364.45" fill="none" stroke="#e020e0" stroke-width="0.95" stroke-linejoin="round"/>
<line x1="189.6" y1="304.4" x2="189.6" y2="364.6" stroke="#555" stroke-width="0.6"/>
<line x1="189.6" y1="364.6" x2="251.5" y2="364.6" stroke="#555" stroke-width="0.6"/>
<text x="187.1" y="309.1" font-size="3.8" text-anchor="end" fill="#222" stroke="#222" stroke-width="0.18">500</text>
<text x="187.1" y="320.5" font-size="3.8" text-anchor="end" fill="#222" stroke="#222" stroke-width="0.18">400</text>
<text x="187.1" y="331.5" font-size="3.8" text-anchor="end" fill="#222" stroke="#222" stroke-width="0.18">300</text>
<text x="187.1" y="343" font-size="3.8" text-anchor="end" fill="#222" stroke="#222" stroke-width="0.18">200</text>
<text x="187.1" y="354.7" font-size="3.8" text-anchor="end" fill="#222" stroke="#222" stroke-width="0.18">100</text>
<text x="187.1" y="366.3" font-size="3.8" text-anchor="end" fill="#222" stroke="#222" stroke-width="0.18">0</text>
<path d="M189.6 307.8h-2M189.6 319.2h-2M189.6 330.2h-2M189.6 341.7h-2M189.6 353.4h-2M189.6 365.0h-2M189.6 365.0h-.9M189.6 362.7h-.9M189.6 360.4h-.9M189.6 358.1h-.9M189.6 355.8h-.9M189.6 353.6h-.9M189.6 351.3h-.9M189.6 349.0h-.9M189.6 346.7h-.9M189.6 344.4h-.9M189.6 342.1h-.9M189.6 339.8h-.9M189.6 337.5h-.9M189.6 335.3h-.9M189.6 333.0h-.9M189.6 330.7h-.9M189.6 328.4h-.9M189.6 326.1h-.9M189.6 323.8h-.9M189.6 321.5h-.9M189.6 319.2h-.9M189.6 317.0h-.9M189.6 314.7h-.9M189.6 312.4h-.9M189.6 310.1h-.9M189.6 307.8h-.9M189.6 305.5h-.9" stroke="#444" stroke-width=".5" fill="none"/>
<text x="202.5" y="370.9" font-size="3.5" text-anchor="middle" fill="#222" stroke="#222" stroke-width="0.18">400K</text>
<text x="215.9" y="370.9" font-size="3.5" text-anchor="middle" fill="#222" stroke="#222" stroke-width="0.18">700K</text>
<text x="229.8" y="370.9" font-size="3.5" text-anchor="middle" fill="#222" stroke="#222" stroke-width="0.18">1.0M</text>
<text x="242.7" y="370.9" font-size="3.5" text-anchor="middle" fill="#222" stroke="#222" stroke-width="0.18">1.3M</text>
<path d="M202.5 364.6v1.5M215.9 364.6v1.5M229.8 364.6v1.5M242.7 364.6v1.5M190.6 364.6v.8M193.2 364.6v.8M195.8 364.6v.8M198.4 364.6v.8M201.0 364.6v.8M203.6 364.6v.8M206.2 364.6v.8M208.8 364.6v.8M211.4 364.6v.8M214.0 364.6v.8M216.6 364.6v.8M219.2 364.6v.8M221.8 364.6v.8M224.4 364.6v.8M227.0 364.6v.8M229.6 364.6v.8M232.2 364.6v.8M234.8 364.6v.8M237.4 364.6v.8M240.0 364.6v.8M242.6 364.6v.8M245.2 364.6v.8M247.8 364.6v.8M250.4 364.6v.8" stroke="#444" stroke-width=".5" fill="none"/>
<text x="179.1" y="335" font-size="3.6" text-anchor="middle" fill="#222" stroke="#222" stroke-width="0.18" transform="rotate(-90 179.1 335)">Count</text>
<text x="220.55" y="301.3" font-size="7.5" text-anchor="middle" fill="#111" stroke="#111" stroke-width="0.18">TMZ (50.0 μM)</text>
<rect x="270.8" y="304.4" width="62.8" height="60.2" fill="#fff" stroke="#c8c8c8" stroke-width=".7"/>
<path d="M279.83 364.60L279.83 364.55L279.99 364.53L280.14 364.51L280.30 364.48L280.45 364.44L280.61 364.39L280.77 364.32L280.92 364.24L281.08 364.14L281.23 364.01L281.39 363.85L281.54 363.65L281.70 363.40L281.86 363.11L282.01 362.75L282.17 362.32L282.32 361.81L282.48 361.22L282.64 360.52L282.79 359.71L282.95 358.78L283.10 357.72L283.26 356.53L283.42 355.18L283.57 353.69L283.73 352.05L283.88 350.25L284.04 348.31L284.19 346.22L284.35 344.01L284.51 341.68L284.66 339.25L284.82 336.74L284.97 334.16L285.13 331.53L285.29 328.86L285.44 326.18L285.60 323.49L285.75 320.82L285.91 318.21L286.07 315.70L286.22 313.38L286.38 311.34L286.53 309.68L286.69 308.50L286.84 307.87L287.00 307.83L287.16 308.37L287.31 309.44L287.47 310.96L287.62 312.82L287.78 314.92L287.94 317.17L288.09 319.51L288.25 321.87L288.40 324.23L288.56 326.58L288.72 328.89L288.87 331.17L289.03 333.39L289.18 335.54L289.34 337.62L289.49 339.60L289.65 341.49L289.81 343.26L289.96 344.91L290.12 346.45L290.27 347.86L290.43 349.16L290.59 350.34L290.74 351.42L290.90 352.39L291.05 353.27L291.21 354.07L291.37 354.78L291.52 355.42L291.68 356.00L291.83 356.51L291.99 356.98L292.15 357.39L292.30 357.75L292.46 358.07L292.61 358.36L292.77 358.61L292.92 358.83L293.08 359.02L293.24 359.18L293.39 359.32L293.55 359.44L293.70 359.54L293.86 359.62L294.02 359.68L294.17 359.74L294.33 359.78L294.48 359.82L294.64 359.85L294.80 359.87L294.95 359.89L295.11 359.90L295.26 359.91L295.42 359.92L295.57 359.92L295.73 359.92L295.89 359.93L296.04 359.92L296.20 359.92L296.35 359.91L296.51 359.90L296.67 359.88L296.82 359.85L296.98 359.82L297.13 359.79L297.29 359.74L297.45 359.69L297.60 359.62L297.76 359.55L297.91 359.46L298.07 359.36L298.22 359.25L298.38 359.13L298.54 358.99L298.69 358.84L298.85 358.67L299.00 358.49L299.16 358.30L299.32 358.09L299.47 357.86L299.63 357.63L299.78 357.38L299.94 357.12L300.10 356.84L300.25 356.56L300.41 356.26L300.56 355.96L300.72 355.65L300.87 355.33L301.03 355.00L301.19 354.68L301.34 354.35L301.50 354.02L301.65 353.69L301.81 353.37L301.97 353.05L302.12 352.74L302.28 352.44L302.43 352.14L302.59 351.86L302.75 351.59L302.90 351.34L303.06 351.10L303.21 350.89L303.37 350.69L303.53 350.51L303.68 350.36L303.84 350.23L303.99 350.12L304.15 350.04L304.30 349.98L304.46 349.95L304.62 349.95L304.77 349.97L304.93 350.02L305.08 350.10L305.24 350.20L305.40 350.33L305.55 350.48L305.71 350.66L305.86 350.86L306.02 351.08L306.18 351.32L306.33 351.58L306.49 351.87L306.64 352.16L306.80 352.48L306.95 352.81L307.11 353.15L307.27 353.50L307.42 353.86L307.58 354.23L307.73 354.60L307.89 354.98L308.05 355.36L308.20 355.75L308.36 356.13L308.51 356.51L308.67 356.89L308.83 357.27L308.98 357.64L309.14 358.00L309.29 358.36L309.45 358.71L309.60 359.04L309.76 359.37L309.92 359.69L310.07 360.00L310.23 360.30L310.38 360.58L310.54 360.86L310.70 361.12L310.85 361.37L311.01 361.60L311.16 361.83L311.32 362.04L311.48 362.24L311.63 362.43L311.79 362.61L311.94 362.78L312.10 362.93L312.25 363.08L312.41 363.21L312.57 363.34L312.72 363.45L312.88 363.56L313.03 363.66L313.19 363.75L313.35 363.84L313.50 363.91L313.66 363.98L313.81 364.05L313.97 364.11L314.13 364.16L314.28 364.21L314.44 364.25L314.59 364.29L314.75 364.33L314.91 364.36L315.06 364.39L315.22 364.41L315.37 364.43L315.53 364.45L315.68 364.47L315.84 364.49L316.00 364.50L316.15 364.52L316.31 364.53L316.46 364.54L316.62 364.54L316.62 364.60z" fill="#8c8c8c"/>
<path d="M279.83 364.60L279.83 364.55L279.99 364.53L280.14 364.51L280.30 364.48L280.45 364.44L280.61 364.39L280.77 364.32L280.92 364.24L281.08 364.14L281.23 364.01L281.39 363.85L281.54 363.65L281.70 363.40L281.86 363.11L282.01 362.75L282.17 362.32L282.32 361.81L282.48 361.22L282.64 360.52L282.79 359.71L282.95 358.78L283.10 357.72L283.26 356.53L283.42 355.18L283.57 353.69L283.73 352.05L283.88 350.25L284.04 348.31L284.19 346.23L284.35 344.02L284.51 341.70L284.66 339.28L284.82 336.80L284.97 334.28L285.13 331.75L285.29 329.25L285.44 326.81L285.60 324.47L285.75 322.26L285.91 320.23L286.07 318.40L286.22 316.82L286.38 315.50L286.53 314.47L286.69 313.75L286.84 313.35L287.00 313.27L287.16 313.51L287.31 314.07L287.47 314.92L287.62 316.04L287.78 317.42L287.94 319.01L288.09 320.80L288.25 322.73L288.40 324.78L288.56 326.91L288.72 329.08L288.87 331.27L289.03 333.44L289.18 335.57L289.34 337.63L289.49 339.61L289.65 341.49L289.81 343.26L289.96 344.91L290.12 346.45L290.27 347.86L290.43 349.16L290.59 350.34L290.74 351.42L290.90 352.39L291.05 353.27L291.21 354.07L291.37 354.78L291.52 355.42L291.68 356.00L291.83 356.51L291.99 356.98L292.15 357.39L292.30 357.75L292.46 358.07L292.61 358.36L292.77 358.61L292.92 358.83L293.08 359.02L293.24 359.18L293.39 359.32L293.55 359.44L293.70 359.54L293.86 359.62L294.02 359.68L294.17 359.74L294.33 359.78L294.48 359.82L294.64 359.85L294.80 359.87L294.95 359.89L295.11 359.90L295.26 359.91L295.42 359.92L295.57 359.92L295.73 359.92L295.89 359.93L296.04 359.92L296.20 359.92L296.35 359.91L296.51 359.90L296.67 359.88L296.82 359.85L296.98 359.82L297.13 359.79L297.29 359.74L297.45 359.69L297.60 359.62L297.76 359.55L297.91 359.46L298.07 359.36L298.22 359.25L298.38 359.13L298.54 358.99L298.69 358.84L298.85 358.67L299.00 358.49L299.16 358.30L299.32 358.09L299.47 357.86L299.63 357.63L299.78 357.38L299.94 357.12L300.10 356.84L300.25 356.56L300.41 356.26L300.56 355.96L300.72 355.65L300.87 355.33L301.03 355.00L301.19 354.68L301.34 354.35L301.50 354.02L301.65 353.69L301.81 353.37L301.97 353.05L302.12 352.74L302.28 352.44L302.43 352.14L302.59 351.86L302.75 351.59L302.90 351.34L303.06 351.10L303.21 350.89L303.37 350.69L303.53 350.51L303.68 350.36L303.84 350.23L303.99 350.12L304.15 350.04L304.30 349.98L304.46 349.95L304.62 349.95L304.77 349.97L304.93 350.02L305.08 350.10L305.24 350.20L305.40 350.33L305.55 350.48L305.71 350.66L305.86 350.86L306.02 351.08L306.18 351.32L306.33 351.58L306.49 351.87L306.64 352.16L306.80 352.48L306.95 352.81L307.11 353.15L307.27 353.50L307.42 353.86L307.58 354.23L307.73 354.60L307.89 354.98L308.05 355.36L308.20 355.75L308.36 356.13L308.51 356.51L308.67 356.89L308.83 357.27L308.98 357.64L309.14 358.00L309.29 358.36L309.45 358.71L309.60 359.04L309.76 359.37L309.92 359.69L310.07 360.00L310.23 360.30L310.38 360.58L310.54 360.86L310.70 361.12L310.85 361.37L311.01 361.60L311.16 361.83L311.32 362.04L311.48 362.24L311.63 362.43L311.79 362.61L311.94 362.78L312.10 362.93L312.25 363.08L312.41 363.21L312.57 363.34L312.72 363.45L312.88 363.56L313.03 363.66L313.19 363.75L313.35 363.84L313.50 363.91L313.66 363.98L313.81 364.05L313.97 364.11L314.13 364.16L314.28 364.21L314.44 364.25L314.59 364.29L314.75 364.33L314.91 364.36L315.06 364.39L315.22 364.41L315.37 364.43L315.53 364.45L315.68 364.47L315.84 364.49L316.00 364.50L316.15 364.52L316.31 364.53L316.46 364.54L316.62 364.54L316.62 364.60z" fill="#ece49a"/>
<path d="M292.61 364.60L292.61 364.54L292.77 364.53L292.92 364.52L293.08 364.51L293.24 364.50L293.39 364.49L293.55 364.47L293.70 364.45L293.86 364.43L294.02 364.41L294.17 364.38L294.33 364.35L294.48 364.32L294.64 364.28L294.80 364.24L294.95 364.20L295.11 364.15L295.26 364.09L295.42 364.04L295.57 363.97L295.73 363.90L295.89 363.82L296.04 363.73L296.20 363.64L296.35 363.54L296.51 363.43L296.67 363.31L296.82 363.19L296.98 363.05L297.13 362.90L297.29 362.74L297.45 362.57L297.60 362.39L297.76 362.20L297.91 362.00L298.07 361.78L298.22 361.56L298.38 361.32L298.54 361.07L298.69 360.80L298.85 360.53L299.00 360.24L299.16 359.94L299.32 359.63L299.47 359.31L299.63 358.98L299.78 358.63L299.94 358.28L300.10 357.93L300.25 357.56L300.41 357.19L300.56 356.81L300.72 356.43L300.87 356.05L301.03 355.67L301.19 355.29L301.34 354.90L301.50 354.53L301.65 354.15L301.81 353.79L301.97 353.43L302.12 353.08L302.28 352.74L302.43 352.42L302.59 352.11L302.75 351.81L302.90 351.54L303.06 351.28L303.21 351.04L303.37 350.83L303.53 350.64L303.68 350.47L303.84 350.32L303.99 350.21L304.15 350.11L304.30 350.05L304.46 350.01L304.62 350.00L304.77 350.02L304.93 350.06L305.08 350.13L305.24 350.23L305.40 350.35L305.55 350.50L305.71 350.67L305.86 350.87L306.02 351.09L306.18 351.33L306.33 351.59L306.49 351.87L306.64 352.17L306.80 352.48L306.95 352.81L307.11 353.15L307.27 353.50L307.42 353.86L307.58 354.23L307.73 354.61L307.89 354.98L308.05 355.37L308.20 355.75L308.36 356.13L308.51 356.51L308.67 356.89L308.83 357.27L308.98 357.64L309.14 358.00L309.29 358.36L309.45 358.71L309.60 359.05L309.76 359.37L309.92 359.69L310.07 360.00L310.23 360.30L310.38 360.58L310.54 360.86L310.70 361.12L310.85 361.37L311.01 361.61L311.16 361.83L311.32 362.04L311.48 362.24L311.63 362.43L311.79 362.61L311.94 362.78L312.10 362.93L312.25 363.08L312.41 363.21L312.57 363.34L312.72 363.45L312.88 363.56L313.03 363.66L313.19 363.75L313.35 363.84L313.50 363.91L313.66 363.98L313.81 364.05L313.97 364.11L314.13 364.16L314.28 364.21L314.44 364.25L314.59 364.29L314.75 364.33L314.91 364.36L315.06 364.39L315.22 364.41L315.37 364.43L315.53 364.45L315.68 364.47L315.84 364.49L316.00 364.50L316.15 364.52L316.31 364.53L316.46 364.54L316.62 364.54L316.62 364.60z" fill="#44dd44"/>
<path d="M279.99 364.60L279.99 364.53L280.14 364.51L280.30 364.48L280.45 364.44L280.61 364.39L280.77 364.32L280.92 364.24L281.08 364.14L281.23 364.01L281.39 363.85L281.54 363.65L281.70 363.41L281.86 363.11L282.01 362.75L282.17 362.33L282.32 361.82L282.48 361.23L282.64 360.53L282.79 359.72L282.95 358.80L283.10 357.74L283.26 356.55L283.42 355.21L283.57 353.72L283.73 352.08L283.88 350.29L284.04 348.35L284.19 346.27L284.35 344.07L284.51 341.76L284.66 339.36L284.82 336.89L284.97 334.39L285.13 331.88L285.29 329.40L285.44 326.98L285.60 324.67L285.75 322.50L285.91 320.52L286.07 318.74L286.22 317.22L286.38 315.98L286.53 315.03L286.69 314.41L286.84 314.12L287.00 314.17L287.16 314.56L287.31 315.28L287.47 316.31L287.62 317.64L287.78 319.24L287.94 321.08L288.09 323.12L288.25 325.33L288.40 327.68L288.56 330.12L288.72 332.61L288.87 335.12L289.03 337.62L289.18 340.07L289.34 342.45L289.49 344.73L289.65 346.89L289.81 348.93L289.96 350.83L290.12 352.57L290.27 354.17L290.43 355.61L290.59 356.91L290.74 358.06L290.90 359.08L291.05 359.97L291.21 360.74L291.37 361.41L291.52 361.98L291.68 362.46L291.83 362.86L291.99 363.20L292.15 363.48L292.30 363.71L292.46 363.90L292.61 364.05L292.77 364.17L292.92 364.27L293.08 364.35L293.24 364.41L293.39 364.45L293.55 364.49L293.70 364.52L293.86 364.54L293.86 364.60z" fill="#a4a4f4"/>
<path d="M285.44 364.60L285.44 364.55L285.60 364.53L285.75 364.51L285.91 364.49L286.07 364.45L286.22 364.41L286.38 364.37L286.53 364.31L286.69 364.24L286.84 364.16L287.00 364.07L287.16 363.96L287.31 363.84L287.47 363.70L287.62 363.55L287.78 363.38L287.94 363.19L288.09 362.99L288.25 362.77L288.40 362.54L288.56 362.31L288.72 362.06L288.87 361.82L289.03 361.58L289.18 361.34L289.34 361.12L289.49 360.91L289.65 360.72L289.81 360.55L289.96 360.41L290.12 360.31L290.27 360.24L290.43 360.20L290.59 360.21L290.74 360.24L290.90 360.32L291.05 360.43L291.21 360.57L291.37 360.74L291.52 360.93L291.68 361.14L291.83 361.36L291.99 361.60L292.15 361.85L292.30 362.09L292.46 362.33L292.61 362.57L292.77 362.79L292.92 363.01L293.08 363.21L293.24 363.40L293.39 363.57L293.55 363.72L293.70 363.86L293.86 363.98L294.02 364.08L294.17 364.17L294.33 364.25L294.48 364.32L294.64 364.37L294.80 364.42L294.95 364.46L295.11 364.49L295.26 364.51L295.42 364.53L295.57 364.55L295.57 364.60z" fill="#9a9a9a" fill-opacity=".85"/>
<path d="M285.29 328.86L285.44 326.18L285.60 323.49L285.75 320.82L285.91 318.21L286.07 315.70L286.22 313.38L286.38 311.34L286.53 309.68L286.69 308.50L286.84 307.87L287.00 307.83L287.16 308.37L287.31 309.44L287.47 310.96L287.62 312.82L287.78 314.92L287.94 317.17L288.09 319.51L288.25 321.87L288.40 324.23L288.56 326.58" fill="none" stroke="#555" stroke-width="0.5" stroke-linejoin="round"/>
<path d="M280.45 364.44L280.61 364.39L280.77 364.32L280.92 364.24L281.08 364.14L281.23 364.01L281.39 363.85L281.54 363.65L281.70 363.40L281.86 363.11L282.01 362.75L282.17 362.32L282.32 361.81L282.48 361.22L282.64 360.52L282.79 359.71L282.95 358.78L283.10 357.72L283.26 356.53L283.42 355.18L283.57 353.69L283.73 352.05L283.88 350.25L284.04 348.31L284.19 346.23L284.35 344.02L284.51 341.70L284.66 339.28L284.82 336.80L284.97 334.28L285.13 331.75L285.29 329.25L285.44 326.81L285.60 324.47L285.75 322.26L285.91 320.23L286.07 318.40L286.22 316.82L286.38 315.50L286.53 314.47L286.69 313.75L286.84 313.35L287.00 313.27L287.16 313.51L287.31 314.07L287.47 314.92L287.62 316.04L287.78 317.42L287.94 319.01L288.09 320.80L288.25 322.73L288.40 324.78L288.56 326.91L288.72 329.08L288.87 331.27L289.03 333.44L289.18 335.57L289.34 337.63L289.49 339.61L289.65 341.49L289.81 343.26L289.96 344.91L290.12 346.45L290.27 347.86L290.43 349.16L290.59 350.34L290.74 351.42L290.90 352.39L291.05 353.27L291.21 354.07L291.37 354.78L291.52 355.42L291.68 356.00L291.83 356.51L291.99 356.98L292.15 357.39L292.30 357.75L292.46 358.07L292.61 358.36L292.77 358.61L292.92 358.83L293.08 359.02L293.24 359.18L293.39 359.32L293.55 359.44L293.70 359.54L293.86 359.62L294.02 359.68L294.17 359.74L294.33 359.78L294.48 359.82L294.64 359.85L294.80 359.87L294.95 359.89L295.11 359.90L295.26 359.91L295.42 359.92L295.57 359.92L295.73 359.92L295.89 359.93L296.04 359.92L296.20 359.92L296.35 359.91L296.51 359.90L296.67 359.88L296.82 359.85L296.98 359.82L297.13 359.79L297.29 359.74L297.45 359.69L297.60 359.62L297.76 359.55L297.91 359.46L298.07 359.36L298.22 359.25L298.38 359.13L298.54 358.99L298.69 358.84L298.85 358.67L299.00 358.49L299.16 358.30L299.32 358.09L299.47 357.86L299.63 357.63L299.78 357.38L299.94 357.12L300.10 356.84L300.25 356.56L300.41 356.26L300.56 355.96L300.72 355.65L300.87 355.33L301.03 355.00L301.19 354.68L301.34 354.35L301.50 354.02L301.65 353.69L301.81 353.37L301.97 353.05L302.12 352.74L302.28 352.44L302.43 352.14L302.59 351.86L302.75 351.59L302.90 351.34L303.06 351.10L303.21 350.89L303.37 350.69L303.53 350.51L303.68 350.36L303.84 350.23L303.99 350.12L304.15 350.04L304.30 349.98L304.46 349.95L304.62 349.95L304.77 349.97L304.93 350.02L305.08 350.10L305.24 350.20L305.40 350.33L305.55 350.48L305.71 350.66L305.86 350.86L306.02 351.08L306.18 351.32L306.33 351.58L306.49 351.87L306.64 352.16L306.80 352.48L306.95 352.81L307.11 353.15L307.27 353.50L307.42 353.86L307.58 354.23L307.73 354.60L307.89 354.98L308.05 355.36L308.20 355.75L308.36 356.13L308.51 356.51L308.67 356.89L308.83 357.27L308.98 357.64L309.14 358.00L309.29 358.36L309.45 358.71L309.60 359.04L309.76 359.37L309.92 359.69L310.07 360.00L310.23 360.30L310.38 360.58L310.54 360.86L310.70 361.12L310.85 361.37L311.01 361.60L311.16 361.83L311.32 362.04L311.48 362.24L311.63 362.43L311.79 362.61L311.94 362.78L312.10 362.93L312.25 363.08L312.41 363.21L312.57 363.34L312.72 363.45L312.88 363.56L313.03 363.66L313.19 363.75L313.35 363.84L313.50 363.91L313.66 363.98L313.81 364.05L313.97 364.11L314.13 364.16L314.28 364.21L314.44 364.25L314.59 364.29L314.75 364.33L314.91 364.36L315.06 364.39L315.22 364.41L315.37 364.43" fill="none" stroke="#e020e0" stroke-width="0.95" stroke-linejoin="round"/>
<line x1="270.8" y1="304.4" x2="270.8" y2="364.6" stroke="#555" stroke-width="0.6"/>
<line x1="270.8" y1="364.6" x2="333.6" y2="364.6" stroke="#555" stroke-width="0.6"/>
<text x="268.3" y="306.2" font-size="3.8" text-anchor="end" fill="#222" stroke="#222" stroke-width="0.18">500</text>
<text x="268.3" y="318.3" font-size="3.8" text-anchor="end" fill="#222" stroke="#222" stroke-width="0.18">400</text>
<text x="268.3" y="330.4" font-size="3.8" text-anchor="end" fill="#222" stroke="#222" stroke-width="0.18">300</text>
<text x="268.3" y="343" font-size="3.8" text-anchor="end" fill="#222" stroke="#222" stroke-width="0.18">200</text>
<text x="268.3" y="354.7" font-size="3.8" text-anchor="end" fill="#222" stroke="#222" stroke-width="0.18">100</text>
<text x="268.3" y="366.8" font-size="3.8" text-anchor="end" fill="#222" stroke="#222" stroke-width="0.18">0</text>
<path d="M270.8 304.9h-2M270.8 317.0h-2M270.8 329.1h-2M270.8 341.7h-2M270.8 353.4h-2M270.8 365.5h-2M270.8 365.5h-.9M270.8 363.1h-.9M270.8 360.7h-.9M270.8 358.2h-.9M270.8 355.8h-.9M270.8 353.4h-.9M270.8 351.0h-.9M270.8 348.5h-.9M270.8 346.1h-.9M270.8 343.7h-.9M270.8 341.3h-.9M270.8 338.8h-.9M270.8 336.4h-.9M270.8 334.0h-.9M270.8 331.6h-.9M270.8 329.1h-.9M270.8 326.7h-.9M270.8 324.3h-.9M270.8 321.9h-.9M270.8 319.4h-.9M270.8 317.0h-.9M270.8 314.6h-.9M270.8 312.2h-.9M270.8 309.7h-.9M270.8 307.3h-.9M270.8 304.9h-.9" stroke="#444" stroke-width=".5" fill="none"/>
<text x="282.5" y="370.9" font-size="3.5" text-anchor="middle" fill="#222" stroke="#222" stroke-width="0.18">400K</text>
<text x="295.9" y="370.9" font-size="3.5" text-anchor="middle" fill="#222" stroke="#222" stroke-width="0.18">700K</text>
<text x="309.8" y="370.9" font-size="3.5" text-anchor="middle" fill="#222" stroke="#222" stroke-width="0.18">1.0M</text>
<text x="322.7" y="370.9" font-size="3.5" text-anchor="middle" fill="#222" stroke="#222" stroke-width="0.18">1.3M</text>
<path d="M282.5 364.6v1.5M295.9 364.6v1.5M309.8 364.6v1.5M322.7 364.6v1.5M271.8 364.6v.8M274.4 364.6v.8M277.0 364.6v.8M279.6 364.6v.8M282.2 364.6v.8M284.8 364.6v.8M287.4 364.6v.8M290.0 364.6v.8M292.6 364.6v.8M295.2 364.6v.8M297.8 364.6v.8M300.4 364.6v.8M303.0 364.6v.8M305.6 364.6v.8M308.2 364.6v.8M310.8 364.6v.8M313.4 364.6v.8M316.0 364.6v.8M318.6 364.6v.8M321.2 364.6v.8M323.8 364.6v.8M326.4 364.6v.8M329.0 364.6v.8M331.6 364.6v.8" stroke="#444" stroke-width=".5" fill="none"/>
<text x="260.3" y="335" font-size="3.6" text-anchor="middle" fill="#222" stroke="#222" stroke-width="0.18" transform="rotate(-90 260.3 335)">Count</text>
<text x="302.2" y="301.3" font-size="7.5" text-anchor="middle" fill="#111" stroke="#111" stroke-width="0.18">TMZ (100.0 μM)</text>
<line x1="363.5" y1="17" x2="363.5" y2="112" stroke="#666" stroke-width="1"/>
<line x1="361.1" y1="111.5" x2="363.5" y2="111.5" stroke="#666" stroke-width="0.9"/>
<text x="360.5" y="113.5" font-size="6" text-anchor="end" fill="#111" stroke="#111" stroke-width="0.18">0</text>
<line x1="361.1" y1="88.16" x2="363.5" y2="88.16" stroke="#666" stroke-width="0.9"/>
<text x="360.5" y="90.16" font-size="6" text-anchor="end" fill="#111" stroke="#111" stroke-width="0.18">20</text>
<line x1="361.1" y1="64.82" x2="363.5" y2="64.82" stroke="#666" stroke-width="0.9"/>
<text x="360.5" y="66.82" font-size="6" text-anchor="end" fill="#111" stroke="#111" stroke-width="0.18">40</text>
<line x1="361.1" y1="41.48" x2="363.5" y2="41.48" stroke="#666" stroke-width="0.9"/>
<text x="360.5" y="43.48" font-size="6" text-anchor="end" fill="#111" stroke="#111" stroke-width="0.18">60</text>
<line x1="361.1" y1="18.14" x2="363.5" y2="18.14" stroke="#666" stroke-width="0.9"/>
<text x="360.5" y="20.14" font-size="6" text-anchor="end" fill="#111" stroke="#111" stroke-width="0.18">80</text>
<line x1="363" y1="111.5" x2="507.5" y2="111.5" stroke="#666" stroke-width="1"/>
<rect x="367.7" y="101" width="7.3" height="10.5" fill="#a5a5a5"/>
<line x1="371.35" y1="101" x2="371.35" y2="99.25" stroke="#707070" stroke-width="0.95"/>
<line x1="369.55" y1="99.25" x2="373.15" y2="99.25" stroke="#707070" stroke-width="0.95"/>
<rect x="377.6" y="110.33" width="7.3" height="1.17" fill="#696969"/>
<line x1="381.25" y1="110.33" x2="381.25" y2="109.98" stroke="#707070" stroke-width="0.95"/>
<line x1="379.45" y1="109.98" x2="383.05" y2="109.98" stroke="#707070" stroke-width="0.95"/>
<rect x="387.5" y="99.83" width="7.3" height="11.67" fill="#000"/>
<line x1="391.15" y1="99.83" x2="391.15" y2="98.9" stroke="#707070" stroke-width="0.95"/>
<line x1="389.35" y1="98.9" x2="392.95" y2="98.9" stroke="#707070" stroke-width="0.95"/>
<rect x="404.2" y="84.89" width="7.3" height="26.61" fill="#a5a5a5"/>
<line x1="407.85" y1="84.89" x2="407.85" y2="79.99" stroke="#707070" stroke-width="0.95"/>
<line x1="406.05" y1="79.99" x2="409.65" y2="79.99" stroke="#707070" stroke-width="0.95"/>
<rect x="414.1" y="108" width="7.3" height="3.5" fill="#696969"/>
<line x1="417.75" y1="108" x2="417.75" y2="106.6" stroke="#707070" stroke-width="0.95"/>
<line x1="415.95" y1="106.6" x2="419.55" y2="106.6" stroke="#707070" stroke-width="0.95"/>
<rect x="424" y="82.56" width="7.3" height="28.94" fill="#000"/>
<line x1="427.65" y1="82.56" x2="427.65" y2="79.29" stroke="#707070" stroke-width="0.95"/>
<line x1="425.85" y1="79.29" x2="429.45" y2="79.29" stroke="#707070" stroke-width="0.95"/>
<rect x="440" y="79.99" width="7.3" height="31.51" fill="#a5a5a5"/>
<line x1="443.65" y1="79.99" x2="443.65" y2="76.26" stroke="#707070" stroke-width="0.95"/>
<line x1="441.85" y1="76.26" x2="445.45" y2="76.26" stroke="#707070" stroke-width="0.95"/>
<rect x="449.9" y="96.45" width="7.3" height="15.05" fill="#696969"/>
<line x1="453.55" y1="96.45" x2="453.55" y2="94.81" stroke="#707070" stroke-width="0.95"/>
<line x1="451.75" y1="94.81" x2="455.35" y2="94.81" stroke="#707070" stroke-width="0.95"/>
<rect x="459.8" y="65.29" width="7.3" height="46.21" fill="#000"/>
<line x1="463.45" y1="65.29" x2="463.45" y2="60.85" stroke="#707070" stroke-width="0.95"/>
<line x1="461.65" y1="60.85" x2="465.25" y2="60.85" stroke="#707070" stroke-width="0.95"/>
<rect x="476" y="100.18" width="7.3" height="11.32" fill="#a5a5a5"/>
<line x1="479.65" y1="100.18" x2="479.65" y2="94" stroke="#707070" stroke-width="0.95"/>
<line x1="477.85" y1="94" x2="481.45" y2="94" stroke="#707070" stroke-width="0.95"/>
<rect x="485.9" y="50" width="7.3" height="61.5" fill="#696969"/>
<line x1="489.55" y1="50" x2="489.55" y2="39.15" stroke="#707070" stroke-width="0.95"/>
<line x1="487.75" y1="39.15" x2="491.35" y2="39.15" stroke="#707070" stroke-width="0.95"/>
<rect x="495.8" y="39.61" width="7.3" height="71.89" fill="#000"/>
<line x1="499.45" y1="39.61" x2="499.45" y2="30.39" stroke="#707070" stroke-width="0.95"/>
<line x1="497.65" y1="30.39" x2="501.25" y2="30.39" stroke="#707070" stroke-width="0.95"/>
<text x="0" y="0" font-size="6.4" text-anchor="middle" fill="#111" font-weight="bold" stroke="#111" stroke-width="0.18" transform="translate(381 120.7) scale(0.94 1)">Control</text>
<text x="0" y="0" font-size="6.4" text-anchor="middle" fill="#111" font-weight="bold" stroke="#111" stroke-width="0.18" transform="translate(417.4 120.7) scale(0.94 1)">2.5</text>
<text x="0" y="0" font-size="6.4" text-anchor="middle" fill="#111" font-weight="bold" stroke="#111" stroke-width="0.18" transform="translate(453.6 120.7) scale(0.94 1)">5.0</text>
<text x="0" y="0" font-size="6.4" text-anchor="middle" fill="#111" font-weight="bold" stroke="#111" stroke-width="0.18" transform="translate(489.5 120.7) scale(0.94 1)">10.0</text>
<text x="435.2" y="130.5" font-size="7.4" text-anchor="middle" fill="#111" font-weight="bold" stroke="#111" stroke-width="0.18">4MOD concentrations (μM)</text>
<text x="349" y="64.6" font-size="7.8" text-anchor="middle" fill="#111" font-weight="bold" stroke="#111" stroke-width="0.18" transform="rotate(-90 349 64.6)">Apoptotic rate (%)</text>
<rect x="369.5" y="19.4" width="12.3" height="5.4" fill="#a5a5a5"/>
<text x="384.4" y="24.7" font-size="6.6" text-anchor="start" fill="#111" stroke="#111" stroke-width="0.18">Early apoptosis</text>
<rect x="369.5" y="28.5" width="12.3" height="5.4" fill="#696969"/>
<text x="384.4" y="33.8" font-size="6.6" text-anchor="start" fill="#111" stroke="#111" stroke-width="0.18">Late apoptosis</text>
<rect x="369.5" y="37.6" width="12.3" height="5.4" fill="#000"/>
<text x="384.4" y="42.9" font-size="6.6" text-anchor="start" fill="#111" stroke="#111" stroke-width="0.18">Total apoptosis</text>
<path d="M407.00 75.20h1.8v1.8h-1.8zM410.00 75.20h1.8v1.8h-1.8z" fill="#3a3a3a"/>
<text x="417.5" y="101.2" font-size="7.2" text-anchor="middle" fill="#222" stroke="#222" stroke-width="0.18">ns</text>
<path d="M426.90 74.30h1.8v1.8h-1.8z" fill="#3a3a3a"/>
<path d="M440.20 70.50h1.8v1.8h-1.8zM443.20 70.50h1.8v1.8h-1.8zM446.20 70.50h1.8v1.8h-1.8z" fill="#3a3a3a"/>
<path d="M452.50 89.00h1.8v1.8h-1.8z" fill="#3a3a3a"/>
<path d="M458.70 55.30h1.8v1.8h-1.8zM461.70 55.30h1.8v1.8h-1.8zM464.70 55.30h1.8v1.8h-1.8zM467.70 55.30h1.8v1.8h-1.8z" fill="#3a3a3a"/>
<text x="479.7" y="91.3" font-size="7.2" text-anchor="middle" fill="#222" stroke="#222" stroke-width="0.18">ns</text>
<line x1="488" y1="28.1" x2="499" y2="28.1" stroke="#a8a8a8" stroke-width="1.2"/>
<path d="M488.10 21.70h1.8v1.8h-1.8zM491.10 21.70h1.8v1.8h-1.8zM494.10 21.70h1.8v1.8h-1.8zM497.10 21.70h1.8v1.8h-1.8z" fill="#3a3a3a"/>
<line x1="538.5" y1="17" x2="538.5" y2="111" stroke="#666" stroke-width="1"/>
<line x1="536.1" y1="110.5" x2="538.5" y2="110.5" stroke="#666" stroke-width="0.9"/>
<text x="535.5" y="112.5" font-size="6" text-anchor="end" fill="#111" stroke="#111" stroke-width="0.18">0</text>
<line x1="536.1" y1="81.84" x2="538.5" y2="81.84" stroke="#666" stroke-width="0.9"/>
<text x="535.5" y="83.84" font-size="6" text-anchor="end" fill="#111" stroke="#111" stroke-width="0.18">20</text>
<line x1="536.1" y1="53.18" x2="538.5" y2="53.18" stroke="#666" stroke-width="0.9"/>
<text x="535.5" y="55.18" font-size="6" text-anchor="end" fill="#111" stroke="#111" stroke-width="0.18">40</text>
<line x1="536.1" y1="24.52" x2="538.5" y2="24.52" stroke="#666" stroke-width="0.9"/>
<text x="535.5" y="26.52" font-size="6" text-anchor="end" fill="#111" stroke="#111" stroke-width="0.18">60</text>
<line x1="538" y1="110.5" x2="679.4" y2="110.5" stroke="#666" stroke-width="1"/>
<rect x="543.2" y="99.18" width="7.2" height="11.32" fill="#a5a5a5"/>
<line x1="546.8" y1="99.18" x2="546.8" y2="96.46" stroke="#707070" stroke-width="0.95"/>
<line x1="545" y1="96.46" x2="548.6" y2="96.46" stroke="#707070" stroke-width="0.95"/>
<rect x="552.9" y="108.35" width="7.2" height="2.15" fill="#696969"/>
<line x1="556.5" y1="108.35" x2="556.5" y2="107.35" stroke="#707070" stroke-width="0.95"/>
<line x1="554.7" y1="107.35" x2="558.3" y2="107.35" stroke="#707070" stroke-width="0.95"/>
<rect x="562.6" y="97.32" width="7.2" height="13.18" fill="#000"/>
<line x1="566.2" y1="97.32" x2="566.2" y2="93.88" stroke="#707070" stroke-width="0.95"/>
<line x1="564.4" y1="93.88" x2="568" y2="93.88" stroke="#707070" stroke-width="0.95"/>
<rect x="578.2" y="98.75" width="7.2" height="11.75" fill="#a5a5a5"/>
<line x1="581.8" y1="98.75" x2="581.8" y2="96.46" stroke="#707070" stroke-width="0.95"/>
<line x1="580" y1="96.46" x2="583.6" y2="96.46" stroke="#707070" stroke-width="0.95"/>
<rect x="587.9" y="103.48" width="7.2" height="7.02" fill="#696969"/>
<line x1="591.5" y1="103.48" x2="591.5" y2="100.61" stroke="#707070" stroke-width="0.95"/>
<line x1="589.7" y1="100.61" x2="593.3" y2="100.61" stroke="#707070" stroke-width="0.95"/>
<rect x="597.6" y="91.87" width="7.2" height="18.63" fill="#000"/>
<line x1="601.2" y1="91.87" x2="601.2" y2="89.58" stroke="#707070" stroke-width="0.95"/>
<line x1="599.4" y1="89.58" x2="603" y2="89.58" stroke="#707070" stroke-width="0.95"/>
<rect x="613.7" y="90.15" width="7.2" height="20.35" fill="#a5a5a5"/>
<line x1="617.3" y1="90.15" x2="617.3" y2="85.42" stroke="#707070" stroke-width="0.95"/>
<line x1="615.5" y1="85.42" x2="619.1" y2="85.42" stroke="#707070" stroke-width="0.95"/>
<rect x="623.4" y="82.27" width="7.2" height="28.23" fill="#696969"/>
<line x1="627" y1="82.27" x2="627" y2="76.54" stroke="#707070" stroke-width="0.95"/>
<line x1="625.2" y1="76.54" x2="628.8" y2="76.54" stroke="#707070" stroke-width="0.95"/>
<rect x="633.1" y="64.64" width="7.2" height="45.86" fill="#000"/>
<line x1="636.7" y1="64.64" x2="636.7" y2="57.48" stroke="#707070" stroke-width="0.95"/>
<line x1="634.9" y1="57.48" x2="638.5" y2="57.48" stroke="#707070" stroke-width="0.95"/>
<rect x="648.9" y="77.54" width="7.2" height="32.96" fill="#a5a5a5"/>
<line x1="652.5" y1="77.54" x2="652.5" y2="71.95" stroke="#707070" stroke-width="0.95"/>
<line x1="650.7" y1="71.95" x2="654.3" y2="71.95" stroke="#707070" stroke-width="0.95"/>
<rect x="658.6" y="76.11" width="7.2" height="34.39" fill="#696969"/>
<line x1="662.2" y1="76.11" x2="662.2" y2="68.8" stroke="#707070" stroke-width="0.95"/>
<line x1="660.4" y1="68.8" x2="664" y2="68.8" stroke="#707070" stroke-width="0.95"/>
<rect x="668.3" y="43.29" width="7.2" height="67.21" fill="#000"/>
<line x1="671.9" y1="43.29" x2="671.9" y2="37.13" stroke="#707070" stroke-width="0.95"/>
<line x1="670.1" y1="37.13" x2="673.7" y2="37.13" stroke="#707070" stroke-width="0.95"/>
<text x="0" y="0" font-size="6.4" text-anchor="middle" fill="#111" font-weight="bold" stroke="#111" stroke-width="0.18" transform="translate(555.6 119.1) scale(0.94 1)">Control</text>
<text x="0" y="0" font-size="6.4" text-anchor="middle" fill="#111" font-weight="bold" stroke="#111" stroke-width="0.18" transform="translate(591.5 119.1) scale(0.94 1)">10.0</text>
<text x="0" y="0" font-size="6.4" text-anchor="middle" fill="#111" font-weight="bold" stroke="#111" stroke-width="0.18" transform="translate(626.9 119.1) scale(0.94 1)">50.0</text>
<text x="0" y="0" font-size="6.4" text-anchor="middle" fill="#111" font-weight="bold" stroke="#111" stroke-width="0.18" transform="translate(662.5 119.1) scale(0.94 1)">100.0</text>
<text x="609.4" y="128.8" font-size="7.36" text-anchor="middle" fill="#111" font-weight="bold" stroke="#111" stroke-width="0.18">TMZ concentrations (μM)</text>
<text x="523.5" y="63.7" font-size="7.7" text-anchor="middle" fill="#111" font-weight="bold" stroke="#111" stroke-width="0.18" transform="rotate(-90 523.5 63.7)">Apoptotic rate (%)</text>
<rect x="542.1" y="16.3" width="12.7" height="5.4" fill="#a5a5a5"/>
<text x="557.5" y="21.6" font-size="6.6" text-anchor="start" fill="#111" stroke="#111" stroke-width="0.18">Early apoptosis</text>
<rect x="542.1" y="25.55" width="12.7" height="5.4" fill="#696969"/>
<text x="557.5" y="30.85" font-size="6.6" text-anchor="start" fill="#111" stroke="#111" stroke-width="0.18">Late apoptosis</text>
<rect x="542.1" y="34.8" width="12.7" height="5.4" fill="#000"/>
<text x="557.5" y="40.1" font-size="6.6" text-anchor="start" fill="#111" stroke="#111" stroke-width="0.18">Total apoptosis</text>
<line x1="580.9" y1="84.7" x2="602.2" y2="84.7" stroke="#a8a8a8" stroke-width="1.2"/>
<text x="591.5" y="81.2" font-size="7.2" text-anchor="middle" fill="#222" stroke="#222" stroke-width="0.18">ns</text>
<text x="617.4" y="79.3" font-size="7.2" text-anchor="middle" fill="#222" stroke="#222" stroke-width="0.18">ns</text>
<path d="M624.60 67.40h1.8v1.8h-1.8zM627.60 67.40h1.8v1.8h-1.8z" fill="#3a3a3a"/>
<path d="M634.20 52.30h1.8v1.8h-1.8zM637.20 52.30h1.8v1.8h-1.8z" fill="#3a3a3a"/>
<path d="M651.70 66.40h1.8v1.8h-1.8z" fill="#3a3a3a"/>
<path d="M660.10 62.90h1.8v1.8h-1.8zM663.10 62.90h1.8v1.8h-1.8z" fill="#3a3a3a"/>
<path d="M666.60 32.20h1.8v1.8h-1.8zM669.60 32.20h1.8v1.8h-1.8zM672.60 32.20h1.8v1.8h-1.8zM675.60 32.20h1.8v1.8h-1.8z" fill="#3a3a3a"/>
<line x1="363.5" y1="149" x2="363.5" y2="240.1" stroke="#666" stroke-width="1"/>
<line x1="361.1" y1="239.6" x2="363.5" y2="239.6" stroke="#666" stroke-width="0.9"/>
<text x="360.5" y="241.6" font-size="6" text-anchor="end" fill="#111" stroke="#111" stroke-width="0.18">0</text>
<line x1="361.1" y1="219.6" x2="363.5" y2="219.6" stroke="#666" stroke-width="0.9"/>
<text x="360.5" y="221.6" font-size="6" text-anchor="end" fill="#111" stroke="#111" stroke-width="0.18">20</text>
<line x1="361.1" y1="199.6" x2="363.5" y2="199.6" stroke="#666" stroke-width="0.9"/>
<text x="360.5" y="201.6" font-size="6" text-anchor="end" fill="#111" stroke="#111" stroke-width="0.18">40</text>
<line x1="361.1" y1="179.6" x2="363.5" y2="179.6" stroke="#666" stroke-width="0.9"/>
<text x="360.5" y="181.6" font-size="6" text-anchor="end" fill="#111" stroke="#111" stroke-width="0.18">60</text>
<line x1="361.1" y1="159.6" x2="363.5" y2="159.6" stroke="#666" stroke-width="0.9"/>
<text x="360.5" y="161.6" font-size="6" text-anchor="end" fill="#111" stroke="#111" stroke-width="0.18">80</text>
<line x1="363" y1="239.6" x2="508.2" y2="239.6" stroke="#666" stroke-width="1"/>
<rect x="369.3" y="169.4" width="6.7" height="70.2" fill="#a3a3a3"/>
<line x1="372.65" y1="169.4" x2="372.65" y2="159.6" stroke="#707070" stroke-width="0.95"/>
<line x1="370.85" y1="159.6" x2="374.45" y2="159.6" stroke="#707070" stroke-width="0.95"/>
<rect x="379.45" y="171.2" width="6.7" height="68.4" fill="#828282"/>
<line x1="382.8" y1="171.2" x2="382.8" y2="168.1" stroke="#707070" stroke-width="0.95"/>
<line x1="381" y1="168.1" x2="384.6" y2="168.1" stroke="#707070" stroke-width="0.95"/>
<rect x="389.6" y="194.9" width="6.7" height="44.7" fill="#5a5a5a"/>
<line x1="392.95" y1="194.9" x2="392.95" y2="190.3" stroke="#707070" stroke-width="0.95"/>
<line x1="391.15" y1="190.3" x2="394.75" y2="190.3" stroke="#707070" stroke-width="0.95"/>
<rect x="399.75" y="201.8" width="6.7" height="37.8" fill="#000"/>
<line x1="403.1" y1="201.8" x2="403.1" y2="195.6" stroke="#707070" stroke-width="0.95"/>
<line x1="401.3" y1="195.6" x2="404.9" y2="195.6" stroke="#707070" stroke-width="0.95"/>
<rect x="417.2" y="224.6" width="6.7" height="15" fill="#a3a3a3"/>
<line x1="420.55" y1="224.6" x2="420.55" y2="222.2" stroke="#707070" stroke-width="0.95"/>
<line x1="418.75" y1="222.2" x2="422.35" y2="222.2" stroke="#707070" stroke-width="0.95"/>
<rect x="427.35" y="227.8" width="6.7" height="11.8" fill="#828282"/>
<line x1="430.7" y1="227.8" x2="430.7" y2="226.2" stroke="#707070" stroke-width="0.95"/>
<line x1="428.9" y1="226.2" x2="432.5" y2="226.2" stroke="#707070" stroke-width="0.95"/>
<rect x="437.5" y="230.5" width="6.7" height="9.1" fill="#5a5a5a"/>
<line x1="440.85" y1="230.5" x2="440.85" y2="227.2" stroke="#707070" stroke-width="0.95"/>
<line x1="439.05" y1="227.2" x2="442.65" y2="227.2" stroke="#707070" stroke-width="0.95"/>
<rect x="447.65" y="231.3" width="6.7" height="8.3" fill="#000"/>
<line x1="451" y1="231.3" x2="451" y2="228.2" stroke="#707070" stroke-width="0.95"/>
<line x1="449.2" y1="228.2" x2="452.8" y2="228.2" stroke="#707070" stroke-width="0.95"/>
<rect x="465.4" y="227.6" width="6.7" height="12" fill="#a3a3a3"/>
<line x1="468.75" y1="227.6" x2="468.75" y2="226" stroke="#707070" stroke-width="0.95"/>
<line x1="466.95" y1="226" x2="470.55" y2="226" stroke="#707070" stroke-width="0.95"/>
<rect x="475.55" y="216.6" width="6.7" height="23" fill="#828282"/>
<line x1="478.9" y1="216.6" x2="478.9" y2="213.6" stroke="#707070" stroke-width="0.95"/>
<line x1="477.1" y1="213.6" x2="480.7" y2="213.6" stroke="#707070" stroke-width="0.95"/>
<rect x="485.7" y="203.6" width="6.7" height="36" fill="#5a5a5a"/>
<line x1="489.05" y1="203.6" x2="489.05" y2="199.6" stroke="#707070" stroke-width="0.95"/>
<line x1="487.25" y1="199.6" x2="490.85" y2="199.6" stroke="#707070" stroke-width="0.95"/>
<rect x="495.85" y="196.1" width="6.7" height="43.5" fill="#000"/>
<line x1="499.2" y1="196.1" x2="499.2" y2="189.1" stroke="#707070" stroke-width="0.95"/>
<line x1="497.4" y1="189.1" x2="501" y2="189.1" stroke="#707070" stroke-width="0.95"/>
<line x1="387.2" y1="239.6" x2="387.2" y2="241.4" stroke="#666" stroke-width="0.8"/>
<text x="0" y="0" font-size="7.1" text-anchor="middle" fill="#111" font-weight="bold" stroke="#111" stroke-width="0.18" transform="translate(387.2 248.9) scale(0.9 1)">G0/G1</text>
<line x1="435.9" y1="239.6" x2="435.9" y2="241.4" stroke="#666" stroke-width="0.8"/>
<text x="0" y="0" font-size="7.1" text-anchor="middle" fill="#111" font-weight="bold" stroke="#111" stroke-width="0.18" transform="translate(435.9 248.9) scale(0.9 1)">S</text>
<line x1="484" y1="239.6" x2="484" y2="241.4" stroke="#666" stroke-width="0.8"/>
<text x="0" y="0" font-size="7.1" text-anchor="middle" fill="#111" font-weight="bold" stroke="#111" stroke-width="0.18" transform="translate(484 248.9) scale(0.9 1)">G2/M</text>
<text x="349.5" y="194.6" font-size="7.5" text-anchor="middle" fill="#111" font-weight="bold" stroke="#111" stroke-width="0.18" transform="rotate(-90 349.5 194.6)">Cells (%)</text>
<text x="462.9" y="154.9" font-size="7.6" text-anchor="middle" fill="#111" font-weight="bold" stroke="#111" stroke-width="0.18">4MOD</text>
<rect x="422.4" y="163.35" width="10.9" height="3.7" fill="#a3a3a3"/>
<text x="438.8" y="167.5" font-size="6.75" text-anchor="start" fill="#111" stroke="#111" stroke-width="0.18">Control</text>
<rect x="466" y="163.35" width="10.9" height="3.7" fill="#5a5a5a"/>
<text x="481.8" y="167.5" font-size="6.75" text-anchor="start" fill="#111" stroke="#111" stroke-width="0.18">5.0 μM</text>
<rect x="422.4" y="173.65" width="10.9" height="3.7" fill="#828282"/>
<text x="438.8" y="177.8" font-size="6.75" text-anchor="start" fill="#111" stroke="#111" stroke-width="0.18">2.5 μM</text>
<rect x="466" y="173.65" width="10.9" height="3.7" fill="#000"/>
<text x="480.2" y="177.8" font-size="6.75" text-anchor="start" fill="#111" stroke="#111" stroke-width="0.18">10.0 μM</text>
<text x="381.8" y="161.2" font-size="7.2" text-anchor="middle" fill="#222" stroke="#222" stroke-width="0.18">ns</text>
<path d="M389.80 172.70h1.8v1.8h-1.8zM392.80 172.70h1.8v1.8h-1.8z" fill="#3a3a3a"/>
<path d="M397.60 178.50h1.8v1.8h-1.8zM400.60 178.50h1.8v1.8h-1.8zM403.60 178.50h1.8v1.8h-1.8zM406.60 178.50h1.8v1.8h-1.8z" fill="#3a3a3a"/>
<line x1="427.6" y1="212.6" x2="453.6" y2="212.6" stroke="#777" stroke-width="0.8"/>
<text x="440.5" y="208.6" font-size="7.2" text-anchor="middle" fill="#222" stroke="#222" stroke-width="0.18">ns</text>
<text x="478.4" y="209" font-size="7.2" text-anchor="middle" fill="#222" stroke="#222" stroke-width="0.18">ns</text>
<path d="M486.80 183.00h1.8v1.8h-1.8zM489.80 183.00h1.8v1.8h-1.8z" fill="#3a3a3a"/>
<path d="M495.40 183.00h1.8v1.8h-1.8zM498.40 183.00h1.8v1.8h-1.8zM501.40 183.00h1.8v1.8h-1.8z" fill="#3a3a3a"/>
<line x1="536.5" y1="148" x2="536.5" y2="241" stroke="#666" stroke-width="1"/>
<line x1="534.1" y1="240.5" x2="536.5" y2="240.5" stroke="#666" stroke-width="0.9"/>
<text x="533.5" y="242.5" font-size="6" text-anchor="end" fill="#111" stroke="#111" stroke-width="0.18">0</text>
<line x1="534.1" y1="219.9" x2="536.5" y2="219.9" stroke="#666" stroke-width="0.9"/>
<text x="533.5" y="221.9" font-size="6" text-anchor="end" fill="#111" stroke="#111" stroke-width="0.18">20</text>
<line x1="534.1" y1="199.3" x2="536.5" y2="199.3" stroke="#666" stroke-width="0.9"/>
<text x="533.5" y="201.3" font-size="6" text-anchor="end" fill="#111" stroke="#111" stroke-width="0.18">40</text>
<line x1="534.1" y1="178.7" x2="536.5" y2="178.7" stroke="#666" stroke-width="0.9"/>
<text x="533.5" y="180.7" font-size="6" text-anchor="end" fill="#111" stroke="#111" stroke-width="0.18">60</text>
<line x1="534.1" y1="158.1" x2="536.5" y2="158.1" stroke="#666" stroke-width="0.9"/>
<text x="533.5" y="160.1" font-size="6" text-anchor="end" fill="#111" stroke="#111" stroke-width="0.18">80</text>
<line x1="536" y1="240.5" x2="684.4" y2="240.5" stroke="#666" stroke-width="1"/>
<rect x="542.1" y="163.25" width="6.9" height="77.25" fill="#a3a3a3"/>
<line x1="545.55" y1="163.25" x2="545.55" y2="160.37" stroke="#707070" stroke-width="0.95"/>
<line x1="543.75" y1="160.37" x2="547.35" y2="160.37" stroke="#707070" stroke-width="0.95"/>
<rect x="552.5" y="167.37" width="6.9" height="73.13" fill="#828282"/>
<line x1="555.95" y1="167.37" x2="555.95" y2="163.46" stroke="#707070" stroke-width="0.95"/>
<line x1="554.15" y1="163.46" x2="557.75" y2="163.46" stroke="#707070" stroke-width="0.95"/>
<rect x="562.9" y="187.25" width="6.9" height="53.25" fill="#5a5a5a"/>
<line x1="566.35" y1="187.25" x2="566.35" y2="183.23" stroke="#707070" stroke-width="0.95"/>
<line x1="564.55" y1="183.23" x2="568.15" y2="183.23" stroke="#707070" stroke-width="0.95"/>
<rect x="573.3" y="189.31" width="6.9" height="51.19" fill="#000"/>
<line x1="576.75" y1="189.31" x2="576.75" y2="186.32" stroke="#707070" stroke-width="0.95"/>
<line x1="574.95" y1="186.32" x2="578.55" y2="186.32" stroke="#707070" stroke-width="0.95"/>
<rect x="591" y="230.41" width="6.9" height="10.09" fill="#a3a3a3"/>
<line x1="594.45" y1="230.41" x2="594.45" y2="228.76" stroke="#707070" stroke-width="0.95"/>
<line x1="592.65" y1="228.76" x2="596.25" y2="228.76" stroke="#707070" stroke-width="0.95"/>
<rect x="601.4" y="227.42" width="6.9" height="13.08" fill="#828282"/>
<line x1="604.85" y1="227.42" x2="604.85" y2="223.71" stroke="#707070" stroke-width="0.95"/>
<line x1="603.05" y1="223.71" x2="606.65" y2="223.71" stroke="#707070" stroke-width="0.95"/>
<rect x="611.8" y="220.41" width="6.9" height="20.09" fill="#5a5a5a"/>
<line x1="615.25" y1="220.41" x2="615.25" y2="217.74" stroke="#707070" stroke-width="0.95"/>
<line x1="613.45" y1="217.74" x2="617.05" y2="217.74" stroke="#707070" stroke-width="0.95"/>
<rect x="622.2" y="215.99" width="6.9" height="24.51" fill="#000"/>
<line x1="625.65" y1="215.99" x2="625.65" y2="214.13" stroke="#707070" stroke-width="0.95"/>
<line x1="623.85" y1="214.13" x2="627.45" y2="214.13" stroke="#707070" stroke-width="0.95"/>
<rect x="640" y="225.77" width="6.9" height="14.73" fill="#a3a3a3"/>
<line x1="643.45" y1="225.77" x2="643.45" y2="222.68" stroke="#707070" stroke-width="0.95"/>
<line x1="641.65" y1="222.68" x2="645.25" y2="222.68" stroke="#707070" stroke-width="0.95"/>
<rect x="650.4" y="225.15" width="6.9" height="15.35" fill="#828282"/>
<line x1="653.85" y1="225.15" x2="653.85" y2="220.52" stroke="#707070" stroke-width="0.95"/>
<line x1="652.05" y1="220.52" x2="655.65" y2="220.52" stroke="#707070" stroke-width="0.95"/>
<rect x="660.8" y="214.03" width="6.9" height="26.47" fill="#5a5a5a"/>
<line x1="664.25" y1="214.03" x2="664.25" y2="211.25" stroke="#707070" stroke-width="0.95"/>
<line x1="662.45" y1="211.25" x2="666.05" y2="211.25" stroke="#707070" stroke-width="0.95"/>
<rect x="671.2" y="214.34" width="6.9" height="26.16" fill="#000"/>
<line x1="674.65" y1="214.34" x2="674.65" y2="211.76" stroke="#707070" stroke-width="0.95"/>
<line x1="672.85" y1="211.76" x2="676.45" y2="211.76" stroke="#707070" stroke-width="0.95"/>
<line x1="560.5" y1="240.5" x2="560.5" y2="242.3" stroke="#666" stroke-width="0.8"/>
<text x="0" y="0" font-size="7.1" text-anchor="middle" fill="#111" font-weight="bold" stroke="#111" stroke-width="0.18" transform="translate(560.5 248.4) scale(0.9 1)">G0/G1</text>
<line x1="610.2" y1="240.5" x2="610.2" y2="242.3" stroke="#666" stroke-width="0.8"/>
<text x="0" y="0" font-size="7.1" text-anchor="middle" fill="#111" font-weight="bold" stroke="#111" stroke-width="0.18" transform="translate(610.2 248.4) scale(0.9 1)">S</text>
<line x1="659.1" y1="240.5" x2="659.1" y2="242.3" stroke="#666" stroke-width="0.8"/>
<text x="0" y="0" font-size="7.1" text-anchor="middle" fill="#111" font-weight="bold" stroke="#111" stroke-width="0.18" transform="translate(659.1 248.4) scale(0.9 1)">G2/M</text>
<text x="522.2" y="194.3" font-size="7.5" text-anchor="middle" fill="#111" font-weight="bold" stroke="#111" stroke-width="0.18" transform="rotate(-90 522.2 194.3)">Cells (%)</text>
<text x="633.6" y="154.9" font-size="7.2" text-anchor="middle" fill="#111" font-weight="bold" stroke="#111" stroke-width="0.18">TMZ</text>
<rect x="597.9" y="163.95" width="10.9" height="3.7" fill="#a3a3a3"/>
<text x="614.1" y="168.1" font-size="6.7" text-anchor="start" fill="#111" stroke="#111" stroke-width="0.18">Control</text>
<rect x="643" y="163.95" width="10.9" height="3.7" fill="#5a5a5a"/>
<text x="656.8" y="168.1" font-size="6.7" text-anchor="start" fill="#111" stroke="#111" stroke-width="0.18">10.0 μM</text>
<rect x="597.9" y="174.15" width="10.9" height="3.7" fill="#828282"/>
<text x="614.1" y="178.3" font-size="6.7" text-anchor="start" fill="#111" stroke="#111" stroke-width="0.18">50.0 μM</text>
<rect x="643" y="174.15" width="10.9" height="3.7" fill="#000"/>
<text x="656.8" y="178.3" font-size="6.7" text-anchor="start" fill="#111" stroke="#111" stroke-width="0.18">100.0 μM</text>
<text x="555.8" y="160.9" font-size="7.2" text-anchor="middle" fill="#222" stroke="#222" stroke-width="0.18">ns</text>
<path d="M561.30 167.80h1.8v1.8h-1.8zM564.30 167.80h1.8v1.8h-1.8zM567.30 167.80h1.8v1.8h-1.8zM570.30 167.80h1.8v1.8h-1.8z" fill="#3a3a3a"/>
<path d="M572.20 177.20h1.8v1.8h-1.8zM575.20 177.20h1.8v1.8h-1.8zM578.20 177.20h1.8v1.8h-1.8zM581.20 177.20h1.8v1.8h-1.8z" fill="#3a3a3a"/>
<line x1="602.2" y1="212.2" x2="616.8" y2="212.2" stroke="#777" stroke-width="0.8"/>
<text x="608.6" y="208.8" font-size="7.2" text-anchor="middle" fill="#222" stroke="#222" stroke-width="0.18">ns</text>
<path d="M624.20 206.80h1.8v1.8h-1.8z" fill="#3a3a3a"/>
<text x="653.4" y="215.5" font-size="7.2" text-anchor="middle" fill="#222" stroke="#222" stroke-width="0.18">ns</text>
<path d="M663.70 203.70h1.8v1.8h-1.8z" fill="#3a3a3a"/>
<text x="675.1" y="206.1" font-size="7.2" text-anchor="middle" fill="#222" stroke="#222" stroke-width="0.18">ns</text>
<line x1="364" y1="275.3" x2="364" y2="365" stroke="#666" stroke-width="1"/>
<line x1="361.6" y1="364.5" x2="364" y2="364.5" stroke="#666" stroke-width="0.9"/>
<text x="361" y="366.5" font-size="6.2" text-anchor="end" fill="#111" font-weight="bold" stroke="#111" stroke-width="0.18">0</text>
<line x1="361.6" y1="342.1" x2="364" y2="342.1" stroke="#666" stroke-width="0.9"/>
<text x="361" y="344.1" font-size="6.2" text-anchor="end" fill="#111" font-weight="bold" stroke="#111" stroke-width="0.18">20</text>
<line x1="361.6" y1="319.7" x2="364" y2="319.7" stroke="#666" stroke-width="0.9"/>
<text x="361" y="321.7" font-size="6.2" text-anchor="end" fill="#111" font-weight="bold" stroke="#111" stroke-width="0.18">40</text>
<line x1="361.6" y1="297.3" x2="364" y2="297.3" stroke="#666" stroke-width="0.9"/>
<text x="361" y="299.3" font-size="6.2" text-anchor="end" fill="#111" font-weight="bold" stroke="#111" stroke-width="0.18">60</text>
<line x1="361.6" y1="274.9" x2="364" y2="274.9" stroke="#666" stroke-width="0.9"/>
<text x="361" y="276.9" font-size="6.2" text-anchor="end" fill="#111" font-weight="bold" stroke="#111" stroke-width="0.18">80</text>
<line x1="363.5" y1="364.5" x2="507.6" y2="364.5" stroke="#666" stroke-width="1"/>
<rect x="373.3" y="353.86" width="13.9" height="10.64" fill="#a5a5a5"/>
<line x1="380.25" y1="353.86" x2="380.25" y2="347.92" stroke="#555" stroke-width="0.95"/>
<line x1="378.45" y1="347.92" x2="382.05" y2="347.92" stroke="#555" stroke-width="0.95"/>
<rect x="393" y="354.64" width="13.8" height="9.86" fill="#000"/>
<line x1="399.9" y1="354.64" x2="399.9" y2="353.52" stroke="#333" stroke-width="0.95"/>
<line x1="398.1" y1="353.52" x2="401.7" y2="353.52" stroke="#333" stroke-width="0.95"/>
<rect x="424" y="306.37" width="14" height="58.13" fill="#a5a5a5"/>
<line x1="431" y1="306.37" x2="431" y2="295.28" stroke="#555" stroke-width="0.95"/>
<line x1="429.2" y1="295.28" x2="432.8" y2="295.28" stroke="#555" stroke-width="0.95"/>
<rect x="443.5" y="358" width="14" height="6.5" fill="#000"/>
<line x1="450.5" y1="358" x2="450.5" y2="356.44" stroke="#333" stroke-width="0.95"/>
<line x1="448.7" y1="356.44" x2="452.3" y2="356.44" stroke="#333" stroke-width="0.95"/>
<rect x="470.7" y="295.96" width="13.5" height="68.54" fill="#a5a5a5"/>
<line x1="477.45" y1="295.96" x2="477.45" y2="287.11" stroke="#555" stroke-width="0.95"/>
<line x1="475.65" y1="287.11" x2="479.25" y2="287.11" stroke="#555" stroke-width="0.95"/>
<rect x="489.8" y="349.94" width="14" height="14.56" fill="#000"/>
<line x1="496.8" y1="349.94" x2="496.8" y2="347.59" stroke="#333" stroke-width="0.95"/>
<line x1="495" y1="347.59" x2="498.6" y2="347.59" stroke="#333" stroke-width="0.95"/>
<line x1="378.3" y1="343" x2="404.6" y2="343" stroke="#222" stroke-width="0.8"/>
<text x="392.3" y="340" font-size="7.2" text-anchor="middle" fill="#222" stroke="#222" stroke-width="0.18">ns</text>
<line x1="427" y1="290.4" x2="456" y2="290.4" stroke="#222" stroke-width="0.8"/>
<path d="M438.35 282.55h1.9v1.9h-1.9zM441.25 282.55h1.9v1.9h-1.9zM444.15 282.55h1.9v1.9h-1.9z" fill="#3a3a3a"/>
<line x1="472.3" y1="282.2" x2="501" y2="282.2" stroke="#222" stroke-width="0.8"/>
<path d="M484.15 273.75h1.9v1.9h-1.9zM487.05 273.75h1.9v1.9h-1.9zM489.95 273.75h1.9v1.9h-1.9z" fill="#3a3a3a"/>
<text x="365.6" y="379.6" font-size="6.5" text-anchor="middle" fill="#111" font-weight="bold" stroke="#111" stroke-width="0.18" transform="rotate(-11.5 365.6 379.6)">Early apoptosis</text>
<text x="416.9" y="379.6" font-size="6.5" text-anchor="middle" fill="#111" font-weight="bold" stroke="#111" stroke-width="0.18" transform="rotate(-11.5 416.9 379.6)">Late apoptosis</text>
<text x="466.5" y="379.6" font-size="6.5" text-anchor="middle" fill="#111" font-weight="bold" stroke="#111" stroke-width="0.18" transform="rotate(-11.5 466.5 379.6)">Total apoptosis</text>
<text x="348.3" y="319.6" font-size="7.5" text-anchor="middle" fill="#111" font-weight="bold" stroke="#111" stroke-width="0.18" transform="rotate(-90 348.3 319.6)">Apoptotic rate (%)</text>
<rect x="368" y="271.4" width="14" height="5.1" fill="#a5a5a5"/>
<rect x="368" y="281.9" width="14" height="5" fill="#000"/>
<text x="383.6" y="276.9" font-size="6.9" text-anchor="start" fill="#111" stroke="#111" stroke-width="0.18">4MOD 10.0 μM</text>
<text x="383.6" y="287" font-size="6.9" text-anchor="start" fill="#111" stroke="#111" stroke-width="0.18">TMZ</text>
<text x="406" y="287" font-size="6.9" text-anchor="start" fill="#111" stroke="#111" stroke-width="0.18">10.0 μM</text>
<line x1="536.5" y1="276.2" x2="536.5" y2="367.7" stroke="#666" stroke-width="1"/>
<line x1="534.1" y1="367.2" x2="536.5" y2="367.2" stroke="#666" stroke-width="0.9"/>
<text x="533.5" y="369.2" font-size="6.2" text-anchor="end" fill="#111" stroke="#111" stroke-width="0.18">0</text>
<line x1="534.1" y1="344.46" x2="536.5" y2="344.46" stroke="#666" stroke-width="0.9"/>
<text x="533.5" y="346.46" font-size="6.2" text-anchor="end" fill="#111" stroke="#111" stroke-width="0.18">20</text>
<line x1="534.1" y1="321.72" x2="536.5" y2="321.72" stroke="#666" stroke-width="0.9"/>
<text x="533.5" y="323.72" font-size="6.2" text-anchor="end" fill="#111" stroke="#111" stroke-width="0.18">40</text>
<line x1="534.1" y1="298.98" x2="536.5" y2="298.98" stroke="#666" stroke-width="0.9"/>
<text x="533.5" y="300.98" font-size="6.2" text-anchor="end" fill="#111" stroke="#111" stroke-width="0.18">60</text>
<line x1="534.1" y1="276.24" x2="536.5" y2="276.24" stroke="#666" stroke-width="0.9"/>
<text x="533.5" y="278.24" font-size="6.2" text-anchor="end" fill="#111" stroke="#111" stroke-width="0.18">80</text>
<line x1="536" y1="367.2" x2="683.3" y2="367.2" stroke="#666" stroke-width="1"/>
<rect x="545.2" y="323.43" width="13" height="43.77" fill="#a5a5a5"/>
<line x1="551.7" y1="323.43" x2="551.7" y2="316.38" stroke="#555" stroke-width="0.95"/>
<line x1="549.9" y1="316.38" x2="553.5" y2="316.38" stroke="#555" stroke-width="0.95"/>
<rect x="563.3" y="284.88" width="13.3" height="82.32" fill="#000"/>
<line x1="569.95" y1="284.88" x2="569.95" y2="280.22" stroke="#333" stroke-width="0.95"/>
<line x1="568.15" y1="280.22" x2="571.75" y2="280.22" stroke="#333" stroke-width="0.95"/>
<rect x="594.1" y="356.97" width="12.9" height="10.23" fill="#a5a5a5"/>
<line x1="600.55" y1="356.97" x2="600.55" y2="354.24" stroke="#555" stroke-width="0.95"/>
<line x1="598.75" y1="354.24" x2="602.35" y2="354.24" stroke="#555" stroke-width="0.95"/>
<rect x="613.1" y="352.87" width="12" height="14.33" fill="#000"/>
<line x1="619.1" y1="352.87" x2="619.1" y2="348.44" stroke="#333" stroke-width="0.95"/>
<line x1="617.3" y1="348.44" x2="620.9" y2="348.44" stroke="#333" stroke-width="0.95"/>
<rect x="642.6" y="316.94" width="13.6" height="50.26" fill="#a5a5a5"/>
<line x1="649.4" y1="316.94" x2="649.4" y2="310.12" stroke="#555" stroke-width="0.95"/>
<line x1="647.6" y1="310.12" x2="651.2" y2="310.12" stroke="#555" stroke-width="0.95"/>
<rect x="660.6" y="350.14" width="13.2" height="17.05" fill="#000"/>
<line x1="667.2" y1="350.14" x2="667.2" y2="345.03" stroke="#333" stroke-width="0.95"/>
<line x1="665.4" y1="345.03" x2="669" y2="345.03" stroke="#333" stroke-width="0.95"/>
<line x1="544.2" y1="276.4" x2="571.4" y2="276.4" stroke="#222" stroke-width="0.8"/>
<path d="M553.55 268.55h1.9v1.9h-1.9zM556.45 268.55h1.9v1.9h-1.9zM559.35 268.55h1.9v1.9h-1.9z" fill="#3a3a3a"/>
<line x1="595.1" y1="344.9" x2="625.6" y2="344.9" stroke="#222" stroke-width="0.8"/>
<text x="610.4" y="339.2" font-size="7.2" text-anchor="middle" fill="#222" stroke="#222" stroke-width="0.18">ns</text>
<line x1="646" y1="303.5" x2="670.8" y2="303.5" stroke="#222" stroke-width="0.8"/>
<path d="M658.90 296.45h1.9v1.9h-1.9zM661.80 296.45h1.9v1.9h-1.9z" fill="#3a3a3a"/>
<text x="0" y="0" font-size="6.9" text-anchor="middle" fill="#111" font-weight="bold" stroke="#111" stroke-width="0.18" transform="translate(560.2 375.2) scale(0.9 1)">G0/G1</text>
<text x="0" y="0" font-size="6.9" text-anchor="middle" fill="#111" font-weight="bold" stroke="#111" stroke-width="0.18" transform="translate(609.7 375.2) scale(0.9 1)">S</text>
<text x="0" y="0" font-size="6.9" text-anchor="middle" fill="#111" font-weight="bold" stroke="#111" stroke-width="0.18" transform="translate(658.4 375.2) scale(0.9 1)">G2/M</text>
<text x="522.8" y="314.5" font-size="7.5" text-anchor="middle" fill="#111" font-weight="bold" stroke="#111" stroke-width="0.18" transform="rotate(-90 522.8 314.5)">Cells (%)</text>
<rect x="618.2" y="271.3" width="12.8" height="4.9" fill="#a5a5a5"/>
<rect x="618.2" y="281.5" width="12.8" height="5.1" fill="#000"/>
<text x="633" y="276.6" font-size="6.7" text-anchor="start" fill="#111" stroke="#111" stroke-width="0.18">4MOD 10.0 μM</text>
<text x="633" y="286.6" font-size="6.7" text-anchor="start" fill="#111" stroke="#111" stroke-width="0.18">TMZ</text>
<text x="654.4" y="286.6" font-size="6.7" text-anchor="start" fill="#111" stroke="#111" stroke-width="0.18">10.0 μM</text>
<text x="-0.2" y="10.8" font-size="19.8" text-anchor="start" fill="#000">a</text>
<text x="336.5" y="14.8" font-size="19.8" text-anchor="start" fill="#000">b</text>
<text x="509.2" y="13.4" font-size="19.8" text-anchor="start" fill="#000">c</text>
<text x="-0.9" y="206.6" font-size="19.8" text-anchor="start" fill="#000">d</text>
<text x="336.5" y="144.9" font-size="19.8" text-anchor="start" fill="#000">e</text>
<text x="510" y="146.3" font-size="19.8" text-anchor="start" fill="#000">f</text>
<text x="337.1" y="262.9" font-size="19.8" text-anchor="start" fill="#000">g</text>
<text x="509.3" y="266.7" font-size="19.8" text-anchor="start" fill="#000">h</text>
</svg>
</body></html>
